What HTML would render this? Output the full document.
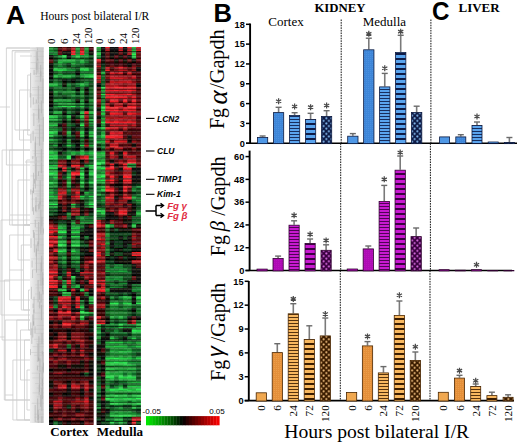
<!DOCTYPE html>
<html><head><meta charset="utf-8"><style>html,body{margin:0;padding:0;background:#fff;width:520px;height:446px;overflow:hidden}svg{display:block}</style></head>
<body><svg width="520" height="446" viewBox="0 0 520 446">
<defs><pattern id="b1" width="2" height="2" patternUnits="userSpaceOnUse"><rect width="2" height="2" fill="#3f86d8"/><rect width="1" height="1" fill="#5aa4ee" opacity="0.35"/></pattern><pattern id="b2" width="4" height="3" patternUnits="userSpaceOnUse"><rect width="4" height="3" fill="#5aa4ee"/><rect y="2" width="4" height="1" fill="#0d1a45" opacity="0.85"/></pattern><pattern id="b3" width="4" height="5" patternUnits="userSpaceOnUse"><rect width="4" height="5" fill="#5aa4ee"/><rect y="3" width="4" height="2" fill="#0d1a45"/></pattern><pattern id="b4" width="5.2" height="5.2" patternUnits="userSpaceOnUse"><rect width="5.2" height="5.2" fill="#0d1a45"/><circle cx="1.3" cy="1.3" r="1.0" fill="#8cc4fa"/><circle cx="3.9" cy="3.9" r="1.0" fill="#8cc4fa"/></pattern><pattern id="p1" width="2" height="2" patternUnits="userSpaceOnUse"><rect width="2" height="2" fill="#ae0cb4"/><rect width="1" height="1" fill="#c81ad0" opacity="0.35"/></pattern><pattern id="p2" width="4" height="3" patternUnits="userSpaceOnUse"><rect width="4" height="3" fill="#c81ad0"/><rect y="2" width="4" height="1" fill="#3a0040" opacity="0.85"/></pattern><pattern id="p3" width="4" height="5" patternUnits="userSpaceOnUse"><rect width="4" height="5" fill="#c81ad0"/><rect y="3" width="4" height="2" fill="#3a0040"/></pattern><pattern id="p4" width="5.2" height="5.2" patternUnits="userSpaceOnUse"><rect width="5.2" height="5.2" fill="#3a0040"/><circle cx="1.3" cy="1.3" r="1.0" fill="#e070e8"/><circle cx="3.9" cy="3.9" r="1.0" fill="#e070e8"/></pattern><pattern id="o1" width="2" height="2" patternUnits="userSpaceOnUse"><rect width="2" height="2" fill="#e48f3a"/><rect width="1" height="1" fill="#f8b860" opacity="0.35"/></pattern><pattern id="o2" width="4" height="3" patternUnits="userSpaceOnUse"><rect width="4" height="3" fill="#f8b860"/><rect y="2" width="4" height="1" fill="#3a1c00" opacity="0.85"/></pattern><pattern id="o3" width="4" height="5" patternUnits="userSpaceOnUse"><rect width="4" height="5" fill="#f8b860"/><rect y="3" width="4" height="2" fill="#3a1c00"/></pattern><pattern id="o4" width="5.2" height="5.2" patternUnits="userSpaceOnUse"><rect width="5.2" height="5.2" fill="#3a1c00"/><circle cx="1.3" cy="1.3" r="1.0" fill="#fcc886"/><circle cx="3.9" cy="3.9" r="1.0" fill="#fcc886"/></pattern><filter id="hb" x="0" y="0" width="1" height="1"><feGaussianBlur stdDeviation="0.55"/></filter></defs>
<rect width="520" height="446" fill="#fff"/>
<g filter="url(#hb)">
<g class="hm" transform="translate(49.0 47.0) scale(4.4200 1.3397)">
<rect x="0" y="0" width="1.1" height="1.15" fill="#146f26"/>
<rect x="0" y="1" width="1.1" height="1.15" fill="#1da137"/>
<rect x="0" y="2" width="1.1" height="1.15" fill="#146f26"/>
<rect x="1" y="0" width="1.1" height="1.15" fill="#093f16"/>
<rect x="1" y="1" width="1.1" height="1.15" fill="#127429"/>
<rect x="1" y="2" width="1.1" height="1.15" fill="#0c511d"/>
<rect x="2" y="0" width="1.1" height="1.15" fill="#300405"/>
<rect x="2" y="1" width="1.1" height="1.15" fill="#57080a"/>
<rect x="2" y="2" width="1.1" height="1.15" fill="#3e0607"/>
<rect x="3" y="0" width="1.1" height="1.15" fill="#650b0f"/>
<rect x="3" y="1" width="1.1" height="1.15" fill="#830f13"/>
<rect x="3" y="2" width="1.1" height="1.15" fill="#720d10"/>
<rect x="4" y="0" width="1.1" height="1.15" fill="#2f0405"/>
<rect x="4" y="1" width="1.1" height="1.15" fill="#4e0709"/>
<rect x="4" y="2" width="1.1" height="1.15" fill="#450608"/>
<rect x="5" y="0" width="1.1" height="1.15" fill="#821115"/>
<rect x="5" y="1" width="1.1" height="1.15" fill="#c71a20"/>
<rect x="5" y="2" width="1.1" height="1.15" fill="#a1151a"/>
<rect x="6" y="0" width="1.1" height="1.15" fill="#115e20"/>
<rect x="6" y="1" width="1.1" height="1.15" fill="#1fa739"/>
<rect x="6" y="2" width="1.1" height="1.15" fill="#18842d"/>
<rect x="7" y="0" width="1.1" height="1.15" fill="#790f13"/>
<rect x="7" y="1" width="1.1" height="1.15" fill="#9f141a"/>
<rect x="7" y="2" width="1.1" height="1.15" fill="#aa161b"/>
<rect x="8" y="0" width="1.1" height="1.15" fill="#136b24"/>
<rect x="8" y="1" width="1.1" height="1.15" fill="#1ea538"/>
<rect x="8" y="2" width="1.1" height="1.15" fill="#1a8f30"/>
<rect x="9" y="0" width="1.1" height="1.15" fill="#380506"/>
<rect x="9" y="1" width="1.1" height="1.15" fill="#55080a"/>
<rect x="9" y="2" width="1.1" height="1.15" fill="#3c0607"/>
<rect x="0" y="3" width="1.1" height="1.15" fill="#179434"/>
<rect x="0" y="4" width="1.1" height="1.15" fill="#0d541e"/>
<rect x="0" y="5" width="1.1" height="1.15" fill="#14832e"/>
<rect x="1" y="3" width="1.1" height="1.15" fill="#13792b"/>
<rect x="1" y="4" width="1.1" height="1.15" fill="#116d26"/>
<rect x="1" y="5" width="1.1" height="1.15" fill="#169033"/>
<rect x="2" y="3" width="1.1" height="1.15" fill="#62090b"/>
<rect x="2" y="4" width="1.1" height="1.15" fill="#400607"/>
<rect x="2" y="5" width="1.1" height="1.15" fill="#690a0c"/>
<rect x="3" y="3" width="1.1" height="1.15" fill="#0c0c09"/>
<rect x="3" y="4" width="1.1" height="1.15" fill="#090906"/>
<rect x="3" y="5" width="1.1" height="1.15" fill="#0f0f0a"/>
<rect x="4" y="3" width="1.1" height="1.15" fill="#0d0d09"/>
<rect x="4" y="4" width="1.1" height="1.15" fill="#0a0a07"/>
<rect x="4" y="5" width="1.1" height="1.15" fill="#0f0f0b"/>
<rect x="5" y="3" width="1.1" height="1.15" fill="#ff222a"/>
<rect x="5" y="4" width="1.1" height="1.15" fill="#b9181e"/>
<rect x="5" y="5" width="1.1" height="1.15" fill="#ff2630"/>
<rect x="6" y="3" width="1.1" height="1.15" fill="#158b31"/>
<rect x="6" y="4" width="1.1" height="1.15" fill="#0d561e"/>
<rect x="6" y="5" width="1.1" height="1.15" fill="#19a33a"/>
<rect x="7" y="3" width="1.1" height="1.15" fill="#ff222b"/>
<rect x="7" y="4" width="1.1" height="1.15" fill="#bb181e"/>
<rect x="7" y="5" width="1.1" height="1.15" fill="#ff222a"/>
<rect x="8" y="3" width="1.1" height="1.15" fill="#168d32"/>
<rect x="8" y="4" width="1.1" height="1.15" fill="#0d571f"/>
<rect x="8" y="5" width="1.1" height="1.15" fill="#19a139"/>
<rect x="9" y="3" width="1.1" height="1.15" fill="#0d0d09"/>
<rect x="9" y="4" width="1.1" height="1.15" fill="#080806"/>
<rect x="9" y="5" width="1.1" height="1.15" fill="#0c0c09"/>
<rect x="0" y="6" width="1.1" height="1.15" fill="#0f0f0a"/>
<rect x="0" y="7" width="1.1" height="1.15" fill="#0e0e0a"/>
<rect x="0" y="8" width="1.1" height="1.15" fill="#050503"/>
<rect x="1" y="6" width="1.1" height="1.15" fill="#0b481a"/>
<rect x="1" y="7" width="1.1" height="1.15" fill="#0e5c21"/>
<rect x="1" y="8" width="1.1" height="1.15" fill="#05240c"/>
<rect x="2" y="6" width="1.1" height="1.15" fill="#12772a"/>
<rect x="2" y="7" width="1.1" height="1.15" fill="#189e38"/>
<rect x="2" y="8" width="1.1" height="1.15" fill="#073211"/>
<rect x="3" y="6" width="1.1" height="1.15" fill="#28d849"/>
<rect x="3" y="7" width="1.1" height="1.15" fill="#27d448"/>
<rect x="3" y="8" width="1.1" height="1.15" fill="#115f20"/>
<rect x="4" y="6" width="1.1" height="1.15" fill="#0f0f0b"/>
<rect x="4" y="7" width="1.1" height="1.15" fill="#0f0f0a"/>
<rect x="4" y="8" width="1.1" height="1.15" fill="#060604"/>
<rect x="5" y="6" width="1.1" height="1.15" fill="#14822e"/>
<rect x="5" y="7" width="1.1" height="1.15" fill="#14852f"/>
<rect x="5" y="8" width="1.1" height="1.15" fill="#093c15"/>
<rect x="6" y="6" width="1.1" height="1.15" fill="#20ae3b"/>
<rect x="6" y="7" width="1.1" height="1.15" fill="#25cb45"/>
<rect x="6" y="8" width="1.1" height="1.15" fill="#0f531c"/>
<rect x="7" y="6" width="1.1" height="1.15" fill="#168f33"/>
<rect x="7" y="7" width="1.1" height="1.15" fill="#158930"/>
<rect x="7" y="8" width="1.1" height="1.15" fill="#073211"/>
<rect x="8" y="6" width="1.1" height="1.15" fill="#189936"/>
<rect x="8" y="7" width="1.1" height="1.15" fill="#169033"/>
<rect x="8" y="8" width="1.1" height="1.15" fill="#0a4217"/>
<rect x="9" y="6" width="1.1" height="1.15" fill="#0d561f"/>
<rect x="9" y="7" width="1.1" height="1.15" fill="#0c521d"/>
<rect x="9" y="8" width="1.1" height="1.15" fill="#04200b"/>
<rect x="0" y="9" width="1.1" height="1.15" fill="#4b0709"/>
<rect x="0" y="10" width="1.1" height="1.15" fill="#56080a"/>
<rect x="0" y="11" width="1.1" height="1.15" fill="#5a090a"/>
<rect x="1" y="9" width="1.1" height="1.15" fill="#083914"/>
<rect x="1" y="10" width="1.1" height="1.15" fill="#093f16"/>
<rect x="1" y="11" width="1.1" height="1.15" fill="#0a4217"/>
<rect x="2" y="9" width="1.1" height="1.15" fill="#198b2f"/>
<rect x="2" y="10" width="1.1" height="1.15" fill="#1da036"/>
<rect x="2" y="11" width="1.1" height="1.15" fill="#22ba3f"/>
<rect x="3" y="9" width="1.1" height="1.15" fill="#1c9834"/>
<rect x="3" y="10" width="1.1" height="1.15" fill="#20ad3b"/>
<rect x="3" y="11" width="1.1" height="1.15" fill="#198b2f"/>
<rect x="4" y="9" width="1.1" height="1.15" fill="#1b9332"/>
<rect x="4" y="10" width="1.1" height="1.15" fill="#20ae3b"/>
<rect x="4" y="11" width="1.1" height="1.15" fill="#198b2f"/>
<rect x="5" y="9" width="1.1" height="1.15" fill="#1d9c35"/>
<rect x="5" y="10" width="1.1" height="1.15" fill="#20b13c"/>
<rect x="5" y="11" width="1.1" height="1.15" fill="#1a8d30"/>
<rect x="6" y="9" width="1.1" height="1.15" fill="#106b26"/>
<rect x="6" y="10" width="1.1" height="1.15" fill="#127329"/>
<rect x="6" y="11" width="1.1" height="1.15" fill="#127529"/>
<rect x="7" y="9" width="1.1" height="1.15" fill="#1a9131"/>
<rect x="7" y="10" width="1.1" height="1.15" fill="#21b53d"/>
<rect x="7" y="11" width="1.1" height="1.15" fill="#20ae3b"/>
<rect x="8" y="9" width="1.1" height="1.15" fill="#0d581f"/>
<rect x="8" y="10" width="1.1" height="1.15" fill="#0f6524"/>
<rect x="8" y="11" width="1.1" height="1.15" fill="#127529"/>
<rect x="9" y="9" width="1.1" height="1.15" fill="#0a4117"/>
<rect x="9" y="10" width="1.1" height="1.15" fill="#093c15"/>
<rect x="9" y="11" width="1.1" height="1.15" fill="#093d16"/>
<rect x="0" y="12" width="1.1" height="1.15" fill="#0a0a07"/>
<rect x="0" y="13" width="1.1" height="1.15" fill="#070705"/>
<rect x="0" y="14" width="1.1" height="1.15" fill="#080806"/>
<rect x="1" y="12" width="1.1" height="1.15" fill="#106825"/>
<rect x="1" y="13" width="1.1" height="1.15" fill="#0c4f1c"/>
<rect x="1" y="14" width="1.1" height="1.15" fill="#0e5e21"/>
<rect x="2" y="12" width="1.1" height="1.15" fill="#198b2f"/>
<rect x="2" y="13" width="1.1" height="1.15" fill="#167b2a"/>
<rect x="2" y="14" width="1.1" height="1.15" fill="#19882e"/>
<rect x="3" y="12" width="1.1" height="1.15" fill="#106825"/>
<rect x="3" y="13" width="1.1" height="1.15" fill="#0b4b1b"/>
<rect x="3" y="14" width="1.1" height="1.15" fill="#0e5f21"/>
<rect x="4" y="12" width="1.1" height="1.15" fill="#083914"/>
<rect x="4" y="13" width="1.1" height="1.15" fill="#06290e"/>
<rect x="4" y="14" width="1.1" height="1.15" fill="#072f11"/>
<rect x="5" y="12" width="1.1" height="1.15" fill="#1fac3a"/>
<rect x="5" y="13" width="1.1" height="1.15" fill="#136a24"/>
<rect x="5" y="14" width="1.1" height="1.15" fill="#167829"/>
<rect x="6" y="12" width="1.1" height="1.15" fill="#106925"/>
<rect x="6" y="13" width="1.1" height="1.15" fill="#0e5a20"/>
<rect x="6" y="14" width="1.1" height="1.15" fill="#0d551e"/>
<rect x="7" y="12" width="1.1" height="1.15" fill="#137b2b"/>
<rect x="7" y="13" width="1.1" height="1.15" fill="#0b4a1a"/>
<rect x="7" y="14" width="1.1" height="1.15" fill="#0d521d"/>
<rect x="8" y="12" width="1.1" height="1.15" fill="#094017"/>
<rect x="8" y="13" width="1.1" height="1.15" fill="#073312"/>
<rect x="8" y="14" width="1.1" height="1.15" fill="#072f11"/>
<rect x="9" y="12" width="1.1" height="1.15" fill="#083814"/>
<rect x="9" y="13" width="1.1" height="1.15" fill="#06280e"/>
<rect x="9" y="14" width="1.1" height="1.15" fill="#073111"/>
<rect x="0" y="15" width="1.1" height="1.15" fill="#060604"/>
<rect x="0" y="16" width="1.1" height="1.15" fill="#0c0c08"/>
<rect x="0" y="17" width="1.1" height="1.15" fill="#0e0e0a"/>
<rect x="1" y="15" width="1.1" height="1.15" fill="#136923"/>
<rect x="1" y="16" width="1.1" height="1.15" fill="#27d548"/>
<rect x="1" y="17" width="1.1" height="1.15" fill="#23bf41"/>
<rect x="2" y="15" width="1.1" height="1.15" fill="#10591e"/>
<rect x="2" y="16" width="1.1" height="1.15" fill="#22b73e"/>
<rect x="2" y="17" width="1.1" height="1.15" fill="#28da4a"/>
<rect x="3" y="15" width="1.1" height="1.15" fill="#115e20"/>
<rect x="3" y="16" width="1.1" height="1.15" fill="#22ba3f"/>
<rect x="3" y="17" width="1.1" height="1.15" fill="#24c342"/>
<rect x="4" y="15" width="1.1" height="1.15" fill="#0a4318"/>
<rect x="4" y="16" width="1.1" height="1.15" fill="#14822e"/>
<rect x="4" y="17" width="1.1" height="1.15" fill="#189a37"/>
<rect x="5" y="15" width="1.1" height="1.15" fill="#093d16"/>
<rect x="5" y="16" width="1.1" height="1.15" fill="#117128"/>
<rect x="5" y="17" width="1.1" height="1.15" fill="#189b37"/>
<rect x="6" y="15" width="1.1" height="1.15" fill="#062a0f"/>
<rect x="6" y="16" width="1.1" height="1.15" fill="#0d551e"/>
<rect x="6" y="17" width="1.1" height="1.15" fill="#0b4a1a"/>
<rect x="7" y="15" width="1.1" height="1.15" fill="#157227"/>
<rect x="7" y="16" width="1.1" height="1.15" fill="#28dc4b"/>
<rect x="7" y="17" width="1.1" height="1.15" fill="#22b73e"/>
<rect x="8" y="15" width="1.1" height="1.15" fill="#146c25"/>
<rect x="8" y="16" width="1.1" height="1.15" fill="#27d749"/>
<rect x="8" y="17" width="1.1" height="1.15" fill="#27d247"/>
<rect x="9" y="15" width="1.1" height="1.15" fill="#0a4518"/>
<rect x="9" y="16" width="1.1" height="1.15" fill="#137d2c"/>
<rect x="9" y="17" width="1.1" height="1.15" fill="#14822e"/>
<rect x="0" y="18" width="1.1" height="1.15" fill="#060604"/>
<rect x="0" y="19" width="1.1" height="1.15" fill="#060604"/>
<rect x="0" y="20" width="1.1" height="1.15" fill="#090906"/>
<rect x="1" y="18" width="1.1" height="1.15" fill="#0c511d"/>
<rect x="1" y="19" width="1.1" height="1.15" fill="#093b15"/>
<rect x="1" y="20" width="1.1" height="1.15" fill="#137c2c"/>
<rect x="2" y="18" width="1.1" height="1.15" fill="#167728"/>
<rect x="2" y="19" width="1.1" height="1.15" fill="#115c1f"/>
<rect x="2" y="20" width="1.1" height="1.15" fill="#1ea638"/>
<rect x="3" y="18" width="1.1" height="1.15" fill="#093e16"/>
<rect x="3" y="19" width="1.1" height="1.15" fill="#093c15"/>
<rect x="3" y="20" width="1.1" height="1.15" fill="#0f6323"/>
<rect x="4" y="18" width="1.1" height="1.15" fill="#0a4418"/>
<rect x="4" y="19" width="1.1" height="1.15" fill="#093a15"/>
<rect x="4" y="20" width="1.1" height="1.15" fill="#116f27"/>
<rect x="5" y="18" width="1.1" height="1.15" fill="#0b4619"/>
<rect x="5" y="19" width="1.1" height="1.15" fill="#093f16"/>
<rect x="5" y="20" width="1.1" height="1.15" fill="#117228"/>
<rect x="6" y="18" width="1.1" height="1.15" fill="#060604"/>
<rect x="6" y="19" width="1.1" height="1.15" fill="#050503"/>
<rect x="6" y="20" width="1.1" height="1.15" fill="#0c0c08"/>
<rect x="7" y="18" width="1.1" height="1.15" fill="#136924"/>
<rect x="7" y="19" width="1.1" height="1.15" fill="#10591e"/>
<rect x="7" y="20" width="1.1" height="1.15" fill="#1c9b34"/>
<rect x="8" y="18" width="1.1" height="1.15" fill="#116121"/>
<rect x="8" y="19" width="1.1" height="1.15" fill="#0f531c"/>
<rect x="8" y="20" width="1.1" height="1.15" fill="#20b13c"/>
<rect x="9" y="18" width="1.1" height="1.15" fill="#116020"/>
<rect x="9" y="19" width="1.1" height="1.15" fill="#10591e"/>
<rect x="9" y="20" width="1.1" height="1.15" fill="#21b63e"/>
<rect x="0" y="21" width="1.1" height="1.15" fill="#0d0d09"/>
<rect x="0" y="22" width="1.1" height="1.15" fill="#0f0f0a"/>
<rect x="0" y="23" width="1.1" height="1.15" fill="#040403"/>
<rect x="1" y="21" width="1.1" height="1.15" fill="#21b63e"/>
<rect x="1" y="22" width="1.1" height="1.15" fill="#22b83f"/>
<rect x="1" y="23" width="1.1" height="1.15" fill="#0d4919"/>
<rect x="2" y="21" width="1.1" height="1.15" fill="#14822e"/>
<rect x="2" y="22" width="1.1" height="1.15" fill="#15862f"/>
<rect x="2" y="23" width="1.1" height="1.15" fill="#083513"/>
<rect x="3" y="21" width="1.1" height="1.15" fill="#1ea638"/>
<rect x="3" y="22" width="1.1" height="1.15" fill="#1fab3a"/>
<rect x="3" y="23" width="1.1" height="1.15" fill="#0c4016"/>
<rect x="4" y="21" width="1.1" height="1.15" fill="#20ad3b"/>
<rect x="4" y="22" width="1.1" height="1.15" fill="#20ac3a"/>
<rect x="4" y="23" width="1.1" height="1.15" fill="#0f531c"/>
<rect x="5" y="21" width="1.1" height="1.15" fill="#179334"/>
<rect x="5" y="22" width="1.1" height="1.15" fill="#12762a"/>
<rect x="5" y="23" width="1.1" height="1.15" fill="#073111"/>
<rect x="6" y="21" width="1.1" height="1.15" fill="#0a4619"/>
<rect x="6" y="22" width="1.1" height="1.15" fill="#0a4719"/>
<rect x="6" y="23" width="1.1" height="1.15" fill="#041a09"/>
<rect x="7" y="21" width="1.1" height="1.15" fill="#158b31"/>
<rect x="7" y="22" width="1.1" height="1.15" fill="#158a31"/>
<rect x="7" y="23" width="1.1" height="1.15" fill="#072f11"/>
<rect x="8" y="21" width="1.1" height="1.15" fill="#20b13c"/>
<rect x="8" y="22" width="1.1" height="1.15" fill="#22bc40"/>
<rect x="8" y="23" width="1.1" height="1.15" fill="#0b4016"/>
<rect x="9" y="21" width="1.1" height="1.15" fill="#24c643"/>
<rect x="9" y="22" width="1.1" height="1.15" fill="#27d348"/>
<rect x="9" y="23" width="1.1" height="1.15" fill="#0d4617"/>
<rect x="0" y="24" width="1.1" height="1.15" fill="#05200b"/>
<rect x="0" y="25" width="1.1" height="1.15" fill="#06280e"/>
<rect x="0" y="26" width="1.1" height="1.15" fill="#072f11"/>
<rect x="1" y="24" width="1.1" height="1.15" fill="#105b1f"/>
<rect x="1" y="25" width="1.1" height="1.15" fill="#136623"/>
<rect x="1" y="26" width="1.1" height="1.15" fill="#177e2b"/>
<rect x="2" y="24" width="1.1" height="1.15" fill="#083713"/>
<rect x="2" y="25" width="1.1" height="1.15" fill="#0a4318"/>
<rect x="2" y="26" width="1.1" height="1.15" fill="#0e5d21"/>
<rect x="3" y="24" width="1.1" height="1.15" fill="#050504"/>
<rect x="3" y="25" width="1.1" height="1.15" fill="#070705"/>
<rect x="3" y="26" width="1.1" height="1.15" fill="#080806"/>
<rect x="4" y="24" width="1.1" height="1.15" fill="#041d0a"/>
<rect x="4" y="25" width="1.1" height="1.15" fill="#05260d"/>
<rect x="4" y="26" width="1.1" height="1.15" fill="#083412"/>
<rect x="5" y="24" width="1.1" height="1.15" fill="#050503"/>
<rect x="5" y="25" width="1.1" height="1.15" fill="#060604"/>
<rect x="5" y="26" width="1.1" height="1.15" fill="#080806"/>
<rect x="6" y="24" width="1.1" height="1.15" fill="#05230c"/>
<rect x="6" y="25" width="1.1" height="1.15" fill="#062a0f"/>
<rect x="6" y="26" width="1.1" height="1.15" fill="#072f10"/>
<rect x="7" y="24" width="1.1" height="1.15" fill="#0a4016"/>
<rect x="7" y="25" width="1.1" height="1.15" fill="#0b491a"/>
<rect x="7" y="26" width="1.1" height="1.15" fill="#0c511d"/>
<rect x="8" y="24" width="1.1" height="1.15" fill="#0f531c"/>
<rect x="8" y="25" width="1.1" height="1.15" fill="#10571e"/>
<rect x="8" y="26" width="1.1" height="1.15" fill="#1a8d30"/>
<rect x="9" y="24" width="1.1" height="1.15" fill="#093c15"/>
<rect x="9" y="25" width="1.1" height="1.15" fill="#0b4b1b"/>
<rect x="9" y="26" width="1.1" height="1.15" fill="#0f5f22"/>
<rect x="0" y="27" width="1.1" height="1.15" fill="#1c9934"/>
<rect x="0" y="28" width="1.1" height="1.15" fill="#23bd40"/>
<rect x="0" y="29" width="1.1" height="1.15" fill="#19862e"/>
<rect x="1" y="27" width="1.1" height="1.15" fill="#1c9b35"/>
<rect x="1" y="28" width="1.1" height="1.15" fill="#25c744"/>
<rect x="1" y="29" width="1.1" height="1.15" fill="#19882e"/>
<rect x="2" y="27" width="1.1" height="1.15" fill="#106825"/>
<rect x="2" y="28" width="1.1" height="1.15" fill="#116e27"/>
<rect x="2" y="29" width="1.1" height="1.15" fill="#12782b"/>
<rect x="3" y="27" width="1.1" height="1.15" fill="#0a0a07"/>
<rect x="3" y="28" width="1.1" height="1.15" fill="#0a0a07"/>
<rect x="3" y="29" width="1.1" height="1.15" fill="#0b0b08"/>
<rect x="4" y="27" width="1.1" height="1.15" fill="#106925"/>
<rect x="4" y="28" width="1.1" height="1.15" fill="#158b31"/>
<rect x="4" y="29" width="1.1" height="1.15" fill="#117128"/>
<rect x="5" y="27" width="1.1" height="1.15" fill="#0b491a"/>
<rect x="5" y="28" width="1.1" height="1.15" fill="#0c4f1c"/>
<rect x="5" y="29" width="1.1" height="1.15" fill="#093d16"/>
<rect x="6" y="27" width="1.1" height="1.15" fill="#14812e"/>
<rect x="6" y="28" width="1.1" height="1.15" fill="#116c26"/>
<rect x="6" y="29" width="1.1" height="1.15" fill="#127429"/>
<rect x="7" y="27" width="1.1" height="1.15" fill="#20ae3b"/>
<rect x="7" y="28" width="1.1" height="1.15" fill="#24c443"/>
<rect x="7" y="29" width="1.1" height="1.15" fill="#198b2f"/>
<rect x="8" y="27" width="1.1" height="1.15" fill="#147f2d"/>
<rect x="8" y="28" width="1.1" height="1.15" fill="#168e32"/>
<rect x="8" y="29" width="1.1" height="1.15" fill="#0e5d21"/>
<rect x="9" y="27" width="1.1" height="1.15" fill="#093e16"/>
<rect x="9" y="28" width="1.1" height="1.15" fill="#0b4719"/>
<rect x="9" y="29" width="1.1" height="1.15" fill="#0a4217"/>
<rect x="0" y="30" width="1.1" height="1.15" fill="#062a0f"/>
<rect x="0" y="31" width="1.1" height="1.15" fill="#06280e"/>
<rect x="0" y="32" width="1.1" height="1.15" fill="#06280e"/>
<rect x="1" y="30" width="1.1" height="1.15" fill="#136823"/>
<rect x="1" y="31" width="1.1" height="1.15" fill="#116020"/>
<rect x="1" y="32" width="1.1" height="1.15" fill="#136923"/>
<rect x="2" y="30" width="1.1" height="1.15" fill="#136a24"/>
<rect x="2" y="31" width="1.1" height="1.15" fill="#10561d"/>
<rect x="2" y="32" width="1.1" height="1.15" fill="#146e25"/>
<rect x="3" y="30" width="1.1" height="1.15" fill="#0d541e"/>
<rect x="3" y="31" width="1.1" height="1.15" fill="#0a4217"/>
<rect x="3" y="32" width="1.1" height="1.15" fill="#0c501c"/>
<rect x="4" y="30" width="1.1" height="1.15" fill="#126121"/>
<rect x="4" y="31" width="1.1" height="1.15" fill="#136923"/>
<rect x="4" y="32" width="1.1" height="1.15" fill="#157628"/>
<rect x="5" y="30" width="1.1" height="1.15" fill="#0c4e1b"/>
<rect x="5" y="31" width="1.1" height="1.15" fill="#0a4418"/>
<rect x="5" y="32" width="1.1" height="1.15" fill="#0b4a1a"/>
<rect x="6" y="30" width="1.1" height="1.15" fill="#070705"/>
<rect x="6" y="31" width="1.1" height="1.15" fill="#070705"/>
<rect x="6" y="32" width="1.1" height="1.15" fill="#060604"/>
<rect x="7" y="30" width="1.1" height="1.15" fill="#115f20"/>
<rect x="7" y="31" width="1.1" height="1.15" fill="#136a24"/>
<rect x="7" y="32" width="1.1" height="1.15" fill="#167b2a"/>
<rect x="8" y="30" width="1.1" height="1.15" fill="#070705"/>
<rect x="8" y="31" width="1.1" height="1.15" fill="#060604"/>
<rect x="8" y="32" width="1.1" height="1.15" fill="#080805"/>
<rect x="9" y="30" width="1.1" height="1.15" fill="#126221"/>
<rect x="9" y="31" width="1.1" height="1.15" fill="#115c1f"/>
<rect x="9" y="32" width="1.1" height="1.15" fill="#126422"/>
<rect x="0" y="33" width="1.1" height="1.15" fill="#0b0b08"/>
<rect x="0" y="34" width="1.1" height="1.15" fill="#090906"/>
<rect x="0" y="35" width="1.1" height="1.15" fill="#060604"/>
<rect x="1" y="33" width="1.1" height="1.15" fill="#1fab3a"/>
<rect x="1" y="34" width="1.1" height="1.15" fill="#157527"/>
<rect x="1" y="35" width="1.1" height="1.15" fill="#167628"/>
<rect x="2" y="33" width="1.1" height="1.15" fill="#117128"/>
<rect x="2" y="34" width="1.1" height="1.15" fill="#0b4c1b"/>
<rect x="2" y="35" width="1.1" height="1.15" fill="#0a4317"/>
<rect x="3" y="33" width="1.1" height="1.15" fill="#198a2f"/>
<rect x="3" y="34" width="1.1" height="1.15" fill="#167728"/>
<rect x="3" y="35" width="1.1" height="1.15" fill="#136723"/>
<rect x="4" y="33" width="1.1" height="1.15" fill="#1b9131"/>
<rect x="4" y="34" width="1.1" height="1.15" fill="#157327"/>
<rect x="4" y="35" width="1.1" height="1.15" fill="#126522"/>
<rect x="5" y="33" width="1.1" height="1.15" fill="#20af3b"/>
<rect x="5" y="34" width="1.1" height="1.15" fill="#136b24"/>
<rect x="5" y="35" width="1.1" height="1.15" fill="#167b2a"/>
<rect x="6" y="33" width="1.1" height="1.15" fill="#093d15"/>
<rect x="6" y="34" width="1.1" height="1.15" fill="#072f10"/>
<rect x="6" y="35" width="1.1" height="1.15" fill="#06280e"/>
<rect x="7" y="33" width="1.1" height="1.15" fill="#21b23c"/>
<rect x="7" y="34" width="1.1" height="1.15" fill="#18832c"/>
<rect x="7" y="35" width="1.1" height="1.15" fill="#146d25"/>
<rect x="8" y="33" width="1.1" height="1.15" fill="#0a0a07"/>
<rect x="8" y="34" width="1.1" height="1.15" fill="#080806"/>
<rect x="8" y="35" width="1.1" height="1.15" fill="#080805"/>
<rect x="9" y="33" width="1.1" height="1.15" fill="#106b26"/>
<rect x="9" y="34" width="1.1" height="1.15" fill="#0d571f"/>
<rect x="9" y="35" width="1.1" height="1.15" fill="#0d531d"/>
<rect x="0" y="36" width="1.1" height="1.15" fill="#0a0a07"/>
<rect x="0" y="37" width="1.1" height="1.15" fill="#070705"/>
<rect x="0" y="38" width="1.1" height="1.15" fill="#080805"/>
<rect x="1" y="36" width="1.1" height="1.15" fill="#116c26"/>
<rect x="1" y="37" width="1.1" height="1.15" fill="#0a4318"/>
<rect x="1" y="38" width="1.1" height="1.15" fill="#0a4217"/>
<rect x="2" y="36" width="1.1" height="1.15" fill="#0e5a20"/>
<rect x="2" y="37" width="1.1" height="1.15" fill="#0a4217"/>
<rect x="2" y="38" width="1.1" height="1.15" fill="#0c4e1b"/>
<rect x="3" y="36" width="1.1" height="1.15" fill="#093c15"/>
<rect x="3" y="37" width="1.1" height="1.15" fill="#072d10"/>
<rect x="3" y="38" width="1.1" height="1.15" fill="#05260d"/>
<rect x="4" y="36" width="1.1" height="1.15" fill="#116c26"/>
<rect x="4" y="37" width="1.1" height="1.15" fill="#0a4518"/>
<rect x="4" y="38" width="1.1" height="1.15" fill="#0b4719"/>
<rect x="5" y="36" width="1.1" height="1.15" fill="#1c9934"/>
<rect x="5" y="37" width="1.1" height="1.15" fill="#115d20"/>
<rect x="5" y="38" width="1.1" height="1.15" fill="#115e20"/>
<rect x="6" y="36" width="1.1" height="1.15" fill="#106b26"/>
<rect x="6" y="37" width="1.1" height="1.15" fill="#0a4418"/>
<rect x="6" y="38" width="1.1" height="1.15" fill="#0b4619"/>
<rect x="7" y="36" width="1.1" height="1.15" fill="#1b9332"/>
<rect x="7" y="37" width="1.1" height="1.15" fill="#147026"/>
<rect x="7" y="38" width="1.1" height="1.15" fill="#115b1f"/>
<rect x="8" y="36" width="1.1" height="1.15" fill="#073312"/>
<rect x="8" y="37" width="1.1" height="1.15" fill="#06270e"/>
<rect x="8" y="38" width="1.1" height="1.15" fill="#06280e"/>
<rect x="9" y="36" width="1.1" height="1.15" fill="#0e591f"/>
<rect x="9" y="37" width="1.1" height="1.15" fill="#0b4a1a"/>
<rect x="9" y="38" width="1.1" height="1.15" fill="#0d531d"/>
<rect x="0" y="39" width="1.1" height="1.15" fill="#080805"/>
<rect x="0" y="40" width="1.1" height="1.15" fill="#0b0b07"/>
<rect x="0" y="41" width="1.1" height="1.15" fill="#050503"/>
<rect x="1" y="39" width="1.1" height="1.15" fill="#1b9332"/>
<rect x="1" y="40" width="1.1" height="1.15" fill="#20ae3b"/>
<rect x="1" y="41" width="1.1" height="1.15" fill="#0e4f1b"/>
<rect x="2" y="39" width="1.1" height="1.15" fill="#1b9532"/>
<rect x="2" y="40" width="1.1" height="1.15" fill="#1b9533"/>
<rect x="2" y="41" width="1.1" height="1.15" fill="#126121"/>
<rect x="3" y="39" width="1.1" height="1.15" fill="#1a8e30"/>
<rect x="3" y="40" width="1.1" height="1.15" fill="#1b9131"/>
<rect x="3" y="41" width="1.1" height="1.15" fill="#115e20"/>
<rect x="4" y="39" width="1.1" height="1.15" fill="#19892f"/>
<rect x="4" y="40" width="1.1" height="1.15" fill="#1fa939"/>
<rect x="4" y="41" width="1.1" height="1.15" fill="#0f531c"/>
<rect x="5" y="39" width="1.1" height="1.15" fill="#0f6022"/>
<rect x="5" y="40" width="1.1" height="1.15" fill="#12782b"/>
<rect x="5" y="41" width="1.1" height="1.15" fill="#0a4017"/>
<rect x="6" y="39" width="1.1" height="1.15" fill="#090906"/>
<rect x="6" y="40" width="1.1" height="1.15" fill="#090906"/>
<rect x="6" y="41" width="1.1" height="1.15" fill="#060604"/>
<rect x="7" y="39" width="1.1" height="1.15" fill="#177e2b"/>
<rect x="7" y="40" width="1.1" height="1.15" fill="#1ea538"/>
<rect x="7" y="41" width="1.1" height="1.15" fill="#115e20"/>
<rect x="8" y="39" width="1.1" height="1.15" fill="#090906"/>
<rect x="8" y="40" width="1.1" height="1.15" fill="#090906"/>
<rect x="8" y="41" width="1.1" height="1.15" fill="#060604"/>
<rect x="9" y="39" width="1.1" height="1.15" fill="#19892e"/>
<rect x="9" y="40" width="1.1" height="1.15" fill="#1a8c2f"/>
<rect x="9" y="41" width="1.1" height="1.15" fill="#126422"/>
<rect x="0" y="42" width="1.1" height="1.15" fill="#0a0a07"/>
<rect x="0" y="43" width="1.1" height="1.15" fill="#050504"/>
<rect x="0" y="44" width="1.1" height="1.15" fill="#0f0f0b"/>
<rect x="1" y="42" width="1.1" height="1.15" fill="#13792b"/>
<rect x="1" y="43" width="1.1" height="1.15" fill="#093e16"/>
<rect x="1" y="44" width="1.1" height="1.15" fill="#189936"/>
<rect x="2" y="42" width="1.1" height="1.15" fill="#1faa3a"/>
<rect x="2" y="43" width="1.1" height="1.15" fill="#0f551d"/>
<rect x="2" y="44" width="1.1" height="1.15" fill="#23c242"/>
<rect x="3" y="42" width="1.1" height="1.15" fill="#1b9633"/>
<rect x="3" y="43" width="1.1" height="1.15" fill="#116020"/>
<rect x="3" y="44" width="1.1" height="1.15" fill="#2ae74f"/>
<rect x="4" y="42" width="1.1" height="1.15" fill="#20ae3b"/>
<rect x="4" y="43" width="1.1" height="1.15" fill="#126121"/>
<rect x="4" y="44" width="1.1" height="1.15" fill="#26cd46"/>
<rect x="5" y="42" width="1.1" height="1.15" fill="#1da036"/>
<rect x="5" y="43" width="1.1" height="1.15" fill="#10571d"/>
<rect x="5" y="44" width="1.1" height="1.15" fill="#2cef51"/>
<rect x="6" y="42" width="1.1" height="1.15" fill="#0f6524"/>
<rect x="6" y="43" width="1.1" height="1.15" fill="#093e16"/>
<rect x="6" y="44" width="1.1" height="1.15" fill="#158730"/>
<rect x="7" y="42" width="1.1" height="1.15" fill="#22ba3f"/>
<rect x="7" y="43" width="1.1" height="1.15" fill="#10561d"/>
<rect x="7" y="44" width="1.1" height="1.15" fill="#25cc45"/>
<rect x="8" y="42" width="1.1" height="1.15" fill="#093f16"/>
<rect x="8" y="43" width="1.1" height="1.15" fill="#05220c"/>
<rect x="8" y="44" width="1.1" height="1.15" fill="#0d581f"/>
<rect x="9" y="42" width="1.1" height="1.15" fill="#117028"/>
<rect x="9" y="43" width="1.1" height="1.15" fill="#0a4418"/>
<rect x="9" y="44" width="1.1" height="1.15" fill="#14812e"/>
<rect x="0" y="45" width="1.1" height="1.15" fill="#072e10"/>
<rect x="0" y="46" width="1.1" height="1.15" fill="#05230c"/>
<rect x="0" y="47" width="1.1" height="1.15" fill="#041e0b"/>
<rect x="1" y="45" width="1.1" height="1.15" fill="#136623"/>
<rect x="1" y="46" width="1.1" height="1.15" fill="#0f541c"/>
<rect x="1" y="47" width="1.1" height="1.15" fill="#115f20"/>
<rect x="2" y="45" width="1.1" height="1.15" fill="#0d541e"/>
<rect x="2" y="46" width="1.1" height="1.15" fill="#0a3f16"/>
<rect x="2" y="47" width="1.1" height="1.15" fill="#093e16"/>
<rect x="3" y="45" width="1.1" height="1.15" fill="#05260d"/>
<rect x="3" y="46" width="1.1" height="1.15" fill="#04200b"/>
<rect x="3" y="47" width="1.1" height="1.15" fill="#041e0b"/>
<rect x="4" y="45" width="1.1" height="1.15" fill="#157227"/>
<rect x="4" y="46" width="1.1" height="1.15" fill="#10581e"/>
<rect x="4" y="47" width="1.1" height="1.15" fill="#0f511b"/>
<rect x="5" y="45" width="1.1" height="1.15" fill="#0b4719"/>
<rect x="5" y="46" width="1.1" height="1.15" fill="#0a4017"/>
<rect x="5" y="47" width="1.1" height="1.15" fill="#083412"/>
<rect x="6" y="45" width="1.1" height="1.15" fill="#072f10"/>
<rect x="6" y="46" width="1.1" height="1.15" fill="#05250d"/>
<rect x="6" y="47" width="1.1" height="1.15" fill="#05260d"/>
<rect x="7" y="45" width="1.1" height="1.15" fill="#146d25"/>
<rect x="7" y="46" width="1.1" height="1.15" fill="#10581e"/>
<rect x="7" y="47" width="1.1" height="1.15" fill="#105b1f"/>
<rect x="8" y="45" width="1.1" height="1.15" fill="#080805"/>
<rect x="8" y="46" width="1.1" height="1.15" fill="#060604"/>
<rect x="8" y="47" width="1.1" height="1.15" fill="#060604"/>
<rect x="9" y="45" width="1.1" height="1.15" fill="#136a24"/>
<rect x="9" y="46" width="1.1" height="1.15" fill="#116020"/>
<rect x="9" y="47" width="1.1" height="1.15" fill="#10581e"/>
<rect x="0" y="48" width="1.1" height="1.15" fill="#0a4318"/>
<rect x="0" y="49" width="1.1" height="1.15" fill="#0b491a"/>
<rect x="0" y="50" width="1.1" height="1.15" fill="#041b09"/>
<rect x="1" y="48" width="1.1" height="1.15" fill="#1ea538"/>
<rect x="1" y="49" width="1.1" height="1.15" fill="#21b53d"/>
<rect x="1" y="50" width="1.1" height="1.15" fill="#0c4116"/>
<rect x="2" y="48" width="1.1" height="1.15" fill="#1ea538"/>
<rect x="2" y="49" width="1.1" height="1.15" fill="#1d9e35"/>
<rect x="2" y="50" width="1.1" height="1.15" fill="#0d4818"/>
<rect x="3" y="48" width="1.1" height="1.15" fill="#0b0b08"/>
<rect x="3" y="49" width="1.1" height="1.15" fill="#0c0c08"/>
<rect x="3" y="50" width="1.1" height="1.15" fill="#050503"/>
<rect x="4" y="48" width="1.1" height="1.15" fill="#147f2d"/>
<rect x="4" y="49" width="1.1" height="1.15" fill="#168c32"/>
<rect x="4" y="50" width="1.1" height="1.15" fill="#062b0f"/>
<rect x="5" y="48" width="1.1" height="1.15" fill="#0a4318"/>
<rect x="5" y="49" width="1.1" height="1.15" fill="#0b4819"/>
<rect x="5" y="50" width="1.1" height="1.15" fill="#031708"/>
<rect x="6" y="48" width="1.1" height="1.15" fill="#0a0a07"/>
<rect x="6" y="49" width="1.1" height="1.15" fill="#0b0b08"/>
<rect x="6" y="50" width="1.1" height="1.15" fill="#040403"/>
<rect x="7" y="48" width="1.1" height="1.15" fill="#1ea638"/>
<rect x="7" y="49" width="1.1" height="1.15" fill="#26cf46"/>
<rect x="7" y="50" width="1.1" height="1.15" fill="#0c4417"/>
<rect x="8" y="48" width="1.1" height="1.15" fill="#da1c23"/>
<rect x="8" y="49" width="1.1" height="1.15" fill="#e81e25"/>
<rect x="8" y="50" width="1.1" height="1.15" fill="#4c0a0c"/>
<rect x="9" y="48" width="1.1" height="1.15" fill="#21b53e"/>
<rect x="9" y="49" width="1.1" height="1.15" fill="#23bd40"/>
<rect x="9" y="50" width="1.1" height="1.15" fill="#0f511b"/>
<rect x="0" y="51" width="1.1" height="1.15" fill="#24c643"/>
<rect x="0" y="52" width="1.1" height="1.15" fill="#26d147"/>
<rect x="0" y="53" width="1.1" height="1.15" fill="#198a2f"/>
<rect x="1" y="51" width="1.1" height="1.15" fill="#21b23c"/>
<rect x="1" y="52" width="1.1" height="1.15" fill="#25c744"/>
<rect x="1" y="53" width="1.1" height="1.15" fill="#167c2a"/>
<rect x="2" y="51" width="1.1" height="1.15" fill="#116d27"/>
<rect x="2" y="52" width="1.1" height="1.15" fill="#116d27"/>
<rect x="2" y="53" width="1.1" height="1.15" fill="#0b4a1a"/>
<rect x="3" y="51" width="1.1" height="1.15" fill="#093e16"/>
<rect x="3" y="52" width="1.1" height="1.15" fill="#093f16"/>
<rect x="3" y="53" width="1.1" height="1.15" fill="#072f11"/>
<rect x="4" y="51" width="1.1" height="1.15" fill="#23c041"/>
<rect x="4" y="52" width="1.1" height="1.15" fill="#22bb40"/>
<rect x="4" y="53" width="1.1" height="1.15" fill="#167929"/>
<rect x="5" y="51" width="1.1" height="1.15" fill="#0c0c09"/>
<rect x="5" y="52" width="1.1" height="1.15" fill="#0b0b08"/>
<rect x="5" y="53" width="1.1" height="1.15" fill="#080806"/>
<rect x="6" y="51" width="1.1" height="1.15" fill="#0b4a1a"/>
<rect x="6" y="52" width="1.1" height="1.15" fill="#0a4418"/>
<rect x="6" y="53" width="1.1" height="1.15" fill="#062a0f"/>
<rect x="7" y="51" width="1.1" height="1.15" fill="#25cb45"/>
<rect x="7" y="52" width="1.1" height="1.15" fill="#24c543"/>
<rect x="7" y="53" width="1.1" height="1.15" fill="#167728"/>
<rect x="8" y="51" width="1.1" height="1.15" fill="#951116"/>
<rect x="8" y="52" width="1.1" height="1.15" fill="#9f1217"/>
<rect x="8" y="53" width="1.1" height="1.15" fill="#6d0c10"/>
<rect x="9" y="51" width="1.1" height="1.15" fill="#117128"/>
<rect x="9" y="52" width="1.1" height="1.15" fill="#106b26"/>
<rect x="9" y="53" width="1.1" height="1.15" fill="#0c4d1b"/>
<rect x="0" y="54" width="1.1" height="1.15" fill="#20ae3b"/>
<rect x="0" y="55" width="1.1" height="1.15" fill="#0f551d"/>
<rect x="0" y="56" width="1.1" height="1.15" fill="#17802b"/>
<rect x="1" y="54" width="1.1" height="1.15" fill="#22ba3f"/>
<rect x="1" y="55" width="1.1" height="1.15" fill="#0f541c"/>
<rect x="1" y="56" width="1.1" height="1.15" fill="#167a29"/>
<rect x="2" y="54" width="1.1" height="1.15" fill="#127329"/>
<rect x="2" y="55" width="1.1" height="1.15" fill="#093914"/>
<rect x="2" y="56" width="1.1" height="1.15" fill="#0f6122"/>
<rect x="3" y="54" width="1.1" height="1.15" fill="#0b0b08"/>
<rect x="3" y="55" width="1.1" height="1.15" fill="#050503"/>
<rect x="3" y="56" width="1.1" height="1.15" fill="#090906"/>
<rect x="4" y="54" width="1.1" height="1.15" fill="#147f2d"/>
<rect x="4" y="55" width="1.1" height="1.15" fill="#0a4318"/>
<rect x="4" y="56" width="1.1" height="1.15" fill="#0d541e"/>
<rect x="5" y="54" width="1.1" height="1.15" fill="#0c0c09"/>
<rect x="5" y="55" width="1.1" height="1.15" fill="#060604"/>
<rect x="5" y="56" width="1.1" height="1.15" fill="#080805"/>
<rect x="6" y="54" width="1.1" height="1.15" fill="#6a0a0c"/>
<rect x="6" y="55" width="1.1" height="1.15" fill="#290405"/>
<rect x="6" y="56" width="1.1" height="1.15" fill="#3d0607"/>
<rect x="7" y="54" width="1.1" height="1.15" fill="#14822e"/>
<rect x="7" y="55" width="1.1" height="1.15" fill="#093914"/>
<rect x="7" y="56" width="1.1" height="1.15" fill="#0f6424"/>
<rect x="8" y="54" width="1.1" height="1.15" fill="#9c1117"/>
<rect x="8" y="55" width="1.1" height="1.15" fill="#47080a"/>
<rect x="8" y="56" width="1.1" height="1.15" fill="#690c0f"/>
<rect x="9" y="54" width="1.1" height="1.15" fill="#26cd46"/>
<rect x="9" y="55" width="1.1" height="1.15" fill="#10571d"/>
<rect x="9" y="56" width="1.1" height="1.15" fill="#1c9a34"/>
<rect x="0" y="57" width="1.1" height="1.15" fill="#18842d"/>
<rect x="0" y="58" width="1.1" height="1.15" fill="#25c844"/>
<rect x="0" y="59" width="1.1" height="1.15" fill="#17812c"/>
<rect x="1" y="57" width="1.1" height="1.15" fill="#1b9432"/>
<rect x="1" y="58" width="1.1" height="1.15" fill="#26cd46"/>
<rect x="1" y="59" width="1.1" height="1.15" fill="#136723"/>
<rect x="2" y="57" width="1.1" height="1.15" fill="#0a0a07"/>
<rect x="2" y="58" width="1.1" height="1.15" fill="#10100b"/>
<rect x="2" y="59" width="1.1" height="1.15" fill="#080805"/>
<rect x="3" y="57" width="1.1" height="1.15" fill="#3b0507"/>
<rect x="3" y="58" width="1.1" height="1.15" fill="#5a090a"/>
<rect x="3" y="59" width="1.1" height="1.15" fill="#320506"/>
<rect x="4" y="57" width="1.1" height="1.15" fill="#0d581f"/>
<rect x="4" y="58" width="1.1" height="1.15" fill="#137e2d"/>
<rect x="4" y="59" width="1.1" height="1.15" fill="#0a4518"/>
<rect x="5" y="57" width="1.1" height="1.15" fill="#083914"/>
<rect x="5" y="58" width="1.1" height="1.15" fill="#0e5b20"/>
<rect x="5" y="59" width="1.1" height="1.15" fill="#06280e"/>
<rect x="6" y="57" width="1.1" height="1.15" fill="#0b0b07"/>
<rect x="6" y="58" width="1.1" height="1.15" fill="#0e0e0a"/>
<rect x="6" y="59" width="1.1" height="1.15" fill="#080806"/>
<rect x="7" y="57" width="1.1" height="1.15" fill="#1da137"/>
<rect x="7" y="58" width="1.1" height="1.15" fill="#2df353"/>
<rect x="7" y="59" width="1.1" height="1.15" fill="#126522"/>
<rect x="8" y="57" width="1.1" height="1.15" fill="#410607"/>
<rect x="8" y="58" width="1.1" height="1.15" fill="#6c0a0d"/>
<rect x="8" y="59" width="1.1" height="1.15" fill="#410607"/>
<rect x="9" y="57" width="1.1" height="1.15" fill="#0d551e"/>
<rect x="9" y="58" width="1.1" height="1.15" fill="#158931"/>
<rect x="9" y="59" width="1.1" height="1.15" fill="#0d591f"/>
<rect x="0" y="60" width="1.1" height="1.15" fill="#115e20"/>
<rect x="0" y="61" width="1.1" height="1.15" fill="#1b9432"/>
<rect x="0" y="62" width="1.1" height="1.15" fill="#146f25"/>
<rect x="1" y="60" width="1.1" height="1.15" fill="#115f20"/>
<rect x="1" y="61" width="1.1" height="1.15" fill="#1a8c30"/>
<rect x="1" y="62" width="1.1" height="1.15" fill="#19872e"/>
<rect x="2" y="60" width="1.1" height="1.15" fill="#093e16"/>
<rect x="2" y="61" width="1.1" height="1.15" fill="#0f6524"/>
<rect x="2" y="62" width="1.1" height="1.15" fill="#0c501c"/>
<rect x="3" y="60" width="1.1" height="1.15" fill="#2a0405"/>
<rect x="3" y="61" width="1.1" height="1.15" fill="#3b0507"/>
<rect x="3" y="62" width="1.1" height="1.15" fill="#410607"/>
<rect x="4" y="60" width="1.1" height="1.15" fill="#093c15"/>
<rect x="4" y="61" width="1.1" height="1.15" fill="#0d531d"/>
<rect x="4" y="62" width="1.1" height="1.15" fill="#0b4b1b"/>
<rect x="5" y="60" width="1.1" height="1.15" fill="#060604"/>
<rect x="5" y="61" width="1.1" height="1.15" fill="#090906"/>
<rect x="5" y="62" width="1.1" height="1.15" fill="#080806"/>
<rect x="6" y="60" width="1.1" height="1.15" fill="#05200b"/>
<rect x="6" y="61" width="1.1" height="1.15" fill="#073111"/>
<rect x="6" y="62" width="1.1" height="1.15" fill="#06290f"/>
<rect x="7" y="60" width="1.1" height="1.15" fill="#115f20"/>
<rect x="7" y="61" width="1.1" height="1.15" fill="#147026"/>
<rect x="7" y="62" width="1.1" height="1.15" fill="#167929"/>
<rect x="8" y="60" width="1.1" height="1.15" fill="#060604"/>
<rect x="8" y="61" width="1.1" height="1.15" fill="#090906"/>
<rect x="8" y="62" width="1.1" height="1.15" fill="#070705"/>
<rect x="9" y="60" width="1.1" height="1.15" fill="#083814"/>
<rect x="9" y="61" width="1.1" height="1.15" fill="#0f6323"/>
<rect x="9" y="62" width="1.1" height="1.15" fill="#0d571f"/>
<rect x="0" y="63" width="1.1" height="1.15" fill="#2ae74f"/>
<rect x="0" y="64" width="1.1" height="1.15" fill="#28dc4b"/>
<rect x="0" y="65" width="1.1" height="1.15" fill="#18852d"/>
<rect x="1" y="63" width="1.1" height="1.15" fill="#24c643"/>
<rect x="1" y="64" width="1.1" height="1.15" fill="#21b33d"/>
<rect x="1" y="65" width="1.1" height="1.15" fill="#19882e"/>
<rect x="2" y="63" width="1.1" height="1.15" fill="#10100b"/>
<rect x="2" y="64" width="1.1" height="1.15" fill="#0c0c08"/>
<rect x="2" y="65" width="1.1" height="1.15" fill="#090907"/>
<rect x="3" y="63" width="1.1" height="1.15" fill="#59080a"/>
<rect x="3" y="64" width="1.1" height="1.15" fill="#57080a"/>
<rect x="3" y="65" width="1.1" height="1.15" fill="#470708"/>
<rect x="4" y="63" width="1.1" height="1.15" fill="#23be41"/>
<rect x="4" y="64" width="1.1" height="1.15" fill="#20b13c"/>
<rect x="4" y="65" width="1.1" height="1.15" fill="#177e2b"/>
<rect x="5" y="63" width="1.1" height="1.15" fill="#0e0e0a"/>
<rect x="5" y="64" width="1.1" height="1.15" fill="#0e0e0a"/>
<rect x="5" y="65" width="1.1" height="1.15" fill="#080805"/>
<rect x="6" y="63" width="1.1" height="1.15" fill="#5c090b"/>
<rect x="6" y="64" width="1.1" height="1.15" fill="#720b0d"/>
<rect x="6" y="65" width="1.1" height="1.15" fill="#3e0607"/>
<rect x="7" y="63" width="1.1" height="1.15" fill="#27d247"/>
<rect x="7" y="64" width="1.1" height="1.15" fill="#25c844"/>
<rect x="7" y="65" width="1.1" height="1.15" fill="#1c9834"/>
<rect x="8" y="63" width="1.1" height="1.15" fill="#0e0e0a"/>
<rect x="8" y="64" width="1.1" height="1.15" fill="#0f0f0a"/>
<rect x="8" y="65" width="1.1" height="1.15" fill="#090906"/>
<rect x="9" y="63" width="1.1" height="1.15" fill="#22bb40"/>
<rect x="9" y="64" width="1.1" height="1.15" fill="#22b93f"/>
<rect x="9" y="65" width="1.1" height="1.15" fill="#167b2a"/>
<rect x="0" y="66" width="1.1" height="1.15" fill="#29e24d"/>
<rect x="0" y="67" width="1.1" height="1.15" fill="#0f511b"/>
<rect x="0" y="68" width="1.1" height="1.15" fill="#0f541c"/>
<rect x="1" y="66" width="1.1" height="1.15" fill="#12762a"/>
<rect x="1" y="67" width="1.1" height="1.15" fill="#093c15"/>
<rect x="1" y="68" width="1.1" height="1.15" fill="#072f10"/>
<rect x="2" y="66" width="1.1" height="1.15" fill="#0c531d"/>
<rect x="2" y="67" width="1.1" height="1.15" fill="#05230c"/>
<rect x="2" y="68" width="1.1" height="1.15" fill="#041d0a"/>
<rect x="3" y="66" width="1.1" height="1.15" fill="#0e0e0a"/>
<rect x="3" y="67" width="1.1" height="1.15" fill="#060604"/>
<rect x="3" y="68" width="1.1" height="1.15" fill="#040403"/>
<rect x="4" y="66" width="1.1" height="1.15" fill="#158b31"/>
<rect x="4" y="67" width="1.1" height="1.15" fill="#093b15"/>
<rect x="4" y="68" width="1.1" height="1.15" fill="#072d10"/>
<rect x="5" y="66" width="1.1" height="1.15" fill="#0c531d"/>
<rect x="5" y="67" width="1.1" height="1.15" fill="#05220c"/>
<rect x="5" y="68" width="1.1" height="1.15" fill="#041f0b"/>
<rect x="6" y="66" width="1.1" height="1.15" fill="#58080a"/>
<rect x="6" y="67" width="1.1" height="1.15" fill="#2b0405"/>
<rect x="6" y="68" width="1.1" height="1.15" fill="#240304"/>
<rect x="7" y="66" width="1.1" height="1.15" fill="#27d448"/>
<rect x="7" y="67" width="1.1" height="1.15" fill="#0e4d1a"/>
<rect x="7" y="68" width="1.1" height="1.15" fill="#0d4718"/>
<rect x="8" y="66" width="1.1" height="1.15" fill="#0d0d09"/>
<rect x="8" y="67" width="1.1" height="1.15" fill="#050503"/>
<rect x="8" y="68" width="1.1" height="1.15" fill="#050503"/>
<rect x="9" y="66" width="1.1" height="1.15" fill="#27d448"/>
<rect x="9" y="67" width="1.1" height="1.15" fill="#10561d"/>
<rect x="9" y="68" width="1.1" height="1.15" fill="#0e4e1a"/>
<rect x="0" y="69" width="1.1" height="1.15" fill="#23bd40"/>
<rect x="0" y="70" width="1.1" height="1.15" fill="#126321"/>
<rect x="0" y="71" width="1.1" height="1.15" fill="#167b2a"/>
<rect x="1" y="69" width="1.1" height="1.15" fill="#1a9031"/>
<rect x="1" y="70" width="1.1" height="1.15" fill="#115f20"/>
<rect x="1" y="71" width="1.1" height="1.15" fill="#147126"/>
<rect x="2" y="69" width="1.1" height="1.15" fill="#0a4619"/>
<rect x="2" y="70" width="1.1" height="1.15" fill="#062a0f"/>
<rect x="2" y="71" width="1.1" height="1.15" fill="#083513"/>
<rect x="3" y="69" width="1.1" height="1.15" fill="#0c0c09"/>
<rect x="3" y="70" width="1.1" height="1.15" fill="#070705"/>
<rect x="3" y="71" width="1.1" height="1.15" fill="#090906"/>
<rect x="4" y="69" width="1.1" height="1.15" fill="#1ea638"/>
<rect x="4" y="70" width="1.1" height="1.15" fill="#126622"/>
<rect x="4" y="71" width="1.1" height="1.15" fill="#1a8e30"/>
<rect x="5" y="69" width="1.1" height="1.15" fill="#0c0c09"/>
<rect x="5" y="70" width="1.1" height="1.15" fill="#080805"/>
<rect x="5" y="71" width="1.1" height="1.15" fill="#080806"/>
<rect x="6" y="69" width="1.1" height="1.15" fill="#0c0c08"/>
<rect x="6" y="70" width="1.1" height="1.15" fill="#060604"/>
<rect x="6" y="71" width="1.1" height="1.15" fill="#090907"/>
<rect x="7" y="69" width="1.1" height="1.15" fill="#137e2d"/>
<rect x="7" y="70" width="1.1" height="1.15" fill="#0a4317"/>
<rect x="7" y="71" width="1.1" height="1.15" fill="#0f6022"/>
<rect x="8" y="69" width="1.1" height="1.15" fill="#480708"/>
<rect x="8" y="70" width="1.1" height="1.15" fill="#2c0405"/>
<rect x="8" y="71" width="1.1" height="1.15" fill="#410607"/>
<rect x="9" y="69" width="1.1" height="1.15" fill="#106925"/>
<rect x="9" y="70" width="1.1" height="1.15" fill="#0b4719"/>
<rect x="9" y="71" width="1.1" height="1.15" fill="#0e591f"/>
<rect x="0" y="72" width="1.1" height="1.15" fill="#083412"/>
<rect x="0" y="73" width="1.1" height="1.15" fill="#13792b"/>
<rect x="0" y="74" width="1.1" height="1.15" fill="#0d531d"/>
<rect x="1" y="72" width="1.1" height="1.15" fill="#0f531c"/>
<rect x="1" y="73" width="1.1" height="1.15" fill="#20ae3b"/>
<rect x="1" y="74" width="1.1" height="1.15" fill="#126422"/>
<rect x="2" y="72" width="1.1" height="1.15" fill="#050503"/>
<rect x="2" y="73" width="1.1" height="1.15" fill="#0c0c08"/>
<rect x="2" y="74" width="1.1" height="1.15" fill="#060604"/>
<rect x="3" y="72" width="1.1" height="1.15" fill="#041a09"/>
<rect x="3" y="73" width="1.1" height="1.15" fill="#0b4c1b"/>
<rect x="3" y="74" width="1.1" height="1.15" fill="#072e10"/>
<rect x="4" y="72" width="1.1" height="1.15" fill="#10591e"/>
<rect x="4" y="73" width="1.1" height="1.15" fill="#27d548"/>
<rect x="4" y="74" width="1.1" height="1.15" fill="#177f2b"/>
<rect x="5" y="72" width="1.1" height="1.15" fill="#083312"/>
<rect x="5" y="73" width="1.1" height="1.15" fill="#117228"/>
<rect x="5" y="74" width="1.1" height="1.15" fill="#0b491a"/>
<rect x="6" y="72" width="1.1" height="1.15" fill="#050503"/>
<rect x="6" y="73" width="1.1" height="1.15" fill="#0c0c09"/>
<rect x="6" y="74" width="1.1" height="1.15" fill="#070705"/>
<rect x="7" y="72" width="1.1" height="1.15" fill="#0d4a19"/>
<rect x="7" y="73" width="1.1" height="1.15" fill="#26ce46"/>
<rect x="7" y="74" width="1.1" height="1.15" fill="#136a24"/>
<rect x="8" y="72" width="1.1" height="1.15" fill="#410709"/>
<rect x="8" y="73" width="1.1" height="1.15" fill="#b1141a"/>
<rect x="8" y="74" width="1.1" height="1.15" fill="#6a0c0f"/>
<rect x="9" y="72" width="1.1" height="1.15" fill="#0d4919"/>
<rect x="9" y="73" width="1.1" height="1.15" fill="#1fab3a"/>
<rect x="9" y="74" width="1.1" height="1.15" fill="#177c2a"/>
<rect x="0" y="75" width="1.1" height="1.15" fill="#0d4a19"/>
<rect x="0" y="76" width="1.1" height="1.15" fill="#0f521c"/>
<rect x="0" y="77" width="1.1" height="1.15" fill="#18842d"/>
<rect x="1" y="75" width="1.1" height="1.15" fill="#072d10"/>
<rect x="1" y="76" width="1.1" height="1.15" fill="#0a4318"/>
<rect x="1" y="77" width="1.1" height="1.15" fill="#106725"/>
<rect x="2" y="75" width="1.1" height="1.15" fill="#041f0b"/>
<rect x="2" y="76" width="1.1" height="1.15" fill="#05250d"/>
<rect x="2" y="77" width="1.1" height="1.15" fill="#0a4217"/>
<rect x="3" y="75" width="1.1" height="1.15" fill="#040403"/>
<rect x="3" y="76" width="1.1" height="1.15" fill="#050504"/>
<rect x="3" y="77" width="1.1" height="1.15" fill="#080806"/>
<rect x="4" y="75" width="1.1" height="1.15" fill="#073111"/>
<rect x="4" y="76" width="1.1" height="1.15" fill="#093b15"/>
<rect x="4" y="77" width="1.1" height="1.15" fill="#0e5a20"/>
<rect x="5" y="75" width="1.1" height="1.15" fill="#041c0a"/>
<rect x="5" y="76" width="1.1" height="1.15" fill="#041e0b"/>
<rect x="5" y="77" width="1.1" height="1.15" fill="#083713"/>
<rect x="6" y="75" width="1.1" height="1.15" fill="#040403"/>
<rect x="6" y="76" width="1.1" height="1.15" fill="#060604"/>
<rect x="6" y="77" width="1.1" height="1.15" fill="#0a0a07"/>
<rect x="7" y="75" width="1.1" height="1.15" fill="#0c4417"/>
<rect x="7" y="76" width="1.1" height="1.15" fill="#0e4f1b"/>
<rect x="7" y="77" width="1.1" height="1.15" fill="#1b9633"/>
<rect x="8" y="75" width="1.1" height="1.15" fill="#050503"/>
<rect x="8" y="76" width="1.1" height="1.15" fill="#060604"/>
<rect x="8" y="77" width="1.1" height="1.15" fill="#0b0b08"/>
<rect x="9" y="75" width="1.1" height="1.15" fill="#083613"/>
<rect x="9" y="76" width="1.1" height="1.15" fill="#093a14"/>
<rect x="9" y="77" width="1.1" height="1.15" fill="#0e5d21"/>
<rect x="0" y="78" width="1.1" height="1.15" fill="#26cf46"/>
<rect x="0" y="79" width="1.1" height="1.15" fill="#24c442"/>
<rect x="0" y="80" width="1.1" height="1.15" fill="#198c2f"/>
<rect x="1" y="78" width="1.1" height="1.15" fill="#1fa939"/>
<rect x="1" y="79" width="1.1" height="1.15" fill="#1ea538"/>
<rect x="1" y="80" width="1.1" height="1.15" fill="#1c9c35"/>
<rect x="2" y="78" width="1.1" height="1.15" fill="#0e0e0a"/>
<rect x="2" y="79" width="1.1" height="1.15" fill="#0e0e0a"/>
<rect x="2" y="80" width="1.1" height="1.15" fill="#0a0a07"/>
<rect x="3" y="78" width="1.1" height="1.15" fill="#0b4b1b"/>
<rect x="3" y="79" width="1.1" height="1.15" fill="#0c521d"/>
<rect x="3" y="80" width="1.1" height="1.15" fill="#093e16"/>
<rect x="4" y="78" width="1.1" height="1.15" fill="#14842f"/>
<rect x="4" y="79" width="1.1" height="1.15" fill="#14802d"/>
<rect x="4" y="80" width="1.1" height="1.15" fill="#106624"/>
<rect x="5" y="78" width="1.1" height="1.15" fill="#1fa939"/>
<rect x="5" y="79" width="1.1" height="1.15" fill="#20ae3b"/>
<rect x="5" y="80" width="1.1" height="1.15" fill="#1d9e36"/>
<rect x="6" y="78" width="1.1" height="1.15" fill="#179334"/>
<rect x="6" y="79" width="1.1" height="1.15" fill="#15852f"/>
<rect x="6" y="80" width="1.1" height="1.15" fill="#0f6323"/>
<rect x="7" y="78" width="1.1" height="1.15" fill="#21b33d"/>
<rect x="7" y="79" width="1.1" height="1.15" fill="#23be41"/>
<rect x="7" y="80" width="1.1" height="1.15" fill="#1ea337"/>
<rect x="8" y="78" width="1.1" height="1.15" fill="#137e2d"/>
<rect x="8" y="79" width="1.1" height="1.15" fill="#179635"/>
<rect x="8" y="80" width="1.1" height="1.15" fill="#0e5b20"/>
<rect x="9" y="78" width="1.1" height="1.15" fill="#20b13c"/>
<rect x="9" y="79" width="1.1" height="1.15" fill="#24c242"/>
<rect x="9" y="80" width="1.1" height="1.15" fill="#1b9231"/>
<rect x="0" y="81" width="1.1" height="1.15" fill="#26d147"/>
<rect x="0" y="82" width="1.1" height="1.15" fill="#1faa3a"/>
<rect x="0" y="83" width="1.1" height="1.15" fill="#28db4b"/>
<rect x="1" y="81" width="1.1" height="1.15" fill="#26cd46"/>
<rect x="1" y="82" width="1.1" height="1.15" fill="#24c643"/>
<rect x="1" y="83" width="1.1" height="1.15" fill="#25c844"/>
<rect x="2" y="81" width="1.1" height="1.15" fill="#0c511d"/>
<rect x="2" y="82" width="1.1" height="1.15" fill="#0d551e"/>
<rect x="2" y="83" width="1.1" height="1.15" fill="#0b4819"/>
<rect x="3" y="81" width="1.1" height="1.15" fill="#0c501d"/>
<rect x="3" y="82" width="1.1" height="1.15" fill="#0b481a"/>
<rect x="3" y="83" width="1.1" height="1.15" fill="#0c521d"/>
<rect x="4" y="81" width="1.1" height="1.15" fill="#2ae24d"/>
<rect x="4" y="82" width="1.1" height="1.15" fill="#29e24d"/>
<rect x="4" y="83" width="1.1" height="1.15" fill="#29e04c"/>
<rect x="5" y="81" width="1.1" height="1.15" fill="#0c0c08"/>
<rect x="5" y="82" width="1.1" height="1.15" fill="#0f0f0a"/>
<rect x="5" y="83" width="1.1" height="1.15" fill="#0d0d09"/>
<rect x="6" y="81" width="1.1" height="1.15" fill="#5f090b"/>
<rect x="6" y="82" width="1.1" height="1.15" fill="#6a0a0c"/>
<rect x="6" y="83" width="1.1" height="1.15" fill="#63090b"/>
<rect x="7" y="81" width="1.1" height="1.15" fill="#a11217"/>
<rect x="7" y="82" width="1.1" height="1.15" fill="#c0161c"/>
<rect x="7" y="83" width="1.1" height="1.15" fill="#cf171e"/>
<rect x="8" y="81" width="1.1" height="1.15" fill="#e41d25"/>
<rect x="8" y="82" width="1.1" height="1.15" fill="#e61e25"/>
<rect x="8" y="83" width="1.1" height="1.15" fill="#f01f27"/>
<rect x="9" y="81" width="1.1" height="1.15" fill="#137b2b"/>
<rect x="9" y="82" width="1.1" height="1.15" fill="#137d2c"/>
<rect x="9" y="83" width="1.1" height="1.15" fill="#1aa73b"/>
<rect x="0" y="84" width="1.1" height="1.15" fill="#0d4919"/>
<rect x="0" y="85" width="1.1" height="1.15" fill="#146b24"/>
<rect x="0" y="86" width="1.1" height="1.15" fill="#146d25"/>
<rect x="1" y="84" width="1.1" height="1.15" fill="#115c1f"/>
<rect x="1" y="85" width="1.1" height="1.15" fill="#146f26"/>
<rect x="1" y="86" width="1.1" height="1.15" fill="#147026"/>
<rect x="2" y="84" width="1.1" height="1.15" fill="#550b0d"/>
<rect x="2" y="85" width="1.1" height="1.15" fill="#770f13"/>
<rect x="2" y="86" width="1.1" height="1.15" fill="#8b1216"/>
<rect x="3" y="84" width="1.1" height="1.15" fill="#570b0e"/>
<rect x="3" y="85" width="1.1" height="1.15" fill="#770f13"/>
<rect x="3" y="86" width="1.1" height="1.15" fill="#790f13"/>
<rect x="4" y="84" width="1.1" height="1.15" fill="#050503"/>
<rect x="4" y="85" width="1.1" height="1.15" fill="#070705"/>
<rect x="4" y="86" width="1.1" height="1.15" fill="#060604"/>
<rect x="5" y="84" width="1.1" height="1.15" fill="#5c0c0f"/>
<rect x="5" y="85" width="1.1" height="1.15" fill="#911317"/>
<rect x="5" y="86" width="1.1" height="1.15" fill="#6d0e11"/>
<rect x="6" y="84" width="1.1" height="1.15" fill="#700e12"/>
<rect x="6" y="85" width="1.1" height="1.15" fill="#730f12"/>
<rect x="6" y="86" width="1.1" height="1.15" fill="#8c1216"/>
<rect x="7" y="84" width="1.1" height="1.15" fill="#060604"/>
<rect x="7" y="85" width="1.1" height="1.15" fill="#070705"/>
<rect x="7" y="86" width="1.1" height="1.15" fill="#060604"/>
<rect x="8" y="84" width="1.1" height="1.15" fill="#560b0e"/>
<rect x="8" y="85" width="1.1" height="1.15" fill="#891216"/>
<rect x="8" y="86" width="1.1" height="1.15" fill="#6e0e12"/>
<rect x="9" y="84" width="1.1" height="1.15" fill="#083312"/>
<rect x="9" y="85" width="1.1" height="1.15" fill="#0c501c"/>
<rect x="9" y="86" width="1.1" height="1.15" fill="#0c4d1b"/>
<rect x="0" y="87" width="1.1" height="1.15" fill="#0e4c1a"/>
<rect x="0" y="88" width="1.1" height="1.15" fill="#23c142"/>
<rect x="0" y="89" width="1.1" height="1.15" fill="#1b9432"/>
<rect x="1" y="87" width="1.1" height="1.15" fill="#105a1f"/>
<rect x="1" y="88" width="1.1" height="1.15" fill="#26cd46"/>
<rect x="1" y="89" width="1.1" height="1.15" fill="#19882e"/>
<rect x="2" y="87" width="1.1" height="1.15" fill="#540b0d"/>
<rect x="2" y="88" width="1.1" height="1.15" fill="#e81e26"/>
<rect x="2" y="89" width="1.1" height="1.15" fill="#af161c"/>
<rect x="3" y="87" width="1.1" height="1.15" fill="#4c080b"/>
<rect x="3" y="88" width="1.1" height="1.15" fill="#a31218"/>
<rect x="3" y="89" width="1.1" height="1.15" fill="#770d11"/>
<rect x="4" y="87" width="1.1" height="1.15" fill="#060604"/>
<rect x="4" y="88" width="1.1" height="1.15" fill="#11110c"/>
<rect x="4" y="89" width="1.1" height="1.15" fill="#0c0c08"/>
<rect x="5" y="87" width="1.1" height="1.15" fill="#570b0e"/>
<rect x="5" y="88" width="1.1" height="1.15" fill="#fa2028"/>
<rect x="5" y="89" width="1.1" height="1.15" fill="#d01b22"/>
<rect x="6" y="87" width="1.1" height="1.15" fill="#5e0c0f"/>
<rect x="6" y="88" width="1.1" height="1.15" fill="#ff242d"/>
<rect x="6" y="89" width="1.1" height="1.15" fill="#ad161c"/>
<rect x="7" y="87" width="1.1" height="1.15" fill="#210303"/>
<rect x="7" y="88" width="1.1" height="1.15" fill="#660a0c"/>
<rect x="7" y="89" width="1.1" height="1.15" fill="#500809"/>
<rect x="8" y="87" width="1.1" height="1.15" fill="#093a14"/>
<rect x="8" y="88" width="1.1" height="1.15" fill="#189836"/>
<rect x="8" y="89" width="1.1" height="1.15" fill="#106825"/>
<rect x="9" y="87" width="1.1" height="1.15" fill="#0e501b"/>
<rect x="9" y="88" width="1.1" height="1.15" fill="#27d749"/>
<rect x="9" y="89" width="1.1" height="1.15" fill="#1c9b35"/>
<rect x="0" y="90" width="1.1" height="1.15" fill="#29e14d"/>
<rect x="0" y="91" width="1.1" height="1.15" fill="#147126"/>
<rect x="0" y="92" width="1.1" height="1.15" fill="#1b9332"/>
<rect x="1" y="90" width="1.1" height="1.15" fill="#2ae34d"/>
<rect x="1" y="91" width="1.1" height="1.15" fill="#147126"/>
<rect x="1" y="92" width="1.1" height="1.15" fill="#1b9232"/>
<rect x="2" y="90" width="1.1" height="1.15" fill="#0c0c09"/>
<rect x="2" y="91" width="1.1" height="1.15" fill="#060604"/>
<rect x="2" y="92" width="1.1" height="1.15" fill="#090906"/>
<rect x="3" y="90" width="1.1" height="1.15" fill="#ff232c"/>
<rect x="3" y="91" width="1.1" height="1.15" fill="#770f13"/>
<rect x="3" y="92" width="1.1" height="1.15" fill="#d81c23"/>
<rect x="4" y="90" width="1.1" height="1.15" fill="#12782b"/>
<rect x="4" y="91" width="1.1" height="1.15" fill="#093b15"/>
<rect x="4" y="92" width="1.1" height="1.15" fill="#137b2c"/>
<rect x="5" y="90" width="1.1" height="1.15" fill="#0e0e0a"/>
<rect x="5" y="91" width="1.1" height="1.15" fill="#080805"/>
<rect x="5" y="92" width="1.1" height="1.15" fill="#0b0b08"/>
<rect x="6" y="90" width="1.1" height="1.15" fill="#ab1319"/>
<rect x="6" y="91" width="1.1" height="1.15" fill="#5e0a0e"/>
<rect x="6" y="92" width="1.1" height="1.15" fill="#7a0d12"/>
<rect x="7" y="90" width="1.1" height="1.15" fill="#25ca45"/>
<rect x="7" y="91" width="1.1" height="1.15" fill="#126422"/>
<rect x="7" y="92" width="1.1" height="1.15" fill="#1b9131"/>
<rect x="8" y="90" width="1.1" height="1.15" fill="#0e0e0a"/>
<rect x="8" y="91" width="1.1" height="1.15" fill="#060604"/>
<rect x="8" y="92" width="1.1" height="1.15" fill="#0b0b07"/>
<rect x="9" y="90" width="1.1" height="1.15" fill="#23c041"/>
<rect x="9" y="91" width="1.1" height="1.15" fill="#116021"/>
<rect x="9" y="92" width="1.1" height="1.15" fill="#1c9c35"/>
<rect x="0" y="93" width="1.1" height="1.15" fill="#21b53e"/>
<rect x="0" y="94" width="1.1" height="1.15" fill="#2df453"/>
<rect x="0" y="95" width="1.1" height="1.15" fill="#25c944"/>
<rect x="1" y="93" width="1.1" height="1.15" fill="#22bb40"/>
<rect x="1" y="94" width="1.1" height="1.15" fill="#26cf46"/>
<rect x="1" y="95" width="1.1" height="1.15" fill="#23bf41"/>
<rect x="2" y="93" width="1.1" height="1.15" fill="#500809"/>
<rect x="2" y="94" width="1.1" height="1.15" fill="#740b0d"/>
<rect x="2" y="95" width="1.1" height="1.15" fill="#640a0c"/>
<rect x="3" y="93" width="1.1" height="1.15" fill="#0b0b08"/>
<rect x="3" y="94" width="1.1" height="1.15" fill="#0e0e0a"/>
<rect x="3" y="95" width="1.1" height="1.15" fill="#10100b"/>
<rect x="4" y="93" width="1.1" height="1.15" fill="#116e27"/>
<rect x="4" y="94" width="1.1" height="1.15" fill="#179635"/>
<rect x="4" y="95" width="1.1" height="1.15" fill="#179435"/>
<rect x="5" y="93" width="1.1" height="1.15" fill="#da1c23"/>
<rect x="5" y="94" width="1.1" height="1.15" fill="#ff2731"/>
<rect x="5" y="95" width="1.1" height="1.15" fill="#ff212a"/>
<rect x="6" y="93" width="1.1" height="1.15" fill="#c0191f"/>
<rect x="6" y="94" width="1.1" height="1.15" fill="#ff232c"/>
<rect x="6" y="95" width="1.1" height="1.15" fill="#e01d24"/>
<rect x="7" y="93" width="1.1" height="1.15" fill="#1da036"/>
<rect x="7" y="94" width="1.1" height="1.15" fill="#2df553"/>
<rect x="7" y="95" width="1.1" height="1.15" fill="#2be94f"/>
<rect x="8" y="93" width="1.1" height="1.15" fill="#090906"/>
<rect x="8" y="94" width="1.1" height="1.15" fill="#10100c"/>
<rect x="8" y="95" width="1.1" height="1.15" fill="#0e0e0a"/>
<rect x="9" y="93" width="1.1" height="1.15" fill="#22bb40"/>
<rect x="9" y="94" width="1.1" height="1.15" fill="#27d548"/>
<rect x="9" y="95" width="1.1" height="1.15" fill="#24c543"/>
<rect x="0" y="96" width="1.1" height="1.15" fill="#12762a"/>
<rect x="0" y="97" width="1.1" height="1.15" fill="#179635"/>
<rect x="0" y="98" width="1.1" height="1.15" fill="#0e5a20"/>
<rect x="1" y="96" width="1.1" height="1.15" fill="#1b9232"/>
<rect x="1" y="97" width="1.1" height="1.15" fill="#26cf47"/>
<rect x="1" y="98" width="1.1" height="1.15" fill="#18852d"/>
<rect x="2" y="96" width="1.1" height="1.15" fill="#490708"/>
<rect x="2" y="97" width="1.1" height="1.15" fill="#690a0c"/>
<rect x="2" y="98" width="1.1" height="1.15" fill="#4a0708"/>
<rect x="3" y="96" width="1.1" height="1.15" fill="#093c15"/>
<rect x="3" y="97" width="1.1" height="1.15" fill="#0a4619"/>
<rect x="3" y="98" width="1.1" height="1.15" fill="#073011"/>
<rect x="4" y="96" width="1.1" height="1.15" fill="#1b9633"/>
<rect x="4" y="97" width="1.1" height="1.15" fill="#27d649"/>
<rect x="4" y="98" width="1.1" height="1.15" fill="#167b2a"/>
<rect x="5" y="96" width="1.1" height="1.15" fill="#740d11"/>
<rect x="5" y="97" width="1.1" height="1.15" fill="#a71318"/>
<rect x="5" y="98" width="1.1" height="1.15" fill="#6e0c10"/>
<rect x="6" y="96" width="1.1" height="1.15" fill="#090906"/>
<rect x="6" y="97" width="1.1" height="1.15" fill="#0e0e0a"/>
<rect x="6" y="98" width="1.1" height="1.15" fill="#0a0a07"/>
<rect x="7" y="96" width="1.1" height="1.15" fill="#1d9d35"/>
<rect x="7" y="97" width="1.1" height="1.15" fill="#29de4b"/>
<rect x="7" y="98" width="1.1" height="1.15" fill="#1c9733"/>
<rect x="8" y="96" width="1.1" height="1.15" fill="#0b0b08"/>
<rect x="8" y="97" width="1.1" height="1.15" fill="#0f0f0b"/>
<rect x="8" y="98" width="1.1" height="1.15" fill="#090906"/>
<rect x="9" y="96" width="1.1" height="1.15" fill="#117028"/>
<rect x="9" y="97" width="1.1" height="1.15" fill="#137d2c"/>
<rect x="9" y="98" width="1.1" height="1.15" fill="#106925"/>
<rect x="0" y="99" width="1.1" height="1.15" fill="#167929"/>
<rect x="0" y="100" width="1.1" height="1.15" fill="#18832c"/>
<rect x="0" y="101" width="1.1" height="1.15" fill="#2ae44e"/>
<rect x="1" y="99" width="1.1" height="1.15" fill="#18852d"/>
<rect x="1" y="100" width="1.1" height="1.15" fill="#177e2b"/>
<rect x="1" y="101" width="1.1" height="1.15" fill="#21b33d"/>
<rect x="2" y="99" width="1.1" height="1.15" fill="#080806"/>
<rect x="2" y="100" width="1.1" height="1.15" fill="#080806"/>
<rect x="2" y="101" width="1.1" height="1.15" fill="#0f0f0b"/>
<rect x="3" y="99" width="1.1" height="1.15" fill="#390506"/>
<rect x="3" y="100" width="1.1" height="1.15" fill="#410607"/>
<rect x="3" y="101" width="1.1" height="1.15" fill="#62090b"/>
<rect x="4" y="99" width="1.1" height="1.15" fill="#18822c"/>
<rect x="4" y="100" width="1.1" height="1.15" fill="#1a8d30"/>
<rect x="4" y="101" width="1.1" height="1.15" fill="#28d849"/>
<rect x="5" y="99" width="1.1" height="1.15" fill="#420607"/>
<rect x="5" y="100" width="1.1" height="1.15" fill="#450608"/>
<rect x="5" y="101" width="1.1" height="1.15" fill="#59080a"/>
<rect x="6" y="99" width="1.1" height="1.15" fill="#0a0a07"/>
<rect x="6" y="100" width="1.1" height="1.15" fill="#0a0a07"/>
<rect x="6" y="101" width="1.1" height="1.15" fill="#0c0c08"/>
<rect x="7" y="99" width="1.1" height="1.15" fill="#177f2b"/>
<rect x="7" y="100" width="1.1" height="1.15" fill="#1c9b35"/>
<rect x="7" y="101" width="1.1" height="1.15" fill="#2cef51"/>
<rect x="8" y="99" width="1.1" height="1.15" fill="#062a0f"/>
<rect x="8" y="100" width="1.1" height="1.15" fill="#072e10"/>
<rect x="8" y="101" width="1.1" height="1.15" fill="#0c4e1c"/>
<rect x="9" y="99" width="1.1" height="1.15" fill="#177e2b"/>
<rect x="9" y="100" width="1.1" height="1.15" fill="#1ea137"/>
<rect x="9" y="101" width="1.1" height="1.15" fill="#2ae54e"/>
<rect x="0" y="102" width="1.1" height="1.15" fill="#19882e"/>
<rect x="0" y="103" width="1.1" height="1.15" fill="#167b2a"/>
<rect x="0" y="104" width="1.1" height="1.15" fill="#1c9c35"/>
<rect x="1" y="102" width="1.1" height="1.15" fill="#136b24"/>
<rect x="1" y="103" width="1.1" height="1.15" fill="#1a8d30"/>
<rect x="1" y="104" width="1.1" height="1.15" fill="#198a2f"/>
<rect x="2" y="102" width="1.1" height="1.15" fill="#090906"/>
<rect x="2" y="103" width="1.1" height="1.15" fill="#090906"/>
<rect x="2" y="104" width="1.1" height="1.15" fill="#0b0b08"/>
<rect x="3" y="102" width="1.1" height="1.15" fill="#340506"/>
<rect x="3" y="103" width="1.1" height="1.15" fill="#3d0607"/>
<rect x="3" y="104" width="1.1" height="1.15" fill="#4d0709"/>
<rect x="4" y="102" width="1.1" height="1.15" fill="#19872e"/>
<rect x="4" y="103" width="1.1" height="1.15" fill="#19892f"/>
<rect x="4" y="104" width="1.1" height="1.15" fill="#1b9633"/>
<rect x="5" y="102" width="1.1" height="1.15" fill="#090906"/>
<rect x="5" y="103" width="1.1" height="1.15" fill="#090906"/>
<rect x="5" y="104" width="1.1" height="1.15" fill="#0b0b07"/>
<rect x="6" y="102" width="1.1" height="1.15" fill="#360506"/>
<rect x="6" y="103" width="1.1" height="1.15" fill="#3e0607"/>
<rect x="6" y="104" width="1.1" height="1.15" fill="#58080a"/>
<rect x="7" y="102" width="1.1" height="1.15" fill="#146d25"/>
<rect x="7" y="103" width="1.1" height="1.15" fill="#19892e"/>
<rect x="7" y="104" width="1.1" height="1.15" fill="#1ea739"/>
<rect x="8" y="102" width="1.1" height="1.15" fill="#080805"/>
<rect x="8" y="103" width="1.1" height="1.15" fill="#0a0a07"/>
<rect x="8" y="104" width="1.1" height="1.15" fill="#0c0c08"/>
<rect x="9" y="102" width="1.1" height="1.15" fill="#0e5c21"/>
<rect x="9" y="103" width="1.1" height="1.15" fill="#0f6323"/>
<rect x="9" y="104" width="1.1" height="1.15" fill="#0f6423"/>
<rect x="0" y="105" width="1.1" height="1.15" fill="#0d4919"/>
<rect x="0" y="106" width="1.1" height="1.15" fill="#1c9934"/>
<rect x="0" y="107" width="1.1" height="1.15" fill="#146d25"/>
<rect x="1" y="105" width="1.1" height="1.15" fill="#093c15"/>
<rect x="1" y="106" width="1.1" height="1.15" fill="#106a26"/>
<rect x="1" y="107" width="1.1" height="1.15" fill="#0b4819"/>
<rect x="2" y="105" width="1.1" height="1.15" fill="#6c0e11"/>
<rect x="2" y="106" width="1.1" height="1.15" fill="#a0141a"/>
<rect x="2" y="107" width="1.1" height="1.15" fill="#821115"/>
<rect x="3" y="105" width="1.1" height="1.15" fill="#570b0e"/>
<rect x="3" y="106" width="1.1" height="1.15" fill="#8e1217"/>
<rect x="3" y="107" width="1.1" height="1.15" fill="#8f1217"/>
<rect x="4" y="105" width="1.1" height="1.15" fill="#083513"/>
<rect x="4" y="106" width="1.1" height="1.15" fill="#106825"/>
<rect x="4" y="107" width="1.1" height="1.15" fill="#0e5920"/>
<rect x="5" y="105" width="1.1" height="1.15" fill="#530a0d"/>
<rect x="5" y="106" width="1.1" height="1.15" fill="#a0141a"/>
<rect x="5" y="107" width="1.1" height="1.15" fill="#8a1216"/>
<rect x="6" y="105" width="1.1" height="1.15" fill="#570b0e"/>
<rect x="6" y="106" width="1.1" height="1.15" fill="#981318"/>
<rect x="6" y="107" width="1.1" height="1.15" fill="#841115"/>
<rect x="7" y="105" width="1.1" height="1.15" fill="#093a14"/>
<rect x="7" y="106" width="1.1" height="1.15" fill="#0e5920"/>
<rect x="7" y="107" width="1.1" height="1.15" fill="#0b4819"/>
<rect x="8" y="105" width="1.1" height="1.15" fill="#050503"/>
<rect x="8" y="106" width="1.1" height="1.15" fill="#090906"/>
<rect x="8" y="107" width="1.1" height="1.15" fill="#080805"/>
<rect x="9" y="105" width="1.1" height="1.15" fill="#083312"/>
<rect x="9" y="106" width="1.1" height="1.15" fill="#0f6423"/>
<rect x="9" y="107" width="1.1" height="1.15" fill="#0b4a1a"/>
<rect x="0" y="108" width="1.1" height="1.15" fill="#22bc40"/>
<rect x="0" y="109" width="1.1" height="1.15" fill="#1da036"/>
<rect x="0" y="110" width="1.1" height="1.15" fill="#126322"/>
<rect x="1" y="108" width="1.1" height="1.15" fill="#137a2b"/>
<rect x="1" y="109" width="1.1" height="1.15" fill="#127529"/>
<rect x="1" y="110" width="1.1" height="1.15" fill="#0a4217"/>
<rect x="2" y="108" width="1.1" height="1.15" fill="#b5171d"/>
<rect x="2" y="109" width="1.1" height="1.15" fill="#d61c23"/>
<rect x="2" y="110" width="1.1" height="1.15" fill="#821115"/>
<rect x="3" y="108" width="1.1" height="1.15" fill="#d01b22"/>
<rect x="3" y="109" width="1.1" height="1.15" fill="#ca1a21"/>
<rect x="3" y="110" width="1.1" height="1.15" fill="#6d0e11"/>
<rect x="4" y="108" width="1.1" height="1.15" fill="#0b4a1a"/>
<rect x="4" y="109" width="1.1" height="1.15" fill="#0a4217"/>
<rect x="4" y="110" width="1.1" height="1.15" fill="#05220c"/>
<rect x="5" y="108" width="1.1" height="1.15" fill="#5d090b"/>
<rect x="5" y="109" width="1.1" height="1.15" fill="#5c090b"/>
<rect x="5" y="110" width="1.1" height="1.15" fill="#2d0405"/>
<rect x="6" y="108" width="1.1" height="1.15" fill="#f01f27"/>
<rect x="6" y="109" width="1.1" height="1.15" fill="#c41920"/>
<rect x="6" y="110" width="1.1" height="1.15" fill="#6a0d11"/>
<rect x="7" y="108" width="1.1" height="1.15" fill="#0c0c09"/>
<rect x="7" y="109" width="1.1" height="1.15" fill="#0a0a07"/>
<rect x="7" y="110" width="1.1" height="1.15" fill="#070705"/>
<rect x="8" y="108" width="1.1" height="1.15" fill="#21b33d"/>
<rect x="8" y="109" width="1.1" height="1.15" fill="#1b9131"/>
<rect x="8" y="110" width="1.1" height="1.15" fill="#126322"/>
<rect x="9" y="108" width="1.1" height="1.15" fill="#14842f"/>
<rect x="9" y="109" width="1.1" height="1.15" fill="#117028"/>
<rect x="9" y="110" width="1.1" height="1.15" fill="#0a4418"/>
<rect x="0" y="111" width="1.1" height="1.15" fill="#26d147"/>
<rect x="0" y="112" width="1.1" height="1.15" fill="#1c9a34"/>
<rect x="0" y="113" width="1.1" height="1.15" fill="#18862d"/>
<rect x="1" y="111" width="1.1" height="1.15" fill="#21b33d"/>
<rect x="1" y="112" width="1.1" height="1.15" fill="#1c9733"/>
<rect x="1" y="113" width="1.1" height="1.15" fill="#1b9533"/>
<rect x="2" y="111" width="1.1" height="1.15" fill="#e51e25"/>
<rect x="2" y="112" width="1.1" height="1.15" fill="#bb181e"/>
<rect x="2" y="113" width="1.1" height="1.15" fill="#c41920"/>
<rect x="3" y="111" width="1.1" height="1.15" fill="#640a0c"/>
<rect x="3" y="112" width="1.1" height="1.15" fill="#4e0709"/>
<rect x="3" y="113" width="1.1" height="1.15" fill="#4f0709"/>
<rect x="4" y="111" width="1.1" height="1.15" fill="#0f0f0a"/>
<rect x="4" y="112" width="1.1" height="1.15" fill="#080806"/>
<rect x="4" y="113" width="1.1" height="1.15" fill="#080806"/>
<rect x="5" y="111" width="1.1" height="1.15" fill="#b7151b"/>
<rect x="5" y="112" width="1.1" height="1.15" fill="#800e13"/>
<rect x="5" y="113" width="1.1" height="1.15" fill="#780d11"/>
<rect x="6" y="111" width="1.1" height="1.15" fill="#f21f27"/>
<rect x="6" y="112" width="1.1" height="1.15" fill="#ab161b"/>
<rect x="6" y="113" width="1.1" height="1.15" fill="#a3151a"/>
<rect x="7" y="111" width="1.1" height="1.15" fill="#28d849"/>
<rect x="7" y="112" width="1.1" height="1.15" fill="#1a8f30"/>
<rect x="7" y="113" width="1.1" height="1.15" fill="#1a8e30"/>
<rect x="8" y="111" width="1.1" height="1.15" fill="#137b2c"/>
<rect x="8" y="112" width="1.1" height="1.15" fill="#0f6122"/>
<rect x="8" y="113" width="1.1" height="1.15" fill="#0e5f22"/>
<rect x="9" y="111" width="1.1" height="1.15" fill="#28da4a"/>
<rect x="9" y="112" width="1.1" height="1.15" fill="#177e2b"/>
<rect x="9" y="113" width="1.1" height="1.15" fill="#1a8e30"/>
<rect x="0" y="114" width="1.1" height="1.15" fill="#10591e"/>
<rect x="0" y="115" width="1.1" height="1.15" fill="#157427"/>
<rect x="0" y="116" width="1.1" height="1.15" fill="#1d9f36"/>
<rect x="1" y="114" width="1.1" height="1.15" fill="#115c1f"/>
<rect x="1" y="115" width="1.1" height="1.15" fill="#18862e"/>
<rect x="1" y="116" width="1.1" height="1.15" fill="#1a9031"/>
<rect x="2" y="114" width="1.1" height="1.15" fill="#2b0405"/>
<rect x="2" y="115" width="1.1" height="1.15" fill="#420607"/>
<rect x="2" y="116" width="1.1" height="1.15" fill="#58080a"/>
<rect x="3" y="114" width="1.1" height="1.15" fill="#600b0e"/>
<rect x="3" y="115" width="1.1" height="1.15" fill="#730d11"/>
<rect x="3" y="116" width="1.1" height="1.15" fill="#840f13"/>
<rect x="4" y="114" width="1.1" height="1.15" fill="#2b0405"/>
<rect x="4" y="115" width="1.1" height="1.15" fill="#3d0607"/>
<rect x="4" y="116" width="1.1" height="1.15" fill="#490708"/>
<rect x="5" y="114" width="1.1" height="1.15" fill="#620b0e"/>
<rect x="5" y="115" width="1.1" height="1.15" fill="#650b0f"/>
<rect x="5" y="116" width="1.1" height="1.15" fill="#9b1117"/>
<rect x="6" y="114" width="1.1" height="1.15" fill="#310405"/>
<rect x="6" y="115" width="1.1" height="1.15" fill="#400607"/>
<rect x="6" y="116" width="1.1" height="1.15" fill="#480708"/>
<rect x="7" y="114" width="1.1" height="1.15" fill="#070705"/>
<rect x="7" y="115" width="1.1" height="1.15" fill="#080805"/>
<rect x="7" y="116" width="1.1" height="1.15" fill="#0b0b07"/>
<rect x="8" y="114" width="1.1" height="1.15" fill="#0a4518"/>
<rect x="8" y="115" width="1.1" height="1.15" fill="#0d531d"/>
<rect x="8" y="116" width="1.1" height="1.15" fill="#0f6423"/>
<rect x="9" y="114" width="1.1" height="1.15" fill="#157427"/>
<rect x="9" y="115" width="1.1" height="1.15" fill="#1b9231"/>
<rect x="9" y="116" width="1.1" height="1.15" fill="#1fab3a"/>
<rect x="0" y="117" width="1.1" height="1.15" fill="#29e24d"/>
<rect x="0" y="118" width="1.1" height="1.15" fill="#0e4f1b"/>
<rect x="0" y="119" width="1.1" height="1.15" fill="#20b13c"/>
<rect x="1" y="117" width="1.1" height="1.15" fill="#2cf052"/>
<rect x="1" y="118" width="1.1" height="1.15" fill="#0f521c"/>
<rect x="1" y="119" width="1.1" height="1.15" fill="#23c242"/>
<rect x="2" y="117" width="1.1" height="1.15" fill="#0c0c09"/>
<rect x="2" y="118" width="1.1" height="1.15" fill="#060604"/>
<rect x="2" y="119" width="1.1" height="1.15" fill="#0b0b08"/>
<rect x="3" y="117" width="1.1" height="1.15" fill="#660a0c"/>
<rect x="3" y="118" width="1.1" height="1.15" fill="#280404"/>
<rect x="3" y="119" width="1.1" height="1.15" fill="#61090b"/>
<rect x="4" y="117" width="1.1" height="1.15" fill="#0f0f0b"/>
<rect x="4" y="118" width="1.1" height="1.15" fill="#050504"/>
<rect x="4" y="119" width="1.1" height="1.15" fill="#0c0c09"/>
<rect x="5" y="117" width="1.1" height="1.15" fill="#26ce46"/>
<rect x="5" y="118" width="1.1" height="1.15" fill="#115e20"/>
<rect x="5" y="119" width="1.1" height="1.15" fill="#1ea638"/>
<rect x="6" y="117" width="1.1" height="1.15" fill="#0c511d"/>
<rect x="6" y="118" width="1.1" height="1.15" fill="#05210c"/>
<rect x="6" y="119" width="1.1" height="1.15" fill="#0a4217"/>
<rect x="7" y="117" width="1.1" height="1.15" fill="#0c0c08"/>
<rect x="7" y="118" width="1.1" height="1.15" fill="#050503"/>
<rect x="7" y="119" width="1.1" height="1.15" fill="#0c0c09"/>
<rect x="8" y="117" width="1.1" height="1.15" fill="#14832e"/>
<rect x="8" y="118" width="1.1" height="1.15" fill="#0a3f16"/>
<rect x="8" y="119" width="1.1" height="1.15" fill="#137b2b"/>
<rect x="9" y="117" width="1.1" height="1.15" fill="#2cef51"/>
<rect x="9" y="118" width="1.1" height="1.15" fill="#115f20"/>
<rect x="9" y="119" width="1.1" height="1.15" fill="#23c041"/>
<rect x="0" y="120" width="1.1" height="1.15" fill="#0e5e21"/>
<rect x="0" y="121" width="1.1" height="1.15" fill="#093c15"/>
<rect x="0" y="122" width="1.1" height="1.15" fill="#0f6122"/>
<rect x="1" y="120" width="1.1" height="1.15" fill="#0c4f1c"/>
<rect x="1" y="121" width="1.1" height="1.15" fill="#093d15"/>
<rect x="1" y="122" width="1.1" height="1.15" fill="#127329"/>
<rect x="2" y="120" width="1.1" height="1.15" fill="#080806"/>
<rect x="2" y="121" width="1.1" height="1.15" fill="#050504"/>
<rect x="2" y="122" width="1.1" height="1.15" fill="#090906"/>
<rect x="3" y="120" width="1.1" height="1.15" fill="#6f0c10"/>
<rect x="3" y="121" width="1.1" height="1.15" fill="#46080a"/>
<rect x="3" y="122" width="1.1" height="1.15" fill="#8a0f14"/>
<rect x="4" y="120" width="1.1" height="1.15" fill="#070705"/>
<rect x="4" y="121" width="1.1" height="1.15" fill="#040403"/>
<rect x="4" y="122" width="1.1" height="1.15" fill="#0b0b07"/>
<rect x="5" y="120" width="1.1" height="1.15" fill="#ab161c"/>
<rect x="5" y="121" width="1.1" height="1.15" fill="#530a0d"/>
<rect x="5" y="122" width="1.1" height="1.15" fill="#a0141a"/>
<rect x="6" y="120" width="1.1" height="1.15" fill="#861116"/>
<rect x="6" y="121" width="1.1" height="1.15" fill="#650d10"/>
<rect x="6" y="122" width="1.1" height="1.15" fill="#b5171d"/>
<rect x="7" y="120" width="1.1" height="1.15" fill="#080806"/>
<rect x="7" y="121" width="1.1" height="1.15" fill="#060604"/>
<rect x="7" y="122" width="1.1" height="1.15" fill="#0b0b07"/>
<rect x="8" y="120" width="1.1" height="1.15" fill="#3a0507"/>
<rect x="8" y="121" width="1.1" height="1.15" fill="#280404"/>
<rect x="8" y="122" width="1.1" height="1.15" fill="#410607"/>
<rect x="9" y="120" width="1.1" height="1.15" fill="#080805"/>
<rect x="9" y="121" width="1.1" height="1.15" fill="#050504"/>
<rect x="9" y="122" width="1.1" height="1.15" fill="#090906"/>
<rect x="0" y="123" width="1.1" height="1.15" fill="#093b15"/>
<rect x="0" y="124" width="1.1" height="1.15" fill="#0e5b20"/>
<rect x="0" y="125" width="1.1" height="1.15" fill="#0e5a20"/>
<rect x="1" y="123" width="1.1" height="1.15" fill="#041c0a"/>
<rect x="1" y="124" width="1.1" height="1.15" fill="#093e16"/>
<rect x="1" y="125" width="1.1" height="1.15" fill="#072d10"/>
<rect x="2" y="123" width="1.1" height="1.15" fill="#050503"/>
<rect x="2" y="124" width="1.1" height="1.15" fill="#090907"/>
<rect x="2" y="125" width="1.1" height="1.15" fill="#070705"/>
<rect x="3" y="123" width="1.1" height="1.15" fill="#050503"/>
<rect x="3" y="124" width="1.1" height="1.15" fill="#0b0b08"/>
<rect x="3" y="125" width="1.1" height="1.15" fill="#070705"/>
<rect x="4" y="123" width="1.1" height="1.15" fill="#0d4618"/>
<rect x="4" y="124" width="1.1" height="1.15" fill="#1b9332"/>
<rect x="4" y="125" width="1.1" height="1.15" fill="#136b24"/>
<rect x="5" y="123" width="1.1" height="1.15" fill="#560b0e"/>
<rect x="5" y="124" width="1.1" height="1.15" fill="#b8181e"/>
<rect x="5" y="125" width="1.1" height="1.15" fill="#931318"/>
<rect x="6" y="123" width="1.1" height="1.15" fill="#5e0c0f"/>
<rect x="6" y="124" width="1.1" height="1.15" fill="#a9161b"/>
<rect x="6" y="125" width="1.1" height="1.15" fill="#7d1014"/>
<rect x="7" y="123" width="1.1" height="1.15" fill="#040403"/>
<rect x="7" y="124" width="1.1" height="1.15" fill="#090907"/>
<rect x="7" y="125" width="1.1" height="1.15" fill="#070705"/>
<rect x="8" y="123" width="1.1" height="1.15" fill="#420709"/>
<rect x="8" y="124" width="1.1" height="1.15" fill="#780d11"/>
<rect x="8" y="125" width="1.1" height="1.15" fill="#700c10"/>
<rect x="9" y="123" width="1.1" height="1.15" fill="#041e0a"/>
<rect x="9" y="124" width="1.1" height="1.15" fill="#093c15"/>
<rect x="9" y="125" width="1.1" height="1.15" fill="#073111"/>
<rect x="0" y="126" width="1.1" height="1.15" fill="#090906"/>
<rect x="0" y="127" width="1.1" height="1.15" fill="#0a0a07"/>
<rect x="0" y="128" width="1.1" height="1.15" fill="#080805"/>
<rect x="1" y="126" width="1.1" height="1.15" fill="#090906"/>
<rect x="1" y="127" width="1.1" height="1.15" fill="#0a0a07"/>
<rect x="1" y="128" width="1.1" height="1.15" fill="#080805"/>
<rect x="2" y="126" width="1.1" height="1.15" fill="#4c0709"/>
<rect x="2" y="127" width="1.1" height="1.15" fill="#410607"/>
<rect x="2" y="128" width="1.1" height="1.15" fill="#330506"/>
<rect x="3" y="126" width="1.1" height="1.15" fill="#951116"/>
<rect x="3" y="127" width="1.1" height="1.15" fill="#690c0f"/>
<rect x="3" y="128" width="1.1" height="1.15" fill="#610b0e"/>
<rect x="4" y="126" width="1.1" height="1.15" fill="#12772a"/>
<rect x="4" y="127" width="1.1" height="1.15" fill="#0d531d"/>
<rect x="4" y="128" width="1.1" height="1.15" fill="#0c511d"/>
<rect x="5" y="126" width="1.1" height="1.15" fill="#0a0a07"/>
<rect x="5" y="127" width="1.1" height="1.15" fill="#080806"/>
<rect x="5" y="128" width="1.1" height="1.15" fill="#090906"/>
<rect x="6" y="126" width="1.1" height="1.15" fill="#0f6524"/>
<rect x="6" y="127" width="1.1" height="1.15" fill="#0c501c"/>
<rect x="6" y="128" width="1.1" height="1.15" fill="#0c501c"/>
<rect x="7" y="126" width="1.1" height="1.15" fill="#17812c"/>
<rect x="7" y="127" width="1.1" height="1.15" fill="#1b9131"/>
<rect x="7" y="128" width="1.1" height="1.15" fill="#18842d"/>
<rect x="8" y="126" width="1.1" height="1.15" fill="#127429"/>
<rect x="8" y="127" width="1.1" height="1.15" fill="#0c511c"/>
<rect x="8" y="128" width="1.1" height="1.15" fill="#0d551e"/>
<rect x="9" y="126" width="1.1" height="1.15" fill="#0f6122"/>
<rect x="9" y="127" width="1.1" height="1.15" fill="#0e5d21"/>
<rect x="9" y="128" width="1.1" height="1.15" fill="#0c4c1b"/>
<rect x="0" y="129" width="1.1" height="1.15" fill="#320506"/>
<rect x="0" y="130" width="1.1" height="1.15" fill="#330506"/>
<rect x="0" y="131" width="1.1" height="1.15" fill="#460708"/>
<rect x="1" y="129" width="1.1" height="1.15" fill="#090906"/>
<rect x="1" y="130" width="1.1" height="1.15" fill="#050504"/>
<rect x="1" y="131" width="1.1" height="1.15" fill="#0a0a07"/>
<rect x="2" y="129" width="1.1" height="1.15" fill="#073011"/>
<rect x="2" y="130" width="1.1" height="1.15" fill="#05230c"/>
<rect x="2" y="131" width="1.1" height="1.15" fill="#0a4518"/>
<rect x="3" y="129" width="1.1" height="1.15" fill="#062d10"/>
<rect x="3" y="130" width="1.1" height="1.15" fill="#05240d"/>
<rect x="3" y="131" width="1.1" height="1.15" fill="#083714"/>
<rect x="4" y="129" width="1.1" height="1.15" fill="#080806"/>
<rect x="4" y="130" width="1.1" height="1.15" fill="#060604"/>
<rect x="4" y="131" width="1.1" height="1.15" fill="#0d0d09"/>
<rect x="5" y="129" width="1.1" height="1.15" fill="#126522"/>
<rect x="5" y="130" width="1.1" height="1.15" fill="#0e501b"/>
<rect x="5" y="131" width="1.1" height="1.15" fill="#20b03c"/>
<rect x="6" y="129" width="1.1" height="1.15" fill="#410607"/>
<rect x="6" y="130" width="1.1" height="1.15" fill="#2b0405"/>
<rect x="6" y="131" width="1.1" height="1.15" fill="#57080a"/>
<rect x="7" y="129" width="1.1" height="1.15" fill="#167829"/>
<rect x="7" y="130" width="1.1" height="1.15" fill="#10591e"/>
<rect x="7" y="131" width="1.1" height="1.15" fill="#1ea638"/>
<rect x="8" y="129" width="1.1" height="1.15" fill="#167a29"/>
<rect x="8" y="130" width="1.1" height="1.15" fill="#0e4f1b"/>
<rect x="8" y="131" width="1.1" height="1.15" fill="#1d9e36"/>
<rect x="9" y="129" width="1.1" height="1.15" fill="#177f2b"/>
<rect x="9" y="130" width="1.1" height="1.15" fill="#0f551d"/>
<rect x="9" y="131" width="1.1" height="1.15" fill="#1ea638"/>
<rect x="0" y="132" width="1.1" height="1.15" fill="#8e1217"/>
<rect x="0" y="133" width="1.1" height="1.15" fill="#ac161c"/>
<rect x="0" y="134" width="1.1" height="1.15" fill="#cb1a21"/>
<rect x="1" y="132" width="1.1" height="1.15" fill="#56090c"/>
<rect x="1" y="133" width="1.1" height="1.15" fill="#660b0f"/>
<rect x="1" y="134" width="1.1" height="1.15" fill="#7f0e12"/>
<rect x="2" y="132" width="1.1" height="1.15" fill="#136623"/>
<rect x="2" y="133" width="1.1" height="1.15" fill="#18812c"/>
<rect x="2" y="134" width="1.1" height="1.15" fill="#20b13c"/>
<rect x="3" y="132" width="1.1" height="1.15" fill="#136623"/>
<rect x="3" y="133" width="1.1" height="1.15" fill="#157227"/>
<rect x="3" y="134" width="1.1" height="1.15" fill="#1c9733"/>
<rect x="4" y="132" width="1.1" height="1.15" fill="#060604"/>
<rect x="4" y="133" width="1.1" height="1.15" fill="#080806"/>
<rect x="4" y="134" width="1.1" height="1.15" fill="#0a0a07"/>
<rect x="5" y="132" width="1.1" height="1.15" fill="#167c2a"/>
<rect x="5" y="133" width="1.1" height="1.15" fill="#17812c"/>
<rect x="5" y="134" width="1.1" height="1.15" fill="#1ea337"/>
<rect x="6" y="132" width="1.1" height="1.15" fill="#146c25"/>
<rect x="6" y="133" width="1.1" height="1.15" fill="#146d25"/>
<rect x="6" y="134" width="1.1" height="1.15" fill="#22b73e"/>
<rect x="7" y="132" width="1.1" height="1.15" fill="#0c511d"/>
<rect x="7" y="133" width="1.1" height="1.15" fill="#0d531d"/>
<rect x="7" y="134" width="1.1" height="1.15" fill="#137d2c"/>
<rect x="8" y="132" width="1.1" height="1.15" fill="#070705"/>
<rect x="8" y="133" width="1.1" height="1.15" fill="#070705"/>
<rect x="8" y="134" width="1.1" height="1.15" fill="#0a0a07"/>
<rect x="9" y="132" width="1.1" height="1.15" fill="#310405"/>
<rect x="9" y="133" width="1.1" height="1.15" fill="#3f0607"/>
<rect x="9" y="134" width="1.1" height="1.15" fill="#57080a"/>
<rect x="0" y="135" width="1.1" height="1.15" fill="#da1c23"/>
<rect x="0" y="136" width="1.1" height="1.15" fill="#640d10"/>
<rect x="0" y="137" width="1.1" height="1.15" fill="#e21d25"/>
<rect x="1" y="135" width="1.1" height="1.15" fill="#d71c23"/>
<rect x="1" y="136" width="1.1" height="1.15" fill="#5f0c0f"/>
<rect x="1" y="137" width="1.1" height="1.15" fill="#db1c23"/>
<rect x="2" y="135" width="1.1" height="1.15" fill="#23bf41"/>
<rect x="2" y="136" width="1.1" height="1.15" fill="#115d1f"/>
<rect x="2" y="137" width="1.1" height="1.15" fill="#27d548"/>
<rect x="3" y="135" width="1.1" height="1.15" fill="#1ea638"/>
<rect x="3" y="136" width="1.1" height="1.15" fill="#126121"/>
<rect x="3" y="137" width="1.1" height="1.15" fill="#26ce46"/>
<rect x="4" y="135" width="1.1" height="1.15" fill="#0d0d09"/>
<rect x="4" y="136" width="1.1" height="1.15" fill="#060604"/>
<rect x="4" y="137" width="1.1" height="1.15" fill="#0b0b08"/>
<rect x="5" y="135" width="1.1" height="1.15" fill="#24c643"/>
<rect x="5" y="136" width="1.1" height="1.15" fill="#126221"/>
<rect x="5" y="137" width="1.1" height="1.15" fill="#1fa839"/>
<rect x="6" y="135" width="1.1" height="1.15" fill="#23bc40"/>
<rect x="6" y="136" width="1.1" height="1.15" fill="#126321"/>
<rect x="6" y="137" width="1.1" height="1.15" fill="#20b13c"/>
<rect x="7" y="135" width="1.1" height="1.15" fill="#0b4d1b"/>
<rect x="7" y="136" width="1.1" height="1.15" fill="#05250d"/>
<rect x="7" y="137" width="1.1" height="1.15" fill="#0a4619"/>
<rect x="8" y="135" width="1.1" height="1.15" fill="#0b0b08"/>
<rect x="8" y="136" width="1.1" height="1.15" fill="#050503"/>
<rect x="8" y="137" width="1.1" height="1.15" fill="#0e0e0a"/>
<rect x="9" y="135" width="1.1" height="1.15" fill="#0c0c08"/>
<rect x="9" y="136" width="1.1" height="1.15" fill="#050504"/>
<rect x="9" y="137" width="1.1" height="1.15" fill="#0c0c09"/>
<rect x="0" y="138" width="1.1" height="1.15" fill="#ff252f"/>
<rect x="0" y="139" width="1.1" height="1.15" fill="#7d1014"/>
<rect x="0" y="140" width="1.1" height="1.15" fill="#560b0e"/>
<rect x="1" y="138" width="1.1" height="1.15" fill="#770b0e"/>
<rect x="1" y="139" width="1.1" height="1.15" fill="#320506"/>
<rect x="1" y="140" width="1.1" height="1.15" fill="#1f0303"/>
<rect x="2" y="138" width="1.1" height="1.15" fill="#2cef51"/>
<rect x="2" y="139" width="1.1" height="1.15" fill="#126622"/>
<rect x="2" y="140" width="1.1" height="1.15" fill="#0c4417"/>
<rect x="3" y="138" width="1.1" height="1.15" fill="#2cf252"/>
<rect x="3" y="139" width="1.1" height="1.15" fill="#126522"/>
<rect x="3" y="140" width="1.1" height="1.15" fill="#0f531c"/>
<rect x="4" y="138" width="1.1" height="1.15" fill="#0d0d09"/>
<rect x="4" y="139" width="1.1" height="1.15" fill="#070705"/>
<rect x="4" y="140" width="1.1" height="1.15" fill="#040403"/>
<rect x="5" y="138" width="1.1" height="1.15" fill="#28d94a"/>
<rect x="5" y="139" width="1.1" height="1.15" fill="#147026"/>
<rect x="5" y="140" width="1.1" height="1.15" fill="#0d4818"/>
<rect x="6" y="138" width="1.1" height="1.15" fill="#27d649"/>
<rect x="6" y="139" width="1.1" height="1.15" fill="#136823"/>
<rect x="6" y="140" width="1.1" height="1.15" fill="#0f521c"/>
<rect x="7" y="138" width="1.1" height="1.15" fill="#10100b"/>
<rect x="7" y="139" width="1.1" height="1.15" fill="#080805"/>
<rect x="7" y="140" width="1.1" height="1.15" fill="#050503"/>
<rect x="8" y="138" width="1.1" height="1.15" fill="#0c0c09"/>
<rect x="8" y="139" width="1.1" height="1.15" fill="#070705"/>
<rect x="8" y="140" width="1.1" height="1.15" fill="#040403"/>
<rect x="9" y="138" width="1.1" height="1.15" fill="#0d0d09"/>
<rect x="9" y="139" width="1.1" height="1.15" fill="#080806"/>
<rect x="9" y="140" width="1.1" height="1.15" fill="#050504"/>
<rect x="0" y="141" width="1.1" height="1.15" fill="#f82028"/>
<rect x="0" y="142" width="1.1" height="1.15" fill="#a3151a"/>
<rect x="0" y="143" width="1.1" height="1.15" fill="#780f13"/>
<rect x="1" y="141" width="1.1" height="1.15" fill="#eb1e26"/>
<rect x="1" y="142" width="1.1" height="1.15" fill="#b0171c"/>
<rect x="1" y="143" width="1.1" height="1.15" fill="#790f13"/>
<rect x="2" y="141" width="1.1" height="1.15" fill="#23c141"/>
<rect x="2" y="142" width="1.1" height="1.15" fill="#20b13c"/>
<rect x="2" y="143" width="1.1" height="1.15" fill="#0f541c"/>
<rect x="3" y="141" width="1.1" height="1.15" fill="#179836"/>
<rect x="3" y="142" width="1.1" height="1.15" fill="#0e5e21"/>
<rect x="3" y="143" width="1.1" height="1.15" fill="#0a4418"/>
<rect x="4" y="141" width="1.1" height="1.15" fill="#0e0e0a"/>
<rect x="4" y="142" width="1.1" height="1.15" fill="#0a0a07"/>
<rect x="4" y="143" width="1.1" height="1.15" fill="#060604"/>
<rect x="5" y="141" width="1.1" height="1.15" fill="#28da4a"/>
<rect x="5" y="142" width="1.1" height="1.15" fill="#1b9131"/>
<rect x="5" y="143" width="1.1" height="1.15" fill="#0e4f1b"/>
<rect x="6" y="141" width="1.1" height="1.15" fill="#28d94a"/>
<rect x="6" y="142" width="1.1" height="1.15" fill="#19872e"/>
<rect x="6" y="143" width="1.1" height="1.15" fill="#126322"/>
<rect x="7" y="141" width="1.1" height="1.15" fill="#0d0d09"/>
<rect x="7" y="142" width="1.1" height="1.15" fill="#090906"/>
<rect x="7" y="143" width="1.1" height="1.15" fill="#050504"/>
<rect x="8" y="141" width="1.1" height="1.15" fill="#14802d"/>
<rect x="8" y="142" width="1.1" height="1.15" fill="#0f6524"/>
<rect x="8" y="143" width="1.1" height="1.15" fill="#093e16"/>
<rect x="9" y="141" width="1.1" height="1.15" fill="#0e0e0a"/>
<rect x="9" y="142" width="1.1" height="1.15" fill="#0a0a07"/>
<rect x="9" y="143" width="1.1" height="1.15" fill="#050504"/>
<rect x="0" y="144" width="1.1" height="1.15" fill="#bd181e"/>
<rect x="0" y="145" width="1.1" height="1.15" fill="#e31d25"/>
<rect x="0" y="146" width="1.1" height="1.15" fill="#931318"/>
<rect x="1" y="144" width="1.1" height="1.15" fill="#9d1419"/>
<rect x="1" y="145" width="1.1" height="1.15" fill="#fc2129"/>
<rect x="1" y="146" width="1.1" height="1.15" fill="#a5151a"/>
<rect x="2" y="144" width="1.1" height="1.15" fill="#1a8d30"/>
<rect x="2" y="145" width="1.1" height="1.15" fill="#23c041"/>
<rect x="2" y="146" width="1.1" height="1.15" fill="#1c9934"/>
<rect x="3" y="144" width="1.1" height="1.15" fill="#1a8d30"/>
<rect x="3" y="145" width="1.1" height="1.15" fill="#22b73e"/>
<rect x="3" y="146" width="1.1" height="1.15" fill="#18852d"/>
<rect x="4" y="144" width="1.1" height="1.15" fill="#3c0607"/>
<rect x="4" y="145" width="1.1" height="1.15" fill="#5e090b"/>
<rect x="4" y="146" width="1.1" height="1.15" fill="#430608"/>
<rect x="5" y="144" width="1.1" height="1.15" fill="#1b9231"/>
<rect x="5" y="145" width="1.1" height="1.15" fill="#22bc40"/>
<rect x="5" y="146" width="1.1" height="1.15" fill="#19892f"/>
<rect x="6" y="144" width="1.1" height="1.15" fill="#1c9c35"/>
<rect x="6" y="145" width="1.1" height="1.15" fill="#20ad3b"/>
<rect x="6" y="146" width="1.1" height="1.15" fill="#1d9f36"/>
<rect x="7" y="144" width="1.1" height="1.15" fill="#073111"/>
<rect x="7" y="145" width="1.1" height="1.15" fill="#0c501d"/>
<rect x="7" y="146" width="1.1" height="1.15" fill="#072f11"/>
<rect x="8" y="144" width="1.1" height="1.15" fill="#0a0a07"/>
<rect x="8" y="145" width="1.1" height="1.15" fill="#0c0c08"/>
<rect x="8" y="146" width="1.1" height="1.15" fill="#080805"/>
<rect x="9" y="144" width="1.1" height="1.15" fill="#480708"/>
<rect x="9" y="145" width="1.1" height="1.15" fill="#660a0c"/>
<rect x="9" y="146" width="1.1" height="1.15" fill="#4a0708"/>
<rect x="0" y="147" width="1.1" height="1.15" fill="#ed1f26"/>
<rect x="0" y="148" width="1.1" height="1.15" fill="#ea1e26"/>
<rect x="0" y="149" width="1.1" height="1.15" fill="#660d10"/>
<rect x="1" y="147" width="1.1" height="1.15" fill="#63090b"/>
<rect x="1" y="148" width="1.1" height="1.15" fill="#740b0d"/>
<rect x="1" y="149" width="1.1" height="1.15" fill="#2a0405"/>
<rect x="2" y="147" width="1.1" height="1.15" fill="#2ced51"/>
<rect x="2" y="148" width="1.1" height="1.15" fill="#2bea4f"/>
<rect x="2" y="149" width="1.1" height="1.15" fill="#10581e"/>
<rect x="3" y="147" width="1.1" height="1.15" fill="#26d147"/>
<rect x="3" y="148" width="1.1" height="1.15" fill="#24c242"/>
<rect x="3" y="149" width="1.1" height="1.15" fill="#10591e"/>
<rect x="4" y="147" width="1.1" height="1.15" fill="#0c0c08"/>
<rect x="4" y="148" width="1.1" height="1.15" fill="#0d0d09"/>
<rect x="4" y="149" width="1.1" height="1.15" fill="#050504"/>
<rect x="5" y="147" width="1.1" height="1.15" fill="#23c041"/>
<rect x="5" y="148" width="1.1" height="1.15" fill="#2be94f"/>
<rect x="5" y="149" width="1.1" height="1.15" fill="#0c4417"/>
<rect x="6" y="147" width="1.1" height="1.15" fill="#22bc40"/>
<rect x="6" y="148" width="1.1" height="1.15" fill="#2bec50"/>
<rect x="6" y="149" width="1.1" height="1.15" fill="#0c4417"/>
<rect x="7" y="147" width="1.1" height="1.15" fill="#0c4e1c"/>
<rect x="7" y="148" width="1.1" height="1.15" fill="#0e5f22"/>
<rect x="7" y="149" width="1.1" height="1.15" fill="#041b09"/>
<rect x="8" y="147" width="1.1" height="1.15" fill="#0c531d"/>
<rect x="8" y="148" width="1.1" height="1.15" fill="#0d5a20"/>
<rect x="8" y="149" width="1.1" height="1.15" fill="#041f0b"/>
<rect x="9" y="147" width="1.1" height="1.15" fill="#6c0a0d"/>
<rect x="9" y="148" width="1.1" height="1.15" fill="#720b0d"/>
<rect x="9" y="149" width="1.1" height="1.15" fill="#210303"/>
<rect x="0" y="150" width="1.1" height="1.15" fill="#2d0405"/>
<rect x="0" y="151" width="1.1" height="1.15" fill="#4d0709"/>
<rect x="0" y="152" width="1.1" height="1.15" fill="#5f090b"/>
<rect x="1" y="150" width="1.1" height="1.15" fill="#851115"/>
<rect x="1" y="151" width="1.1" height="1.15" fill="#b5171d"/>
<rect x="1" y="152" width="1.1" height="1.15" fill="#ff222b"/>
<rect x="2" y="150" width="1.1" height="1.15" fill="#136a24"/>
<rect x="2" y="151" width="1.1" height="1.15" fill="#19892e"/>
<rect x="2" y="152" width="1.1" height="1.15" fill="#2bec50"/>
<rect x="3" y="150" width="1.1" height="1.15" fill="#146e25"/>
<rect x="3" y="151" width="1.1" height="1.15" fill="#1faa3a"/>
<rect x="3" y="152" width="1.1" height="1.15" fill="#26ce46"/>
<rect x="4" y="150" width="1.1" height="1.15" fill="#060604"/>
<rect x="4" y="151" width="1.1" height="1.15" fill="#090906"/>
<rect x="4" y="152" width="1.1" height="1.15" fill="#10100c"/>
<rect x="5" y="150" width="1.1" height="1.15" fill="#126321"/>
<rect x="5" y="151" width="1.1" height="1.15" fill="#1b9532"/>
<rect x="5" y="152" width="1.1" height="1.15" fill="#29de4b"/>
<rect x="6" y="150" width="1.1" height="1.15" fill="#0b491a"/>
<rect x="6" y="151" width="1.1" height="1.15" fill="#0f6323"/>
<rect x="6" y="152" width="1.1" height="1.15" fill="#168f33"/>
<rect x="7" y="150" width="1.1" height="1.15" fill="#070705"/>
<rect x="7" y="151" width="1.1" height="1.15" fill="#0b0b08"/>
<rect x="7" y="152" width="1.1" height="1.15" fill="#0e0e0a"/>
<rect x="8" y="150" width="1.1" height="1.15" fill="#060604"/>
<rect x="8" y="151" width="1.1" height="1.15" fill="#0b0b08"/>
<rect x="8" y="152" width="1.1" height="1.15" fill="#10100b"/>
<rect x="9" y="150" width="1.1" height="1.15" fill="#320506"/>
<rect x="9" y="151" width="1.1" height="1.15" fill="#490708"/>
<rect x="9" y="152" width="1.1" height="1.15" fill="#7a0c0e"/>
<rect x="0" y="153" width="1.1" height="1.15" fill="#9d1419"/>
<rect x="0" y="154" width="1.1" height="1.15" fill="#811015"/>
<rect x="0" y="155" width="1.1" height="1.15" fill="#630d10"/>
<rect x="1" y="153" width="1.1" height="1.15" fill="#4c0709"/>
<rect x="1" y="154" width="1.1" height="1.15" fill="#350506"/>
<rect x="1" y="155" width="1.1" height="1.15" fill="#290405"/>
<rect x="2" y="153" width="1.1" height="1.15" fill="#1a9031"/>
<rect x="2" y="154" width="1.1" height="1.15" fill="#146c24"/>
<rect x="2" y="155" width="1.1" height="1.15" fill="#105a1e"/>
<rect x="3" y="153" width="1.1" height="1.15" fill="#19892f"/>
<rect x="3" y="154" width="1.1" height="1.15" fill="#136924"/>
<rect x="3" y="155" width="1.1" height="1.15" fill="#10561d"/>
<rect x="4" y="153" width="1.1" height="1.15" fill="#490708"/>
<rect x="4" y="154" width="1.1" height="1.15" fill="#2e0405"/>
<rect x="4" y="155" width="1.1" height="1.15" fill="#2e0405"/>
<rect x="5" y="153" width="1.1" height="1.15" fill="#18812c"/>
<rect x="5" y="154" width="1.1" height="1.15" fill="#157427"/>
<rect x="5" y="155" width="1.1" height="1.15" fill="#0e4c19"/>
<rect x="6" y="153" width="1.1" height="1.15" fill="#19892e"/>
<rect x="6" y="154" width="1.1" height="1.15" fill="#136723"/>
<rect x="6" y="155" width="1.1" height="1.15" fill="#115c1f"/>
<rect x="7" y="153" width="1.1" height="1.15" fill="#072f11"/>
<rect x="7" y="154" width="1.1" height="1.15" fill="#05250d"/>
<rect x="7" y="155" width="1.1" height="1.15" fill="#041d0a"/>
<rect x="8" y="153" width="1.1" height="1.15" fill="#090906"/>
<rect x="8" y="154" width="1.1" height="1.15" fill="#070705"/>
<rect x="8" y="155" width="1.1" height="1.15" fill="#050503"/>
<rect x="9" y="153" width="1.1" height="1.15" fill="#080806"/>
<rect x="9" y="154" width="1.1" height="1.15" fill="#060604"/>
<rect x="9" y="155" width="1.1" height="1.15" fill="#060604"/>
<rect x="0" y="156" width="1.1" height="1.15" fill="#b1171c"/>
<rect x="0" y="157" width="1.1" height="1.15" fill="#cf1b21"/>
<rect x="0" y="158" width="1.1" height="1.15" fill="#921317"/>
<rect x="1" y="156" width="1.1" height="1.15" fill="#901217"/>
<rect x="1" y="157" width="1.1" height="1.15" fill="#ba181e"/>
<rect x="1" y="158" width="1.1" height="1.15" fill="#8a1216"/>
<rect x="2" y="156" width="1.1" height="1.15" fill="#0d531d"/>
<rect x="2" y="157" width="1.1" height="1.15" fill="#12752a"/>
<rect x="2" y="158" width="1.1" height="1.15" fill="#0b4b1a"/>
<rect x="3" y="156" width="1.1" height="1.15" fill="#18842d"/>
<rect x="3" y="157" width="1.1" height="1.15" fill="#1ea438"/>
<rect x="3" y="158" width="1.1" height="1.15" fill="#167728"/>
<rect x="4" y="156" width="1.1" height="1.15" fill="#090906"/>
<rect x="4" y="157" width="1.1" height="1.15" fill="#0c0c08"/>
<rect x="4" y="158" width="1.1" height="1.15" fill="#070705"/>
<rect x="5" y="156" width="1.1" height="1.15" fill="#19872e"/>
<rect x="5" y="157" width="1.1" height="1.15" fill="#19892f"/>
<rect x="5" y="158" width="1.1" height="1.15" fill="#157628"/>
<rect x="6" y="156" width="1.1" height="1.15" fill="#19872e"/>
<rect x="6" y="157" width="1.1" height="1.15" fill="#1da036"/>
<rect x="6" y="158" width="1.1" height="1.15" fill="#146e25"/>
<rect x="7" y="156" width="1.1" height="1.15" fill="#080805"/>
<rect x="7" y="157" width="1.1" height="1.15" fill="#090906"/>
<rect x="7" y="158" width="1.1" height="1.15" fill="#070705"/>
<rect x="8" y="156" width="1.1" height="1.15" fill="#3c0607"/>
<rect x="8" y="157" width="1.1" height="1.15" fill="#55080a"/>
<rect x="8" y="158" width="1.1" height="1.15" fill="#3a0506"/>
<rect x="9" y="156" width="1.1" height="1.15" fill="#3f0607"/>
<rect x="9" y="157" width="1.1" height="1.15" fill="#520809"/>
<rect x="9" y="158" width="1.1" height="1.15" fill="#3b0507"/>
<rect x="0" y="159" width="1.1" height="1.15" fill="#6f0e12"/>
<rect x="0" y="160" width="1.1" height="1.15" fill="#c71a20"/>
<rect x="0" y="161" width="1.1" height="1.15" fill="#770f13"/>
<rect x="1" y="159" width="1.1" height="1.15" fill="#240304"/>
<rect x="1" y="160" width="1.1" height="1.15" fill="#650a0c"/>
<rect x="1" y="161" width="1.1" height="1.15" fill="#390506"/>
<rect x="2" y="159" width="1.1" height="1.15" fill="#083814"/>
<rect x="2" y="160" width="1.1" height="1.15" fill="#117228"/>
<rect x="2" y="161" width="1.1" height="1.15" fill="#0b4719"/>
<rect x="3" y="159" width="1.1" height="1.15" fill="#0f561d"/>
<rect x="3" y="160" width="1.1" height="1.15" fill="#1ea237"/>
<rect x="3" y="161" width="1.1" height="1.15" fill="#167829"/>
<rect x="4" y="159" width="1.1" height="1.15" fill="#060604"/>
<rect x="4" y="160" width="1.1" height="1.15" fill="#0e0e0a"/>
<rect x="4" y="161" width="1.1" height="1.15" fill="#070705"/>
<rect x="5" y="159" width="1.1" height="1.15" fill="#093914"/>
<rect x="5" y="160" width="1.1" height="1.15" fill="#169234"/>
<rect x="5" y="161" width="1.1" height="1.15" fill="#0a4318"/>
<rect x="6" y="159" width="1.1" height="1.15" fill="#0e4c1a"/>
<rect x="6" y="160" width="1.1" height="1.15" fill="#1ea638"/>
<rect x="6" y="161" width="1.1" height="1.15" fill="#116021"/>
<rect x="7" y="159" width="1.1" height="1.15" fill="#060604"/>
<rect x="7" y="160" width="1.1" height="1.15" fill="#0b0b08"/>
<rect x="7" y="161" width="1.1" height="1.15" fill="#070705"/>
<rect x="8" y="159" width="1.1" height="1.15" fill="#430709"/>
<rect x="8" y="160" width="1.1" height="1.15" fill="#b1141a"/>
<rect x="8" y="161" width="1.1" height="1.15" fill="#620b0e"/>
<rect x="9" y="159" width="1.1" height="1.15" fill="#660d10"/>
<rect x="9" y="160" width="1.1" height="1.15" fill="#f62028"/>
<rect x="9" y="161" width="1.1" height="1.15" fill="#6e0e12"/>
<rect x="0" y="162" width="1.1" height="1.15" fill="#640b0f"/>
<rect x="0" y="163" width="1.1" height="1.15" fill="#7a0d12"/>
<rect x="0" y="164" width="1.1" height="1.15" fill="#7e0e12"/>
<rect x="1" y="162" width="1.1" height="1.15" fill="#971318"/>
<rect x="1" y="163" width="1.1" height="1.15" fill="#a2151a"/>
<rect x="1" y="164" width="1.1" height="1.15" fill="#9d1419"/>
<rect x="2" y="162" width="1.1" height="1.15" fill="#062a0f"/>
<rect x="2" y="163" width="1.1" height="1.15" fill="#083412"/>
<rect x="2" y="164" width="1.1" height="1.15" fill="#083914"/>
<rect x="3" y="162" width="1.1" height="1.15" fill="#0b491a"/>
<rect x="3" y="163" width="1.1" height="1.15" fill="#0d531d"/>
<rect x="3" y="164" width="1.1" height="1.15" fill="#0f6122"/>
<rect x="4" y="162" width="1.1" height="1.15" fill="#070705"/>
<rect x="4" y="163" width="1.1" height="1.15" fill="#090906"/>
<rect x="4" y="164" width="1.1" height="1.15" fill="#070705"/>
<rect x="5" y="162" width="1.1" height="1.15" fill="#0c501c"/>
<rect x="5" y="163" width="1.1" height="1.15" fill="#0d571f"/>
<rect x="5" y="164" width="1.1" height="1.15" fill="#0d551e"/>
<rect x="6" y="162" width="1.1" height="1.15" fill="#0c4e1c"/>
<rect x="6" y="163" width="1.1" height="1.15" fill="#0d571f"/>
<rect x="6" y="164" width="1.1" height="1.15" fill="#106b26"/>
<rect x="7" y="162" width="1.1" height="1.15" fill="#3d0607"/>
<rect x="7" y="163" width="1.1" height="1.15" fill="#400607"/>
<rect x="7" y="164" width="1.1" height="1.15" fill="#4a0708"/>
<rect x="8" y="162" width="1.1" height="1.15" fill="#961318"/>
<rect x="8" y="163" width="1.1" height="1.15" fill="#8a1216"/>
<rect x="8" y="164" width="1.1" height="1.15" fill="#b4171d"/>
<rect x="9" y="162" width="1.1" height="1.15" fill="#3c0607"/>
<rect x="9" y="163" width="1.1" height="1.15" fill="#470708"/>
<rect x="9" y="164" width="1.1" height="1.15" fill="#480708"/>
<rect x="0" y="165" width="1.1" height="1.15" fill="#901217"/>
<rect x="0" y="166" width="1.1" height="1.15" fill="#851115"/>
<rect x="0" y="167" width="1.1" height="1.15" fill="#d21b22"/>
<rect x="1" y="165" width="1.1" height="1.15" fill="#ad161c"/>
<rect x="1" y="166" width="1.1" height="1.15" fill="#760f13"/>
<rect x="1" y="167" width="1.1" height="1.15" fill="#c1191f"/>
<rect x="2" y="165" width="1.1" height="1.15" fill="#0a0a07"/>
<rect x="2" y="166" width="1.1" height="1.15" fill="#070705"/>
<rect x="2" y="167" width="1.1" height="1.15" fill="#0b0b08"/>
<rect x="3" y="165" width="1.1" height="1.15" fill="#073312"/>
<rect x="3" y="166" width="1.1" height="1.15" fill="#05260d"/>
<rect x="3" y="167" width="1.1" height="1.15" fill="#0a4418"/>
<rect x="4" y="165" width="1.1" height="1.15" fill="#400607"/>
<rect x="4" y="166" width="1.1" height="1.15" fill="#2f0405"/>
<rect x="4" y="167" width="1.1" height="1.15" fill="#60090b"/>
<rect x="5" y="165" width="1.1" height="1.15" fill="#0a0a07"/>
<rect x="5" y="166" width="1.1" height="1.15" fill="#070705"/>
<rect x="5" y="167" width="1.1" height="1.15" fill="#0a0a07"/>
<rect x="6" y="165" width="1.1" height="1.15" fill="#0c511d"/>
<rect x="6" y="166" width="1.1" height="1.15" fill="#0b4b1a"/>
<rect x="6" y="167" width="1.1" height="1.15" fill="#14802e"/>
<rect x="7" y="165" width="1.1" height="1.15" fill="#090906"/>
<rect x="7" y="166" width="1.1" height="1.15" fill="#060604"/>
<rect x="7" y="167" width="1.1" height="1.15" fill="#0c0c08"/>
<rect x="8" y="165" width="1.1" height="1.15" fill="#710c10"/>
<rect x="8" y="166" width="1.1" height="1.15" fill="#54090c"/>
<rect x="8" y="167" width="1.1" height="1.15" fill="#961116"/>
<rect x="9" y="165" width="1.1" height="1.15" fill="#3f0607"/>
<rect x="9" y="166" width="1.1" height="1.15" fill="#340506"/>
<rect x="9" y="167" width="1.1" height="1.15" fill="#5a090a"/>
<rect x="0" y="168" width="1.1" height="1.15" fill="#ff2731"/>
<rect x="0" y="169" width="1.1" height="1.15" fill="#6f0e12"/>
<rect x="0" y="170" width="1.1" height="1.15" fill="#c3191f"/>
<rect x="1" y="168" width="1.1" height="1.15" fill="#ff2630"/>
<rect x="1" y="169" width="1.1" height="1.15" fill="#5b0b0e"/>
<rect x="1" y="170" width="1.1" height="1.15" fill="#cf1b21"/>
<rect x="2" y="168" width="1.1" height="1.15" fill="#0f0f0b"/>
<rect x="2" y="169" width="1.1" height="1.15" fill="#060604"/>
<rect x="2" y="170" width="1.1" height="1.15" fill="#0a0a07"/>
<rect x="3" y="168" width="1.1" height="1.15" fill="#0d571f"/>
<rect x="3" y="169" width="1.1" height="1.15" fill="#041e0a"/>
<rect x="3" y="170" width="1.1" height="1.15" fill="#093d15"/>
<rect x="4" y="168" width="1.1" height="1.15" fill="#f62028"/>
<rect x="4" y="169" width="1.1" height="1.15" fill="#770f13"/>
<rect x="4" y="170" width="1.1" height="1.15" fill="#d01b21"/>
<rect x="5" y="168" width="1.1" height="1.15" fill="#0f0f0a"/>
<rect x="5" y="169" width="1.1" height="1.15" fill="#060604"/>
<rect x="5" y="170" width="1.1" height="1.15" fill="#0a0a07"/>
<rect x="6" y="168" width="1.1" height="1.15" fill="#0f0f0a"/>
<rect x="6" y="169" width="1.1" height="1.15" fill="#050503"/>
<rect x="6" y="170" width="1.1" height="1.15" fill="#0c0c08"/>
<rect x="7" y="168" width="1.1" height="1.15" fill="#cd171e"/>
<rect x="7" y="169" width="1.1" height="1.15" fill="#51090c"/>
<rect x="7" y="170" width="1.1" height="1.15" fill="#770d11"/>
<rect x="8" y="168" width="1.1" height="1.15" fill="#d0171e"/>
<rect x="8" y="169" width="1.1" height="1.15" fill="#400709"/>
<rect x="8" y="170" width="1.1" height="1.15" fill="#8a0f14"/>
<rect x="9" y="168" width="1.1" height="1.15" fill="#bd151c"/>
<rect x="9" y="169" width="1.1" height="1.15" fill="#410709"/>
<rect x="9" y="170" width="1.1" height="1.15" fill="#850f13"/>
<rect x="0" y="171" width="1.1" height="1.15" fill="#ff232c"/>
<rect x="0" y="172" width="1.1" height="1.15" fill="#bf191f"/>
<rect x="0" y="173" width="1.1" height="1.15" fill="#a0141a"/>
<rect x="1" y="171" width="1.1" height="1.15" fill="#62090b"/>
<rect x="1" y="172" width="1.1" height="1.15" fill="#470708"/>
<rect x="1" y="173" width="1.1" height="1.15" fill="#420608"/>
<rect x="2" y="171" width="1.1" height="1.15" fill="#137b2c"/>
<rect x="2" y="172" width="1.1" height="1.15" fill="#106a25"/>
<rect x="2" y="173" width="1.1" height="1.15" fill="#0d581f"/>
<rect x="3" y="171" width="1.1" height="1.15" fill="#0c0c08"/>
<rect x="3" y="172" width="1.1" height="1.15" fill="#0b0b08"/>
<rect x="3" y="173" width="1.1" height="1.15" fill="#090906"/>
<rect x="4" y="171" width="1.1" height="1.15" fill="#680a0c"/>
<rect x="4" y="172" width="1.1" height="1.15" fill="#4e0709"/>
<rect x="4" y="173" width="1.1" height="1.15" fill="#3f0607"/>
<rect x="5" y="171" width="1.1" height="1.15" fill="#2ae44e"/>
<rect x="5" y="172" width="1.1" height="1.15" fill="#1fab3a"/>
<rect x="5" y="173" width="1.1" height="1.15" fill="#177c2a"/>
<rect x="6" y="171" width="1.1" height="1.15" fill="#0d0d09"/>
<rect x="6" y="172" width="1.1" height="1.15" fill="#0b0b07"/>
<rect x="6" y="173" width="1.1" height="1.15" fill="#090906"/>
<rect x="7" y="171" width="1.1" height="1.15" fill="#10100b"/>
<rect x="7" y="172" width="1.1" height="1.15" fill="#090906"/>
<rect x="7" y="173" width="1.1" height="1.15" fill="#070705"/>
<rect x="8" y="171" width="1.1" height="1.15" fill="#a31218"/>
<rect x="8" y="172" width="1.1" height="1.15" fill="#9b1117"/>
<rect x="8" y="173" width="1.1" height="1.15" fill="#5d0a0d"/>
<rect x="9" y="171" width="1.1" height="1.15" fill="#5b090a"/>
<rect x="9" y="172" width="1.1" height="1.15" fill="#58080a"/>
<rect x="9" y="173" width="1.1" height="1.15" fill="#340506"/>
<rect x="0" y="174" width="1.1" height="1.15" fill="#ff252f"/>
<rect x="0" y="175" width="1.1" height="1.15" fill="#9a1419"/>
<rect x="0" y="176" width="1.1" height="1.15" fill="#ff232c"/>
<rect x="1" y="174" width="1.1" height="1.15" fill="#ff212a"/>
<rect x="1" y="175" width="1.1" height="1.15" fill="#9b1419"/>
<rect x="1" y="176" width="1.1" height="1.15" fill="#d81c23"/>
<rect x="2" y="174" width="1.1" height="1.15" fill="#720b0d"/>
<rect x="2" y="175" width="1.1" height="1.15" fill="#460708"/>
<rect x="2" y="176" width="1.1" height="1.15" fill="#60090b"/>
<rect x="3" y="174" width="1.1" height="1.15" fill="#1aa63b"/>
<rect x="3" y="175" width="1.1" height="1.15" fill="#0d581f"/>
<rect x="3" y="176" width="1.1" height="1.15" fill="#168c32"/>
<rect x="4" y="174" width="1.1" height="1.15" fill="#e81e25"/>
<rect x="4" y="175" width="1.1" height="1.15" fill="#a1151a"/>
<rect x="4" y="176" width="1.1" height="1.15" fill="#ff242d"/>
<rect x="5" y="174" width="1.1" height="1.15" fill="#179736"/>
<rect x="5" y="175" width="1.1" height="1.15" fill="#0d561e"/>
<rect x="5" y="176" width="1.1" height="1.15" fill="#14842f"/>
<rect x="6" y="174" width="1.1" height="1.15" fill="#0f0f0b"/>
<rect x="6" y="175" width="1.1" height="1.15" fill="#090906"/>
<rect x="6" y="176" width="1.1" height="1.15" fill="#10100b"/>
<rect x="7" y="174" width="1.1" height="1.15" fill="#5e090b"/>
<rect x="7" y="175" width="1.1" height="1.15" fill="#4c0709"/>
<rect x="7" y="176" width="1.1" height="1.15" fill="#6a0a0c"/>
<rect x="8" y="174" width="1.1" height="1.15" fill="#10100b"/>
<rect x="8" y="175" width="1.1" height="1.15" fill="#090906"/>
<rect x="8" y="176" width="1.1" height="1.15" fill="#0c0c08"/>
<rect x="9" y="174" width="1.1" height="1.15" fill="#ef1f27"/>
<rect x="9" y="175" width="1.1" height="1.15" fill="#af161c"/>
<rect x="9" y="176" width="1.1" height="1.15" fill="#d71c23"/>
<rect x="0" y="177" width="1.1" height="1.15" fill="#750f13"/>
<rect x="0" y="178" width="1.1" height="1.15" fill="#fc2129"/>
<rect x="0" y="179" width="1.1" height="1.15" fill="#fb2029"/>
<rect x="1" y="177" width="1.1" height="1.15" fill="#750f13"/>
<rect x="1" y="178" width="1.1" height="1.15" fill="#f31f27"/>
<rect x="1" y="179" width="1.1" height="1.15" fill="#fb2029"/>
<rect x="2" y="177" width="1.1" height="1.15" fill="#050504"/>
<rect x="2" y="178" width="1.1" height="1.15" fill="#0b0b08"/>
<rect x="2" y="179" width="1.1" height="1.15" fill="#0c0c08"/>
<rect x="3" y="177" width="1.1" height="1.15" fill="#0f521c"/>
<rect x="3" y="178" width="1.1" height="1.15" fill="#23bd40"/>
<rect x="3" y="179" width="1.1" height="1.15" fill="#21b73e"/>
<rect x="4" y="177" width="1.1" height="1.15" fill="#310405"/>
<rect x="4" y="178" width="1.1" height="1.15" fill="#5f090b"/>
<rect x="4" y="179" width="1.1" height="1.15" fill="#6c0a0c"/>
<rect x="5" y="177" width="1.1" height="1.15" fill="#0a4318"/>
<rect x="5" y="178" width="1.1" height="1.15" fill="#12782a"/>
<rect x="5" y="179" width="1.1" height="1.15" fill="#189d38"/>
<rect x="6" y="177" width="1.1" height="1.15" fill="#126422"/>
<rect x="6" y="178" width="1.1" height="1.15" fill="#21b23c"/>
<rect x="6" y="179" width="1.1" height="1.15" fill="#22b73e"/>
<rect x="7" y="177" width="1.1" height="1.15" fill="#060604"/>
<rect x="7" y="178" width="1.1" height="1.15" fill="#0e0e0a"/>
<rect x="7" y="179" width="1.1" height="1.15" fill="#0f0f0a"/>
<rect x="8" y="177" width="1.1" height="1.15" fill="#2a0405"/>
<rect x="8" y="178" width="1.1" height="1.15" fill="#60090b"/>
<rect x="8" y="179" width="1.1" height="1.15" fill="#59080a"/>
<rect x="9" y="177" width="1.1" height="1.15" fill="#270304"/>
<rect x="9" y="178" width="1.1" height="1.15" fill="#5b090a"/>
<rect x="9" y="179" width="1.1" height="1.15" fill="#6c0a0c"/>
<rect x="0" y="180" width="1.1" height="1.15" fill="#2f0405"/>
<rect x="0" y="181" width="1.1" height="1.15" fill="#60090b"/>
<rect x="0" y="182" width="1.1" height="1.15" fill="#280404"/>
<rect x="1" y="180" width="1.1" height="1.15" fill="#2d0405"/>
<rect x="1" y="181" width="1.1" height="1.15" fill="#760b0e"/>
<rect x="1" y="182" width="1.1" height="1.15" fill="#240304"/>
<rect x="2" y="180" width="1.1" height="1.15" fill="#105a1e"/>
<rect x="2" y="181" width="1.1" height="1.15" fill="#25c944"/>
<rect x="2" y="182" width="1.1" height="1.15" fill="#0f531c"/>
<rect x="3" y="180" width="1.1" height="1.15" fill="#0d4b19"/>
<rect x="3" y="181" width="1.1" height="1.15" fill="#2cef51"/>
<rect x="3" y="182" width="1.1" height="1.15" fill="#0e4e1a"/>
<rect x="4" y="180" width="1.1" height="1.15" fill="#050503"/>
<rect x="4" y="181" width="1.1" height="1.15" fill="#10100b"/>
<rect x="4" y="182" width="1.1" height="1.15" fill="#040403"/>
<rect x="5" y="180" width="1.1" height="1.15" fill="#580b0e"/>
<rect x="5" y="181" width="1.1" height="1.15" fill="#ed1f26"/>
<rect x="5" y="182" width="1.1" height="1.15" fill="#4e0a0c"/>
<rect x="6" y="180" width="1.1" height="1.15" fill="#050503"/>
<rect x="6" y="181" width="1.1" height="1.15" fill="#0f0f0b"/>
<rect x="6" y="182" width="1.1" height="1.15" fill="#050504"/>
<rect x="7" y="180" width="1.1" height="1.15" fill="#10581e"/>
<rect x="7" y="181" width="1.1" height="1.15" fill="#2bed51"/>
<rect x="7" y="182" width="1.1" height="1.15" fill="#0f531c"/>
<rect x="8" y="180" width="1.1" height="1.15" fill="#4d080b"/>
<rect x="8" y="181" width="1.1" height="1.15" fill="#b0141a"/>
<rect x="8" y="182" width="1.1" height="1.15" fill="#3c0608"/>
<rect x="9" y="180" width="1.1" height="1.15" fill="#050503"/>
<rect x="9" y="181" width="1.1" height="1.15" fill="#0e0e0a"/>
<rect x="9" y="182" width="1.1" height="1.15" fill="#040403"/>
<rect x="0" y="183" width="1.1" height="1.15" fill="#5b090b"/>
<rect x="0" y="184" width="1.1" height="1.15" fill="#3d0607"/>
<rect x="0" y="185" width="1.1" height="1.15" fill="#460708"/>
<rect x="1" y="183" width="1.1" height="1.15" fill="#53080a"/>
<rect x="1" y="184" width="1.1" height="1.15" fill="#3e0607"/>
<rect x="1" y="185" width="1.1" height="1.15" fill="#470708"/>
<rect x="2" y="183" width="1.1" height="1.15" fill="#0d0d09"/>
<rect x="2" y="184" width="1.1" height="1.15" fill="#090906"/>
<rect x="2" y="185" width="1.1" height="1.15" fill="#0a0a07"/>
<rect x="3" y="183" width="1.1" height="1.15" fill="#27d348"/>
<rect x="3" y="184" width="1.1" height="1.15" fill="#177d2a"/>
<rect x="3" y="185" width="1.1" height="1.15" fill="#21b63e"/>
<rect x="4" y="183" width="1.1" height="1.15" fill="#22ba3f"/>
<rect x="4" y="184" width="1.1" height="1.15" fill="#18822c"/>
<rect x="4" y="185" width="1.1" height="1.15" fill="#1fa939"/>
<rect x="5" y="183" width="1.1" height="1.15" fill="#520809"/>
<rect x="5" y="184" width="1.1" height="1.15" fill="#3b0507"/>
<rect x="5" y="185" width="1.1" height="1.15" fill="#500809"/>
<rect x="6" y="183" width="1.1" height="1.15" fill="#0c0c08"/>
<rect x="6" y="184" width="1.1" height="1.15" fill="#080806"/>
<rect x="6" y="185" width="1.1" height="1.15" fill="#0c0c08"/>
<rect x="7" y="183" width="1.1" height="1.15" fill="#62090b"/>
<rect x="7" y="184" width="1.1" height="1.15" fill="#400607"/>
<rect x="7" y="185" width="1.1" height="1.15" fill="#460708"/>
<rect x="8" y="183" width="1.1" height="1.15" fill="#158630"/>
<rect x="8" y="184" width="1.1" height="1.15" fill="#0d551e"/>
<rect x="8" y="185" width="1.1" height="1.15" fill="#137c2c"/>
<rect x="9" y="183" width="1.1" height="1.15" fill="#0a0a07"/>
<rect x="9" y="184" width="1.1" height="1.15" fill="#070705"/>
<rect x="9" y="185" width="1.1" height="1.15" fill="#0c0c08"/>
<rect x="0" y="186" width="1.1" height="1.15" fill="#080806"/>
<rect x="0" y="187" width="1.1" height="1.15" fill="#0c0c08"/>
<rect x="0" y="188" width="1.1" height="1.15" fill="#0b0b08"/>
<rect x="1" y="186" width="1.1" height="1.15" fill="#083814"/>
<rect x="1" y="187" width="1.1" height="1.15" fill="#0a4518"/>
<rect x="1" y="188" width="1.1" height="1.15" fill="#0a4318"/>
<rect x="2" y="186" width="1.1" height="1.15" fill="#911217"/>
<rect x="2" y="187" width="1.1" height="1.15" fill="#e51d25"/>
<rect x="2" y="188" width="1.1" height="1.15" fill="#c81a20"/>
<rect x="3" y="186" width="1.1" height="1.15" fill="#a5151b"/>
<rect x="3" y="187" width="1.1" height="1.15" fill="#ef1f27"/>
<rect x="3" y="188" width="1.1" height="1.15" fill="#a9161b"/>
<rect x="4" y="186" width="1.1" height="1.15" fill="#af161c"/>
<rect x="4" y="187" width="1.1" height="1.15" fill="#de1d24"/>
<rect x="4" y="188" width="1.1" height="1.15" fill="#b4171d"/>
<rect x="5" y="186" width="1.1" height="1.15" fill="#080806"/>
<rect x="5" y="187" width="1.1" height="1.15" fill="#0a0a07"/>
<rect x="5" y="188" width="1.1" height="1.15" fill="#0a0a07"/>
<rect x="6" y="186" width="1.1" height="1.15" fill="#a9161b"/>
<rect x="6" y="187" width="1.1" height="1.15" fill="#e51d25"/>
<rect x="6" y="188" width="1.1" height="1.15" fill="#d71c23"/>
<rect x="7" y="186" width="1.1" height="1.15" fill="#070705"/>
<rect x="7" y="187" width="1.1" height="1.15" fill="#0a0a07"/>
<rect x="7" y="188" width="1.1" height="1.15" fill="#0a0a07"/>
<rect x="8" y="186" width="1.1" height="1.15" fill="#080806"/>
<rect x="8" y="187" width="1.1" height="1.15" fill="#0d0d09"/>
<rect x="8" y="188" width="1.1" height="1.15" fill="#0a0a07"/>
<rect x="9" y="186" width="1.1" height="1.15" fill="#198a2f"/>
<rect x="9" y="187" width="1.1" height="1.15" fill="#22b83f"/>
<rect x="9" y="188" width="1.1" height="1.15" fill="#1c9834"/>
<rect x="0" y="189" width="1.1" height="1.15" fill="#55080a"/>
<rect x="0" y="190" width="1.1" height="1.15" fill="#220304"/>
<rect x="0" y="191" width="1.1" height="1.15" fill="#4e0709"/>
<rect x="1" y="189" width="1.1" height="1.15" fill="#0b491a"/>
<rect x="1" y="190" width="1.1" height="1.15" fill="#05200b"/>
<rect x="1" y="191" width="1.1" height="1.15" fill="#093b15"/>
<rect x="2" y="189" width="1.1" height="1.15" fill="#ff212a"/>
<rect x="2" y="190" width="1.1" height="1.15" fill="#6b0e11"/>
<rect x="2" y="191" width="1.1" height="1.15" fill="#ae161c"/>
<rect x="3" y="189" width="1.1" height="1.15" fill="#c41920"/>
<rect x="3" y="190" width="1.1" height="1.15" fill="#710e12"/>
<rect x="3" y="191" width="1.1" height="1.15" fill="#bd181e"/>
<rect x="4" y="189" width="1.1" height="1.15" fill="#cb1a21"/>
<rect x="4" y="190" width="1.1" height="1.15" fill="#590b0e"/>
<rect x="4" y="191" width="1.1" height="1.15" fill="#ce1a21"/>
<rect x="5" y="189" width="1.1" height="1.15" fill="#54080a"/>
<rect x="5" y="190" width="1.1" height="1.15" fill="#260304"/>
<rect x="5" y="191" width="1.1" height="1.15" fill="#53080a"/>
<rect x="6" y="189" width="1.1" height="1.15" fill="#dc1c23"/>
<rect x="6" y="190" width="1.1" height="1.15" fill="#670d10"/>
<rect x="6" y="191" width="1.1" height="1.15" fill="#dc1c24"/>
<rect x="7" y="189" width="1.1" height="1.15" fill="#168f33"/>
<rect x="7" y="190" width="1.1" height="1.15" fill="#093a15"/>
<rect x="7" y="191" width="1.1" height="1.15" fill="#127329"/>
<rect x="8" y="189" width="1.1" height="1.15" fill="#0c0c08"/>
<rect x="8" y="190" width="1.1" height="1.15" fill="#050504"/>
<rect x="8" y="191" width="1.1" height="1.15" fill="#0b0b08"/>
<rect x="9" y="189" width="1.1" height="1.15" fill="#24c543"/>
<rect x="9" y="190" width="1.1" height="1.15" fill="#0f521c"/>
<rect x="9" y="191" width="1.1" height="1.15" fill="#20af3b"/>
<rect x="0" y="192" width="1.1" height="1.15" fill="#4b080b"/>
<rect x="0" y="193" width="1.1" height="1.15" fill="#8f1015"/>
<rect x="0" y="194" width="1.1" height="1.15" fill="#d91820"/>
<rect x="1" y="192" width="1.1" height="1.15" fill="#093d16"/>
<rect x="1" y="193" width="1.1" height="1.15" fill="#158730"/>
<rect x="1" y="194" width="1.1" height="1.15" fill="#189b37"/>
<rect x="2" y="192" width="1.1" height="1.15" fill="#2b0405"/>
<rect x="2" y="193" width="1.1" height="1.15" fill="#5b090b"/>
<rect x="2" y="194" width="1.1" height="1.15" fill="#5c090b"/>
<rect x="3" y="192" width="1.1" height="1.15" fill="#881116"/>
<rect x="3" y="193" width="1.1" height="1.15" fill="#cb1a21"/>
<rect x="3" y="194" width="1.1" height="1.15" fill="#ff2730"/>
<rect x="4" y="192" width="1.1" height="1.15" fill="#620b0e"/>
<rect x="4" y="193" width="1.1" height="1.15" fill="#8a0f14"/>
<rect x="4" y="194" width="1.1" height="1.15" fill="#b8151b"/>
<rect x="5" y="192" width="1.1" height="1.15" fill="#060604"/>
<rect x="5" y="193" width="1.1" height="1.15" fill="#0d0d09"/>
<rect x="5" y="194" width="1.1" height="1.15" fill="#0d0d09"/>
<rect x="6" y="192" width="1.1" height="1.15" fill="#6b0e11"/>
<rect x="6" y="193" width="1.1" height="1.15" fill="#bf191f"/>
<rect x="6" y="194" width="1.1" height="1.15" fill="#ff2630"/>
<rect x="7" y="192" width="1.1" height="1.15" fill="#115f20"/>
<rect x="7" y="193" width="1.1" height="1.15" fill="#1fab3a"/>
<rect x="7" y="194" width="1.1" height="1.15" fill="#28da4a"/>
<rect x="8" y="192" width="1.1" height="1.15" fill="#070705"/>
<rect x="8" y="193" width="1.1" height="1.15" fill="#0c0c08"/>
<rect x="8" y="194" width="1.1" height="1.15" fill="#11110c"/>
<rect x="9" y="192" width="1.1" height="1.15" fill="#2f0405"/>
<rect x="9" y="193" width="1.1" height="1.15" fill="#57080a"/>
<rect x="9" y="194" width="1.1" height="1.15" fill="#780c0e"/>
<rect x="0" y="195" width="1.1" height="1.15" fill="#320506"/>
<rect x="0" y="196" width="1.1" height="1.15" fill="#350506"/>
<rect x="0" y="197" width="1.1" height="1.15" fill="#6b0a0c"/>
<rect x="1" y="195" width="1.1" height="1.15" fill="#070705"/>
<rect x="1" y="196" width="1.1" height="1.15" fill="#060604"/>
<rect x="1" y="197" width="1.1" height="1.15" fill="#0c0c08"/>
<rect x="2" y="195" width="1.1" height="1.15" fill="#911217"/>
<rect x="2" y="196" width="1.1" height="1.15" fill="#730f12"/>
<rect x="2" y="197" width="1.1" height="1.15" fill="#e41d25"/>
<rect x="3" y="195" width="1.1" height="1.15" fill="#300405"/>
<rect x="3" y="196" width="1.1" height="1.15" fill="#2c0405"/>
<rect x="3" y="197" width="1.1" height="1.15" fill="#6c0a0d"/>
<rect x="4" y="195" width="1.1" height="1.15" fill="#740f12"/>
<rect x="4" y="196" width="1.1" height="1.15" fill="#770f13"/>
<rect x="4" y="197" width="1.1" height="1.15" fill="#f82028"/>
<rect x="5" y="195" width="1.1" height="1.15" fill="#070705"/>
<rect x="5" y="196" width="1.1" height="1.15" fill="#060604"/>
<rect x="5" y="197" width="1.1" height="1.15" fill="#0d0d09"/>
<rect x="6" y="195" width="1.1" height="1.15" fill="#060604"/>
<rect x="6" y="196" width="1.1" height="1.15" fill="#070705"/>
<rect x="6" y="197" width="1.1" height="1.15" fill="#0f0f0a"/>
<rect x="7" y="195" width="1.1" height="1.15" fill="#146f26"/>
<rect x="7" y="196" width="1.1" height="1.15" fill="#105b1f"/>
<rect x="7" y="197" width="1.1" height="1.15" fill="#29e14c"/>
<rect x="8" y="195" width="1.1" height="1.15" fill="#05250d"/>
<rect x="8" y="196" width="1.1" height="1.15" fill="#05210c"/>
<rect x="8" y="197" width="1.1" height="1.15" fill="#0c4f1c"/>
<rect x="9" y="195" width="1.1" height="1.15" fill="#3a0507"/>
<rect x="9" y="196" width="1.1" height="1.15" fill="#310405"/>
<rect x="9" y="197" width="1.1" height="1.15" fill="#56080a"/>
<rect x="0" y="198" width="1.1" height="1.15" fill="#7c0c0e"/>
<rect x="0" y="199" width="1.1" height="1.15" fill="#320506"/>
<rect x="0" y="200" width="1.1" height="1.15" fill="#410607"/>
<rect x="1" y="198" width="1.1" height="1.15" fill="#5e090b"/>
<rect x="1" y="199" width="1.1" height="1.15" fill="#330506"/>
<rect x="1" y="200" width="1.1" height="1.15" fill="#3a0507"/>
<rect x="2" y="198" width="1.1" height="1.15" fill="#e21d25"/>
<rect x="2" y="199" width="1.1" height="1.15" fill="#7c1014"/>
<rect x="2" y="200" width="1.1" height="1.15" fill="#a8151b"/>
<rect x="3" y="198" width="1.1" height="1.15" fill="#e51d25"/>
<rect x="3" y="199" width="1.1" height="1.15" fill="#700e12"/>
<rect x="3" y="200" width="1.1" height="1.15" fill="#a6151b"/>
<rect x="4" y="198" width="1.1" height="1.15" fill="#fc2029"/>
<rect x="4" y="199" width="1.1" height="1.15" fill="#6b0e11"/>
<rect x="4" y="200" width="1.1" height="1.15" fill="#a1151a"/>
<rect x="5" y="198" width="1.1" height="1.15" fill="#6a0a0c"/>
<rect x="5" y="199" width="1.1" height="1.15" fill="#350506"/>
<rect x="5" y="200" width="1.1" height="1.15" fill="#430608"/>
<rect x="6" y="198" width="1.1" height="1.15" fill="#d2181f"/>
<rect x="6" y="199" width="1.1" height="1.15" fill="#56090c"/>
<rect x="6" y="200" width="1.1" height="1.15" fill="#600b0e"/>
<rect x="7" y="198" width="1.1" height="1.15" fill="#2bea50"/>
<rect x="7" y="199" width="1.1" height="1.15" fill="#126221"/>
<rect x="7" y="200" width="1.1" height="1.15" fill="#167b2a"/>
<rect x="8" y="198" width="1.1" height="1.15" fill="#2ae24d"/>
<rect x="8" y="199" width="1.1" height="1.15" fill="#105a1e"/>
<rect x="8" y="200" width="1.1" height="1.15" fill="#157126"/>
<rect x="9" y="198" width="1.1" height="1.15" fill="#1aaa3c"/>
<rect x="9" y="199" width="1.1" height="1.15" fill="#093e16"/>
<rect x="9" y="200" width="1.1" height="1.15" fill="#0b4b1a"/>
<rect x="0" y="201" width="1.1" height="1.15" fill="#b4141a"/>
<rect x="0" y="202" width="1.1" height="1.15" fill="#720d11"/>
<rect x="0" y="203" width="1.1" height="1.15" fill="#8e1015"/>
<rect x="1" y="201" width="1.1" height="1.15" fill="#770b0e"/>
<rect x="1" y="202" width="1.1" height="1.15" fill="#440608"/>
<rect x="1" y="203" width="1.1" height="1.15" fill="#60090b"/>
<rect x="2" y="201" width="1.1" height="1.15" fill="#b2141a"/>
<rect x="2" y="202" width="1.1" height="1.15" fill="#8f1015"/>
<rect x="2" y="203" width="1.1" height="1.15" fill="#870f14"/>
<rect x="3" y="201" width="1.1" height="1.15" fill="#6a0a0c"/>
<rect x="3" y="202" width="1.1" height="1.15" fill="#410607"/>
<rect x="3" y="203" width="1.1" height="1.15" fill="#4c0709"/>
<rect x="4" y="201" width="1.1" height="1.15" fill="#6c0a0d"/>
<rect x="4" y="202" width="1.1" height="1.15" fill="#460708"/>
<rect x="4" y="203" width="1.1" height="1.15" fill="#56080a"/>
<rect x="5" y="201" width="1.1" height="1.15" fill="#f21f27"/>
<rect x="5" y="202" width="1.1" height="1.15" fill="#a9161b"/>
<rect x="5" y="203" width="1.1" height="1.15" fill="#c61920"/>
<rect x="6" y="201" width="1.1" height="1.15" fill="#790c0e"/>
<rect x="6" y="202" width="1.1" height="1.15" fill="#400607"/>
<rect x="6" y="203" width="1.1" height="1.15" fill="#53080a"/>
<rect x="7" y="201" width="1.1" height="1.15" fill="#2df553"/>
<rect x="7" y="202" width="1.1" height="1.15" fill="#1c9934"/>
<rect x="7" y="203" width="1.1" height="1.15" fill="#1ea237"/>
<rect x="8" y="201" width="1.1" height="1.15" fill="#11110c"/>
<rect x="8" y="202" width="1.1" height="1.15" fill="#090906"/>
<rect x="8" y="203" width="1.1" height="1.15" fill="#0a0a07"/>
<rect x="9" y="201" width="1.1" height="1.15" fill="#5c090b"/>
<rect x="9" y="202" width="1.1" height="1.15" fill="#470708"/>
<rect x="9" y="203" width="1.1" height="1.15" fill="#5e090b"/>
<rect x="0" y="204" width="1.1" height="1.15" fill="#060604"/>
<rect x="0" y="205" width="1.1" height="1.15" fill="#060604"/>
<rect x="0" y="206" width="1.1" height="1.15" fill="#0d0d09"/>
<rect x="1" y="204" width="1.1" height="1.15" fill="#310405"/>
<rect x="1" y="205" width="1.1" height="1.15" fill="#380506"/>
<rect x="1" y="206" width="1.1" height="1.15" fill="#54080a"/>
<rect x="2" y="204" width="1.1" height="1.15" fill="#080805"/>
<rect x="2" y="205" width="1.1" height="1.15" fill="#080806"/>
<rect x="2" y="206" width="1.1" height="1.15" fill="#0d0d09"/>
<rect x="3" y="204" width="1.1" height="1.15" fill="#801014"/>
<rect x="3" y="205" width="1.1" height="1.15" fill="#8f1217"/>
<rect x="3" y="206" width="1.1" height="1.15" fill="#f62028"/>
<rect x="4" y="204" width="1.1" height="1.15" fill="#770f13"/>
<rect x="4" y="205" width="1.1" height="1.15" fill="#7f1014"/>
<rect x="4" y="206" width="1.1" height="1.15" fill="#df1d24"/>
<rect x="5" y="204" width="1.1" height="1.15" fill="#620b0e"/>
<rect x="5" y="205" width="1.1" height="1.15" fill="#5c0a0d"/>
<rect x="5" y="206" width="1.1" height="1.15" fill="#ad1319"/>
<rect x="6" y="204" width="1.1" height="1.15" fill="#340506"/>
<rect x="6" y="205" width="1.1" height="1.15" fill="#3f0607"/>
<rect x="6" y="206" width="1.1" height="1.15" fill="#5a090a"/>
<rect x="7" y="204" width="1.1" height="1.15" fill="#7e1014"/>
<rect x="7" y="205" width="1.1" height="1.15" fill="#780f13"/>
<rect x="7" y="206" width="1.1" height="1.15" fill="#ce1a21"/>
<rect x="8" y="204" width="1.1" height="1.15" fill="#590a0d"/>
<rect x="8" y="205" width="1.1" height="1.15" fill="#6e0c10"/>
<rect x="8" y="206" width="1.1" height="1.15" fill="#a11218"/>
<rect x="9" y="204" width="1.1" height="1.15" fill="#070705"/>
<rect x="9" y="205" width="1.1" height="1.15" fill="#080806"/>
<rect x="9" y="206" width="1.1" height="1.15" fill="#0f0f0a"/>
<rect x="0" y="207" width="1.1" height="1.15" fill="#5c090b"/>
<rect x="0" y="208" width="1.1" height="1.15" fill="#310405"/>
<rect x="0" y="209" width="1.1" height="1.15" fill="#380506"/>
<rect x="1" y="207" width="1.1" height="1.15" fill="#931015"/>
<rect x="1" y="208" width="1.1" height="1.15" fill="#55090c"/>
<rect x="1" y="209" width="1.1" height="1.15" fill="#700c10"/>
<rect x="2" y="207" width="1.1" height="1.15" fill="#5f090b"/>
<rect x="2" y="208" width="1.1" height="1.15" fill="#340506"/>
<rect x="2" y="209" width="1.1" height="1.15" fill="#3b0507"/>
<rect x="3" y="207" width="1.1" height="1.15" fill="#ea1e26"/>
<rect x="3" y="208" width="1.1" height="1.15" fill="#891116"/>
<rect x="3" y="209" width="1.1" height="1.15" fill="#7d1014"/>
<rect x="4" y="207" width="1.1" height="1.15" fill="#f92028"/>
<rect x="4" y="208" width="1.1" height="1.15" fill="#801014"/>
<rect x="4" y="209" width="1.1" height="1.15" fill="#8a1216"/>
<rect x="5" y="207" width="1.1" height="1.15" fill="#690a0c"/>
<rect x="5" y="208" width="1.1" height="1.15" fill="#390506"/>
<rect x="5" y="209" width="1.1" height="1.15" fill="#380506"/>
<rect x="6" y="207" width="1.1" height="1.15" fill="#8a0f14"/>
<rect x="6" y="208" width="1.1" height="1.15" fill="#5b0a0d"/>
<rect x="6" y="209" width="1.1" height="1.15" fill="#660b0f"/>
<rect x="7" y="207" width="1.1" height="1.15" fill="#9b1117"/>
<rect x="7" y="208" width="1.1" height="1.15" fill="#51090c"/>
<rect x="7" y="209" width="1.1" height="1.15" fill="#6a0c0f"/>
<rect x="8" y="207" width="1.1" height="1.15" fill="#55080a"/>
<rect x="8" y="208" width="1.1" height="1.15" fill="#390506"/>
<rect x="8" y="209" width="1.1" height="1.15" fill="#3c0607"/>
<rect x="9" y="207" width="1.1" height="1.15" fill="#0c0c08"/>
<rect x="9" y="208" width="1.1" height="1.15" fill="#080805"/>
<rect x="9" y="209" width="1.1" height="1.15" fill="#080805"/>
<rect x="0" y="210" width="1.1" height="1.15" fill="#040403"/>
<rect x="0" y="211" width="1.1" height="1.15" fill="#060604"/>
<rect x="0" y="212" width="1.1" height="1.15" fill="#040403"/>
<rect x="1" y="210" width="1.1" height="1.15" fill="#210304"/>
<rect x="1" y="211" width="1.1" height="1.15" fill="#270304"/>
<rect x="1" y="212" width="1.1" height="1.15" fill="#1c0203"/>
<rect x="2" y="210" width="1.1" height="1.15" fill="#1d0203"/>
<rect x="2" y="211" width="1.1" height="1.15" fill="#2a0405"/>
<rect x="2" y="212" width="1.1" height="1.15" fill="#1f0303"/>
<rect x="3" y="210" width="1.1" height="1.15" fill="#1b0203"/>
<rect x="3" y="211" width="1.1" height="1.15" fill="#2b0405"/>
<rect x="3" y="212" width="1.1" height="1.15" fill="#1d0203"/>
<rect x="4" y="210" width="1.1" height="1.15" fill="#040403"/>
<rect x="4" y="211" width="1.1" height="1.15" fill="#060604"/>
<rect x="4" y="212" width="1.1" height="1.15" fill="#040402"/>
<rect x="5" y="210" width="1.1" height="1.15" fill="#210303"/>
<rect x="5" y="211" width="1.1" height="1.15" fill="#280404"/>
<rect x="5" y="212" width="1.1" height="1.15" fill="#1d0203"/>
<rect x="6" y="210" width="1.1" height="1.15" fill="#3a0608"/>
<rect x="6" y="211" width="1.1" height="1.15" fill="#420709"/>
<rect x="6" y="212" width="1.1" height="1.15" fill="#350607"/>
<rect x="7" y="210" width="1.1" height="1.15" fill="#200303"/>
<rect x="7" y="211" width="1.1" height="1.15" fill="#270304"/>
<rect x="7" y="212" width="1.1" height="1.15" fill="#1c0203"/>
<rect x="8" y="210" width="1.1" height="1.15" fill="#230304"/>
<rect x="8" y="211" width="1.1" height="1.15" fill="#290405"/>
<rect x="8" y="212" width="1.1" height="1.15" fill="#1b0203"/>
<rect x="9" y="210" width="1.1" height="1.15" fill="#031708"/>
<rect x="9" y="211" width="1.1" height="1.15" fill="#05220c"/>
<rect x="9" y="212" width="1.1" height="1.15" fill="#031608"/>
<rect x="0" y="213" width="1.1" height="1.15" fill="#2f0405"/>
<rect x="0" y="214" width="1.1" height="1.15" fill="#2f0405"/>
<rect x="0" y="215" width="1.1" height="1.15" fill="#230304"/>
<rect x="1" y="213" width="1.1" height="1.15" fill="#060604"/>
<rect x="1" y="214" width="1.1" height="1.15" fill="#060604"/>
<rect x="1" y="215" width="1.1" height="1.15" fill="#060604"/>
<rect x="2" y="213" width="1.1" height="1.15" fill="#841115"/>
<rect x="2" y="214" width="1.1" height="1.15" fill="#640d10"/>
<rect x="2" y="215" width="1.1" height="1.15" fill="#670d10"/>
<rect x="3" y="213" width="1.1" height="1.15" fill="#6f0e12"/>
<rect x="3" y="214" width="1.1" height="1.15" fill="#630d10"/>
<rect x="3" y="215" width="1.1" height="1.15" fill="#6c0e11"/>
<rect x="4" y="213" width="1.1" height="1.15" fill="#070705"/>
<rect x="4" y="214" width="1.1" height="1.15" fill="#070705"/>
<rect x="4" y="215" width="1.1" height="1.15" fill="#050504"/>
<rect x="5" y="213" width="1.1" height="1.15" fill="#861115"/>
<rect x="5" y="214" width="1.1" height="1.15" fill="#730f12"/>
<rect x="5" y="215" width="1.1" height="1.15" fill="#670d10"/>
<rect x="6" y="213" width="1.1" height="1.15" fill="#7a1014"/>
<rect x="6" y="214" width="1.1" height="1.15" fill="#7d1014"/>
<rect x="6" y="215" width="1.1" height="1.15" fill="#6c0e11"/>
<rect x="7" y="213" width="1.1" height="1.15" fill="#6e0e12"/>
<rect x="7" y="214" width="1.1" height="1.15" fill="#670d10"/>
<rect x="7" y="215" width="1.1" height="1.15" fill="#630c10"/>
<rect x="8" y="213" width="1.1" height="1.15" fill="#310405"/>
<rect x="8" y="214" width="1.1" height="1.15" fill="#2c0405"/>
<rect x="8" y="215" width="1.1" height="1.15" fill="#2c0405"/>
<rect x="9" y="213" width="1.1" height="1.15" fill="#340506"/>
<rect x="9" y="214" width="1.1" height="1.15" fill="#300405"/>
<rect x="9" y="215" width="1.1" height="1.15" fill="#280404"/>
<rect x="0" y="216" width="1.1" height="1.15" fill="#080806"/>
<rect x="0" y="217" width="1.1" height="1.15" fill="#060604"/>
<rect x="0" y="218" width="1.1" height="1.15" fill="#0a0a07"/>
<rect x="1" y="216" width="1.1" height="1.15" fill="#3f0607"/>
<rect x="1" y="217" width="1.1" height="1.15" fill="#230304"/>
<rect x="1" y="218" width="1.1" height="1.15" fill="#4c0709"/>
<rect x="2" y="216" width="1.1" height="1.15" fill="#a4151a"/>
<rect x="2" y="217" width="1.1" height="1.15" fill="#640d10"/>
<rect x="2" y="218" width="1.1" height="1.15" fill="#a0141a"/>
<rect x="3" y="216" width="1.1" height="1.15" fill="#b9181e"/>
<rect x="3" y="217" width="1.1" height="1.15" fill="#5c0c0f"/>
<rect x="3" y="218" width="1.1" height="1.15" fill="#b3171d"/>
<rect x="4" y="216" width="1.1" height="1.15" fill="#0a0a07"/>
<rect x="4" y="217" width="1.1" height="1.15" fill="#050503"/>
<rect x="4" y="218" width="1.1" height="1.15" fill="#0a0a07"/>
<rect x="5" y="216" width="1.1" height="1.15" fill="#9c1419"/>
<rect x="5" y="217" width="1.1" height="1.15" fill="#5d0c0f"/>
<rect x="5" y="218" width="1.1" height="1.15" fill="#9c1419"/>
<rect x="6" y="216" width="1.1" height="1.15" fill="#9a1419"/>
<rect x="6" y="217" width="1.1" height="1.15" fill="#680d11"/>
<rect x="6" y="218" width="1.1" height="1.15" fill="#a1151a"/>
<rect x="7" y="216" width="1.1" height="1.15" fill="#680b0f"/>
<rect x="7" y="217" width="1.1" height="1.15" fill="#4a080b"/>
<rect x="7" y="218" width="1.1" height="1.15" fill="#7d0e12"/>
<rect x="8" y="216" width="1.1" height="1.15" fill="#440608"/>
<rect x="8" y="217" width="1.1" height="1.15" fill="#270304"/>
<rect x="8" y="218" width="1.1" height="1.15" fill="#4f0709"/>
<rect x="9" y="216" width="1.1" height="1.15" fill="#080806"/>
<rect x="9" y="217" width="1.1" height="1.15" fill="#050504"/>
<rect x="9" y="218" width="1.1" height="1.15" fill="#080806"/>
<rect x="0" y="219" width="1.1" height="1.15" fill="#480708"/>
<rect x="0" y="220" width="1.1" height="1.15" fill="#300405"/>
<rect x="0" y="221" width="1.1" height="1.15" fill="#3d0607"/>
<rect x="1" y="219" width="1.1" height="1.15" fill="#8a0f14"/>
<rect x="1" y="220" width="1.1" height="1.15" fill="#4b080b"/>
<rect x="1" y="221" width="1.1" height="1.15" fill="#7a0e12"/>
<rect x="2" y="219" width="1.1" height="1.15" fill="#911015"/>
<rect x="2" y="220" width="1.1" height="1.15" fill="#48080a"/>
<rect x="2" y="221" width="1.1" height="1.15" fill="#780d11"/>
<rect x="3" y="219" width="1.1" height="1.15" fill="#57080a"/>
<rect x="3" y="220" width="1.1" height="1.15" fill="#290405"/>
<rect x="3" y="221" width="1.1" height="1.15" fill="#390506"/>
<rect x="4" y="219" width="1.1" height="1.15" fill="#971116"/>
<rect x="4" y="220" width="1.1" height="1.15" fill="#5a0a0d"/>
<rect x="4" y="221" width="1.1" height="1.15" fill="#630b0e"/>
<rect x="5" y="219" width="1.1" height="1.15" fill="#530809"/>
<rect x="5" y="220" width="1.1" height="1.15" fill="#330506"/>
<rect x="5" y="221" width="1.1" height="1.15" fill="#3b0507"/>
<rect x="6" y="219" width="1.1" height="1.15" fill="#911015"/>
<rect x="6" y="220" width="1.1" height="1.15" fill="#4a080b"/>
<rect x="6" y="221" width="1.1" height="1.15" fill="#790d12"/>
<rect x="7" y="219" width="1.1" height="1.15" fill="#bc181e"/>
<rect x="7" y="220" width="1.1" height="1.15" fill="#6e0e12"/>
<rect x="7" y="221" width="1.1" height="1.15" fill="#8a1216"/>
<rect x="8" y="219" width="1.1" height="1.15" fill="#500809"/>
<rect x="8" y="220" width="1.1" height="1.15" fill="#300405"/>
<rect x="8" y="221" width="1.1" height="1.15" fill="#3b0507"/>
<rect x="9" y="219" width="1.1" height="1.15" fill="#420607"/>
<rect x="9" y="220" width="1.1" height="1.15" fill="#270304"/>
<rect x="9" y="221" width="1.1" height="1.15" fill="#3b0507"/>
<rect x="0" y="222" width="1.1" height="1.15" fill="#a11217"/>
<rect x="0" y="223" width="1.1" height="1.15" fill="#6e0c10"/>
<rect x="0" y="224" width="1.1" height="1.15" fill="#860f14"/>
<rect x="1" y="222" width="1.1" height="1.15" fill="#ee1f26"/>
<rect x="1" y="223" width="1.1" height="1.15" fill="#bf191f"/>
<rect x="1" y="224" width="1.1" height="1.15" fill="#e01d24"/>
<rect x="2" y="222" width="1.1" height="1.15" fill="#5d090b"/>
<rect x="2" y="223" width="1.1" height="1.15" fill="#4b0709"/>
<rect x="2" y="224" width="1.1" height="1.15" fill="#56080a"/>
<rect x="3" y="222" width="1.1" height="1.15" fill="#60090b"/>
<rect x="3" y="223" width="1.1" height="1.15" fill="#450608"/>
<rect x="3" y="224" width="1.1" height="1.15" fill="#440608"/>
<rect x="4" y="222" width="1.1" height="1.15" fill="#117128"/>
<rect x="4" y="223" width="1.1" height="1.15" fill="#0d541e"/>
<rect x="4" y="224" width="1.1" height="1.15" fill="#106725"/>
<rect x="5" y="222" width="1.1" height="1.15" fill="#57080a"/>
<rect x="5" y="223" width="1.1" height="1.15" fill="#420607"/>
<rect x="5" y="224" width="1.1" height="1.15" fill="#490708"/>
<rect x="6" y="222" width="1.1" height="1.15" fill="#0a0a07"/>
<rect x="6" y="223" width="1.1" height="1.15" fill="#090906"/>
<rect x="6" y="224" width="1.1" height="1.15" fill="#0b0b08"/>
<rect x="7" y="222" width="1.1" height="1.15" fill="#991116"/>
<rect x="7" y="223" width="1.1" height="1.15" fill="#8c1014"/>
<rect x="7" y="224" width="1.1" height="1.15" fill="#790d12"/>
<rect x="8" y="222" width="1.1" height="1.15" fill="#4f0709"/>
<rect x="8" y="223" width="1.1" height="1.15" fill="#3d0607"/>
<rect x="8" y="224" width="1.1" height="1.15" fill="#5a090a"/>
<rect x="9" y="222" width="1.1" height="1.15" fill="#0c0c08"/>
<rect x="9" y="223" width="1.1" height="1.15" fill="#0a0a07"/>
<rect x="9" y="224" width="1.1" height="1.15" fill="#0c0c08"/>
<rect x="0" y="225" width="1.1" height="1.15" fill="#031607"/>
<rect x="0" y="226" width="1.1" height="1.15" fill="#093c15"/>
<rect x="0" y="227" width="1.1" height="1.15" fill="#06270e"/>
<rect x="1" y="225" width="1.1" height="1.15" fill="#190203"/>
<rect x="1" y="226" width="1.1" height="1.15" fill="#4a0708"/>
<rect x="1" y="227" width="1.1" height="1.15" fill="#2b0405"/>
<rect x="2" y="225" width="1.1" height="1.15" fill="#47090b"/>
<rect x="2" y="226" width="1.1" height="1.15" fill="#c1191f"/>
<rect x="2" y="227" width="1.1" height="1.15" fill="#660d10"/>
<rect x="3" y="225" width="1.1" height="1.15" fill="#40080a"/>
<rect x="3" y="226" width="1.1" height="1.15" fill="#c81a20"/>
<rect x="3" y="227" width="1.1" height="1.15" fill="#6e0e11"/>
<rect x="4" y="225" width="1.1" height="1.15" fill="#030302"/>
<rect x="4" y="226" width="1.1" height="1.15" fill="#0c0c08"/>
<rect x="4" y="227" width="1.1" height="1.15" fill="#060604"/>
<rect x="5" y="225" width="1.1" height="1.15" fill="#49090b"/>
<rect x="5" y="226" width="1.1" height="1.15" fill="#b8181e"/>
<rect x="5" y="227" width="1.1" height="1.15" fill="#7f1014"/>
<rect x="6" y="225" width="1.1" height="1.15" fill="#1f0303"/>
<rect x="6" y="226" width="1.1" height="1.15" fill="#500809"/>
<rect x="6" y="227" width="1.1" height="1.15" fill="#280404"/>
<rect x="7" y="225" width="1.1" height="1.15" fill="#3a0709"/>
<rect x="7" y="226" width="1.1" height="1.15" fill="#d31b22"/>
<rect x="7" y="227" width="1.1" height="1.15" fill="#7f1014"/>
<rect x="8" y="225" width="1.1" height="1.15" fill="#1d0203"/>
<rect x="8" y="226" width="1.1" height="1.15" fill="#500809"/>
<rect x="8" y="227" width="1.1" height="1.15" fill="#2f0405"/>
<rect x="9" y="225" width="1.1" height="1.15" fill="#180202"/>
<rect x="9" y="226" width="1.1" height="1.15" fill="#520809"/>
<rect x="9" y="227" width="1.1" height="1.15" fill="#350506"/>
<rect x="0" y="228" width="1.1" height="1.15" fill="#290404"/>
<rect x="0" y="229" width="1.1" height="1.15" fill="#3c0607"/>
<rect x="0" y="230" width="1.1" height="1.15" fill="#460708"/>
<rect x="1" y="228" width="1.1" height="1.15" fill="#49080a"/>
<rect x="1" y="229" width="1.1" height="1.15" fill="#7c0e12"/>
<rect x="1" y="230" width="1.1" height="1.15" fill="#961116"/>
<rect x="2" y="228" width="1.1" height="1.15" fill="#260304"/>
<rect x="2" y="229" width="1.1" height="1.15" fill="#430608"/>
<rect x="2" y="230" width="1.1" height="1.15" fill="#54080a"/>
<rect x="3" y="228" width="1.1" height="1.15" fill="#420709"/>
<rect x="3" y="229" width="1.1" height="1.15" fill="#760d11"/>
<rect x="3" y="230" width="1.1" height="1.15" fill="#820e13"/>
<rect x="4" y="228" width="1.1" height="1.15" fill="#230304"/>
<rect x="4" y="229" width="1.1" height="1.15" fill="#350506"/>
<rect x="4" y="230" width="1.1" height="1.15" fill="#520809"/>
<rect x="5" y="228" width="1.1" height="1.15" fill="#4a080a"/>
<rect x="5" y="229" width="1.1" height="1.15" fill="#5f0a0e"/>
<rect x="5" y="230" width="1.1" height="1.15" fill="#750d11"/>
<rect x="6" y="228" width="1.1" height="1.15" fill="#250304"/>
<rect x="6" y="229" width="1.1" height="1.15" fill="#390506"/>
<rect x="6" y="230" width="1.1" height="1.15" fill="#520809"/>
<rect x="7" y="228" width="1.1" height="1.15" fill="#570b0e"/>
<rect x="7" y="229" width="1.1" height="1.15" fill="#9e1419"/>
<rect x="7" y="230" width="1.1" height="1.15" fill="#bf191f"/>
<rect x="8" y="228" width="1.1" height="1.15" fill="#250304"/>
<rect x="8" y="229" width="1.1" height="1.15" fill="#450608"/>
<rect x="8" y="230" width="1.1" height="1.15" fill="#4b0709"/>
<rect x="9" y="228" width="1.1" height="1.15" fill="#050503"/>
<rect x="9" y="229" width="1.1" height="1.15" fill="#090906"/>
<rect x="9" y="230" width="1.1" height="1.15" fill="#0a0a07"/>
<rect x="0" y="231" width="1.1" height="1.15" fill="#43070a"/>
<rect x="0" y="232" width="1.1" height="1.15" fill="#911015"/>
<rect x="0" y="233" width="1.1" height="1.15" fill="#810e13"/>
<rect x="1" y="231" width="1.1" height="1.15" fill="#230304"/>
<rect x="1" y="232" width="1.1" height="1.15" fill="#480708"/>
<rect x="1" y="233" width="1.1" height="1.15" fill="#480708"/>
<rect x="2" y="231" width="1.1" height="1.15" fill="#4a080b"/>
<rect x="2" y="232" width="1.1" height="1.15" fill="#7f0e12"/>
<rect x="2" y="233" width="1.1" height="1.15" fill="#8e1015"/>
<rect x="3" y="231" width="1.1" height="1.15" fill="#400709"/>
<rect x="3" y="232" width="1.1" height="1.15" fill="#a71318"/>
<rect x="3" y="233" width="1.1" height="1.15" fill="#860f14"/>
<rect x="4" y="231" width="1.1" height="1.15" fill="#230304"/>
<rect x="4" y="232" width="1.1" height="1.15" fill="#4b0709"/>
<rect x="4" y="233" width="1.1" height="1.15" fill="#4f0709"/>
<rect x="5" y="231" width="1.1" height="1.15" fill="#2b0405"/>
<rect x="5" y="232" width="1.1" height="1.15" fill="#5a090a"/>
<rect x="5" y="233" width="1.1" height="1.15" fill="#490708"/>
<rect x="6" y="231" width="1.1" height="1.15" fill="#260304"/>
<rect x="6" y="232" width="1.1" height="1.15" fill="#5a090a"/>
<rect x="6" y="233" width="1.1" height="1.15" fill="#4e0709"/>
<rect x="7" y="231" width="1.1" height="1.15" fill="#2a0405"/>
<rect x="7" y="232" width="1.1" height="1.15" fill="#4d0709"/>
<rect x="7" y="233" width="1.1" height="1.15" fill="#4e0709"/>
<rect x="8" y="231" width="1.1" height="1.15" fill="#4b080b"/>
<rect x="8" y="232" width="1.1" height="1.15" fill="#941016"/>
<rect x="8" y="233" width="1.1" height="1.15" fill="#6a0c0f"/>
<rect x="9" y="231" width="1.1" height="1.15" fill="#220304"/>
<rect x="9" y="232" width="1.1" height="1.15" fill="#56080a"/>
<rect x="9" y="233" width="1.1" height="1.15" fill="#450608"/>
<rect x="0" y="234" width="1.1" height="1.15" fill="#480708"/>
<rect x="0" y="235" width="1.1" height="1.15" fill="#410607"/>
<rect x="0" y="236" width="1.1" height="1.15" fill="#480708"/>
<rect x="1" y="234" width="1.1" height="1.15" fill="#9f1217"/>
<rect x="1" y="235" width="1.1" height="1.15" fill="#7f0e12"/>
<rect x="1" y="236" width="1.1" height="1.15" fill="#6e0c10"/>
<rect x="2" y="234" width="1.1" height="1.15" fill="#510809"/>
<rect x="2" y="235" width="1.1" height="1.15" fill="#4a0708"/>
<rect x="2" y="236" width="1.1" height="1.15" fill="#3b0507"/>
<rect x="3" y="234" width="1.1" height="1.15" fill="#460708"/>
<rect x="3" y="235" width="1.1" height="1.15" fill="#3a0507"/>
<rect x="3" y="236" width="1.1" height="1.15" fill="#480708"/>
<rect x="4" y="234" width="1.1" height="1.15" fill="#860f13"/>
<rect x="4" y="235" width="1.1" height="1.15" fill="#780d11"/>
<rect x="4" y="236" width="1.1" height="1.15" fill="#830e13"/>
<rect x="5" y="234" width="1.1" height="1.15" fill="#58080a"/>
<rect x="5" y="235" width="1.1" height="1.15" fill="#370506"/>
<rect x="5" y="236" width="1.1" height="1.15" fill="#480708"/>
<rect x="6" y="234" width="1.1" height="1.15" fill="#58080a"/>
<rect x="6" y="235" width="1.1" height="1.15" fill="#440608"/>
<rect x="6" y="236" width="1.1" height="1.15" fill="#4b0709"/>
<rect x="7" y="234" width="1.1" height="1.15" fill="#0c0c08"/>
<rect x="7" y="235" width="1.1" height="1.15" fill="#090906"/>
<rect x="7" y="236" width="1.1" height="1.15" fill="#0a0a07"/>
<rect x="8" y="234" width="1.1" height="1.15" fill="#520809"/>
<rect x="8" y="235" width="1.1" height="1.15" fill="#390506"/>
<rect x="8" y="236" width="1.1" height="1.15" fill="#3f0607"/>
<rect x="9" y="234" width="1.1" height="1.15" fill="#0c0c09"/>
<rect x="9" y="235" width="1.1" height="1.15" fill="#080806"/>
<rect x="9" y="236" width="1.1" height="1.15" fill="#090906"/>
<rect x="0" y="237" width="1.1" height="1.15" fill="#4d0709"/>
<rect x="0" y="238" width="1.1" height="1.15" fill="#430608"/>
<rect x="0" y="239" width="1.1" height="1.15" fill="#400607"/>
<rect x="1" y="237" width="1.1" height="1.15" fill="#470708"/>
<rect x="1" y="238" width="1.1" height="1.15" fill="#3c0607"/>
<rect x="1" y="239" width="1.1" height="1.15" fill="#4a0708"/>
<rect x="2" y="237" width="1.1" height="1.15" fill="#0b0b07"/>
<rect x="2" y="238" width="1.1" height="1.15" fill="#080805"/>
<rect x="2" y="239" width="1.1" height="1.15" fill="#0a0a07"/>
<rect x="3" y="237" width="1.1" height="1.15" fill="#090906"/>
<rect x="3" y="238" width="1.1" height="1.15" fill="#090906"/>
<rect x="3" y="239" width="1.1" height="1.15" fill="#080806"/>
<rect x="4" y="237" width="1.1" height="1.15" fill="#4d0709"/>
<rect x="4" y="238" width="1.1" height="1.15" fill="#3c0607"/>
<rect x="4" y="239" width="1.1" height="1.15" fill="#530809"/>
<rect x="5" y="237" width="1.1" height="1.15" fill="#0a0a07"/>
<rect x="5" y="238" width="1.1" height="1.15" fill="#0a0a07"/>
<rect x="5" y="239" width="1.1" height="1.15" fill="#0a0a07"/>
<rect x="6" y="237" width="1.1" height="1.15" fill="#0a0a07"/>
<rect x="6" y="238" width="1.1" height="1.15" fill="#0a0a07"/>
<rect x="6" y="239" width="1.1" height="1.15" fill="#090906"/>
<rect x="7" y="237" width="1.1" height="1.15" fill="#0b0b07"/>
<rect x="7" y="238" width="1.1" height="1.15" fill="#090907"/>
<rect x="7" y="239" width="1.1" height="1.15" fill="#0b0b08"/>
<rect x="8" y="237" width="1.1" height="1.15" fill="#530809"/>
<rect x="8" y="238" width="1.1" height="1.15" fill="#3a0506"/>
<rect x="8" y="239" width="1.1" height="1.15" fill="#480708"/>
<rect x="9" y="237" width="1.1" height="1.15" fill="#0c0c08"/>
<rect x="9" y="238" width="1.1" height="1.15" fill="#0a0a07"/>
<rect x="9" y="239" width="1.1" height="1.15" fill="#090907"/>
<rect x="0" y="240" width="1.1" height="1.15" fill="#040403"/>
<rect x="0" y="241" width="1.1" height="1.15" fill="#060604"/>
<rect x="0" y="242" width="1.1" height="1.15" fill="#090906"/>
<rect x="1" y="240" width="1.1" height="1.15" fill="#240304"/>
<rect x="1" y="241" width="1.1" height="1.15" fill="#2d0405"/>
<rect x="1" y="242" width="1.1" height="1.15" fill="#420607"/>
<rect x="2" y="240" width="1.1" height="1.15" fill="#230304"/>
<rect x="2" y="241" width="1.1" height="1.15" fill="#2c0405"/>
<rect x="2" y="242" width="1.1" height="1.15" fill="#420607"/>
<rect x="3" y="240" width="1.1" height="1.15" fill="#230304"/>
<rect x="3" y="241" width="1.1" height="1.15" fill="#2c0405"/>
<rect x="3" y="242" width="1.1" height="1.15" fill="#510809"/>
<rect x="4" y="240" width="1.1" height="1.15" fill="#040403"/>
<rect x="4" y="241" width="1.1" height="1.15" fill="#050503"/>
<rect x="4" y="242" width="1.1" height="1.15" fill="#0a0a07"/>
<rect x="5" y="240" width="1.1" height="1.15" fill="#230304"/>
<rect x="5" y="241" width="1.1" height="1.15" fill="#2a0405"/>
<rect x="5" y="242" width="1.1" height="1.15" fill="#500809"/>
<rect x="6" y="240" width="1.1" height="1.15" fill="#1f0303"/>
<rect x="6" y="241" width="1.1" height="1.15" fill="#2b0405"/>
<rect x="6" y="242" width="1.1" height="1.15" fill="#460708"/>
<rect x="7" y="240" width="1.1" height="1.15" fill="#1f0303"/>
<rect x="7" y="241" width="1.1" height="1.15" fill="#2a0405"/>
<rect x="7" y="242" width="1.1" height="1.15" fill="#460708"/>
<rect x="8" y="240" width="1.1" height="1.15" fill="#3a0608"/>
<rect x="8" y="241" width="1.1" height="1.15" fill="#51090c"/>
<rect x="8" y="242" width="1.1" height="1.15" fill="#8f1015"/>
<rect x="9" y="240" width="1.1" height="1.15" fill="#050503"/>
<rect x="9" y="241" width="1.1" height="1.15" fill="#050503"/>
<rect x="9" y="242" width="1.1" height="1.15" fill="#090906"/>
<rect x="0" y="243" width="1.1" height="1.15" fill="#480708"/>
<rect x="0" y="244" width="1.1" height="1.15" fill="#240304"/>
<rect x="0" y="245" width="1.1" height="1.15" fill="#200303"/>
<rect x="1" y="243" width="1.1" height="1.15" fill="#8e1015"/>
<rect x="1" y="244" width="1.1" height="1.15" fill="#310507"/>
<rect x="1" y="245" width="1.1" height="1.15" fill="#3f0709"/>
<rect x="2" y="243" width="1.1" height="1.15" fill="#a61318"/>
<rect x="2" y="244" width="1.1" height="1.15" fill="#3b0608"/>
<rect x="2" y="245" width="1.1" height="1.15" fill="#3f0709"/>
<rect x="3" y="243" width="1.1" height="1.15" fill="#54080a"/>
<rect x="3" y="244" width="1.1" height="1.15" fill="#1e0303"/>
<rect x="3" y="245" width="1.1" height="1.15" fill="#1d0203"/>
<rect x="4" y="243" width="1.1" height="1.15" fill="#4d0709"/>
<rect x="4" y="244" width="1.1" height="1.15" fill="#1c0203"/>
<rect x="4" y="245" width="1.1" height="1.15" fill="#1f0303"/>
<rect x="5" y="243" width="1.1" height="1.15" fill="#470708"/>
<rect x="5" y="244" width="1.1" height="1.15" fill="#1b0203"/>
<rect x="5" y="245" width="1.1" height="1.15" fill="#240304"/>
<rect x="6" y="243" width="1.1" height="1.15" fill="#5b090a"/>
<rect x="6" y="244" width="1.1" height="1.15" fill="#230304"/>
<rect x="6" y="245" width="1.1" height="1.15" fill="#1f0303"/>
<rect x="7" y="243" width="1.1" height="1.15" fill="#0b0b08"/>
<rect x="7" y="244" width="1.1" height="1.15" fill="#040403"/>
<rect x="7" y="245" width="1.1" height="1.15" fill="#040403"/>
<rect x="8" y="243" width="1.1" height="1.15" fill="#116d26"/>
<rect x="8" y="244" width="1.1" height="1.15" fill="#072d10"/>
<rect x="8" y="245" width="1.1" height="1.15" fill="#072e10"/>
<rect x="9" y="243" width="1.1" height="1.15" fill="#0c0c09"/>
<rect x="9" y="244" width="1.1" height="1.15" fill="#040403"/>
<rect x="9" y="245" width="1.1" height="1.15" fill="#030302"/>
<rect x="0" y="246" width="1.1" height="1.15" fill="#340506"/>
<rect x="0" y="247" width="1.1" height="1.15" fill="#460708"/>
<rect x="0" y="248" width="1.1" height="1.15" fill="#220304"/>
<rect x="1" y="246" width="1.1" height="1.15" fill="#340506"/>
<rect x="1" y="247" width="1.1" height="1.15" fill="#450608"/>
<rect x="1" y="248" width="1.1" height="1.15" fill="#250304"/>
<rect x="2" y="246" width="1.1" height="1.15" fill="#340506"/>
<rect x="2" y="247" width="1.1" height="1.15" fill="#4c0709"/>
<rect x="2" y="248" width="1.1" height="1.15" fill="#280404"/>
<rect x="3" y="246" width="1.1" height="1.15" fill="#380506"/>
<rect x="3" y="247" width="1.1" height="1.15" fill="#490708"/>
<rect x="3" y="248" width="1.1" height="1.15" fill="#280404"/>
<rect x="4" y="246" width="1.1" height="1.15" fill="#360506"/>
<rect x="4" y="247" width="1.1" height="1.15" fill="#510809"/>
<rect x="4" y="248" width="1.1" height="1.15" fill="#260304"/>
<rect x="5" y="246" width="1.1" height="1.15" fill="#330506"/>
<rect x="5" y="247" width="1.1" height="1.15" fill="#54080a"/>
<rect x="5" y="248" width="1.1" height="1.15" fill="#270304"/>
<rect x="6" y="246" width="1.1" height="1.15" fill="#2f0405"/>
<rect x="6" y="247" width="1.1" height="1.15" fill="#520809"/>
<rect x="6" y="248" width="1.1" height="1.15" fill="#270304"/>
<rect x="7" y="246" width="1.1" height="1.15" fill="#320506"/>
<rect x="7" y="247" width="1.1" height="1.15" fill="#58080a"/>
<rect x="7" y="248" width="1.1" height="1.15" fill="#230304"/>
<rect x="8" y="246" width="1.1" height="1.15" fill="#330506"/>
<rect x="8" y="247" width="1.1" height="1.15" fill="#500809"/>
<rect x="8" y="248" width="1.1" height="1.15" fill="#260304"/>
<rect x="9" y="246" width="1.1" height="1.15" fill="#2e0405"/>
<rect x="9" y="247" width="1.1" height="1.15" fill="#520809"/>
<rect x="9" y="248" width="1.1" height="1.15" fill="#210303"/>
<rect x="0" y="249" width="1.1" height="1.15" fill="#090906"/>
<rect x="0" y="250" width="1.1" height="1.15" fill="#080806"/>
<rect x="0" y="251" width="1.1" height="1.15" fill="#080806"/>
<rect x="1" y="249" width="1.1" height="1.15" fill="#720d11"/>
<rect x="1" y="250" width="1.1" height="1.15" fill="#5d0a0d"/>
<rect x="1" y="251" width="1.1" height="1.15" fill="#770d11"/>
<rect x="2" y="249" width="1.1" height="1.15" fill="#580a0d"/>
<rect x="2" y="250" width="1.1" height="1.15" fill="#680b0f"/>
<rect x="2" y="251" width="1.1" height="1.15" fill="#6d0c10"/>
<rect x="3" y="249" width="1.1" height="1.15" fill="#360506"/>
<rect x="3" y="250" width="1.1" height="1.15" fill="#320506"/>
<rect x="3" y="251" width="1.1" height="1.15" fill="#3e0607"/>
<rect x="4" y="249" width="1.1" height="1.15" fill="#070705"/>
<rect x="4" y="250" width="1.1" height="1.15" fill="#070705"/>
<rect x="4" y="251" width="1.1" height="1.15" fill="#090906"/>
<rect x="5" y="249" width="1.1" height="1.15" fill="#620b0e"/>
<rect x="5" y="250" width="1.1" height="1.15" fill="#650b0f"/>
<rect x="5" y="251" width="1.1" height="1.15" fill="#860f13"/>
<rect x="6" y="249" width="1.1" height="1.15" fill="#420607"/>
<rect x="6" y="250" width="1.1" height="1.15" fill="#330506"/>
<rect x="6" y="251" width="1.1" height="1.15" fill="#470708"/>
<rect x="7" y="249" width="1.1" height="1.15" fill="#6d0c10"/>
<rect x="7" y="250" width="1.1" height="1.15" fill="#640b0e"/>
<rect x="7" y="251" width="1.1" height="1.15" fill="#730d11"/>
<rect x="8" y="249" width="1.1" height="1.15" fill="#821015"/>
<rect x="8" y="250" width="1.1" height="1.15" fill="#8d1217"/>
<rect x="8" y="251" width="1.1" height="1.15" fill="#ae161c"/>
<rect x="9" y="249" width="1.1" height="1.15" fill="#070705"/>
<rect x="9" y="250" width="1.1" height="1.15" fill="#070705"/>
<rect x="9" y="251" width="1.1" height="1.15" fill="#080805"/>
<rect x="0" y="252" width="1.1" height="1.15" fill="#090906"/>
<rect x="0" y="253" width="1.1" height="1.15" fill="#0b0b08"/>
<rect x="0" y="254" width="1.1" height="1.15" fill="#0c0c09"/>
<rect x="1" y="252" width="1.1" height="1.15" fill="#410607"/>
<rect x="1" y="253" width="1.1" height="1.15" fill="#520809"/>
<rect x="1" y="254" width="1.1" height="1.15" fill="#4c0709"/>
<rect x="2" y="252" width="1.1" height="1.15" fill="#a4151a"/>
<rect x="2" y="253" width="1.1" height="1.15" fill="#a7151b"/>
<rect x="2" y="254" width="1.1" height="1.15" fill="#c0191f"/>
<rect x="3" y="252" width="1.1" height="1.15" fill="#c51920"/>
<rect x="3" y="253" width="1.1" height="1.15" fill="#c81a20"/>
<rect x="3" y="254" width="1.1" height="1.15" fill="#e01d24"/>
<rect x="4" y="252" width="1.1" height="1.15" fill="#0b0b08"/>
<rect x="4" y="253" width="1.1" height="1.15" fill="#0a0a07"/>
<rect x="4" y="254" width="1.1" height="1.15" fill="#0c0c09"/>
<rect x="5" y="252" width="1.1" height="1.15" fill="#c81a20"/>
<rect x="5" y="253" width="1.1" height="1.15" fill="#cc1a21"/>
<rect x="5" y="254" width="1.1" height="1.15" fill="#c3191f"/>
<rect x="6" y="252" width="1.1" height="1.15" fill="#a1151a"/>
<rect x="6" y="253" width="1.1" height="1.15" fill="#c0191f"/>
<rect x="6" y="254" width="1.1" height="1.15" fill="#c61920"/>
<rect x="7" y="252" width="1.1" height="1.15" fill="#430608"/>
<rect x="7" y="253" width="1.1" height="1.15" fill="#54080a"/>
<rect x="7" y="254" width="1.1" height="1.15" fill="#57080a"/>
<rect x="8" y="252" width="1.1" height="1.15" fill="#a6151b"/>
<rect x="8" y="253" width="1.1" height="1.15" fill="#b0171c"/>
<rect x="8" y="254" width="1.1" height="1.15" fill="#cd1a21"/>
<rect x="9" y="252" width="1.1" height="1.15" fill="#4d0709"/>
<rect x="9" y="253" width="1.1" height="1.15" fill="#53080a"/>
<rect x="9" y="254" width="1.1" height="1.15" fill="#57080a"/>
<rect x="0" y="255" width="1.1" height="1.15" fill="#55080a"/>
<rect x="0" y="256" width="1.1" height="1.15" fill="#4b0709"/>
<rect x="0" y="257" width="1.1" height="1.15" fill="#320506"/>
<rect x="1" y="255" width="1.1" height="1.15" fill="#470708"/>
<rect x="1" y="256" width="1.1" height="1.15" fill="#440608"/>
<rect x="1" y="257" width="1.1" height="1.15" fill="#380506"/>
<rect x="2" y="255" width="1.1" height="1.15" fill="#55080a"/>
<rect x="2" y="256" width="1.1" height="1.15" fill="#430608"/>
<rect x="2" y="257" width="1.1" height="1.15" fill="#350506"/>
<rect x="3" y="255" width="1.1" height="1.15" fill="#450608"/>
<rect x="3" y="256" width="1.1" height="1.15" fill="#490708"/>
<rect x="3" y="257" width="1.1" height="1.15" fill="#340506"/>
<rect x="4" y="255" width="1.1" height="1.15" fill="#0c0c08"/>
<rect x="4" y="256" width="1.1" height="1.15" fill="#0b0b07"/>
<rect x="4" y="257" width="1.1" height="1.15" fill="#060604"/>
<rect x="5" y="255" width="1.1" height="1.15" fill="#5a090a"/>
<rect x="5" y="256" width="1.1" height="1.15" fill="#400607"/>
<rect x="5" y="257" width="1.1" height="1.15" fill="#3c0607"/>
<rect x="6" y="255" width="1.1" height="1.15" fill="#5b090a"/>
<rect x="6" y="256" width="1.1" height="1.15" fill="#410607"/>
<rect x="6" y="257" width="1.1" height="1.15" fill="#310405"/>
<rect x="7" y="255" width="1.1" height="1.15" fill="#090907"/>
<rect x="7" y="256" width="1.1" height="1.15" fill="#0b0b08"/>
<rect x="7" y="257" width="1.1" height="1.15" fill="#080805"/>
<rect x="8" y="255" width="1.1" height="1.15" fill="#9f1217"/>
<rect x="8" y="256" width="1.1" height="1.15" fill="#880f14"/>
<rect x="8" y="257" width="1.1" height="1.15" fill="#590a0d"/>
<rect x="9" y="255" width="1.1" height="1.15" fill="#0c0c08"/>
<rect x="9" y="256" width="1.1" height="1.15" fill="#090906"/>
<rect x="9" y="257" width="1.1" height="1.15" fill="#070705"/>
<rect x="0" y="258" width="1.1" height="1.15" fill="#070705"/>
<rect x="0" y="259" width="1.1" height="1.15" fill="#090906"/>
<rect x="0" y="260" width="1.1" height="1.15" fill="#060604"/>
<rect x="1" y="258" width="1.1" height="1.15" fill="#330506"/>
<rect x="1" y="259" width="1.1" height="1.15" fill="#420607"/>
<rect x="1" y="260" width="1.1" height="1.15" fill="#2e0405"/>
<rect x="2" y="258" width="1.1" height="1.15" fill="#330506"/>
<rect x="2" y="259" width="1.1" height="1.15" fill="#490708"/>
<rect x="2" y="260" width="1.1" height="1.15" fill="#280404"/>
<rect x="3" y="258" width="1.1" height="1.15" fill="#060604"/>
<rect x="3" y="259" width="1.1" height="1.15" fill="#080805"/>
<rect x="3" y="260" width="1.1" height="1.15" fill="#060604"/>
<rect x="4" y="258" width="1.1" height="1.15" fill="#080805"/>
<rect x="4" y="259" width="1.1" height="1.15" fill="#090907"/>
<rect x="4" y="260" width="1.1" height="1.15" fill="#060604"/>
<rect x="5" y="258" width="1.1" height="1.15" fill="#3b0507"/>
<rect x="5" y="259" width="1.1" height="1.15" fill="#4a0708"/>
<rect x="5" y="260" width="1.1" height="1.15" fill="#2a0405"/>
<rect x="6" y="258" width="1.1" height="1.15" fill="#2f0405"/>
<rect x="6" y="259" width="1.1" height="1.15" fill="#450608"/>
<rect x="6" y="260" width="1.1" height="1.15" fill="#2a0405"/>
<rect x="7" y="258" width="1.1" height="1.15" fill="#070705"/>
<rect x="7" y="259" width="1.1" height="1.15" fill="#080805"/>
<rect x="7" y="260" width="1.1" height="1.15" fill="#060604"/>
<rect x="8" y="258" width="1.1" height="1.15" fill="#610b0e"/>
<rect x="8" y="259" width="1.1" height="1.15" fill="#6e0c10"/>
<rect x="8" y="260" width="1.1" height="1.15" fill="#47080a"/>
<rect x="9" y="258" width="1.1" height="1.15" fill="#380506"/>
<rect x="9" y="259" width="1.1" height="1.15" fill="#3d0607"/>
<rect x="9" y="260" width="1.1" height="1.15" fill="#330506"/>
<rect x="0" y="261" width="1.1" height="1.15" fill="#3e0607"/>
<rect x="0" y="262" width="1.1" height="1.15" fill="#490708"/>
<rect x="0" y="263" width="1.1" height="1.15" fill="#320506"/>
<rect x="1" y="261" width="1.1" height="1.15" fill="#470708"/>
<rect x="1" y="262" width="1.1" height="1.15" fill="#480708"/>
<rect x="1" y="263" width="1.1" height="1.15" fill="#330506"/>
<rect x="2" y="261" width="1.1" height="1.15" fill="#7c0e12"/>
<rect x="2" y="262" width="1.1" height="1.15" fill="#8c1014"/>
<rect x="2" y="263" width="1.1" height="1.15" fill="#680b0f"/>
<rect x="3" y="261" width="1.1" height="1.15" fill="#470708"/>
<rect x="3" y="262" width="1.1" height="1.15" fill="#54080a"/>
<rect x="3" y="263" width="1.1" height="1.15" fill="#360506"/>
<rect x="4" y="261" width="1.1" height="1.15" fill="#3b0507"/>
<rect x="4" y="262" width="1.1" height="1.15" fill="#530809"/>
<rect x="4" y="263" width="1.1" height="1.15" fill="#3d0607"/>
<rect x="5" y="261" width="1.1" height="1.15" fill="#390506"/>
<rect x="5" y="262" width="1.1" height="1.15" fill="#490708"/>
<rect x="5" y="263" width="1.1" height="1.15" fill="#3a0507"/>
<rect x="6" y="261" width="1.1" height="1.15" fill="#5f0a0e"/>
<rect x="6" y="262" width="1.1" height="1.15" fill="#971116"/>
<rect x="6" y="263" width="1.1" height="1.15" fill="#6b0c0f"/>
<rect x="7" y="261" width="1.1" height="1.15" fill="#380506"/>
<rect x="7" y="262" width="1.1" height="1.15" fill="#510809"/>
<rect x="7" y="263" width="1.1" height="1.15" fill="#3c0607"/>
<rect x="8" y="261" width="1.1" height="1.15" fill="#871116"/>
<rect x="8" y="262" width="1.1" height="1.15" fill="#be181f"/>
<rect x="8" y="263" width="1.1" height="1.15" fill="#9b1419"/>
<rect x="9" y="261" width="1.1" height="1.15" fill="#080806"/>
<rect x="9" y="262" width="1.1" height="1.15" fill="#0b0b08"/>
<rect x="9" y="263" width="1.1" height="1.15" fill="#070705"/>
<rect x="0" y="264" width="1.1" height="1.15" fill="#490708"/>
<rect x="0" y="265" width="1.1" height="1.15" fill="#3f0607"/>
<rect x="0" y="266" width="1.1" height="1.15" fill="#330506"/>
<rect x="1" y="264" width="1.1" height="1.15" fill="#ce1a21"/>
<rect x="1" y="265" width="1.1" height="1.15" fill="#921317"/>
<rect x="1" y="266" width="1.1" height="1.15" fill="#871116"/>
<rect x="2" y="264" width="1.1" height="1.15" fill="#c51920"/>
<rect x="2" y="265" width="1.1" height="1.15" fill="#911217"/>
<rect x="2" y="266" width="1.1" height="1.15" fill="#891116"/>
<rect x="3" y="264" width="1.1" height="1.15" fill="#55080a"/>
<rect x="3" y="265" width="1.1" height="1.15" fill="#3b0507"/>
<rect x="3" y="266" width="1.1" height="1.15" fill="#3d0607"/>
<rect x="4" y="264" width="1.1" height="1.15" fill="#61090b"/>
<rect x="4" y="265" width="1.1" height="1.15" fill="#460708"/>
<rect x="4" y="266" width="1.1" height="1.15" fill="#440608"/>
<rect x="5" y="264" width="1.1" height="1.15" fill="#840f13"/>
<rect x="5" y="265" width="1.1" height="1.15" fill="#790d12"/>
<rect x="5" y="266" width="1.1" height="1.15" fill="#600b0e"/>
<rect x="6" y="264" width="1.1" height="1.15" fill="#a91319"/>
<rect x="6" y="265" width="1.1" height="1.15" fill="#740d11"/>
<rect x="6" y="266" width="1.1" height="1.15" fill="#6f0c10"/>
<rect x="7" y="264" width="1.1" height="1.15" fill="#a21218"/>
<rect x="7" y="265" width="1.1" height="1.15" fill="#670b0f"/>
<rect x="7" y="266" width="1.1" height="1.15" fill="#5c0a0d"/>
<rect x="8" y="264" width="1.1" height="1.15" fill="#e51d25"/>
<rect x="8" y="265" width="1.1" height="1.15" fill="#b2171d"/>
<rect x="8" y="266" width="1.1" height="1.15" fill="#901217"/>
<rect x="9" y="264" width="1.1" height="1.15" fill="#490708"/>
<rect x="9" y="265" width="1.1" height="1.15" fill="#380506"/>
<rect x="9" y="266" width="1.1" height="1.15" fill="#410607"/>
<rect x="0" y="267" width="1.1" height="1.15" fill="#0a0a07"/>
<rect x="0" y="268" width="1.1" height="1.15" fill="#050504"/>
<rect x="0" y="269" width="1.1" height="1.15" fill="#0a0a07"/>
<rect x="1" y="267" width="1.1" height="1.15" fill="#be181f"/>
<rect x="1" y="268" width="1.1" height="1.15" fill="#851115"/>
<rect x="1" y="269" width="1.1" height="1.15" fill="#b6171d"/>
<rect x="2" y="267" width="1.1" height="1.15" fill="#a3151a"/>
<rect x="2" y="268" width="1.1" height="1.15" fill="#7c1014"/>
<rect x="2" y="269" width="1.1" height="1.15" fill="#911217"/>
<rect x="3" y="267" width="1.1" height="1.15" fill="#490708"/>
<rect x="3" y="268" width="1.1" height="1.15" fill="#330506"/>
<rect x="3" y="269" width="1.1" height="1.15" fill="#410607"/>
<rect x="4" y="267" width="1.1" height="1.15" fill="#072d10"/>
<rect x="4" y="268" width="1.1" height="1.15" fill="#05220c"/>
<rect x="4" y="269" width="1.1" height="1.15" fill="#073212"/>
<rect x="5" y="267" width="1.1" height="1.15" fill="#850f13"/>
<rect x="5" y="268" width="1.1" height="1.15" fill="#55090c"/>
<rect x="5" y="269" width="1.1" height="1.15" fill="#820e13"/>
<rect x="6" y="267" width="1.1" height="1.15" fill="#3d0607"/>
<rect x="6" y="268" width="1.1" height="1.15" fill="#2d0405"/>
<rect x="6" y="269" width="1.1" height="1.15" fill="#3d0607"/>
<rect x="7" y="267" width="1.1" height="1.15" fill="#6f0c10"/>
<rect x="7" y="268" width="1.1" height="1.15" fill="#5d0a0d"/>
<rect x="7" y="269" width="1.1" height="1.15" fill="#700c10"/>
<rect x="8" y="267" width="1.1" height="1.15" fill="#9d1419"/>
<rect x="8" y="268" width="1.1" height="1.15" fill="#7e1014"/>
<rect x="8" y="269" width="1.1" height="1.15" fill="#a1151a"/>
<rect x="9" y="267" width="1.1" height="1.15" fill="#4b0709"/>
<rect x="9" y="268" width="1.1" height="1.15" fill="#340506"/>
<rect x="9" y="269" width="1.1" height="1.15" fill="#490708"/>
<rect x="0" y="270" width="1.1" height="1.15" fill="#080805"/>
<rect x="0" y="271" width="1.1" height="1.15" fill="#070705"/>
<rect x="0" y="272" width="1.1" height="1.15" fill="#070705"/>
<rect x="1" y="270" width="1.1" height="1.15" fill="#5b0a0d"/>
<rect x="1" y="271" width="1.1" height="1.15" fill="#4c080b"/>
<rect x="1" y="272" width="1.1" height="1.15" fill="#680b0f"/>
<rect x="2" y="270" width="1.1" height="1.15" fill="#360506"/>
<rect x="2" y="271" width="1.1" height="1.15" fill="#310405"/>
<rect x="2" y="272" width="1.1" height="1.15" fill="#300405"/>
<rect x="3" y="270" width="1.1" height="1.15" fill="#5a0a0d"/>
<rect x="3" y="271" width="1.1" height="1.15" fill="#5d0a0d"/>
<rect x="3" y="272" width="1.1" height="1.15" fill="#570a0d"/>
<rect x="4" y="270" width="1.1" height="1.15" fill="#300405"/>
<rect x="4" y="271" width="1.1" height="1.15" fill="#320506"/>
<rect x="4" y="272" width="1.1" height="1.15" fill="#350506"/>
<rect x="5" y="270" width="1.1" height="1.15" fill="#4d080b"/>
<rect x="5" y="271" width="1.1" height="1.15" fill="#4c080b"/>
<rect x="5" y="272" width="1.1" height="1.15" fill="#5a0a0d"/>
<rect x="6" y="270" width="1.1" height="1.15" fill="#070705"/>
<rect x="6" y="271" width="1.1" height="1.15" fill="#060604"/>
<rect x="6" y="272" width="1.1" height="1.15" fill="#060604"/>
<rect x="7" y="270" width="1.1" height="1.15" fill="#300405"/>
<rect x="7" y="271" width="1.1" height="1.15" fill="#2d0405"/>
<rect x="7" y="272" width="1.1" height="1.15" fill="#3a0506"/>
<rect x="8" y="270" width="1.1" height="1.15" fill="#54090c"/>
<rect x="8" y="271" width="1.1" height="1.15" fill="#640b0e"/>
<rect x="8" y="272" width="1.1" height="1.15" fill="#580a0d"/>
<rect x="9" y="270" width="1.1" height="1.15" fill="#2f0405"/>
<rect x="9" y="271" width="1.1" height="1.15" fill="#2b0405"/>
<rect x="9" y="272" width="1.1" height="1.15" fill="#350506"/>
<rect x="0" y="273" width="1.1" height="1.15" fill="#3a0506"/>
<rect x="0" y="274" width="1.1" height="1.15" fill="#3f0607"/>
<rect x="0" y="275" width="1.1" height="1.15" fill="#4a0708"/>
<rect x="1" y="273" width="1.1" height="1.15" fill="#350506"/>
<rect x="1" y="274" width="1.1" height="1.15" fill="#430608"/>
<rect x="1" y="275" width="1.1" height="1.15" fill="#3b0507"/>
<rect x="2" y="273" width="1.1" height="1.15" fill="#3a0507"/>
<rect x="2" y="274" width="1.1" height="1.15" fill="#4c0709"/>
<rect x="2" y="275" width="1.1" height="1.15" fill="#3e0607"/>
<rect x="3" y="273" width="1.1" height="1.15" fill="#5d0a0d"/>
<rect x="3" y="274" width="1.1" height="1.15" fill="#6c0c10"/>
<rect x="3" y="275" width="1.1" height="1.15" fill="#770d11"/>
<rect x="4" y="273" width="1.1" height="1.15" fill="#3d0607"/>
<rect x="4" y="274" width="1.1" height="1.15" fill="#400607"/>
<rect x="4" y="275" width="1.1" height="1.15" fill="#3d0607"/>
<rect x="5" y="273" width="1.1" height="1.15" fill="#3d0607"/>
<rect x="5" y="274" width="1.1" height="1.15" fill="#4d0709"/>
<rect x="5" y="275" width="1.1" height="1.15" fill="#3b0507"/>
<rect x="6" y="273" width="1.1" height="1.15" fill="#730d11"/>
<rect x="6" y="274" width="1.1" height="1.15" fill="#880f14"/>
<rect x="6" y="275" width="1.1" height="1.15" fill="#7b0e12"/>
<rect x="7" y="273" width="1.1" height="1.15" fill="#5f0a0e"/>
<rect x="7" y="274" width="1.1" height="1.15" fill="#911015"/>
<rect x="7" y="275" width="1.1" height="1.15" fill="#720d10"/>
<rect x="8" y="273" width="1.1" height="1.15" fill="#3b0507"/>
<rect x="8" y="274" width="1.1" height="1.15" fill="#53080a"/>
<rect x="8" y="275" width="1.1" height="1.15" fill="#490708"/>
<rect x="9" y="273" width="1.1" height="1.15" fill="#330506"/>
<rect x="9" y="274" width="1.1" height="1.15" fill="#400607"/>
<rect x="9" y="275" width="1.1" height="1.15" fill="#3c0607"/>
<rect x="0" y="276" width="1.1" height="1.15" fill="#040403"/>
<rect x="0" y="277" width="1.1" height="1.15" fill="#0a0a07"/>
<rect x="0" y="278" width="1.1" height="1.15" fill="#080805"/>
<rect x="1" y="276" width="1.1" height="1.15" fill="#210304"/>
<rect x="1" y="277" width="1.1" height="1.15" fill="#54080a"/>
<rect x="1" y="278" width="1.1" height="1.15" fill="#390506"/>
<rect x="2" y="276" width="1.1" height="1.15" fill="#420709"/>
<rect x="2" y="277" width="1.1" height="1.15" fill="#981116"/>
<rect x="2" y="278" width="1.1" height="1.15" fill="#720d11"/>
<rect x="3" y="276" width="1.1" height="1.15" fill="#240304"/>
<rect x="3" y="277" width="1.1" height="1.15" fill="#470708"/>
<rect x="3" y="278" width="1.1" height="1.15" fill="#390506"/>
<rect x="4" y="276" width="1.1" height="1.15" fill="#250304"/>
<rect x="4" y="277" width="1.1" height="1.15" fill="#4b0709"/>
<rect x="4" y="278" width="1.1" height="1.15" fill="#3c0607"/>
<rect x="5" y="276" width="1.1" height="1.15" fill="#360608"/>
<rect x="5" y="277" width="1.1" height="1.15" fill="#971116"/>
<rect x="5" y="278" width="1.1" height="1.15" fill="#620b0e"/>
<rect x="6" y="276" width="1.1" height="1.15" fill="#200303"/>
<rect x="6" y="277" width="1.1" height="1.15" fill="#56080a"/>
<rect x="6" y="278" width="1.1" height="1.15" fill="#330506"/>
<rect x="7" y="276" width="1.1" height="1.15" fill="#330507"/>
<rect x="7" y="277" width="1.1" height="1.15" fill="#870f14"/>
<rect x="7" y="278" width="1.1" height="1.15" fill="#650b0f"/>
<rect x="8" y="276" width="1.1" height="1.15" fill="#1e0303"/>
<rect x="8" y="277" width="1.1" height="1.15" fill="#4c0709"/>
<rect x="8" y="278" width="1.1" height="1.15" fill="#3f0607"/>
<rect x="9" y="276" width="1.1" height="1.15" fill="#260304"/>
<rect x="9" y="277" width="1.1" height="1.15" fill="#59080a"/>
<rect x="9" y="278" width="1.1" height="1.15" fill="#400607"/>
<rect x="0" y="279" width="1.1" height="1.15" fill="#030302"/>
<rect x="0" y="280" width="1.1" height="1.15" fill="#070705"/>
<rect x="0" y="281" width="1.1" height="1.15" fill="#060604"/>
<rect x="1" y="279" width="1.1" height="1.15" fill="#0d4618"/>
<rect x="1" y="280" width="1.1" height="1.15" fill="#136923"/>
<rect x="1" y="281" width="1.1" height="1.15" fill="#126622"/>
<rect x="2" y="279" width="1.1" height="1.15" fill="#031708"/>
<rect x="2" y="280" width="1.1" height="1.15" fill="#05250d"/>
<rect x="2" y="281" width="1.1" height="1.15" fill="#05250d"/>
<rect x="3" y="279" width="1.1" height="1.15" fill="#1a0203"/>
<rect x="3" y="280" width="1.1" height="1.15" fill="#2f0405"/>
<rect x="3" y="281" width="1.1" height="1.15" fill="#310405"/>
<rect x="4" y="279" width="1.1" height="1.15" fill="#040402"/>
<rect x="4" y="280" width="1.1" height="1.15" fill="#070705"/>
<rect x="4" y="281" width="1.1" height="1.15" fill="#080805"/>
<rect x="5" y="279" width="1.1" height="1.15" fill="#1e0303"/>
<rect x="5" y="280" width="1.1" height="1.15" fill="#290405"/>
<rect x="5" y="281" width="1.1" height="1.15" fill="#390506"/>
<rect x="6" y="279" width="1.1" height="1.15" fill="#1d0203"/>
<rect x="6" y="280" width="1.1" height="1.15" fill="#2a0405"/>
<rect x="6" y="281" width="1.1" height="1.15" fill="#390506"/>
<rect x="7" y="279" width="1.1" height="1.15" fill="#040403"/>
<rect x="7" y="280" width="1.1" height="1.15" fill="#060604"/>
<rect x="7" y="281" width="1.1" height="1.15" fill="#070705"/>
<rect x="8" y="279" width="1.1" height="1.15" fill="#560b0e"/>
<rect x="8" y="280" width="1.1" height="1.15" fill="#770f13"/>
<rect x="8" y="281" width="1.1" height="1.15" fill="#7d1014"/>
<rect x="9" y="279" width="1.1" height="1.15" fill="#310507"/>
<rect x="9" y="280" width="1.1" height="1.15" fill="#49080a"/>
<rect x="9" y="281" width="1.1" height="1.15" fill="#680b0f"/>
</g>
<g class="hm" transform="translate(96.6 47.0) scale(4.3900 1.3397)">
<rect x="0" y="0" width="1.1" height="1.15" fill="#21b23c"/>
<rect x="0" y="1" width="1.1" height="1.15" fill="#136b24"/>
<rect x="0" y="2" width="1.1" height="1.15" fill="#1ea438"/>
<rect x="1" y="0" width="1.1" height="1.15" fill="#0e0e0a"/>
<rect x="1" y="1" width="1.1" height="1.15" fill="#060604"/>
<rect x="1" y="2" width="1.1" height="1.15" fill="#0a0a07"/>
<rect x="2" y="0" width="1.1" height="1.15" fill="#ef1f27"/>
<rect x="2" y="1" width="1.1" height="1.15" fill="#7c1014"/>
<rect x="2" y="2" width="1.1" height="1.15" fill="#b0171c"/>
<rect x="3" y="0" width="1.1" height="1.15" fill="#0b0b08"/>
<rect x="3" y="1" width="1.1" height="1.15" fill="#060604"/>
<rect x="3" y="2" width="1.1" height="1.15" fill="#0c0c08"/>
<rect x="4" y="0" width="1.1" height="1.15" fill="#0f0f0a"/>
<rect x="4" y="1" width="1.1" height="1.15" fill="#060604"/>
<rect x="4" y="2" width="1.1" height="1.15" fill="#0c0c09"/>
<rect x="5" y="0" width="1.1" height="1.15" fill="#f92028"/>
<rect x="5" y="1" width="1.1" height="1.15" fill="#6f0e12"/>
<rect x="5" y="2" width="1.1" height="1.15" fill="#c91a20"/>
<rect x="6" y="0" width="1.1" height="1.15" fill="#0e0e0a"/>
<rect x="6" y="1" width="1.1" height="1.15" fill="#060604"/>
<rect x="6" y="2" width="1.1" height="1.15" fill="#0b0b08"/>
<rect x="7" y="0" width="1.1" height="1.15" fill="#fa2028"/>
<rect x="7" y="1" width="1.1" height="1.15" fill="#6a0d11"/>
<rect x="7" y="2" width="1.1" height="1.15" fill="#c91a20"/>
<rect x="8" y="0" width="1.1" height="1.15" fill="#24c543"/>
<rect x="8" y="1" width="1.1" height="1.15" fill="#126522"/>
<rect x="8" y="2" width="1.1" height="1.15" fill="#21b43d"/>
<rect x="9" y="0" width="1.1" height="1.15" fill="#da1c23"/>
<rect x="9" y="1" width="1.1" height="1.15" fill="#760f13"/>
<rect x="9" y="2" width="1.1" height="1.15" fill="#c91a20"/>
<rect x="0" y="3" width="1.1" height="1.15" fill="#10591e"/>
<rect x="0" y="4" width="1.1" height="1.15" fill="#22bb40"/>
<rect x="0" y="5" width="1.1" height="1.15" fill="#27d247"/>
<rect x="1" y="3" width="1.1" height="1.15" fill="#050504"/>
<rect x="1" y="4" width="1.1" height="1.15" fill="#0c0c09"/>
<rect x="1" y="5" width="1.1" height="1.15" fill="#0d0d09"/>
<rect x="2" y="3" width="1.1" height="1.15" fill="#300405"/>
<rect x="2" y="4" width="1.1" height="1.15" fill="#5a090a"/>
<rect x="2" y="5" width="1.1" height="1.15" fill="#61090b"/>
<rect x="3" y="3" width="1.1" height="1.15" fill="#060604"/>
<rect x="3" y="4" width="1.1" height="1.15" fill="#0b0b08"/>
<rect x="3" y="5" width="1.1" height="1.15" fill="#0e0e0a"/>
<rect x="4" y="3" width="1.1" height="1.15" fill="#060604"/>
<rect x="4" y="4" width="1.1" height="1.15" fill="#0e0e0a"/>
<rect x="4" y="5" width="1.1" height="1.15" fill="#0e0e0a"/>
<rect x="5" y="3" width="1.1" height="1.15" fill="#250304"/>
<rect x="5" y="4" width="1.1" height="1.15" fill="#6b0a0c"/>
<rect x="5" y="5" width="1.1" height="1.15" fill="#5b090a"/>
<rect x="6" y="3" width="1.1" height="1.15" fill="#050504"/>
<rect x="6" y="4" width="1.1" height="1.15" fill="#0d0d09"/>
<rect x="6" y="5" width="1.1" height="1.15" fill="#11110c"/>
<rect x="7" y="3" width="1.1" height="1.15" fill="#47080a"/>
<rect x="7" y="4" width="1.1" height="1.15" fill="#971116"/>
<rect x="7" y="5" width="1.1" height="1.15" fill="#af141a"/>
<rect x="8" y="3" width="1.1" height="1.15" fill="#0f541c"/>
<rect x="8" y="4" width="1.1" height="1.15" fill="#1fac3a"/>
<rect x="8" y="5" width="1.1" height="1.15" fill="#2df553"/>
<rect x="9" y="3" width="1.1" height="1.15" fill="#2a0405"/>
<rect x="9" y="4" width="1.1" height="1.15" fill="#640a0c"/>
<rect x="9" y="5" width="1.1" height="1.15" fill="#63090b"/>
<rect x="0" y="6" width="1.1" height="1.15" fill="#158730"/>
<rect x="0" y="7" width="1.1" height="1.15" fill="#158730"/>
<rect x="0" y="8" width="1.1" height="1.15" fill="#0c4d1b"/>
<rect x="1" y="6" width="1.1" height="1.15" fill="#0d0d09"/>
<rect x="1" y="7" width="1.1" height="1.15" fill="#0e0e0a"/>
<rect x="1" y="8" width="1.1" height="1.15" fill="#080805"/>
<rect x="2" y="6" width="1.1" height="1.15" fill="#520809"/>
<rect x="2" y="7" width="1.1" height="1.15" fill="#650a0c"/>
<rect x="2" y="8" width="1.1" height="1.15" fill="#3a0507"/>
<rect x="3" y="6" width="1.1" height="1.15" fill="#0c0c08"/>
<rect x="3" y="7" width="1.1" height="1.15" fill="#0c0c08"/>
<rect x="3" y="8" width="1.1" height="1.15" fill="#060604"/>
<rect x="4" y="6" width="1.1" height="1.15" fill="#55080a"/>
<rect x="4" y="7" width="1.1" height="1.15" fill="#62090b"/>
<rect x="4" y="8" width="1.1" height="1.15" fill="#2d0405"/>
<rect x="5" y="6" width="1.1" height="1.15" fill="#0d0d09"/>
<rect x="5" y="7" width="1.1" height="1.15" fill="#0d0d09"/>
<rect x="5" y="8" width="1.1" height="1.15" fill="#080805"/>
<rect x="6" y="6" width="1.1" height="1.15" fill="#510809"/>
<rect x="6" y="7" width="1.1" height="1.15" fill="#5d090b"/>
<rect x="6" y="8" width="1.1" height="1.15" fill="#330506"/>
<rect x="7" y="6" width="1.1" height="1.15" fill="#0d0d09"/>
<rect x="7" y="7" width="1.1" height="1.15" fill="#10100b"/>
<rect x="7" y="8" width="1.1" height="1.15" fill="#070705"/>
<rect x="8" y="6" width="1.1" height="1.15" fill="#1da137"/>
<rect x="8" y="7" width="1.1" height="1.15" fill="#27d549"/>
<rect x="8" y="8" width="1.1" height="1.15" fill="#126321"/>
<rect x="9" y="6" width="1.1" height="1.15" fill="#510809"/>
<rect x="9" y="7" width="1.1" height="1.15" fill="#58080a"/>
<rect x="9" y="8" width="1.1" height="1.15" fill="#2c0405"/>
<rect x="0" y="9" width="1.1" height="1.15" fill="#ff222b"/>
<rect x="0" y="10" width="1.1" height="1.15" fill="#c3191f"/>
<rect x="0" y="11" width="1.1" height="1.15" fill="#8f1217"/>
<rect x="1" y="9" width="1.1" height="1.15" fill="#0f0f0a"/>
<rect x="1" y="10" width="1.1" height="1.15" fill="#0d0d09"/>
<rect x="1" y="11" width="1.1" height="1.15" fill="#070705"/>
<rect x="2" y="9" width="1.1" height="1.15" fill="#660a0c"/>
<rect x="2" y="10" width="1.1" height="1.15" fill="#650a0c"/>
<rect x="2" y="11" width="1.1" height="1.15" fill="#320506"/>
<rect x="3" y="9" width="1.1" height="1.15" fill="#5b090a"/>
<rect x="3" y="10" width="1.1" height="1.15" fill="#510809"/>
<rect x="3" y="11" width="1.1" height="1.15" fill="#3b0507"/>
<rect x="4" y="9" width="1.1" height="1.15" fill="#0d0d09"/>
<rect x="4" y="10" width="1.1" height="1.15" fill="#0b0b08"/>
<rect x="4" y="11" width="1.1" height="1.15" fill="#070705"/>
<rect x="5" y="9" width="1.1" height="1.15" fill="#5d090b"/>
<rect x="5" y="10" width="1.1" height="1.15" fill="#5a090a"/>
<rect x="5" y="11" width="1.1" height="1.15" fill="#390506"/>
<rect x="6" y="9" width="1.1" height="1.15" fill="#0d0d09"/>
<rect x="6" y="10" width="1.1" height="1.15" fill="#0c0c09"/>
<rect x="6" y="11" width="1.1" height="1.15" fill="#080806"/>
<rect x="7" y="9" width="1.1" height="1.15" fill="#740b0d"/>
<rect x="7" y="10" width="1.1" height="1.15" fill="#660a0c"/>
<rect x="7" y="11" width="1.1" height="1.15" fill="#2d0405"/>
<rect x="8" y="9" width="1.1" height="1.15" fill="#10100b"/>
<rect x="8" y="10" width="1.1" height="1.15" fill="#0d0d09"/>
<rect x="8" y="11" width="1.1" height="1.15" fill="#060604"/>
<rect x="9" y="9" width="1.1" height="1.15" fill="#780c0e"/>
<rect x="9" y="10" width="1.1" height="1.15" fill="#520809"/>
<rect x="9" y="11" width="1.1" height="1.15" fill="#3d0607"/>
<rect x="0" y="12" width="1.1" height="1.15" fill="#5e0c0f"/>
<rect x="0" y="13" width="1.1" height="1.15" fill="#660d10"/>
<rect x="0" y="14" width="1.1" height="1.15" fill="#bd181e"/>
<rect x="1" y="12" width="1.1" height="1.15" fill="#031909"/>
<rect x="1" y="13" width="1.1" height="1.15" fill="#05220c"/>
<rect x="1" y="14" width="1.1" height="1.15" fill="#083412"/>
<rect x="2" y="12" width="1.1" height="1.15" fill="#2a0405"/>
<rect x="2" y="13" width="1.1" height="1.15" fill="#2a0405"/>
<rect x="2" y="14" width="1.1" height="1.15" fill="#4a0708"/>
<rect x="3" y="12" width="1.1" height="1.15" fill="#3a0608"/>
<rect x="3" y="13" width="1.1" height="1.15" fill="#50090b"/>
<rect x="3" y="14" width="1.1" height="1.15" fill="#730d11"/>
<rect x="4" y="12" width="1.1" height="1.15" fill="#220304"/>
<rect x="4" y="13" width="1.1" height="1.15" fill="#270304"/>
<rect x="4" y="14" width="1.1" height="1.15" fill="#4c0709"/>
<rect x="5" y="12" width="1.1" height="1.15" fill="#3d0709"/>
<rect x="5" y="13" width="1.1" height="1.15" fill="#46080a"/>
<rect x="5" y="14" width="1.1" height="1.15" fill="#7f0e12"/>
<rect x="6" y="12" width="1.1" height="1.15" fill="#220304"/>
<rect x="6" y="13" width="1.1" height="1.15" fill="#240304"/>
<rect x="6" y="14" width="1.1" height="1.15" fill="#440608"/>
<rect x="7" y="12" width="1.1" height="1.15" fill="#050503"/>
<rect x="7" y="13" width="1.1" height="1.15" fill="#060604"/>
<rect x="7" y="14" width="1.1" height="1.15" fill="#090906"/>
<rect x="8" y="12" width="1.1" height="1.15" fill="#44070a"/>
<rect x="8" y="13" width="1.1" height="1.15" fill="#4e080b"/>
<rect x="8" y="14" width="1.1" height="1.15" fill="#820e13"/>
<rect x="9" y="12" width="1.1" height="1.15" fill="#210304"/>
<rect x="9" y="13" width="1.1" height="1.15" fill="#230304"/>
<rect x="9" y="14" width="1.1" height="1.15" fill="#500809"/>
<rect x="0" y="15" width="1.1" height="1.15" fill="#5a090a"/>
<rect x="0" y="16" width="1.1" height="1.15" fill="#390506"/>
<rect x="0" y="17" width="1.1" height="1.15" fill="#56080a"/>
<rect x="1" y="15" width="1.1" height="1.15" fill="#0b4819"/>
<rect x="1" y="16" width="1.1" height="1.15" fill="#06290e"/>
<rect x="1" y="17" width="1.1" height="1.15" fill="#0a4418"/>
<rect x="2" y="15" width="1.1" height="1.15" fill="#cc1a21"/>
<rect x="2" y="16" width="1.1" height="1.15" fill="#911317"/>
<rect x="2" y="17" width="1.1" height="1.15" fill="#f52028"/>
<rect x="3" y="15" width="1.1" height="1.15" fill="#520809"/>
<rect x="3" y="16" width="1.1" height="1.15" fill="#300405"/>
<rect x="3" y="17" width="1.1" height="1.15" fill="#53080a"/>
<rect x="4" y="15" width="1.1" height="1.15" fill="#a61218"/>
<rect x="4" y="16" width="1.1" height="1.15" fill="#5c0a0d"/>
<rect x="4" y="17" width="1.1" height="1.15" fill="#870f14"/>
<rect x="5" y="15" width="1.1" height="1.15" fill="#ee1f26"/>
<rect x="5" y="16" width="1.1" height="1.15" fill="#851115"/>
<rect x="5" y="17" width="1.1" height="1.15" fill="#c1191f"/>
<rect x="6" y="15" width="1.1" height="1.15" fill="#a51218"/>
<rect x="6" y="16" width="1.1" height="1.15" fill="#610b0e"/>
<rect x="6" y="17" width="1.1" height="1.15" fill="#af141a"/>
<rect x="7" y="15" width="1.1" height="1.15" fill="#61090b"/>
<rect x="7" y="16" width="1.1" height="1.15" fill="#3c0607"/>
<rect x="7" y="17" width="1.1" height="1.15" fill="#640a0c"/>
<rect x="8" y="15" width="1.1" height="1.15" fill="#951116"/>
<rect x="8" y="16" width="1.1" height="1.15" fill="#6a0c0f"/>
<rect x="8" y="17" width="1.1" height="1.15" fill="#9e1217"/>
<rect x="9" y="15" width="1.1" height="1.15" fill="#0c0c09"/>
<rect x="9" y="16" width="1.1" height="1.15" fill="#070705"/>
<rect x="9" y="17" width="1.1" height="1.15" fill="#0d0d09"/>
<rect x="0" y="18" width="1.1" height="1.15" fill="#290404"/>
<rect x="0" y="19" width="1.1" height="1.15" fill="#6d0a0d"/>
<rect x="0" y="20" width="1.1" height="1.15" fill="#350506"/>
<rect x="1" y="18" width="1.1" height="1.15" fill="#115b1f"/>
<rect x="1" y="19" width="1.1" height="1.15" fill="#24c744"/>
<rect x="1" y="20" width="1.1" height="1.15" fill="#10561d"/>
<rect x="2" y="18" width="1.1" height="1.15" fill="#2e0405"/>
<rect x="2" y="19" width="1.1" height="1.15" fill="#5d090b"/>
<rect x="2" y="20" width="1.1" height="1.15" fill="#350506"/>
<rect x="3" y="18" width="1.1" height="1.15" fill="#600c0f"/>
<rect x="3" y="19" width="1.1" height="1.15" fill="#ef1f27"/>
<rect x="3" y="20" width="1.1" height="1.15" fill="#780f13"/>
<rect x="4" y="18" width="1.1" height="1.15" fill="#47080a"/>
<rect x="4" y="19" width="1.1" height="1.15" fill="#bc151c"/>
<rect x="4" y="20" width="1.1" height="1.15" fill="#56090c"/>
<rect x="5" y="18" width="1.1" height="1.15" fill="#590b0e"/>
<rect x="5" y="19" width="1.1" height="1.15" fill="#f62028"/>
<rect x="5" y="20" width="1.1" height="1.15" fill="#680d10"/>
<rect x="6" y="18" width="1.1" height="1.15" fill="#2c0405"/>
<rect x="6" y="19" width="1.1" height="1.15" fill="#59080a"/>
<rect x="6" y="20" width="1.1" height="1.15" fill="#2e0405"/>
<rect x="7" y="18" width="1.1" height="1.15" fill="#650d10"/>
<rect x="7" y="19" width="1.1" height="1.15" fill="#e81e25"/>
<rect x="7" y="20" width="1.1" height="1.15" fill="#841115"/>
<rect x="8" y="18" width="1.1" height="1.15" fill="#2c0405"/>
<rect x="8" y="19" width="1.1" height="1.15" fill="#5e090b"/>
<rect x="8" y="20" width="1.1" height="1.15" fill="#2f0405"/>
<rect x="9" y="18" width="1.1" height="1.15" fill="#2b0405"/>
<rect x="9" y="19" width="1.1" height="1.15" fill="#63090b"/>
<rect x="9" y="20" width="1.1" height="1.15" fill="#320506"/>
<rect x="0" y="21" width="1.1" height="1.15" fill="#a5151a"/>
<rect x="0" y="22" width="1.1" height="1.15" fill="#b5171d"/>
<rect x="0" y="23" width="1.1" height="1.15" fill="#d41b22"/>
<rect x="1" y="21" width="1.1" height="1.15" fill="#0c4d1b"/>
<rect x="1" y="22" width="1.1" height="1.15" fill="#106524"/>
<rect x="1" y="23" width="1.1" height="1.15" fill="#106624"/>
<rect x="2" y="21" width="1.1" height="1.15" fill="#760d11"/>
<rect x="2" y="22" width="1.1" height="1.15" fill="#770d11"/>
<rect x="2" y="23" width="1.1" height="1.15" fill="#820e13"/>
<rect x="3" y="21" width="1.1" height="1.15" fill="#921317"/>
<rect x="3" y="22" width="1.1" height="1.15" fill="#ca1a21"/>
<rect x="3" y="23" width="1.1" height="1.15" fill="#cb1a21"/>
<rect x="4" y="21" width="1.1" height="1.15" fill="#821115"/>
<rect x="4" y="22" width="1.1" height="1.15" fill="#b8181e"/>
<rect x="4" y="23" width="1.1" height="1.15" fill="#cf1b21"/>
<rect x="5" y="21" width="1.1" height="1.15" fill="#831115"/>
<rect x="5" y="22" width="1.1" height="1.15" fill="#a8161b"/>
<rect x="5" y="23" width="1.1" height="1.15" fill="#d51b22"/>
<rect x="6" y="21" width="1.1" height="1.15" fill="#7d1014"/>
<rect x="6" y="22" width="1.1" height="1.15" fill="#a6151b"/>
<rect x="6" y="23" width="1.1" height="1.15" fill="#b0171c"/>
<rect x="7" y="21" width="1.1" height="1.15" fill="#740d11"/>
<rect x="7" y="22" width="1.1" height="1.15" fill="#810e13"/>
<rect x="7" y="23" width="1.1" height="1.15" fill="#880f14"/>
<rect x="8" y="21" width="1.1" height="1.15" fill="#951318"/>
<rect x="8" y="22" width="1.1" height="1.15" fill="#d41b22"/>
<rect x="8" y="23" width="1.1" height="1.15" fill="#a7151b"/>
<rect x="9" y="21" width="1.1" height="1.15" fill="#360506"/>
<rect x="9" y="22" width="1.1" height="1.15" fill="#4b0709"/>
<rect x="9" y="23" width="1.1" height="1.15" fill="#520809"/>
<rect x="0" y="24" width="1.1" height="1.15" fill="#5f0c0f"/>
<rect x="0" y="25" width="1.1" height="1.15" fill="#9d1419"/>
<rect x="0" y="26" width="1.1" height="1.15" fill="#a5151a"/>
<rect x="1" y="24" width="1.1" height="1.15" fill="#0b4619"/>
<rect x="1" y="25" width="1.1" height="1.15" fill="#0c501c"/>
<rect x="1" y="26" width="1.1" height="1.15" fill="#0f6122"/>
<rect x="2" y="24" width="1.1" height="1.15" fill="#2e0405"/>
<rect x="2" y="25" width="1.1" height="1.15" fill="#3e0607"/>
<rect x="2" y="26" width="1.1" height="1.15" fill="#4f0709"/>
<rect x="3" y="24" width="1.1" height="1.15" fill="#680d11"/>
<rect x="3" y="25" width="1.1" height="1.15" fill="#be181f"/>
<rect x="3" y="26" width="1.1" height="1.15" fill="#c2191f"/>
<rect x="4" y="24" width="1.1" height="1.15" fill="#690d11"/>
<rect x="4" y="25" width="1.1" height="1.15" fill="#951318"/>
<rect x="4" y="26" width="1.1" height="1.15" fill="#bd181e"/>
<rect x="5" y="24" width="1.1" height="1.15" fill="#770f13"/>
<rect x="5" y="25" width="1.1" height="1.15" fill="#b0171c"/>
<rect x="5" y="26" width="1.1" height="1.15" fill="#c91a20"/>
<rect x="6" y="24" width="1.1" height="1.15" fill="#6e0e12"/>
<rect x="6" y="25" width="1.1" height="1.15" fill="#bb181e"/>
<rect x="6" y="26" width="1.1" height="1.15" fill="#b8181e"/>
<rect x="7" y="24" width="1.1" height="1.15" fill="#6f0e12"/>
<rect x="7" y="25" width="1.1" height="1.15" fill="#bc181e"/>
<rect x="7" y="26" width="1.1" height="1.15" fill="#ce1b21"/>
<rect x="8" y="24" width="1.1" height="1.15" fill="#4e080b"/>
<rect x="8" y="25" width="1.1" height="1.15" fill="#800e13"/>
<rect x="8" y="26" width="1.1" height="1.15" fill="#921015"/>
<rect x="9" y="24" width="1.1" height="1.15" fill="#2a0405"/>
<rect x="9" y="25" width="1.1" height="1.15" fill="#410607"/>
<rect x="9" y="26" width="1.1" height="1.15" fill="#53080a"/>
<rect x="0" y="27" width="1.1" height="1.15" fill="#070705"/>
<rect x="0" y="28" width="1.1" height="1.15" fill="#070705"/>
<rect x="0" y="29" width="1.1" height="1.15" fill="#0c0c08"/>
<rect x="1" y="27" width="1.1" height="1.15" fill="#0c511d"/>
<rect x="1" y="28" width="1.1" height="1.15" fill="#0e5d21"/>
<rect x="1" y="29" width="1.1" height="1.15" fill="#0e5920"/>
<rect x="2" y="27" width="1.1" height="1.15" fill="#911317"/>
<rect x="2" y="28" width="1.1" height="1.15" fill="#961318"/>
<rect x="2" y="29" width="1.1" height="1.15" fill="#ae161c"/>
<rect x="3" y="27" width="1.1" height="1.15" fill="#af161c"/>
<rect x="3" y="28" width="1.1" height="1.15" fill="#aa161b"/>
<rect x="3" y="29" width="1.1" height="1.15" fill="#ad161c"/>
<rect x="4" y="27" width="1.1" height="1.15" fill="#891116"/>
<rect x="4" y="28" width="1.1" height="1.15" fill="#a9161b"/>
<rect x="4" y="29" width="1.1" height="1.15" fill="#c81a20"/>
<rect x="5" y="27" width="1.1" height="1.15" fill="#9b1419"/>
<rect x="5" y="28" width="1.1" height="1.15" fill="#821115"/>
<rect x="5" y="29" width="1.1" height="1.15" fill="#9d1419"/>
<rect x="6" y="27" width="1.1" height="1.15" fill="#740d11"/>
<rect x="6" y="28" width="1.1" height="1.15" fill="#710c10"/>
<rect x="6" y="29" width="1.1" height="1.15" fill="#820e13"/>
<rect x="7" y="27" width="1.1" height="1.15" fill="#921317"/>
<rect x="7" y="28" width="1.1" height="1.15" fill="#8c1216"/>
<rect x="7" y="29" width="1.1" height="1.15" fill="#b1171c"/>
<rect x="8" y="27" width="1.1" height="1.15" fill="#961318"/>
<rect x="8" y="28" width="1.1" height="1.15" fill="#9b1419"/>
<rect x="8" y="29" width="1.1" height="1.15" fill="#b3171d"/>
<rect x="9" y="27" width="1.1" height="1.15" fill="#080805"/>
<rect x="9" y="28" width="1.1" height="1.15" fill="#070705"/>
<rect x="9" y="29" width="1.1" height="1.15" fill="#0b0b07"/>
<rect x="0" y="30" width="1.1" height="1.15" fill="#6d0a0d"/>
<rect x="0" y="31" width="1.1" height="1.15" fill="#2c0405"/>
<rect x="0" y="32" width="1.1" height="1.15" fill="#520809"/>
<rect x="1" y="30" width="1.1" height="1.15" fill="#2ced51"/>
<rect x="1" y="31" width="1.1" height="1.15" fill="#10591e"/>
<rect x="1" y="32" width="1.1" height="1.15" fill="#1fa839"/>
<rect x="2" y="30" width="1.1" height="1.15" fill="#e21d24"/>
<rect x="2" y="31" width="1.1" height="1.15" fill="#821115"/>
<rect x="2" y="32" width="1.1" height="1.15" fill="#db1c23"/>
<rect x="3" y="30" width="1.1" height="1.15" fill="#db1c23"/>
<rect x="3" y="31" width="1.1" height="1.15" fill="#6f0e12"/>
<rect x="3" y="32" width="1.1" height="1.15" fill="#e41d25"/>
<rect x="4" y="30" width="1.1" height="1.15" fill="#ff2129"/>
<rect x="4" y="31" width="1.1" height="1.15" fill="#6a0d11"/>
<rect x="4" y="32" width="1.1" height="1.15" fill="#fb2029"/>
<rect x="5" y="30" width="1.1" height="1.15" fill="#ff232c"/>
<rect x="5" y="31" width="1.1" height="1.15" fill="#6f0e12"/>
<rect x="5" y="32" width="1.1" height="1.15" fill="#d71c23"/>
<rect x="6" y="30" width="1.1" height="1.15" fill="#ee1f27"/>
<rect x="6" y="31" width="1.1" height="1.15" fill="#660d10"/>
<rect x="6" y="32" width="1.1" height="1.15" fill="#eb1e26"/>
<rect x="7" y="30" width="1.1" height="1.15" fill="#f01f27"/>
<rect x="7" y="31" width="1.1" height="1.15" fill="#7d1014"/>
<rect x="7" y="32" width="1.1" height="1.15" fill="#fa2028"/>
<rect x="8" y="30" width="1.1" height="1.15" fill="#f31f27"/>
<rect x="8" y="31" width="1.1" height="1.15" fill="#6f0e12"/>
<rect x="8" y="32" width="1.1" height="1.15" fill="#da1c23"/>
<rect x="9" y="30" width="1.1" height="1.15" fill="#680a0c"/>
<rect x="9" y="31" width="1.1" height="1.15" fill="#2a0405"/>
<rect x="9" y="32" width="1.1" height="1.15" fill="#59080a"/>
<rect x="0" y="33" width="1.1" height="1.15" fill="#6c0c10"/>
<rect x="0" y="34" width="1.1" height="1.15" fill="#4b080b"/>
<rect x="0" y="35" width="1.1" height="1.15" fill="#941116"/>
<rect x="1" y="33" width="1.1" height="1.15" fill="#17802b"/>
<rect x="1" y="34" width="1.1" height="1.15" fill="#0f551d"/>
<rect x="1" y="35" width="1.1" height="1.15" fill="#29de4c"/>
<rect x="2" y="33" width="1.1" height="1.15" fill="#951318"/>
<rect x="2" y="34" width="1.1" height="1.15" fill="#610c0f"/>
<rect x="2" y="35" width="1.1" height="1.15" fill="#ff2129"/>
<rect x="3" y="33" width="1.1" height="1.15" fill="#931318"/>
<rect x="3" y="34" width="1.1" height="1.15" fill="#650d10"/>
<rect x="3" y="35" width="1.1" height="1.15" fill="#ff212a"/>
<rect x="4" y="33" width="1.1" height="1.15" fill="#871116"/>
<rect x="4" y="34" width="1.1" height="1.15" fill="#5e0c0f"/>
<rect x="4" y="35" width="1.1" height="1.15" fill="#ce1a21"/>
<rect x="5" y="33" width="1.1" height="1.15" fill="#941318"/>
<rect x="5" y="34" width="1.1" height="1.15" fill="#620c10"/>
<rect x="5" y="35" width="1.1" height="1.15" fill="#d61c23"/>
<rect x="6" y="33" width="1.1" height="1.15" fill="#7b1014"/>
<rect x="6" y="34" width="1.1" height="1.15" fill="#720f12"/>
<rect x="6" y="35" width="1.1" height="1.15" fill="#df1d24"/>
<rect x="7" y="33" width="1.1" height="1.15" fill="#9e1419"/>
<rect x="7" y="34" width="1.1" height="1.15" fill="#760f13"/>
<rect x="7" y="35" width="1.1" height="1.15" fill="#ff222a"/>
<rect x="8" y="33" width="1.1" height="1.15" fill="#5d0a0d"/>
<rect x="8" y="34" width="1.1" height="1.15" fill="#55090c"/>
<rect x="8" y="35" width="1.1" height="1.15" fill="#b0141a"/>
<rect x="9" y="33" width="1.1" height="1.15" fill="#400607"/>
<rect x="9" y="34" width="1.1" height="1.15" fill="#300405"/>
<rect x="9" y="35" width="1.1" height="1.15" fill="#5c090b"/>
<rect x="0" y="36" width="1.1" height="1.15" fill="#370506"/>
<rect x="0" y="37" width="1.1" height="1.15" fill="#58080a"/>
<rect x="0" y="38" width="1.1" height="1.15" fill="#390506"/>
<rect x="1" y="36" width="1.1" height="1.15" fill="#0d531d"/>
<rect x="1" y="37" width="1.1" height="1.15" fill="#19a239"/>
<rect x="1" y="38" width="1.1" height="1.15" fill="#0a4318"/>
<rect x="2" y="36" width="1.1" height="1.15" fill="#951318"/>
<rect x="2" y="37" width="1.1" height="1.15" fill="#ff222b"/>
<rect x="2" y="38" width="1.1" height="1.15" fill="#8f1217"/>
<rect x="3" y="36" width="1.1" height="1.15" fill="#aa161b"/>
<rect x="3" y="37" width="1.1" height="1.15" fill="#ff222a"/>
<rect x="3" y="38" width="1.1" height="1.15" fill="#9a1419"/>
<rect x="4" y="36" width="1.1" height="1.15" fill="#b0171c"/>
<rect x="4" y="37" width="1.1" height="1.15" fill="#ff242d"/>
<rect x="4" y="38" width="1.1" height="1.15" fill="#8f1217"/>
<rect x="5" y="36" width="1.1" height="1.15" fill="#951318"/>
<rect x="5" y="37" width="1.1" height="1.15" fill="#fc2129"/>
<rect x="5" y="38" width="1.1" height="1.15" fill="#7f1014"/>
<rect x="6" y="36" width="1.1" height="1.15" fill="#8f1217"/>
<rect x="6" y="37" width="1.1" height="1.15" fill="#fc2029"/>
<rect x="6" y="38" width="1.1" height="1.15" fill="#881116"/>
<rect x="7" y="36" width="1.1" height="1.15" fill="#6a0c0f"/>
<rect x="7" y="37" width="1.1" height="1.15" fill="#9c1117"/>
<rect x="7" y="38" width="1.1" height="1.15" fill="#710c10"/>
<rect x="8" y="36" width="1.1" height="1.15" fill="#921317"/>
<rect x="8" y="37" width="1.1" height="1.15" fill="#f92028"/>
<rect x="8" y="38" width="1.1" height="1.15" fill="#841115"/>
<rect x="9" y="36" width="1.1" height="1.15" fill="#400607"/>
<rect x="9" y="37" width="1.1" height="1.15" fill="#6e0b0d"/>
<rect x="9" y="38" width="1.1" height="1.15" fill="#400607"/>
<rect x="0" y="39" width="1.1" height="1.15" fill="#8b0f14"/>
<rect x="0" y="40" width="1.1" height="1.15" fill="#af141a"/>
<rect x="0" y="41" width="1.1" height="1.15" fill="#7c0e12"/>
<rect x="1" y="39" width="1.1" height="1.15" fill="#0f6323"/>
<rect x="1" y="40" width="1.1" height="1.15" fill="#158730"/>
<rect x="1" y="41" width="1.1" height="1.15" fill="#0e5e21"/>
<rect x="2" y="39" width="1.1" height="1.15" fill="#490708"/>
<rect x="2" y="40" width="1.1" height="1.15" fill="#5b090a"/>
<rect x="2" y="41" width="1.1" height="1.15" fill="#3c0607"/>
<rect x="3" y="39" width="1.1" height="1.15" fill="#c2191f"/>
<rect x="3" y="40" width="1.1" height="1.15" fill="#fe2129"/>
<rect x="3" y="41" width="1.1" height="1.15" fill="#8c1216"/>
<rect x="4" y="39" width="1.1" height="1.15" fill="#bb181e"/>
<rect x="4" y="40" width="1.1" height="1.15" fill="#f11f27"/>
<rect x="4" y="41" width="1.1" height="1.15" fill="#8a1216"/>
<rect x="5" y="39" width="1.1" height="1.15" fill="#500809"/>
<rect x="5" y="40" width="1.1" height="1.15" fill="#60090b"/>
<rect x="5" y="41" width="1.1" height="1.15" fill="#380506"/>
<rect x="6" y="39" width="1.1" height="1.15" fill="#dd1c24"/>
<rect x="6" y="40" width="1.1" height="1.15" fill="#ff252f"/>
<rect x="6" y="41" width="1.1" height="1.15" fill="#931318"/>
<rect x="7" y="39" width="1.1" height="1.15" fill="#500809"/>
<rect x="7" y="40" width="1.1" height="1.15" fill="#5c090b"/>
<rect x="7" y="41" width="1.1" height="1.15" fill="#350506"/>
<rect x="8" y="39" width="1.1" height="1.15" fill="#c51920"/>
<rect x="8" y="40" width="1.1" height="1.15" fill="#ff262f"/>
<rect x="8" y="41" width="1.1" height="1.15" fill="#851115"/>
<rect x="9" y="39" width="1.1" height="1.15" fill="#4f0709"/>
<rect x="9" y="40" width="1.1" height="1.15" fill="#720b0d"/>
<rect x="9" y="41" width="1.1" height="1.15" fill="#350506"/>
<rect x="0" y="42" width="1.1" height="1.15" fill="#56080a"/>
<rect x="0" y="43" width="1.1" height="1.15" fill="#3c0607"/>
<rect x="0" y="44" width="1.1" height="1.15" fill="#63090b"/>
<rect x="1" y="42" width="1.1" height="1.15" fill="#1a8d30"/>
<rect x="1" y="43" width="1.1" height="1.15" fill="#157528"/>
<rect x="1" y="44" width="1.1" height="1.15" fill="#23bf41"/>
<rect x="2" y="42" width="1.1" height="1.15" fill="#b5171d"/>
<rect x="2" y="43" width="1.1" height="1.15" fill="#790f13"/>
<rect x="2" y="44" width="1.1" height="1.15" fill="#de1d24"/>
<rect x="3" y="42" width="1.1" height="1.15" fill="#4d0709"/>
<rect x="3" y="43" width="1.1" height="1.15" fill="#350506"/>
<rect x="3" y="44" width="1.1" height="1.15" fill="#680a0c"/>
<rect x="4" y="42" width="1.1" height="1.15" fill="#b1171d"/>
<rect x="4" y="43" width="1.1" height="1.15" fill="#941318"/>
<rect x="4" y="44" width="1.1" height="1.15" fill="#c81a20"/>
<rect x="5" y="42" width="1.1" height="1.15" fill="#cc1a21"/>
<rect x="5" y="43" width="1.1" height="1.15" fill="#831115"/>
<rect x="5" y="44" width="1.1" height="1.15" fill="#d91c23"/>
<rect x="6" y="42" width="1.1" height="1.15" fill="#4e0709"/>
<rect x="6" y="43" width="1.1" height="1.15" fill="#300405"/>
<rect x="6" y="44" width="1.1" height="1.15" fill="#53080a"/>
<rect x="7" y="42" width="1.1" height="1.15" fill="#bc181e"/>
<rect x="7" y="43" width="1.1" height="1.15" fill="#790f13"/>
<rect x="7" y="44" width="1.1" height="1.15" fill="#f72028"/>
<rect x="8" y="42" width="1.1" height="1.15" fill="#cc1a21"/>
<rect x="8" y="43" width="1.1" height="1.15" fill="#8b1216"/>
<rect x="8" y="44" width="1.1" height="1.15" fill="#ed1f26"/>
<rect x="9" y="42" width="1.1" height="1.15" fill="#7c0e12"/>
<rect x="9" y="43" width="1.1" height="1.15" fill="#51090c"/>
<rect x="9" y="44" width="1.1" height="1.15" fill="#8c1014"/>
<rect x="0" y="45" width="1.1" height="1.15" fill="#0d0d09"/>
<rect x="0" y="46" width="1.1" height="1.15" fill="#090906"/>
<rect x="0" y="47" width="1.1" height="1.15" fill="#0f0f0b"/>
<rect x="1" y="45" width="1.1" height="1.15" fill="#2ae54e"/>
<rect x="1" y="46" width="1.1" height="1.15" fill="#1a8f31"/>
<rect x="1" y="47" width="1.1" height="1.15" fill="#28dc4b"/>
<rect x="2" y="45" width="1.1" height="1.15" fill="#ed1f26"/>
<rect x="2" y="46" width="1.1" height="1.15" fill="#a1151a"/>
<rect x="2" y="47" width="1.1" height="1.15" fill="#ff2630"/>
<rect x="3" y="45" width="1.1" height="1.15" fill="#ff242d"/>
<rect x="3" y="46" width="1.1" height="1.15" fill="#ab161c"/>
<rect x="3" y="47" width="1.1" height="1.15" fill="#eb1e26"/>
<rect x="4" y="45" width="1.1" height="1.15" fill="#ff242d"/>
<rect x="4" y="46" width="1.1" height="1.15" fill="#ad161c"/>
<rect x="4" y="47" width="1.1" height="1.15" fill="#ff252e"/>
<rect x="5" y="45" width="1.1" height="1.15" fill="#ac1319"/>
<rect x="5" y="46" width="1.1" height="1.15" fill="#6d0c10"/>
<rect x="5" y="47" width="1.1" height="1.15" fill="#ca171e"/>
<rect x="6" y="45" width="1.1" height="1.15" fill="#da1c23"/>
<rect x="6" y="46" width="1.1" height="1.15" fill="#c61920"/>
<rect x="6" y="47" width="1.1" height="1.15" fill="#ee1f26"/>
<rect x="7" y="45" width="1.1" height="1.15" fill="#ec1e26"/>
<rect x="7" y="46" width="1.1" height="1.15" fill="#951318"/>
<rect x="7" y="47" width="1.1" height="1.15" fill="#f21f27"/>
<rect x="8" y="45" width="1.1" height="1.15" fill="#ff212a"/>
<rect x="8" y="46" width="1.1" height="1.15" fill="#991419"/>
<rect x="8" y="47" width="1.1" height="1.15" fill="#e91e26"/>
<rect x="9" y="45" width="1.1" height="1.15" fill="#57080a"/>
<rect x="9" y="46" width="1.1" height="1.15" fill="#3d0607"/>
<rect x="9" y="47" width="1.1" height="1.15" fill="#6c0a0d"/>
<rect x="0" y="48" width="1.1" height="1.15" fill="#330506"/>
<rect x="0" y="49" width="1.1" height="1.15" fill="#670a0c"/>
<rect x="0" y="50" width="1.1" height="1.15" fill="#62090b"/>
<rect x="1" y="48" width="1.1" height="1.15" fill="#126422"/>
<rect x="1" y="49" width="1.1" height="1.15" fill="#25ca45"/>
<rect x="1" y="50" width="1.1" height="1.15" fill="#22ba3f"/>
<rect x="2" y="48" width="1.1" height="1.15" fill="#2f0405"/>
<rect x="2" y="49" width="1.1" height="1.15" fill="#63090b"/>
<rect x="2" y="50" width="1.1" height="1.15" fill="#490708"/>
<rect x="3" y="48" width="1.1" height="1.15" fill="#851115"/>
<rect x="3" y="49" width="1.1" height="1.15" fill="#fb2029"/>
<rect x="3" y="50" width="1.1" height="1.15" fill="#db1c23"/>
<rect x="4" y="48" width="1.1" height="1.15" fill="#861115"/>
<rect x="4" y="49" width="1.1" height="1.15" fill="#ea1e26"/>
<rect x="4" y="50" width="1.1" height="1.15" fill="#cc1a21"/>
<rect x="5" y="48" width="1.1" height="1.15" fill="#700e12"/>
<rect x="5" y="49" width="1.1" height="1.15" fill="#d71c23"/>
<rect x="5" y="50" width="1.1" height="1.15" fill="#c61920"/>
<rect x="6" y="48" width="1.1" height="1.15" fill="#380506"/>
<rect x="6" y="49" width="1.1" height="1.15" fill="#650a0c"/>
<rect x="6" y="50" width="1.1" height="1.15" fill="#61090b"/>
<rect x="7" y="48" width="1.1" height="1.15" fill="#780f13"/>
<rect x="7" y="49" width="1.1" height="1.15" fill="#fa2028"/>
<rect x="7" y="50" width="1.1" height="1.15" fill="#eb1e26"/>
<rect x="8" y="48" width="1.1" height="1.15" fill="#6c0e11"/>
<rect x="8" y="49" width="1.1" height="1.15" fill="#e31d25"/>
<rect x="8" y="50" width="1.1" height="1.15" fill="#b8181e"/>
<rect x="9" y="48" width="1.1" height="1.15" fill="#4f090b"/>
<rect x="9" y="49" width="1.1" height="1.15" fill="#9d1117"/>
<rect x="9" y="50" width="1.1" height="1.15" fill="#9f1217"/>
<rect x="0" y="51" width="1.1" height="1.15" fill="#060604"/>
<rect x="0" y="52" width="1.1" height="1.15" fill="#070705"/>
<rect x="0" y="53" width="1.1" height="1.15" fill="#090906"/>
<rect x="1" y="51" width="1.1" height="1.15" fill="#0f541c"/>
<rect x="1" y="52" width="1.1" height="1.15" fill="#157227"/>
<rect x="1" y="53" width="1.1" height="1.15" fill="#1fa739"/>
<rect x="2" y="51" width="1.1" height="1.15" fill="#6b0e11"/>
<rect x="2" y="52" width="1.1" height="1.15" fill="#9b1419"/>
<rect x="2" y="53" width="1.1" height="1.15" fill="#b6171d"/>
<rect x="3" y="51" width="1.1" height="1.15" fill="#831115"/>
<rect x="3" y="52" width="1.1" height="1.15" fill="#9e1419"/>
<rect x="3" y="53" width="1.1" height="1.15" fill="#971318"/>
<rect x="4" y="51" width="1.1" height="1.15" fill="#700e12"/>
<rect x="4" y="52" width="1.1" height="1.15" fill="#9f141a"/>
<rect x="4" y="53" width="1.1" height="1.15" fill="#b6171d"/>
<rect x="5" y="51" width="1.1" height="1.15" fill="#831115"/>
<rect x="5" y="52" width="1.1" height="1.15" fill="#7c1014"/>
<rect x="5" y="53" width="1.1" height="1.15" fill="#c0191f"/>
<rect x="6" y="51" width="1.1" height="1.15" fill="#720f12"/>
<rect x="6" y="52" width="1.1" height="1.15" fill="#9d1419"/>
<rect x="6" y="53" width="1.1" height="1.15" fill="#b2171d"/>
<rect x="7" y="51" width="1.1" height="1.15" fill="#710e12"/>
<rect x="7" y="52" width="1.1" height="1.15" fill="#911317"/>
<rect x="7" y="53" width="1.1" height="1.15" fill="#951318"/>
<rect x="8" y="51" width="1.1" height="1.15" fill="#861115"/>
<rect x="8" y="52" width="1.1" height="1.15" fill="#a1151a"/>
<rect x="8" y="53" width="1.1" height="1.15" fill="#b6171d"/>
<rect x="9" y="51" width="1.1" height="1.15" fill="#320506"/>
<rect x="9" y="52" width="1.1" height="1.15" fill="#3f0607"/>
<rect x="9" y="53" width="1.1" height="1.15" fill="#450608"/>
<rect x="0" y="54" width="1.1" height="1.15" fill="#3b0507"/>
<rect x="0" y="55" width="1.1" height="1.15" fill="#5b090a"/>
<rect x="0" y="56" width="1.1" height="1.15" fill="#61090b"/>
<rect x="1" y="54" width="1.1" height="1.15" fill="#136623"/>
<rect x="1" y="55" width="1.1" height="1.15" fill="#1da036"/>
<rect x="1" y="56" width="1.1" height="1.15" fill="#2ae34d"/>
<rect x="2" y="54" width="1.1" height="1.15" fill="#921317"/>
<rect x="2" y="55" width="1.1" height="1.15" fill="#d41b22"/>
<rect x="2" y="56" width="1.1" height="1.15" fill="#ff232c"/>
<rect x="3" y="54" width="1.1" height="1.15" fill="#7f1014"/>
<rect x="3" y="55" width="1.1" height="1.15" fill="#b9181e"/>
<rect x="3" y="56" width="1.1" height="1.15" fill="#f72028"/>
<rect x="4" y="54" width="1.1" height="1.15" fill="#951318"/>
<rect x="4" y="55" width="1.1" height="1.15" fill="#e61e25"/>
<rect x="4" y="56" width="1.1" height="1.15" fill="#ff242d"/>
<rect x="5" y="54" width="1.1" height="1.15" fill="#891116"/>
<rect x="5" y="55" width="1.1" height="1.15" fill="#bc181e"/>
<rect x="5" y="56" width="1.1" height="1.15" fill="#e41d25"/>
<rect x="6" y="54" width="1.1" height="1.15" fill="#6f0e12"/>
<rect x="6" y="55" width="1.1" height="1.15" fill="#af161c"/>
<rect x="6" y="56" width="1.1" height="1.15" fill="#f21f27"/>
<rect x="7" y="54" width="1.1" height="1.15" fill="#951318"/>
<rect x="7" y="55" width="1.1" height="1.15" fill="#d11b22"/>
<rect x="7" y="56" width="1.1" height="1.15" fill="#f41f27"/>
<rect x="8" y="54" width="1.1" height="1.15" fill="#720e12"/>
<rect x="8" y="55" width="1.1" height="1.15" fill="#af161c"/>
<rect x="8" y="56" width="1.1" height="1.15" fill="#e31d25"/>
<rect x="9" y="54" width="1.1" height="1.15" fill="#2f0405"/>
<rect x="9" y="55" width="1.1" height="1.15" fill="#4f0709"/>
<rect x="9" y="56" width="1.1" height="1.15" fill="#61090b"/>
<rect x="0" y="57" width="1.1" height="1.15" fill="#060604"/>
<rect x="0" y="58" width="1.1" height="1.15" fill="#0c0c08"/>
<rect x="0" y="59" width="1.1" height="1.15" fill="#050504"/>
<rect x="1" y="57" width="1.1" height="1.15" fill="#146f25"/>
<rect x="1" y="58" width="1.1" height="1.15" fill="#1d9d35"/>
<rect x="1" y="59" width="1.1" height="1.15" fill="#116021"/>
<rect x="2" y="57" width="1.1" height="1.15" fill="#2c0405"/>
<rect x="2" y="58" width="1.1" height="1.15" fill="#4c0709"/>
<rect x="2" y="59" width="1.1" height="1.15" fill="#310405"/>
<rect x="3" y="57" width="1.1" height="1.15" fill="#770f13"/>
<rect x="3" y="58" width="1.1" height="1.15" fill="#d01b22"/>
<rect x="3" y="59" width="1.1" height="1.15" fill="#630d10"/>
<rect x="4" y="57" width="1.1" height="1.15" fill="#700e12"/>
<rect x="4" y="58" width="1.1" height="1.15" fill="#c41920"/>
<rect x="4" y="59" width="1.1" height="1.15" fill="#6b0e11"/>
<rect x="5" y="57" width="1.1" height="1.15" fill="#6d0e11"/>
<rect x="5" y="58" width="1.1" height="1.15" fill="#ca1a21"/>
<rect x="5" y="59" width="1.1" height="1.15" fill="#6a0d11"/>
<rect x="6" y="57" width="1.1" height="1.15" fill="#7a0f13"/>
<rect x="6" y="58" width="1.1" height="1.15" fill="#d81c23"/>
<rect x="6" y="59" width="1.1" height="1.15" fill="#7a0f13"/>
<rect x="7" y="57" width="1.1" height="1.15" fill="#580a0d"/>
<rect x="7" y="58" width="1.1" height="1.15" fill="#860f14"/>
<rect x="7" y="59" width="1.1" height="1.15" fill="#54090c"/>
<rect x="8" y="57" width="1.1" height="1.15" fill="#891116"/>
<rect x="8" y="58" width="1.1" height="1.15" fill="#c91a20"/>
<rect x="8" y="59" width="1.1" height="1.15" fill="#710e12"/>
<rect x="9" y="57" width="1.1" height="1.15" fill="#310405"/>
<rect x="9" y="58" width="1.1" height="1.15" fill="#57080a"/>
<rect x="9" y="59" width="1.1" height="1.15" fill="#2d0405"/>
<rect x="0" y="60" width="1.1" height="1.15" fill="#189a37"/>
<rect x="0" y="61" width="1.1" height="1.15" fill="#0c521d"/>
<rect x="0" y="62" width="1.1" height="1.15" fill="#093d15"/>
<rect x="1" y="60" width="1.1" height="1.15" fill="#28da4a"/>
<rect x="1" y="61" width="1.1" height="1.15" fill="#177f2b"/>
<rect x="1" y="62" width="1.1" height="1.15" fill="#0e4e1a"/>
<rect x="2" y="60" width="1.1" height="1.15" fill="#ff232c"/>
<rect x="2" y="61" width="1.1" height="1.15" fill="#911317"/>
<rect x="2" y="62" width="1.1" height="1.15" fill="#5f0c0f"/>
<rect x="3" y="60" width="1.1" height="1.15" fill="#db1c23"/>
<rect x="3" y="61" width="1.1" height="1.15" fill="#7b1014"/>
<rect x="3" y="62" width="1.1" height="1.15" fill="#5a0b0e"/>
<rect x="4" y="60" width="1.1" height="1.15" fill="#e61e25"/>
<rect x="4" y="61" width="1.1" height="1.15" fill="#851115"/>
<rect x="4" y="62" width="1.1" height="1.15" fill="#650d10"/>
<rect x="5" y="60" width="1.1" height="1.15" fill="#710b0d"/>
<rect x="5" y="61" width="1.1" height="1.15" fill="#3a0507"/>
<rect x="5" y="62" width="1.1" height="1.15" fill="#290405"/>
<rect x="6" y="60" width="1.1" height="1.15" fill="#cf1b21"/>
<rect x="6" y="61" width="1.1" height="1.15" fill="#951318"/>
<rect x="6" y="62" width="1.1" height="1.15" fill="#630c10"/>
<rect x="7" y="60" width="1.1" height="1.15" fill="#6b0a0c"/>
<rect x="7" y="61" width="1.1" height="1.15" fill="#360506"/>
<rect x="7" y="62" width="1.1" height="1.15" fill="#290405"/>
<rect x="8" y="60" width="1.1" height="1.15" fill="#63090b"/>
<rect x="8" y="61" width="1.1" height="1.15" fill="#3e0607"/>
<rect x="8" y="62" width="1.1" height="1.15" fill="#270304"/>
<rect x="9" y="60" width="1.1" height="1.15" fill="#6d0a0d"/>
<rect x="9" y="61" width="1.1" height="1.15" fill="#3f0607"/>
<rect x="9" y="62" width="1.1" height="1.15" fill="#280404"/>
<rect x="0" y="63" width="1.1" height="1.15" fill="#094017"/>
<rect x="0" y="64" width="1.1" height="1.15" fill="#0b4d1b"/>
<rect x="0" y="65" width="1.1" height="1.15" fill="#083914"/>
<rect x="1" y="63" width="1.1" height="1.15" fill="#1d9d35"/>
<rect x="1" y="64" width="1.1" height="1.15" fill="#1d9e36"/>
<rect x="1" y="65" width="1.1" height="1.15" fill="#1fa93a"/>
<rect x="2" y="63" width="1.1" height="1.15" fill="#4b0709"/>
<rect x="2" y="64" width="1.1" height="1.15" fill="#4b0709"/>
<rect x="2" y="65" width="1.1" height="1.15" fill="#3f0607"/>
<rect x="3" y="63" width="1.1" height="1.15" fill="#c41920"/>
<rect x="3" y="64" width="1.1" height="1.15" fill="#e91e26"/>
<rect x="3" y="65" width="1.1" height="1.15" fill="#bb181e"/>
<rect x="4" y="63" width="1.1" height="1.15" fill="#ac161c"/>
<rect x="4" y="64" width="1.1" height="1.15" fill="#c61920"/>
<rect x="4" y="65" width="1.1" height="1.15" fill="#b4171d"/>
<rect x="5" y="63" width="1.1" height="1.15" fill="#c71a20"/>
<rect x="5" y="64" width="1.1" height="1.15" fill="#df1d24"/>
<rect x="5" y="65" width="1.1" height="1.15" fill="#9c1419"/>
<rect x="6" y="63" width="1.1" height="1.15" fill="#420607"/>
<rect x="6" y="64" width="1.1" height="1.15" fill="#4c0709"/>
<rect x="6" y="65" width="1.1" height="1.15" fill="#520809"/>
<rect x="7" y="63" width="1.1" height="1.15" fill="#500809"/>
<rect x="7" y="64" width="1.1" height="1.15" fill="#63090b"/>
<rect x="7" y="65" width="1.1" height="1.15" fill="#480708"/>
<rect x="8" y="63" width="1.1" height="1.15" fill="#440608"/>
<rect x="8" y="64" width="1.1" height="1.15" fill="#4c0709"/>
<rect x="8" y="65" width="1.1" height="1.15" fill="#440608"/>
<rect x="9" y="63" width="1.1" height="1.15" fill="#450608"/>
<rect x="9" y="64" width="1.1" height="1.15" fill="#55080a"/>
<rect x="9" y="65" width="1.1" height="1.15" fill="#460708"/>
<rect x="0" y="66" width="1.1" height="1.15" fill="#158931"/>
<rect x="0" y="67" width="1.1" height="1.15" fill="#14822e"/>
<rect x="0" y="68" width="1.1" height="1.15" fill="#0c521d"/>
<rect x="1" y="66" width="1.1" height="1.15" fill="#25c844"/>
<rect x="1" y="67" width="1.1" height="1.15" fill="#21b23c"/>
<rect x="1" y="68" width="1.1" height="1.15" fill="#157126"/>
<rect x="2" y="66" width="1.1" height="1.15" fill="#fb2029"/>
<rect x="2" y="67" width="1.1" height="1.15" fill="#f11f27"/>
<rect x="2" y="68" width="1.1" height="1.15" fill="#971318"/>
<rect x="3" y="66" width="1.1" height="1.15" fill="#ed1f26"/>
<rect x="3" y="67" width="1.1" height="1.15" fill="#ff232c"/>
<rect x="3" y="68" width="1.1" height="1.15" fill="#951318"/>
<rect x="4" y="66" width="1.1" height="1.15" fill="#ef1f27"/>
<rect x="4" y="67" width="1.1" height="1.15" fill="#d81c23"/>
<rect x="4" y="68" width="1.1" height="1.15" fill="#ad161c"/>
<rect x="5" y="66" width="1.1" height="1.15" fill="#d51b22"/>
<rect x="5" y="67" width="1.1" height="1.15" fill="#eb1e26"/>
<rect x="5" y="68" width="1.1" height="1.15" fill="#841115"/>
<rect x="6" y="66" width="1.1" height="1.15" fill="#4e0709"/>
<rect x="6" y="67" width="1.1" height="1.15" fill="#60090b"/>
<rect x="6" y="68" width="1.1" height="1.15" fill="#380506"/>
<rect x="7" y="66" width="1.1" height="1.15" fill="#0d0d09"/>
<rect x="7" y="67" width="1.1" height="1.15" fill="#0f0f0b"/>
<rect x="7" y="68" width="1.1" height="1.15" fill="#080805"/>
<rect x="8" y="66" width="1.1" height="1.15" fill="#60090b"/>
<rect x="8" y="67" width="1.1" height="1.15" fill="#650a0c"/>
<rect x="8" y="68" width="1.1" height="1.15" fill="#410607"/>
<rect x="9" y="66" width="1.1" height="1.15" fill="#61090b"/>
<rect x="9" y="67" width="1.1" height="1.15" fill="#62090b"/>
<rect x="9" y="68" width="1.1" height="1.15" fill="#450608"/>
<rect x="0" y="69" width="1.1" height="1.15" fill="#10571d"/>
<rect x="0" y="70" width="1.1" height="1.15" fill="#1ea237"/>
<rect x="0" y="71" width="1.1" height="1.15" fill="#20ad3b"/>
<rect x="1" y="69" width="1.1" height="1.15" fill="#126422"/>
<rect x="1" y="70" width="1.1" height="1.15" fill="#20b03c"/>
<rect x="1" y="71" width="1.1" height="1.15" fill="#1c9934"/>
<rect x="2" y="69" width="1.1" height="1.15" fill="#7f1014"/>
<rect x="2" y="70" width="1.1" height="1.15" fill="#db1c23"/>
<rect x="2" y="71" width="1.1" height="1.15" fill="#a7151b"/>
<rect x="3" y="69" width="1.1" height="1.15" fill="#350506"/>
<rect x="3" y="70" width="1.1" height="1.15" fill="#5f090b"/>
<rect x="3" y="71" width="1.1" height="1.15" fill="#500809"/>
<rect x="4" y="69" width="1.1" height="1.15" fill="#7a0f13"/>
<rect x="4" y="70" width="1.1" height="1.15" fill="#de1c24"/>
<rect x="4" y="71" width="1.1" height="1.15" fill="#ad161c"/>
<rect x="5" y="69" width="1.1" height="1.15" fill="#831115"/>
<rect x="5" y="70" width="1.1" height="1.15" fill="#e01d24"/>
<rect x="5" y="71" width="1.1" height="1.15" fill="#a4151a"/>
<rect x="6" y="69" width="1.1" height="1.15" fill="#7d1014"/>
<rect x="6" y="70" width="1.1" height="1.15" fill="#ce1a21"/>
<rect x="6" y="71" width="1.1" height="1.15" fill="#9e1419"/>
<rect x="7" y="69" width="1.1" height="1.15" fill="#070705"/>
<rect x="7" y="70" width="1.1" height="1.15" fill="#0b0b07"/>
<rect x="7" y="71" width="1.1" height="1.15" fill="#0a0a07"/>
<rect x="8" y="69" width="1.1" height="1.15" fill="#48080a"/>
<rect x="8" y="70" width="1.1" height="1.15" fill="#971116"/>
<rect x="8" y="71" width="1.1" height="1.15" fill="#840f13"/>
<rect x="9" y="69" width="1.1" height="1.15" fill="#330506"/>
<rect x="9" y="70" width="1.1" height="1.15" fill="#61090b"/>
<rect x="9" y="71" width="1.1" height="1.15" fill="#530809"/>
<rect x="0" y="72" width="1.1" height="1.15" fill="#093d15"/>
<rect x="0" y="73" width="1.1" height="1.15" fill="#072f11"/>
<rect x="0" y="74" width="1.1" height="1.15" fill="#0c531e"/>
<rect x="1" y="72" width="1.1" height="1.15" fill="#117228"/>
<rect x="1" y="73" width="1.1" height="1.15" fill="#0e5c21"/>
<rect x="1" y="74" width="1.1" height="1.15" fill="#14822e"/>
<rect x="2" y="72" width="1.1" height="1.15" fill="#4e0709"/>
<rect x="2" y="73" width="1.1" height="1.15" fill="#370506"/>
<rect x="2" y="74" width="1.1" height="1.15" fill="#670a0c"/>
<rect x="3" y="72" width="1.1" height="1.15" fill="#c0191f"/>
<rect x="3" y="73" width="1.1" height="1.15" fill="#ae161c"/>
<rect x="3" y="74" width="1.1" height="1.15" fill="#ef1f27"/>
<rect x="4" y="72" width="1.1" height="1.15" fill="#bd181e"/>
<rect x="4" y="73" width="1.1" height="1.15" fill="#a9161b"/>
<rect x="4" y="74" width="1.1" height="1.15" fill="#ea1e26"/>
<rect x="5" y="72" width="1.1" height="1.15" fill="#5d090b"/>
<rect x="5" y="73" width="1.1" height="1.15" fill="#410607"/>
<rect x="5" y="74" width="1.1" height="1.15" fill="#5e090b"/>
<rect x="6" y="72" width="1.1" height="1.15" fill="#5a090a"/>
<rect x="6" y="73" width="1.1" height="1.15" fill="#4a0708"/>
<rect x="6" y="74" width="1.1" height="1.15" fill="#63090b"/>
<rect x="7" y="72" width="1.1" height="1.15" fill="#56080a"/>
<rect x="7" y="73" width="1.1" height="1.15" fill="#410607"/>
<rect x="7" y="74" width="1.1" height="1.15" fill="#770b0e"/>
<rect x="8" y="72" width="1.1" height="1.15" fill="#0d0d09"/>
<rect x="8" y="73" width="1.1" height="1.15" fill="#070705"/>
<rect x="8" y="74" width="1.1" height="1.15" fill="#0e0e0a"/>
<rect x="9" y="72" width="1.1" height="1.15" fill="#5d090b"/>
<rect x="9" y="73" width="1.1" height="1.15" fill="#3f0607"/>
<rect x="9" y="74" width="1.1" height="1.15" fill="#690a0c"/>
<rect x="0" y="75" width="1.1" height="1.15" fill="#0c0c08"/>
<rect x="0" y="76" width="1.1" height="1.15" fill="#040403"/>
<rect x="0" y="77" width="1.1" height="1.15" fill="#050503"/>
<rect x="1" y="75" width="1.1" height="1.15" fill="#116e27"/>
<rect x="1" y="76" width="1.1" height="1.15" fill="#083613"/>
<rect x="1" y="77" width="1.1" height="1.15" fill="#093b15"/>
<rect x="2" y="75" width="1.1" height="1.15" fill="#a6151b"/>
<rect x="2" y="76" width="1.1" height="1.15" fill="#5b0b0e"/>
<rect x="2" y="77" width="1.1" height="1.15" fill="#4e0a0c"/>
<rect x="3" y="75" width="1.1" height="1.15" fill="#4e0709"/>
<rect x="3" y="76" width="1.1" height="1.15" fill="#270304"/>
<rect x="3" y="77" width="1.1" height="1.15" fill="#250304"/>
<rect x="4" y="75" width="1.1" height="1.15" fill="#b6171d"/>
<rect x="4" y="76" width="1.1" height="1.15" fill="#610c0f"/>
<rect x="4" y="77" width="1.1" height="1.15" fill="#620c10"/>
<rect x="5" y="75" width="1.1" height="1.15" fill="#d51b22"/>
<rect x="5" y="76" width="1.1" height="1.15" fill="#590b0e"/>
<rect x="5" y="77" width="1.1" height="1.15" fill="#570b0e"/>
<rect x="6" y="75" width="1.1" height="1.15" fill="#510809"/>
<rect x="6" y="76" width="1.1" height="1.15" fill="#230304"/>
<rect x="6" y="77" width="1.1" height="1.15" fill="#200303"/>
<rect x="7" y="75" width="1.1" height="1.15" fill="#440608"/>
<rect x="7" y="76" width="1.1" height="1.15" fill="#280404"/>
<rect x="7" y="77" width="1.1" height="1.15" fill="#270304"/>
<rect x="8" y="75" width="1.1" height="1.15" fill="#a3151a"/>
<rect x="8" y="76" width="1.1" height="1.15" fill="#5e0c0f"/>
<rect x="8" y="77" width="1.1" height="1.15" fill="#630d10"/>
<rect x="9" y="75" width="1.1" height="1.15" fill="#420608"/>
<rect x="9" y="76" width="1.1" height="1.15" fill="#290404"/>
<rect x="9" y="77" width="1.1" height="1.15" fill="#220304"/>
<rect x="0" y="78" width="1.1" height="1.15" fill="#1a8e30"/>
<rect x="0" y="79" width="1.1" height="1.15" fill="#21b33d"/>
<rect x="0" y="80" width="1.1" height="1.15" fill="#1c9834"/>
<rect x="1" y="78" width="1.1" height="1.15" fill="#1faa3a"/>
<rect x="1" y="79" width="1.1" height="1.15" fill="#25c944"/>
<rect x="1" y="80" width="1.1" height="1.15" fill="#1fa839"/>
<rect x="2" y="78" width="1.1" height="1.15" fill="#4f0709"/>
<rect x="2" y="79" width="1.1" height="1.15" fill="#57080a"/>
<rect x="2" y="80" width="1.1" height="1.15" fill="#440608"/>
<rect x="3" y="78" width="1.1" height="1.15" fill="#c81a20"/>
<rect x="3" y="79" width="1.1" height="1.15" fill="#f31f27"/>
<rect x="3" y="80" width="1.1" height="1.15" fill="#a5151a"/>
<rect x="4" y="78" width="1.1" height="1.15" fill="#4f0709"/>
<rect x="4" y="79" width="1.1" height="1.15" fill="#54080a"/>
<rect x="4" y="80" width="1.1" height="1.15" fill="#3e0607"/>
<rect x="5" y="78" width="1.1" height="1.15" fill="#0a0a07"/>
<rect x="5" y="79" width="1.1" height="1.15" fill="#0d0d09"/>
<rect x="5" y="80" width="1.1" height="1.15" fill="#0a0a07"/>
<rect x="6" y="78" width="1.1" height="1.15" fill="#c3191f"/>
<rect x="6" y="79" width="1.1" height="1.15" fill="#ee1f26"/>
<rect x="6" y="80" width="1.1" height="1.15" fill="#bf181f"/>
<rect x="7" y="78" width="1.1" height="1.15" fill="#440608"/>
<rect x="7" y="79" width="1.1" height="1.15" fill="#63090b"/>
<rect x="7" y="80" width="1.1" height="1.15" fill="#3e0607"/>
<rect x="8" y="78" width="1.1" height="1.15" fill="#490708"/>
<rect x="8" y="79" width="1.1" height="1.15" fill="#4d0709"/>
<rect x="8" y="80" width="1.1" height="1.15" fill="#450608"/>
<rect x="9" y="78" width="1.1" height="1.15" fill="#510809"/>
<rect x="9" y="79" width="1.1" height="1.15" fill="#60090b"/>
<rect x="9" y="80" width="1.1" height="1.15" fill="#520809"/>
<rect x="0" y="81" width="1.1" height="1.15" fill="#1d9d35"/>
<rect x="0" y="82" width="1.1" height="1.15" fill="#1faa3a"/>
<rect x="0" y="83" width="1.1" height="1.15" fill="#115c1f"/>
<rect x="1" y="81" width="1.1" height="1.15" fill="#20ae3b"/>
<rect x="1" y="82" width="1.1" height="1.15" fill="#1a8e30"/>
<rect x="1" y="83" width="1.1" height="1.15" fill="#136924"/>
<rect x="2" y="81" width="1.1" height="1.15" fill="#450608"/>
<rect x="2" y="82" width="1.1" height="1.15" fill="#54080a"/>
<rect x="2" y="83" width="1.1" height="1.15" fill="#290405"/>
<rect x="3" y="81" width="1.1" height="1.15" fill="#a5151a"/>
<rect x="3" y="82" width="1.1" height="1.15" fill="#b9181e"/>
<rect x="3" y="83" width="1.1" height="1.15" fill="#7d1014"/>
<rect x="4" y="81" width="1.1" height="1.15" fill="#8f1015"/>
<rect x="4" y="82" width="1.1" height="1.15" fill="#7d0e12"/>
<rect x="4" y="83" width="1.1" height="1.15" fill="#580a0d"/>
<rect x="5" y="81" width="1.1" height="1.15" fill="#090907"/>
<rect x="5" y="82" width="1.1" height="1.15" fill="#090907"/>
<rect x="5" y="83" width="1.1" height="1.15" fill="#060604"/>
<rect x="6" y="81" width="1.1" height="1.15" fill="#ad161c"/>
<rect x="6" y="82" width="1.1" height="1.15" fill="#9c1419"/>
<rect x="6" y="83" width="1.1" height="1.15" fill="#6a0d11"/>
<rect x="7" y="81" width="1.1" height="1.15" fill="#bf181f"/>
<rect x="7" y="82" width="1.1" height="1.15" fill="#bb181e"/>
<rect x="7" y="83" width="1.1" height="1.15" fill="#6e0e12"/>
<rect x="8" y="81" width="1.1" height="1.15" fill="#c3191f"/>
<rect x="8" y="82" width="1.1" height="1.15" fill="#ac161c"/>
<rect x="8" y="83" width="1.1" height="1.15" fill="#7e1014"/>
<rect x="9" y="81" width="1.1" height="1.15" fill="#410607"/>
<rect x="9" y="82" width="1.1" height="1.15" fill="#500809"/>
<rect x="9" y="83" width="1.1" height="1.15" fill="#350506"/>
<rect x="0" y="84" width="1.1" height="1.15" fill="#1a8f31"/>
<rect x="0" y="85" width="1.1" height="1.15" fill="#1b9532"/>
<rect x="0" y="86" width="1.1" height="1.15" fill="#29df4c"/>
<rect x="1" y="84" width="1.1" height="1.15" fill="#1fab3a"/>
<rect x="1" y="85" width="1.1" height="1.15" fill="#1fab3a"/>
<rect x="1" y="86" width="1.1" height="1.15" fill="#29dd4b"/>
<rect x="2" y="84" width="1.1" height="1.15" fill="#4c0709"/>
<rect x="2" y="85" width="1.1" height="1.15" fill="#510809"/>
<rect x="2" y="86" width="1.1" height="1.15" fill="#780c0e"/>
<rect x="3" y="84" width="1.1" height="1.15" fill="#090906"/>
<rect x="3" y="85" width="1.1" height="1.15" fill="#0c0c08"/>
<rect x="3" y="86" width="1.1" height="1.15" fill="#0d0d09"/>
<rect x="4" y="84" width="1.1" height="1.15" fill="#56080a"/>
<rect x="4" y="85" width="1.1" height="1.15" fill="#4c0709"/>
<rect x="4" y="86" width="1.1" height="1.15" fill="#760b0e"/>
<rect x="5" y="84" width="1.1" height="1.15" fill="#810e13"/>
<rect x="5" y="85" width="1.1" height="1.15" fill="#961116"/>
<rect x="5" y="86" width="1.1" height="1.15" fill="#be151c"/>
<rect x="6" y="84" width="1.1" height="1.15" fill="#59080a"/>
<rect x="6" y="85" width="1.1" height="1.15" fill="#520809"/>
<rect x="6" y="86" width="1.1" height="1.15" fill="#6d0a0d"/>
<rect x="7" y="84" width="1.1" height="1.15" fill="#c0191f"/>
<rect x="7" y="85" width="1.1" height="1.15" fill="#bb181e"/>
<rect x="7" y="86" width="1.1" height="1.15" fill="#ff2731"/>
<rect x="8" y="84" width="1.1" height="1.15" fill="#b7171d"/>
<rect x="8" y="85" width="1.1" height="1.15" fill="#b5171d"/>
<rect x="8" y="86" width="1.1" height="1.15" fill="#f21f27"/>
<rect x="9" y="84" width="1.1" height="1.15" fill="#53080a"/>
<rect x="9" y="85" width="1.1" height="1.15" fill="#5c090b"/>
<rect x="9" y="86" width="1.1" height="1.15" fill="#6f0b0d"/>
<rect x="0" y="87" width="1.1" height="1.15" fill="#2bec50"/>
<rect x="0" y="88" width="1.1" height="1.15" fill="#116121"/>
<rect x="0" y="89" width="1.1" height="1.15" fill="#21b63e"/>
<rect x="1" y="87" width="1.1" height="1.15" fill="#169134"/>
<rect x="1" y="88" width="1.1" height="1.15" fill="#0b4619"/>
<rect x="1" y="89" width="1.1" height="1.15" fill="#168d32"/>
<rect x="2" y="87" width="1.1" height="1.15" fill="#710b0d"/>
<rect x="2" y="88" width="1.1" height="1.15" fill="#2f0405"/>
<rect x="2" y="89" width="1.1" height="1.15" fill="#5d090b"/>
<rect x="3" y="87" width="1.1" height="1.15" fill="#f82028"/>
<rect x="3" y="88" width="1.1" height="1.15" fill="#720e12"/>
<rect x="3" y="89" width="1.1" height="1.15" fill="#f41f27"/>
<rect x="4" y="87" width="1.1" height="1.15" fill="#0f0f0a"/>
<rect x="4" y="88" width="1.1" height="1.15" fill="#060604"/>
<rect x="4" y="89" width="1.1" height="1.15" fill="#0c0c09"/>
<rect x="5" y="87" width="1.1" height="1.15" fill="#720b0d"/>
<rect x="5" y="88" width="1.1" height="1.15" fill="#2d0405"/>
<rect x="5" y="89" width="1.1" height="1.15" fill="#700b0d"/>
<rect x="6" y="87" width="1.1" height="1.15" fill="#ff232c"/>
<rect x="6" y="88" width="1.1" height="1.15" fill="#740f13"/>
<rect x="6" y="89" width="1.1" height="1.15" fill="#d31b22"/>
<rect x="7" y="87" width="1.1" height="1.15" fill="#19a43a"/>
<rect x="7" y="88" width="1.1" height="1.15" fill="#093e16"/>
<rect x="7" y="89" width="1.1" height="1.15" fill="#189836"/>
<rect x="8" y="87" width="1.1" height="1.15" fill="#179635"/>
<rect x="8" y="88" width="1.1" height="1.15" fill="#0c4c1b"/>
<rect x="8" y="89" width="1.1" height="1.15" fill="#14812e"/>
<rect x="9" y="87" width="1.1" height="1.15" fill="#720b0d"/>
<rect x="9" y="88" width="1.1" height="1.15" fill="#300405"/>
<rect x="9" y="89" width="1.1" height="1.15" fill="#680a0c"/>
<rect x="0" y="90" width="1.1" height="1.15" fill="#25cb45"/>
<rect x="0" y="91" width="1.1" height="1.15" fill="#1d9e36"/>
<rect x="0" y="92" width="1.1" height="1.15" fill="#136924"/>
<rect x="1" y="90" width="1.1" height="1.15" fill="#2cef51"/>
<rect x="1" y="91" width="1.1" height="1.15" fill="#1d9e35"/>
<rect x="1" y="92" width="1.1" height="1.15" fill="#126221"/>
<rect x="2" y="90" width="1.1" height="1.15" fill="#fb2029"/>
<rect x="2" y="91" width="1.1" height="1.15" fill="#c2191f"/>
<rect x="2" y="92" width="1.1" height="1.15" fill="#6c0e11"/>
<rect x="3" y="90" width="1.1" height="1.15" fill="#ff2630"/>
<rect x="3" y="91" width="1.1" height="1.15" fill="#bb181e"/>
<rect x="3" y="92" width="1.1" height="1.15" fill="#6c0e11"/>
<rect x="4" y="90" width="1.1" height="1.15" fill="#6f0b0d"/>
<rect x="4" y="91" width="1.1" height="1.15" fill="#490708"/>
<rect x="4" y="92" width="1.1" height="1.15" fill="#290404"/>
<rect x="5" y="90" width="1.1" height="1.15" fill="#0e0e0a"/>
<rect x="5" y="91" width="1.1" height="1.15" fill="#0c0c08"/>
<rect x="5" y="92" width="1.1" height="1.15" fill="#060604"/>
<rect x="6" y="90" width="1.1" height="1.15" fill="#f52028"/>
<rect x="6" y="91" width="1.1" height="1.15" fill="#b7171d"/>
<rect x="6" y="92" width="1.1" height="1.15" fill="#760f13"/>
<rect x="7" y="90" width="1.1" height="1.15" fill="#f41f27"/>
<rect x="7" y="91" width="1.1" height="1.15" fill="#c51920"/>
<rect x="7" y="92" width="1.1" height="1.15" fill="#730f12"/>
<rect x="8" y="90" width="1.1" height="1.15" fill="#0c0c09"/>
<rect x="8" y="91" width="1.1" height="1.15" fill="#0a0a07"/>
<rect x="8" y="92" width="1.1" height="1.15" fill="#070705"/>
<rect x="9" y="90" width="1.1" height="1.15" fill="#0d0d09"/>
<rect x="9" y="91" width="1.1" height="1.15" fill="#0b0b08"/>
<rect x="9" y="92" width="1.1" height="1.15" fill="#050504"/>
<rect x="0" y="93" width="1.1" height="1.15" fill="#177d2a"/>
<rect x="0" y="94" width="1.1" height="1.15" fill="#167929"/>
<rect x="0" y="95" width="1.1" height="1.15" fill="#1ea638"/>
<rect x="1" y="93" width="1.1" height="1.15" fill="#1ea538"/>
<rect x="1" y="94" width="1.1" height="1.15" fill="#19882e"/>
<rect x="1" y="95" width="1.1" height="1.15" fill="#23be40"/>
<rect x="2" y="93" width="1.1" height="1.15" fill="#b1171c"/>
<rect x="2" y="94" width="1.1" height="1.15" fill="#bb181e"/>
<rect x="2" y="95" width="1.1" height="1.15" fill="#b3171d"/>
<rect x="3" y="93" width="1.1" height="1.15" fill="#8b0f14"/>
<rect x="3" y="94" width="1.1" height="1.15" fill="#6c0c10"/>
<rect x="3" y="95" width="1.1" height="1.15" fill="#860f13"/>
<rect x="4" y="93" width="1.1" height="1.15" fill="#480708"/>
<rect x="4" y="94" width="1.1" height="1.15" fill="#410607"/>
<rect x="4" y="95" width="1.1" height="1.15" fill="#60090b"/>
<rect x="5" y="93" width="1.1" height="1.15" fill="#510809"/>
<rect x="5" y="94" width="1.1" height="1.15" fill="#470708"/>
<rect x="5" y="95" width="1.1" height="1.15" fill="#4d0709"/>
<rect x="6" y="93" width="1.1" height="1.15" fill="#a1151a"/>
<rect x="6" y="94" width="1.1" height="1.15" fill="#a0141a"/>
<rect x="6" y="95" width="1.1" height="1.15" fill="#c2191f"/>
<rect x="7" y="93" width="1.1" height="1.15" fill="#a0141a"/>
<rect x="7" y="94" width="1.1" height="1.15" fill="#941318"/>
<rect x="7" y="95" width="1.1" height="1.15" fill="#be181f"/>
<rect x="8" y="93" width="1.1" height="1.15" fill="#083412"/>
<rect x="8" y="94" width="1.1" height="1.15" fill="#072d10"/>
<rect x="8" y="95" width="1.1" height="1.15" fill="#093d16"/>
<rect x="9" y="93" width="1.1" height="1.15" fill="#0b0b08"/>
<rect x="9" y="94" width="1.1" height="1.15" fill="#0a0a07"/>
<rect x="9" y="95" width="1.1" height="1.15" fill="#0c0c08"/>
<rect x="0" y="96" width="1.1" height="1.15" fill="#23bd40"/>
<rect x="0" y="97" width="1.1" height="1.15" fill="#26cd46"/>
<rect x="0" y="98" width="1.1" height="1.15" fill="#10561d"/>
<rect x="1" y="96" width="1.1" height="1.15" fill="#2efb55"/>
<rect x="1" y="97" width="1.1" height="1.15" fill="#22b93f"/>
<rect x="1" y="98" width="1.1" height="1.15" fill="#105b1f"/>
<rect x="2" y="96" width="1.1" height="1.15" fill="#740b0d"/>
<rect x="2" y="97" width="1.1" height="1.15" fill="#61090b"/>
<rect x="2" y="98" width="1.1" height="1.15" fill="#2d0405"/>
<rect x="3" y="96" width="1.1" height="1.15" fill="#ff252f"/>
<rect x="3" y="97" width="1.1" height="1.15" fill="#e21d25"/>
<rect x="3" y="98" width="1.1" height="1.15" fill="#6b0e11"/>
<rect x="4" y="96" width="1.1" height="1.15" fill="#690a0c"/>
<rect x="4" y="97" width="1.1" height="1.15" fill="#710b0d"/>
<rect x="4" y="98" width="1.1" height="1.15" fill="#250304"/>
<rect x="5" y="96" width="1.1" height="1.15" fill="#0f0f0b"/>
<rect x="5" y="97" width="1.1" height="1.15" fill="#0c0c08"/>
<rect x="5" y="98" width="1.1" height="1.15" fill="#050503"/>
<rect x="6" y="96" width="1.1" height="1.15" fill="#ff2129"/>
<rect x="6" y="97" width="1.1" height="1.15" fill="#f62028"/>
<rect x="6" y="98" width="1.1" height="1.15" fill="#640d10"/>
<rect x="7" y="96" width="1.1" height="1.15" fill="#ee1f26"/>
<rect x="7" y="97" width="1.1" height="1.15" fill="#ff2630"/>
<rect x="7" y="98" width="1.1" height="1.15" fill="#640d10"/>
<rect x="8" y="96" width="1.1" height="1.15" fill="#0e0e0a"/>
<rect x="8" y="97" width="1.1" height="1.15" fill="#0e0e0a"/>
<rect x="8" y="98" width="1.1" height="1.15" fill="#060604"/>
<rect x="9" y="96" width="1.1" height="1.15" fill="#0d0d09"/>
<rect x="9" y="97" width="1.1" height="1.15" fill="#10100b"/>
<rect x="9" y="98" width="1.1" height="1.15" fill="#050503"/>
<rect x="0" y="99" width="1.1" height="1.15" fill="#23be40"/>
<rect x="0" y="100" width="1.1" height="1.15" fill="#1b9633"/>
<rect x="0" y="101" width="1.1" height="1.15" fill="#1b9633"/>
<rect x="1" y="99" width="1.1" height="1.15" fill="#29e04c"/>
<rect x="1" y="100" width="1.1" height="1.15" fill="#1a8f31"/>
<rect x="1" y="101" width="1.1" height="1.15" fill="#22b73e"/>
<rect x="2" y="99" width="1.1" height="1.15" fill="#ca171e"/>
<rect x="2" y="100" width="1.1" height="1.15" fill="#7f0e13"/>
<rect x="2" y="101" width="1.1" height="1.15" fill="#7e0e12"/>
<rect x="3" y="99" width="1.1" height="1.15" fill="#ff232c"/>
<rect x="3" y="100" width="1.1" height="1.15" fill="#901217"/>
<rect x="3" y="101" width="1.1" height="1.15" fill="#d61b22"/>
<rect x="4" y="99" width="1.1" height="1.15" fill="#710b0d"/>
<rect x="4" y="100" width="1.1" height="1.15" fill="#3b0507"/>
<rect x="4" y="101" width="1.1" height="1.15" fill="#440608"/>
<rect x="5" y="99" width="1.1" height="1.15" fill="#0f0f0b"/>
<rect x="5" y="100" width="1.1" height="1.15" fill="#080806"/>
<rect x="5" y="101" width="1.1" height="1.15" fill="#0b0b08"/>
<rect x="6" y="99" width="1.1" height="1.15" fill="#ff232c"/>
<rect x="6" y="100" width="1.1" height="1.15" fill="#ba181e"/>
<rect x="6" y="101" width="1.1" height="1.15" fill="#c41920"/>
<rect x="7" y="99" width="1.1" height="1.15" fill="#ff232c"/>
<rect x="7" y="100" width="1.1" height="1.15" fill="#b8181e"/>
<rect x="7" y="101" width="1.1" height="1.15" fill="#d31b22"/>
<rect x="8" y="99" width="1.1" height="1.15" fill="#0d0d09"/>
<rect x="8" y="100" width="1.1" height="1.15" fill="#0a0a07"/>
<rect x="8" y="101" width="1.1" height="1.15" fill="#0a0a07"/>
<rect x="9" y="99" width="1.1" height="1.15" fill="#0f0f0b"/>
<rect x="9" y="100" width="1.1" height="1.15" fill="#090906"/>
<rect x="9" y="101" width="1.1" height="1.15" fill="#0b0b07"/>
<rect x="0" y="102" width="1.1" height="1.15" fill="#083412"/>
<rect x="0" y="103" width="1.1" height="1.15" fill="#0a4016"/>
<rect x="0" y="104" width="1.1" height="1.15" fill="#169133"/>
<rect x="1" y="102" width="1.1" height="1.15" fill="#0f521c"/>
<rect x="1" y="103" width="1.1" height="1.15" fill="#10581e"/>
<rect x="1" y="104" width="1.1" height="1.15" fill="#23bf41"/>
<rect x="2" y="102" width="1.1" height="1.15" fill="#570b0e"/>
<rect x="2" y="103" width="1.1" height="1.15" fill="#6d0e11"/>
<rect x="2" y="104" width="1.1" height="1.15" fill="#e51e25"/>
<rect x="3" y="102" width="1.1" height="1.15" fill="#2a0405"/>
<rect x="3" y="103" width="1.1" height="1.15" fill="#250304"/>
<rect x="3" y="104" width="1.1" height="1.15" fill="#6a0a0c"/>
<rect x="4" y="102" width="1.1" height="1.15" fill="#050504"/>
<rect x="4" y="103" width="1.1" height="1.15" fill="#060604"/>
<rect x="4" y="104" width="1.1" height="1.15" fill="#0d0d09"/>
<rect x="5" y="102" width="1.1" height="1.15" fill="#040403"/>
<rect x="5" y="103" width="1.1" height="1.15" fill="#060604"/>
<rect x="5" y="104" width="1.1" height="1.15" fill="#0e0e0a"/>
<rect x="6" y="102" width="1.1" height="1.15" fill="#510a0d"/>
<rect x="6" y="103" width="1.1" height="1.15" fill="#5d0c0f"/>
<rect x="6" y="104" width="1.1" height="1.15" fill="#ff232b"/>
<rect x="7" y="102" width="1.1" height="1.15" fill="#380608"/>
<rect x="7" y="103" width="1.1" height="1.15" fill="#46080a"/>
<rect x="7" y="104" width="1.1" height="1.15" fill="#cf171e"/>
<rect x="8" y="102" width="1.1" height="1.15" fill="#041b09"/>
<rect x="8" y="103" width="1.1" height="1.15" fill="#05250d"/>
<rect x="8" y="104" width="1.1" height="1.15" fill="#0a4619"/>
<rect x="9" y="102" width="1.1" height="1.15" fill="#072f11"/>
<rect x="9" y="103" width="1.1" height="1.15" fill="#083312"/>
<rect x="9" y="104" width="1.1" height="1.15" fill="#189c37"/>
<rect x="0" y="105" width="1.1" height="1.15" fill="#127329"/>
<rect x="0" y="106" width="1.1" height="1.15" fill="#117228"/>
<rect x="0" y="107" width="1.1" height="1.15" fill="#14842f"/>
<rect x="1" y="105" width="1.1" height="1.15" fill="#19882e"/>
<rect x="1" y="106" width="1.1" height="1.15" fill="#26ce46"/>
<rect x="1" y="107" width="1.1" height="1.15" fill="#23bd40"/>
<rect x="2" y="105" width="1.1" height="1.15" fill="#bb181e"/>
<rect x="2" y="106" width="1.1" height="1.15" fill="#fd2129"/>
<rect x="2" y="107" width="1.1" height="1.15" fill="#ff232c"/>
<rect x="3" y="105" width="1.1" height="1.15" fill="#c3191f"/>
<rect x="3" y="106" width="1.1" height="1.15" fill="#db1c23"/>
<rect x="3" y="107" width="1.1" height="1.15" fill="#ff222a"/>
<rect x="4" y="105" width="1.1" height="1.15" fill="#55080a"/>
<rect x="4" y="106" width="1.1" height="1.15" fill="#54080a"/>
<rect x="4" y="107" width="1.1" height="1.15" fill="#5e090b"/>
<rect x="5" y="105" width="1.1" height="1.15" fill="#0c0c08"/>
<rect x="5" y="106" width="1.1" height="1.15" fill="#0e0e0a"/>
<rect x="5" y="107" width="1.1" height="1.15" fill="#0f0f0a"/>
<rect x="6" y="105" width="1.1" height="1.15" fill="#bd181e"/>
<rect x="6" y="106" width="1.1" height="1.15" fill="#cb1a21"/>
<rect x="6" y="107" width="1.1" height="1.15" fill="#ff222a"/>
<rect x="7" y="105" width="1.1" height="1.15" fill="#460708"/>
<rect x="7" y="106" width="1.1" height="1.15" fill="#5f090b"/>
<rect x="7" y="107" width="1.1" height="1.15" fill="#5c090b"/>
<rect x="8" y="105" width="1.1" height="1.15" fill="#12772a"/>
<rect x="8" y="106" width="1.1" height="1.15" fill="#137c2c"/>
<rect x="8" y="107" width="1.1" height="1.15" fill="#14812e"/>
<rect x="9" y="105" width="1.1" height="1.15" fill="#0a4217"/>
<rect x="9" y="106" width="1.1" height="1.15" fill="#0b4d1b"/>
<rect x="9" y="107" width="1.1" height="1.15" fill="#0d561e"/>
<rect x="0" y="108" width="1.1" height="1.15" fill="#105a1e"/>
<rect x="0" y="109" width="1.1" height="1.15" fill="#136623"/>
<rect x="0" y="110" width="1.1" height="1.15" fill="#20ad3b"/>
<rect x="1" y="108" width="1.1" height="1.15" fill="#083512"/>
<rect x="1" y="109" width="1.1" height="1.15" fill="#093e16"/>
<rect x="1" y="110" width="1.1" height="1.15" fill="#116e27"/>
<rect x="2" y="108" width="1.1" height="1.15" fill="#2f0405"/>
<rect x="2" y="109" width="1.1" height="1.15" fill="#310405"/>
<rect x="2" y="110" width="1.1" height="1.15" fill="#5f090b"/>
<rect x="3" y="108" width="1.1" height="1.15" fill="#5f0c0f"/>
<rect x="3" y="109" width="1.1" height="1.15" fill="#6f0e12"/>
<rect x="3" y="110" width="1.1" height="1.15" fill="#bf181f"/>
<rect x="4" y="108" width="1.1" height="1.15" fill="#320506"/>
<rect x="4" y="109" width="1.1" height="1.15" fill="#280404"/>
<rect x="4" y="110" width="1.1" height="1.15" fill="#59080a"/>
<rect x="5" y="108" width="1.1" height="1.15" fill="#060604"/>
<rect x="5" y="109" width="1.1" height="1.15" fill="#050504"/>
<rect x="5" y="110" width="1.1" height="1.15" fill="#0c0c08"/>
<rect x="6" y="108" width="1.1" height="1.15" fill="#5f0c0f"/>
<rect x="6" y="109" width="1.1" height="1.15" fill="#5f0c0f"/>
<rect x="6" y="110" width="1.1" height="1.15" fill="#c41920"/>
<rect x="7" y="108" width="1.1" height="1.15" fill="#260304"/>
<rect x="7" y="109" width="1.1" height="1.15" fill="#2c0405"/>
<rect x="7" y="110" width="1.1" height="1.15" fill="#5a090a"/>
<rect x="8" y="108" width="1.1" height="1.15" fill="#05260d"/>
<rect x="8" y="109" width="1.1" height="1.15" fill="#04200b"/>
<rect x="8" y="110" width="1.1" height="1.15" fill="#0a4217"/>
<rect x="9" y="108" width="1.1" height="1.15" fill="#0a4117"/>
<rect x="9" y="109" width="1.1" height="1.15" fill="#093b15"/>
<rect x="9" y="110" width="1.1" height="1.15" fill="#117128"/>
<rect x="0" y="111" width="1.1" height="1.15" fill="#083412"/>
<rect x="0" y="112" width="1.1" height="1.15" fill="#0a4418"/>
<rect x="0" y="113" width="1.1" height="1.15" fill="#072d10"/>
<rect x="1" y="111" width="1.1" height="1.15" fill="#0c521d"/>
<rect x="1" y="112" width="1.1" height="1.15" fill="#137d2c"/>
<rect x="1" y="113" width="1.1" height="1.15" fill="#0c4e1b"/>
<rect x="2" y="111" width="1.1" height="1.15" fill="#941318"/>
<rect x="2" y="112" width="1.1" height="1.15" fill="#ff222a"/>
<rect x="2" y="113" width="1.1" height="1.15" fill="#9f141a"/>
<rect x="3" y="111" width="1.1" height="1.15" fill="#b0171c"/>
<rect x="3" y="112" width="1.1" height="1.15" fill="#e11d24"/>
<rect x="3" y="113" width="1.1" height="1.15" fill="#8f1217"/>
<rect x="4" y="111" width="1.1" height="1.15" fill="#080805"/>
<rect x="4" y="112" width="1.1" height="1.15" fill="#0d0d09"/>
<rect x="4" y="113" width="1.1" height="1.15" fill="#070705"/>
<rect x="5" y="111" width="1.1" height="1.15" fill="#440608"/>
<rect x="5" y="112" width="1.1" height="1.15" fill="#5f090b"/>
<rect x="5" y="113" width="1.1" height="1.15" fill="#350506"/>
<rect x="6" y="111" width="1.1" height="1.15" fill="#9a1419"/>
<rect x="6" y="112" width="1.1" height="1.15" fill="#e91e26"/>
<rect x="6" y="113" width="1.1" height="1.15" fill="#8a1216"/>
<rect x="7" y="111" width="1.1" height="1.15" fill="#901217"/>
<rect x="7" y="112" width="1.1" height="1.15" fill="#fb2029"/>
<rect x="7" y="113" width="1.1" height="1.15" fill="#ae161c"/>
<rect x="8" y="111" width="1.1" height="1.15" fill="#18842d"/>
<rect x="8" y="112" width="1.1" height="1.15" fill="#22b93f"/>
<rect x="8" y="113" width="1.1" height="1.15" fill="#146d25"/>
<rect x="9" y="111" width="1.1" height="1.15" fill="#0d531d"/>
<rect x="9" y="112" width="1.1" height="1.15" fill="#137d2c"/>
<rect x="9" y="113" width="1.1" height="1.15" fill="#0d541e"/>
<rect x="0" y="114" width="1.1" height="1.15" fill="#116c26"/>
<rect x="0" y="115" width="1.1" height="1.15" fill="#0d581f"/>
<rect x="0" y="116" width="1.1" height="1.15" fill="#0b4619"/>
<rect x="1" y="114" width="1.1" height="1.15" fill="#1d9e36"/>
<rect x="1" y="115" width="1.1" height="1.15" fill="#157528"/>
<rect x="1" y="116" width="1.1" height="1.15" fill="#136723"/>
<rect x="2" y="114" width="1.1" height="1.15" fill="#a5151b"/>
<rect x="2" y="115" width="1.1" height="1.15" fill="#8f1217"/>
<rect x="2" y="116" width="1.1" height="1.15" fill="#7f1014"/>
<rect x="3" y="114" width="1.1" height="1.15" fill="#b2171d"/>
<rect x="3" y="115" width="1.1" height="1.15" fill="#951318"/>
<rect x="3" y="116" width="1.1" height="1.15" fill="#770f13"/>
<rect x="4" y="114" width="1.1" height="1.15" fill="#410607"/>
<rect x="4" y="115" width="1.1" height="1.15" fill="#3d0607"/>
<rect x="4" y="116" width="1.1" height="1.15" fill="#340506"/>
<rect x="5" y="114" width="1.1" height="1.15" fill="#9a1419"/>
<rect x="5" y="115" width="1.1" height="1.15" fill="#7b1014"/>
<rect x="5" y="116" width="1.1" height="1.15" fill="#620c10"/>
<rect x="6" y="114" width="1.1" height="1.15" fill="#9b1419"/>
<rect x="6" y="115" width="1.1" height="1.15" fill="#7c1014"/>
<rect x="6" y="116" width="1.1" height="1.15" fill="#690d11"/>
<rect x="7" y="114" width="1.1" height="1.15" fill="#080806"/>
<rect x="7" y="115" width="1.1" height="1.15" fill="#070705"/>
<rect x="7" y="116" width="1.1" height="1.15" fill="#050504"/>
<rect x="8" y="114" width="1.1" height="1.15" fill="#116d27"/>
<rect x="8" y="115" width="1.1" height="1.15" fill="#0a4418"/>
<rect x="8" y="116" width="1.1" height="1.15" fill="#083814"/>
<rect x="9" y="114" width="1.1" height="1.15" fill="#1d9e36"/>
<rect x="9" y="115" width="1.1" height="1.15" fill="#146e25"/>
<rect x="9" y="116" width="1.1" height="1.15" fill="#136823"/>
<rect x="0" y="117" width="1.1" height="1.15" fill="#073312"/>
<rect x="0" y="118" width="1.1" height="1.15" fill="#031808"/>
<rect x="0" y="119" width="1.1" height="1.15" fill="#041d0a"/>
<rect x="1" y="117" width="1.1" height="1.15" fill="#0c4c1b"/>
<rect x="1" y="118" width="1.1" height="1.15" fill="#083412"/>
<rect x="1" y="119" width="1.1" height="1.15" fill="#083312"/>
<rect x="2" y="117" width="1.1" height="1.15" fill="#9d1419"/>
<rect x="2" y="118" width="1.1" height="1.15" fill="#500a0d"/>
<rect x="2" y="119" width="1.1" height="1.15" fill="#5d0c0f"/>
<rect x="3" y="117" width="1.1" height="1.15" fill="#750d11"/>
<rect x="3" y="118" width="1.1" height="1.15" fill="#3f0709"/>
<rect x="3" y="119" width="1.1" height="1.15" fill="#4b080b"/>
<rect x="4" y="117" width="1.1" height="1.15" fill="#7c1014"/>
<rect x="4" y="118" width="1.1" height="1.15" fill="#620c10"/>
<rect x="4" y="119" width="1.1" height="1.15" fill="#590b0e"/>
<rect x="5" y="117" width="1.1" height="1.15" fill="#a5151b"/>
<rect x="5" y="118" width="1.1" height="1.15" fill="#5d0c0f"/>
<rect x="5" y="119" width="1.1" height="1.15" fill="#550b0e"/>
<rect x="6" y="117" width="1.1" height="1.15" fill="#3f0607"/>
<rect x="6" y="118" width="1.1" height="1.15" fill="#200303"/>
<rect x="6" y="119" width="1.1" height="1.15" fill="#260304"/>
<rect x="7" y="117" width="1.1" height="1.15" fill="#9a1419"/>
<rect x="7" y="118" width="1.1" height="1.15" fill="#4f0a0c"/>
<rect x="7" y="119" width="1.1" height="1.15" fill="#500a0d"/>
<rect x="8" y="117" width="1.1" height="1.15" fill="#090906"/>
<rect x="8" y="118" width="1.1" height="1.15" fill="#040403"/>
<rect x="8" y="119" width="1.1" height="1.15" fill="#050504"/>
<rect x="9" y="117" width="1.1" height="1.15" fill="#0c511d"/>
<rect x="9" y="118" width="1.1" height="1.15" fill="#072d10"/>
<rect x="9" y="119" width="1.1" height="1.15" fill="#093a14"/>
<rect x="0" y="120" width="1.1" height="1.15" fill="#1b9332"/>
<rect x="0" y="121" width="1.1" height="1.15" fill="#136a24"/>
<rect x="0" y="122" width="1.1" height="1.15" fill="#2cef51"/>
<rect x="1" y="120" width="1.1" height="1.15" fill="#157126"/>
<rect x="1" y="121" width="1.1" height="1.15" fill="#167929"/>
<rect x="1" y="122" width="1.1" height="1.15" fill="#27d749"/>
<rect x="2" y="120" width="1.1" height="1.15" fill="#3a0506"/>
<rect x="2" y="121" width="1.1" height="1.15" fill="#350506"/>
<rect x="2" y="122" width="1.1" height="1.15" fill="#60090b"/>
<rect x="3" y="120" width="1.1" height="1.15" fill="#730d11"/>
<rect x="3" y="121" width="1.1" height="1.15" fill="#5d0a0d"/>
<rect x="3" y="122" width="1.1" height="1.15" fill="#af141a"/>
<rect x="4" y="120" width="1.1" height="1.15" fill="#420607"/>
<rect x="4" y="121" width="1.1" height="1.15" fill="#340506"/>
<rect x="4" y="122" width="1.1" height="1.15" fill="#59080a"/>
<rect x="5" y="120" width="1.1" height="1.15" fill="#991419"/>
<rect x="5" y="121" width="1.1" height="1.15" fill="#941318"/>
<rect x="5" y="122" width="1.1" height="1.15" fill="#e71e25"/>
<rect x="6" y="120" width="1.1" height="1.15" fill="#8f1217"/>
<rect x="6" y="121" width="1.1" height="1.15" fill="#961318"/>
<rect x="6" y="122" width="1.1" height="1.15" fill="#e11d24"/>
<rect x="7" y="120" width="1.1" height="1.15" fill="#470708"/>
<rect x="7" y="121" width="1.1" height="1.15" fill="#330506"/>
<rect x="7" y="122" width="1.1" height="1.15" fill="#5d090b"/>
<rect x="8" y="120" width="1.1" height="1.15" fill="#090906"/>
<rect x="8" y="121" width="1.1" height="1.15" fill="#080806"/>
<rect x="8" y="122" width="1.1" height="1.15" fill="#0e0e0a"/>
<rect x="9" y="120" width="1.1" height="1.15" fill="#0c521d"/>
<rect x="9" y="121" width="1.1" height="1.15" fill="#0a4418"/>
<rect x="9" y="122" width="1.1" height="1.15" fill="#137a2b"/>
<rect x="0" y="123" width="1.1" height="1.15" fill="#13792b"/>
<rect x="0" y="124" width="1.1" height="1.15" fill="#158830"/>
<rect x="0" y="125" width="1.1" height="1.15" fill="#0d561f"/>
<rect x="1" y="123" width="1.1" height="1.15" fill="#23bd40"/>
<rect x="1" y="124" width="1.1" height="1.15" fill="#26d047"/>
<rect x="1" y="125" width="1.1" height="1.15" fill="#146e25"/>
<rect x="2" y="123" width="1.1" height="1.15" fill="#0e0e0a"/>
<rect x="2" y="124" width="1.1" height="1.15" fill="#0d0d09"/>
<rect x="2" y="125" width="1.1" height="1.15" fill="#070705"/>
<rect x="3" y="123" width="1.1" height="1.15" fill="#0c0c09"/>
<rect x="3" y="124" width="1.1" height="1.15" fill="#0b0b08"/>
<rect x="3" y="125" width="1.1" height="1.15" fill="#070705"/>
<rect x="4" y="123" width="1.1" height="1.15" fill="#60090b"/>
<rect x="4" y="124" width="1.1" height="1.15" fill="#62090b"/>
<rect x="4" y="125" width="1.1" height="1.15" fill="#3c0607"/>
<rect x="5" y="123" width="1.1" height="1.15" fill="#ea1e26"/>
<rect x="5" y="124" width="1.1" height="1.15" fill="#f62028"/>
<rect x="5" y="125" width="1.1" height="1.15" fill="#8a1216"/>
<rect x="6" y="123" width="1.1" height="1.15" fill="#bb181e"/>
<rect x="6" y="124" width="1.1" height="1.15" fill="#fb2029"/>
<rect x="6" y="125" width="1.1" height="1.15" fill="#7c1014"/>
<rect x="7" y="123" width="1.1" height="1.15" fill="#0c0c08"/>
<rect x="7" y="124" width="1.1" height="1.15" fill="#0b0b07"/>
<rect x="7" y="125" width="1.1" height="1.15" fill="#080805"/>
<rect x="8" y="123" width="1.1" height="1.15" fill="#0d0d09"/>
<rect x="8" y="124" width="1.1" height="1.15" fill="#0a0a07"/>
<rect x="8" y="125" width="1.1" height="1.15" fill="#080805"/>
<rect x="9" y="123" width="1.1" height="1.15" fill="#20ae3b"/>
<rect x="9" y="124" width="1.1" height="1.15" fill="#24c342"/>
<rect x="9" y="125" width="1.1" height="1.15" fill="#18862d"/>
<rect x="0" y="126" width="1.1" height="1.15" fill="#12762a"/>
<rect x="0" y="127" width="1.1" height="1.15" fill="#073111"/>
<rect x="0" y="128" width="1.1" height="1.15" fill="#0e5f22"/>
<rect x="1" y="126" width="1.1" height="1.15" fill="#127228"/>
<rect x="1" y="127" width="1.1" height="1.15" fill="#083412"/>
<rect x="1" y="128" width="1.1" height="1.15" fill="#0c4e1c"/>
<rect x="2" y="126" width="1.1" height="1.15" fill="#0c0c08"/>
<rect x="2" y="127" width="1.1" height="1.15" fill="#060604"/>
<rect x="2" y="128" width="1.1" height="1.15" fill="#070705"/>
<rect x="3" y="126" width="1.1" height="1.15" fill="#0b0b08"/>
<rect x="3" y="127" width="1.1" height="1.15" fill="#050503"/>
<rect x="3" y="128" width="1.1" height="1.15" fill="#070705"/>
<rect x="4" y="126" width="1.1" height="1.15" fill="#0b0b08"/>
<rect x="4" y="127" width="1.1" height="1.15" fill="#050504"/>
<rect x="4" y="128" width="1.1" height="1.15" fill="#080806"/>
<rect x="5" y="126" width="1.1" height="1.15" fill="#62090b"/>
<rect x="5" y="127" width="1.1" height="1.15" fill="#290405"/>
<rect x="5" y="128" width="1.1" height="1.15" fill="#450608"/>
<rect x="6" y="126" width="1.1" height="1.15" fill="#0c0c09"/>
<rect x="6" y="127" width="1.1" height="1.15" fill="#050504"/>
<rect x="6" y="128" width="1.1" height="1.15" fill="#090906"/>
<rect x="7" y="126" width="1.1" height="1.15" fill="#5e090b"/>
<rect x="7" y="127" width="1.1" height="1.15" fill="#2a0405"/>
<rect x="7" y="128" width="1.1" height="1.15" fill="#3a0506"/>
<rect x="8" y="126" width="1.1" height="1.15" fill="#116f27"/>
<rect x="8" y="127" width="1.1" height="1.15" fill="#093d15"/>
<rect x="8" y="128" width="1.1" height="1.15" fill="#0b491a"/>
<rect x="9" y="126" width="1.1" height="1.15" fill="#127329"/>
<rect x="9" y="127" width="1.1" height="1.15" fill="#093c15"/>
<rect x="9" y="128" width="1.1" height="1.15" fill="#0c501c"/>
<rect x="0" y="129" width="1.1" height="1.15" fill="#c2191f"/>
<rect x="0" y="130" width="1.1" height="1.15" fill="#811015"/>
<rect x="0" y="131" width="1.1" height="1.15" fill="#c51920"/>
<rect x="1" y="129" width="1.1" height="1.15" fill="#500809"/>
<rect x="1" y="130" width="1.1" height="1.15" fill="#3b0507"/>
<rect x="1" y="131" width="1.1" height="1.15" fill="#5e090b"/>
<rect x="2" y="129" width="1.1" height="1.15" fill="#090906"/>
<rect x="2" y="130" width="1.1" height="1.15" fill="#080806"/>
<rect x="2" y="131" width="1.1" height="1.15" fill="#0a0a07"/>
<rect x="3" y="129" width="1.1" height="1.15" fill="#8c1014"/>
<rect x="3" y="130" width="1.1" height="1.15" fill="#6a0c0f"/>
<rect x="3" y="131" width="1.1" height="1.15" fill="#9f1217"/>
<rect x="4" y="129" width="1.1" height="1.15" fill="#4c0709"/>
<rect x="4" y="130" width="1.1" height="1.15" fill="#380506"/>
<rect x="4" y="131" width="1.1" height="1.15" fill="#5b090b"/>
<rect x="5" y="129" width="1.1" height="1.15" fill="#3e0607"/>
<rect x="5" y="130" width="1.1" height="1.15" fill="#440608"/>
<rect x="5" y="131" width="1.1" height="1.15" fill="#5a090a"/>
<rect x="6" y="129" width="1.1" height="1.15" fill="#090906"/>
<rect x="6" y="130" width="1.1" height="1.15" fill="#080806"/>
<rect x="6" y="131" width="1.1" height="1.15" fill="#0b0b07"/>
<rect x="7" y="129" width="1.1" height="1.15" fill="#0a0a07"/>
<rect x="7" y="130" width="1.1" height="1.15" fill="#090906"/>
<rect x="7" y="131" width="1.1" height="1.15" fill="#0b0b08"/>
<rect x="8" y="129" width="1.1" height="1.15" fill="#106725"/>
<rect x="8" y="130" width="1.1" height="1.15" fill="#0b491a"/>
<rect x="8" y="131" width="1.1" height="1.15" fill="#0f6423"/>
<rect x="9" y="129" width="1.1" height="1.15" fill="#0f6423"/>
<rect x="9" y="130" width="1.1" height="1.15" fill="#0d531d"/>
<rect x="9" y="131" width="1.1" height="1.15" fill="#14832e"/>
<rect x="0" y="132" width="1.1" height="1.15" fill="#d71c23"/>
<rect x="0" y="133" width="1.1" height="1.15" fill="#eb1e26"/>
<rect x="0" y="134" width="1.1" height="1.15" fill="#a4151a"/>
<rect x="1" y="132" width="1.1" height="1.15" fill="#921015"/>
<rect x="1" y="133" width="1.1" height="1.15" fill="#ba151b"/>
<rect x="1" y="134" width="1.1" height="1.15" fill="#7c0e12"/>
<rect x="2" y="132" width="1.1" height="1.15" fill="#1b9131"/>
<rect x="2" y="133" width="1.1" height="1.15" fill="#26ce46"/>
<rect x="2" y="134" width="1.1" height="1.15" fill="#21b33d"/>
<rect x="3" y="132" width="1.1" height="1.15" fill="#117228"/>
<rect x="3" y="133" width="1.1" height="1.15" fill="#158b31"/>
<rect x="3" y="134" width="1.1" height="1.15" fill="#116f27"/>
<rect x="4" y="132" width="1.1" height="1.15" fill="#4a0708"/>
<rect x="4" y="133" width="1.1" height="1.15" fill="#62090b"/>
<rect x="4" y="134" width="1.1" height="1.15" fill="#460708"/>
<rect x="5" y="132" width="1.1" height="1.15" fill="#520809"/>
<rect x="5" y="133" width="1.1" height="1.15" fill="#57080a"/>
<rect x="5" y="134" width="1.1" height="1.15" fill="#4e0709"/>
<rect x="6" y="132" width="1.1" height="1.15" fill="#770d11"/>
<rect x="6" y="133" width="1.1" height="1.15" fill="#9e1217"/>
<rect x="6" y="134" width="1.1" height="1.15" fill="#931015"/>
<rect x="7" y="132" width="1.1" height="1.15" fill="#0c0c08"/>
<rect x="7" y="133" width="1.1" height="1.15" fill="#0e0e0a"/>
<rect x="7" y="134" width="1.1" height="1.15" fill="#0c0c08"/>
<rect x="8" y="132" width="1.1" height="1.15" fill="#1fa939"/>
<rect x="8" y="133" width="1.1" height="1.15" fill="#27d247"/>
<rect x="8" y="134" width="1.1" height="1.15" fill="#1ea538"/>
<rect x="9" y="132" width="1.1" height="1.15" fill="#090906"/>
<rect x="9" y="133" width="1.1" height="1.15" fill="#0c0c08"/>
<rect x="9" y="134" width="1.1" height="1.15" fill="#0b0b08"/>
<rect x="0" y="135" width="1.1" height="1.15" fill="#3a0507"/>
<rect x="0" y="136" width="1.1" height="1.15" fill="#62090b"/>
<rect x="0" y="137" width="1.1" height="1.15" fill="#3d0607"/>
<rect x="1" y="135" width="1.1" height="1.15" fill="#3f0607"/>
<rect x="1" y="136" width="1.1" height="1.15" fill="#63090b"/>
<rect x="1" y="137" width="1.1" height="1.15" fill="#2f0405"/>
<rect x="2" y="135" width="1.1" height="1.15" fill="#0e5a20"/>
<rect x="2" y="136" width="1.1" height="1.15" fill="#14802d"/>
<rect x="2" y="137" width="1.1" height="1.15" fill="#0d541e"/>
<rect x="3" y="135" width="1.1" height="1.15" fill="#070705"/>
<rect x="3" y="136" width="1.1" height="1.15" fill="#10100b"/>
<rect x="3" y="137" width="1.1" height="1.15" fill="#080806"/>
<rect x="4" y="135" width="1.1" height="1.15" fill="#072e10"/>
<rect x="4" y="136" width="1.1" height="1.15" fill="#0d551e"/>
<rect x="4" y="137" width="1.1" height="1.15" fill="#062c10"/>
<rect x="5" y="135" width="1.1" height="1.15" fill="#080806"/>
<rect x="5" y="136" width="1.1" height="1.15" fill="#0e0e0a"/>
<rect x="5" y="137" width="1.1" height="1.15" fill="#080806"/>
<rect x="6" y="135" width="1.1" height="1.15" fill="#080805"/>
<rect x="6" y="136" width="1.1" height="1.15" fill="#0f0f0a"/>
<rect x="6" y="137" width="1.1" height="1.15" fill="#060604"/>
<rect x="7" y="135" width="1.1" height="1.15" fill="#090906"/>
<rect x="7" y="136" width="1.1" height="1.15" fill="#11110c"/>
<rect x="7" y="137" width="1.1" height="1.15" fill="#070705"/>
<rect x="8" y="135" width="1.1" height="1.15" fill="#430608"/>
<rect x="8" y="136" width="1.1" height="1.15" fill="#650a0c"/>
<rect x="8" y="137" width="1.1" height="1.15" fill="#340506"/>
<rect x="9" y="135" width="1.1" height="1.15" fill="#3d0607"/>
<rect x="9" y="136" width="1.1" height="1.15" fill="#770b0e"/>
<rect x="9" y="137" width="1.1" height="1.15" fill="#330506"/>
<rect x="0" y="138" width="1.1" height="1.15" fill="#610c0f"/>
<rect x="0" y="139" width="1.1" height="1.15" fill="#b8181e"/>
<rect x="0" y="140" width="1.1" height="1.15" fill="#b5171d"/>
<rect x="1" y="138" width="1.1" height="1.15" fill="#640d10"/>
<rect x="1" y="139" width="1.1" height="1.15" fill="#ac161c"/>
<rect x="1" y="140" width="1.1" height="1.15" fill="#b3171d"/>
<rect x="2" y="138" width="1.1" height="1.15" fill="#0d4718"/>
<rect x="2" y="139" width="1.1" height="1.15" fill="#19872e"/>
<rect x="2" y="140" width="1.1" height="1.15" fill="#1b9332"/>
<rect x="3" y="138" width="1.1" height="1.15" fill="#041f0b"/>
<rect x="3" y="139" width="1.1" height="1.15" fill="#083914"/>
<rect x="3" y="140" width="1.1" height="1.15" fill="#093c15"/>
<rect x="4" y="138" width="1.1" height="1.15" fill="#041b09"/>
<rect x="4" y="139" width="1.1" height="1.15" fill="#083613"/>
<rect x="4" y="140" width="1.1" height="1.15" fill="#094017"/>
<rect x="5" y="138" width="1.1" height="1.15" fill="#05210c"/>
<rect x="5" y="139" width="1.1" height="1.15" fill="#083412"/>
<rect x="5" y="140" width="1.1" height="1.15" fill="#094017"/>
<rect x="6" y="138" width="1.1" height="1.15" fill="#05220c"/>
<rect x="6" y="139" width="1.1" height="1.15" fill="#093c15"/>
<rect x="6" y="140" width="1.1" height="1.15" fill="#0a4418"/>
<rect x="7" y="138" width="1.1" height="1.15" fill="#041b09"/>
<rect x="7" y="139" width="1.1" height="1.15" fill="#094017"/>
<rect x="7" y="140" width="1.1" height="1.15" fill="#083613"/>
<rect x="8" y="138" width="1.1" height="1.15" fill="#3d0709"/>
<rect x="8" y="139" width="1.1" height="1.15" fill="#740d11"/>
<rect x="8" y="140" width="1.1" height="1.15" fill="#750d11"/>
<rect x="9" y="138" width="1.1" height="1.15" fill="#290404"/>
<rect x="9" y="139" width="1.1" height="1.15" fill="#480708"/>
<rect x="9" y="140" width="1.1" height="1.15" fill="#4b0709"/>
<rect x="0" y="141" width="1.1" height="1.15" fill="#c71a20"/>
<rect x="0" y="142" width="1.1" height="1.15" fill="#961318"/>
<rect x="0" y="143" width="1.1" height="1.15" fill="#ff232c"/>
<rect x="1" y="141" width="1.1" height="1.15" fill="#9d1117"/>
<rect x="1" y="142" width="1.1" height="1.15" fill="#6a0c0f"/>
<rect x="1" y="143" width="1.1" height="1.15" fill="#bf151c"/>
<rect x="2" y="141" width="1.1" height="1.15" fill="#168f33"/>
<rect x="2" y="142" width="1.1" height="1.15" fill="#0b4619"/>
<rect x="2" y="143" width="1.1" height="1.15" fill="#158730"/>
<rect x="3" y="141" width="1.1" height="1.15" fill="#0a4217"/>
<rect x="3" y="142" width="1.1" height="1.15" fill="#06290e"/>
<rect x="3" y="143" width="1.1" height="1.15" fill="#0c4e1c"/>
<rect x="4" y="141" width="1.1" height="1.15" fill="#0b4d1b"/>
<rect x="4" y="142" width="1.1" height="1.15" fill="#06270e"/>
<rect x="4" y="143" width="1.1" height="1.15" fill="#0c4e1c"/>
<rect x="5" y="141" width="1.1" height="1.15" fill="#0b0b08"/>
<rect x="5" y="142" width="1.1" height="1.15" fill="#070705"/>
<rect x="5" y="143" width="1.1" height="1.15" fill="#0c0c08"/>
<rect x="6" y="141" width="1.1" height="1.15" fill="#0a4719"/>
<rect x="6" y="142" width="1.1" height="1.15" fill="#062b0f"/>
<rect x="6" y="143" width="1.1" height="1.15" fill="#0c4f1c"/>
<rect x="7" y="141" width="1.1" height="1.15" fill="#0d0d09"/>
<rect x="7" y="142" width="1.1" height="1.15" fill="#070705"/>
<rect x="7" y="143" width="1.1" height="1.15" fill="#0c0c09"/>
<rect x="8" y="141" width="1.1" height="1.15" fill="#b2141a"/>
<rect x="8" y="142" width="1.1" height="1.15" fill="#5b0a0d"/>
<rect x="8" y="143" width="1.1" height="1.15" fill="#9d1217"/>
<rect x="9" y="141" width="1.1" height="1.15" fill="#5a090a"/>
<rect x="9" y="142" width="1.1" height="1.15" fill="#390506"/>
<rect x="9" y="143" width="1.1" height="1.15" fill="#5c090b"/>
<rect x="0" y="144" width="1.1" height="1.15" fill="#7b1014"/>
<rect x="0" y="145" width="1.1" height="1.15" fill="#6e0e11"/>
<rect x="0" y="146" width="1.1" height="1.15" fill="#a8161b"/>
<rect x="1" y="144" width="1.1" height="1.15" fill="#841115"/>
<rect x="1" y="145" width="1.1" height="1.15" fill="#5a0b0e"/>
<rect x="1" y="146" width="1.1" height="1.15" fill="#aa161b"/>
<rect x="2" y="144" width="1.1" height="1.15" fill="#115f20"/>
<rect x="2" y="145" width="1.1" height="1.15" fill="#10581e"/>
<rect x="2" y="146" width="1.1" height="1.15" fill="#1fa839"/>
<rect x="3" y="144" width="1.1" height="1.15" fill="#070705"/>
<rect x="3" y="145" width="1.1" height="1.15" fill="#060604"/>
<rect x="3" y="146" width="1.1" height="1.15" fill="#0b0b08"/>
<rect x="4" y="144" width="1.1" height="1.15" fill="#062d10"/>
<rect x="4" y="145" width="1.1" height="1.15" fill="#05210c"/>
<rect x="4" y="146" width="1.1" height="1.15" fill="#093a15"/>
<rect x="5" y="144" width="1.1" height="1.15" fill="#06270e"/>
<rect x="5" y="145" width="1.1" height="1.15" fill="#05230c"/>
<rect x="5" y="146" width="1.1" height="1.15" fill="#083814"/>
<rect x="6" y="144" width="1.1" height="1.15" fill="#060604"/>
<rect x="6" y="145" width="1.1" height="1.15" fill="#060604"/>
<rect x="6" y="146" width="1.1" height="1.15" fill="#0c0c08"/>
<rect x="7" y="144" width="1.1" height="1.15" fill="#070705"/>
<rect x="7" y="145" width="1.1" height="1.15" fill="#060604"/>
<rect x="7" y="146" width="1.1" height="1.15" fill="#090906"/>
<rect x="8" y="144" width="1.1" height="1.15" fill="#630b0e"/>
<rect x="8" y="145" width="1.1" height="1.15" fill="#4a080b"/>
<rect x="8" y="146" width="1.1" height="1.15" fill="#7e0e12"/>
<rect x="9" y="144" width="1.1" height="1.15" fill="#55090c"/>
<rect x="9" y="145" width="1.1" height="1.15" fill="#4c080b"/>
<rect x="9" y="146" width="1.1" height="1.15" fill="#961116"/>
<rect x="0" y="147" width="1.1" height="1.15" fill="#971116"/>
<rect x="0" y="148" width="1.1" height="1.15" fill="#3d0709"/>
<rect x="0" y="149" width="1.1" height="1.15" fill="#770d11"/>
<rect x="1" y="147" width="1.1" height="1.15" fill="#e41d25"/>
<rect x="1" y="148" width="1.1" height="1.15" fill="#570b0e"/>
<rect x="1" y="149" width="1.1" height="1.15" fill="#b7171d"/>
<rect x="2" y="147" width="1.1" height="1.15" fill="#147f2d"/>
<rect x="2" y="148" width="1.1" height="1.15" fill="#093b15"/>
<rect x="2" y="149" width="1.1" height="1.15" fill="#106624"/>
<rect x="3" y="147" width="1.1" height="1.15" fill="#0d0d09"/>
<rect x="3" y="148" width="1.1" height="1.15" fill="#050503"/>
<rect x="3" y="149" width="1.1" height="1.15" fill="#0b0b08"/>
<rect x="4" y="147" width="1.1" height="1.15" fill="#0c4e1c"/>
<rect x="4" y="148" width="1.1" height="1.15" fill="#041b09"/>
<rect x="4" y="149" width="1.1" height="1.15" fill="#0a4418"/>
<rect x="5" y="147" width="1.1" height="1.15" fill="#093d16"/>
<rect x="5" y="148" width="1.1" height="1.15" fill="#041d0a"/>
<rect x="5" y="149" width="1.1" height="1.15" fill="#0a4117"/>
<rect x="6" y="147" width="1.1" height="1.15" fill="#0e0e0a"/>
<rect x="6" y="148" width="1.1" height="1.15" fill="#050503"/>
<rect x="6" y="149" width="1.1" height="1.15" fill="#0b0b08"/>
<rect x="7" y="147" width="1.1" height="1.15" fill="#0b4b1a"/>
<rect x="7" y="148" width="1.1" height="1.15" fill="#031909"/>
<rect x="7" y="149" width="1.1" height="1.15" fill="#0a4217"/>
<rect x="8" y="147" width="1.1" height="1.15" fill="#af141a"/>
<rect x="8" y="148" width="1.1" height="1.15" fill="#3b0608"/>
<rect x="8" y="149" width="1.1" height="1.15" fill="#820e13"/>
<rect x="9" y="147" width="1.1" height="1.15" fill="#59080a"/>
<rect x="9" y="148" width="1.1" height="1.15" fill="#2b0405"/>
<rect x="9" y="149" width="1.1" height="1.15" fill="#59080a"/>
<rect x="0" y="150" width="1.1" height="1.15" fill="#670d10"/>
<rect x="0" y="151" width="1.1" height="1.15" fill="#901217"/>
<rect x="0" y="152" width="1.1" height="1.15" fill="#7a0f13"/>
<rect x="1" y="150" width="1.1" height="1.15" fill="#851115"/>
<rect x="1" y="151" width="1.1" height="1.15" fill="#901217"/>
<rect x="1" y="152" width="1.1" height="1.15" fill="#700e12"/>
<rect x="2" y="150" width="1.1" height="1.15" fill="#136823"/>
<rect x="2" y="151" width="1.1" height="1.15" fill="#18822c"/>
<rect x="2" y="152" width="1.1" height="1.15" fill="#126422"/>
<rect x="3" y="150" width="1.1" height="1.15" fill="#05210b"/>
<rect x="3" y="151" width="1.1" height="1.15" fill="#072e10"/>
<rect x="3" y="152" width="1.1" height="1.15" fill="#041e0a"/>
<rect x="4" y="150" width="1.1" height="1.15" fill="#070705"/>
<rect x="4" y="151" width="1.1" height="1.15" fill="#090907"/>
<rect x="4" y="152" width="1.1" height="1.15" fill="#060604"/>
<rect x="5" y="150" width="1.1" height="1.15" fill="#050504"/>
<rect x="5" y="151" width="1.1" height="1.15" fill="#0a0a07"/>
<rect x="5" y="152" width="1.1" height="1.15" fill="#060604"/>
<rect x="6" y="150" width="1.1" height="1.15" fill="#062a0f"/>
<rect x="6" y="151" width="1.1" height="1.15" fill="#083914"/>
<rect x="6" y="152" width="1.1" height="1.15" fill="#05240c"/>
<rect x="7" y="150" width="1.1" height="1.15" fill="#05250d"/>
<rect x="7" y="151" width="1.1" height="1.15" fill="#083613"/>
<rect x="7" y="152" width="1.1" height="1.15" fill="#041e0b"/>
<rect x="8" y="150" width="1.1" height="1.15" fill="#070705"/>
<rect x="8" y="151" width="1.1" height="1.15" fill="#080806"/>
<rect x="8" y="152" width="1.1" height="1.15" fill="#060604"/>
<rect x="9" y="150" width="1.1" height="1.15" fill="#070705"/>
<rect x="9" y="151" width="1.1" height="1.15" fill="#070705"/>
<rect x="9" y="152" width="1.1" height="1.15" fill="#050504"/>
<rect x="0" y="153" width="1.1" height="1.15" fill="#fa2028"/>
<rect x="0" y="154" width="1.1" height="1.15" fill="#921317"/>
<rect x="0" y="155" width="1.1" height="1.15" fill="#fb2029"/>
<rect x="1" y="153" width="1.1" height="1.15" fill="#5b090b"/>
<rect x="1" y="154" width="1.1" height="1.15" fill="#440608"/>
<rect x="1" y="155" width="1.1" height="1.15" fill="#6d0a0d"/>
<rect x="2" y="153" width="1.1" height="1.15" fill="#158630"/>
<rect x="2" y="154" width="1.1" height="1.15" fill="#0c4f1c"/>
<rect x="2" y="155" width="1.1" height="1.15" fill="#199f38"/>
<rect x="3" y="153" width="1.1" height="1.15" fill="#0c0c08"/>
<rect x="3" y="154" width="1.1" height="1.15" fill="#090906"/>
<rect x="3" y="155" width="1.1" height="1.15" fill="#0f0f0b"/>
<rect x="4" y="153" width="1.1" height="1.15" fill="#0b491a"/>
<rect x="4" y="154" width="1.1" height="1.15" fill="#062b0f"/>
<rect x="4" y="155" width="1.1" height="1.15" fill="#0c511d"/>
<rect x="5" y="153" width="1.1" height="1.15" fill="#0a4117"/>
<rect x="5" y="154" width="1.1" height="1.15" fill="#072d10"/>
<rect x="5" y="155" width="1.1" height="1.15" fill="#0b491a"/>
<rect x="6" y="153" width="1.1" height="1.15" fill="#0c0c08"/>
<rect x="6" y="154" width="1.1" height="1.15" fill="#090906"/>
<rect x="6" y="155" width="1.1" height="1.15" fill="#0f0f0b"/>
<rect x="7" y="153" width="1.1" height="1.15" fill="#0d0d09"/>
<rect x="7" y="154" width="1.1" height="1.15" fill="#0a0a07"/>
<rect x="7" y="155" width="1.1" height="1.15" fill="#0c0c08"/>
<rect x="8" y="153" width="1.1" height="1.15" fill="#df1d24"/>
<rect x="8" y="154" width="1.1" height="1.15" fill="#971318"/>
<rect x="8" y="155" width="1.1" height="1.15" fill="#fe2129"/>
<rect x="9" y="153" width="1.1" height="1.15" fill="#f72028"/>
<rect x="9" y="154" width="1.1" height="1.15" fill="#941318"/>
<rect x="9" y="155" width="1.1" height="1.15" fill="#f62028"/>
<rect x="0" y="156" width="1.1" height="1.15" fill="#a7151b"/>
<rect x="0" y="157" width="1.1" height="1.15" fill="#7f1014"/>
<rect x="0" y="158" width="1.1" height="1.15" fill="#5d0c0f"/>
<rect x="1" y="156" width="1.1" height="1.15" fill="#8f1217"/>
<rect x="1" y="157" width="1.1" height="1.15" fill="#901217"/>
<rect x="1" y="158" width="1.1" height="1.15" fill="#660d10"/>
<rect x="2" y="156" width="1.1" height="1.15" fill="#090906"/>
<rect x="2" y="157" width="1.1" height="1.15" fill="#090906"/>
<rect x="2" y="158" width="1.1" height="1.15" fill="#050504"/>
<rect x="3" y="156" width="1.1" height="1.15" fill="#072e10"/>
<rect x="3" y="157" width="1.1" height="1.15" fill="#06280e"/>
<rect x="3" y="158" width="1.1" height="1.15" fill="#041b09"/>
<rect x="4" y="156" width="1.1" height="1.15" fill="#090907"/>
<rect x="4" y="157" width="1.1" height="1.15" fill="#080805"/>
<rect x="4" y="158" width="1.1" height="1.15" fill="#050503"/>
<rect x="5" y="156" width="1.1" height="1.15" fill="#3c0607"/>
<rect x="5" y="157" width="1.1" height="1.15" fill="#390506"/>
<rect x="5" y="158" width="1.1" height="1.15" fill="#230304"/>
<rect x="6" y="156" width="1.1" height="1.15" fill="#072e10"/>
<rect x="6" y="157" width="1.1" height="1.15" fill="#072e10"/>
<rect x="6" y="158" width="1.1" height="1.15" fill="#041e0a"/>
<rect x="7" y="156" width="1.1" height="1.15" fill="#070705"/>
<rect x="7" y="157" width="1.1" height="1.15" fill="#070705"/>
<rect x="7" y="158" width="1.1" height="1.15" fill="#040403"/>
<rect x="8" y="156" width="1.1" height="1.15" fill="#080806"/>
<rect x="8" y="157" width="1.1" height="1.15" fill="#080806"/>
<rect x="8" y="158" width="1.1" height="1.15" fill="#060604"/>
<rect x="9" y="156" width="1.1" height="1.15" fill="#3d0607"/>
<rect x="9" y="157" width="1.1" height="1.15" fill="#3e0607"/>
<rect x="9" y="158" width="1.1" height="1.15" fill="#2a0405"/>
<rect x="0" y="159" width="1.1" height="1.15" fill="#c2191f"/>
<rect x="0" y="160" width="1.1" height="1.15" fill="#c51920"/>
<rect x="0" y="161" width="1.1" height="1.15" fill="#6a0d11"/>
<rect x="1" y="159" width="1.1" height="1.15" fill="#c1191f"/>
<rect x="1" y="160" width="1.1" height="1.15" fill="#a8161b"/>
<rect x="1" y="161" width="1.1" height="1.15" fill="#630d10"/>
<rect x="2" y="159" width="1.1" height="1.15" fill="#083713"/>
<rect x="2" y="160" width="1.1" height="1.15" fill="#093b15"/>
<rect x="2" y="161" width="1.1" height="1.15" fill="#05220c"/>
<rect x="3" y="159" width="1.1" height="1.15" fill="#083613"/>
<rect x="3" y="160" width="1.1" height="1.15" fill="#0a4318"/>
<rect x="3" y="161" width="1.1" height="1.15" fill="#05260d"/>
<rect x="4" y="159" width="1.1" height="1.15" fill="#090907"/>
<rect x="4" y="160" width="1.1" height="1.15" fill="#090906"/>
<rect x="4" y="161" width="1.1" height="1.15" fill="#060604"/>
<rect x="5" y="159" width="1.1" height="1.15" fill="#0b0b08"/>
<rect x="5" y="160" width="1.1" height="1.15" fill="#0b0b08"/>
<rect x="5" y="161" width="1.1" height="1.15" fill="#060604"/>
<rect x="6" y="159" width="1.1" height="1.15" fill="#0b0b08"/>
<rect x="6" y="160" width="1.1" height="1.15" fill="#0b0b07"/>
<rect x="6" y="161" width="1.1" height="1.15" fill="#050504"/>
<rect x="7" y="159" width="1.1" height="1.15" fill="#0a0a07"/>
<rect x="7" y="160" width="1.1" height="1.15" fill="#0a0a07"/>
<rect x="7" y="161" width="1.1" height="1.15" fill="#060604"/>
<rect x="8" y="159" width="1.1" height="1.15" fill="#a5151a"/>
<rect x="8" y="160" width="1.1" height="1.15" fill="#bf191f"/>
<rect x="8" y="161" width="1.1" height="1.15" fill="#780f13"/>
<rect x="9" y="159" width="1.1" height="1.15" fill="#ab161c"/>
<rect x="9" y="160" width="1.1" height="1.15" fill="#bf191f"/>
<rect x="9" y="161" width="1.1" height="1.15" fill="#6b0e11"/>
<rect x="0" y="162" width="1.1" height="1.15" fill="#54080a"/>
<rect x="0" y="163" width="1.1" height="1.15" fill="#3c0607"/>
<rect x="0" y="164" width="1.1" height="1.15" fill="#5d090b"/>
<rect x="1" y="162" width="1.1" height="1.15" fill="#5a090a"/>
<rect x="1" y="163" width="1.1" height="1.15" fill="#3d0607"/>
<rect x="1" y="164" width="1.1" height="1.15" fill="#730b0d"/>
<rect x="2" y="162" width="1.1" height="1.15" fill="#12772a"/>
<rect x="2" y="163" width="1.1" height="1.15" fill="#0e5d21"/>
<rect x="2" y="164" width="1.1" height="1.15" fill="#169134"/>
<rect x="3" y="162" width="1.1" height="1.15" fill="#0b491a"/>
<rect x="3" y="163" width="1.1" height="1.15" fill="#083713"/>
<rect x="3" y="164" width="1.1" height="1.15" fill="#0c511d"/>
<rect x="4" y="162" width="1.1" height="1.15" fill="#12762a"/>
<rect x="4" y="163" width="1.1" height="1.15" fill="#0f6423"/>
<rect x="4" y="164" width="1.1" height="1.15" fill="#179334"/>
<rect x="5" y="162" width="1.1" height="1.15" fill="#137f2d"/>
<rect x="5" y="163" width="1.1" height="1.15" fill="#0e5f22"/>
<rect x="5" y="164" width="1.1" height="1.15" fill="#168c32"/>
<rect x="6" y="162" width="1.1" height="1.15" fill="#093b15"/>
<rect x="6" y="163" width="1.1" height="1.15" fill="#083513"/>
<rect x="6" y="164" width="1.1" height="1.15" fill="#0b4b1b"/>
<rect x="7" y="162" width="1.1" height="1.15" fill="#093c15"/>
<rect x="7" y="163" width="1.1" height="1.15" fill="#073111"/>
<rect x="7" y="164" width="1.1" height="1.15" fill="#0c4f1c"/>
<rect x="8" y="162" width="1.1" height="1.15" fill="#0d0d09"/>
<rect x="8" y="163" width="1.1" height="1.15" fill="#090907"/>
<rect x="8" y="164" width="1.1" height="1.15" fill="#0d0d09"/>
<rect x="9" y="162" width="1.1" height="1.15" fill="#54080a"/>
<rect x="9" y="163" width="1.1" height="1.15" fill="#450608"/>
<rect x="9" y="164" width="1.1" height="1.15" fill="#5c090b"/>
<rect x="0" y="165" width="1.1" height="1.15" fill="#63090b"/>
<rect x="0" y="166" width="1.1" height="1.15" fill="#430608"/>
<rect x="0" y="167" width="1.1" height="1.15" fill="#7d0c0f"/>
<rect x="1" y="165" width="1.1" height="1.15" fill="#54080a"/>
<rect x="1" y="166" width="1.1" height="1.15" fill="#410607"/>
<rect x="1" y="167" width="1.1" height="1.15" fill="#61090b"/>
<rect x="2" y="165" width="1.1" height="1.15" fill="#12782a"/>
<rect x="2" y="166" width="1.1" height="1.15" fill="#0e5b20"/>
<rect x="2" y="167" width="1.1" height="1.15" fill="#1aab3d"/>
<rect x="3" y="165" width="1.1" height="1.15" fill="#12772a"/>
<rect x="3" y="166" width="1.1" height="1.15" fill="#106524"/>
<rect x="3" y="167" width="1.1" height="1.15" fill="#158830"/>
<rect x="4" y="165" width="1.1" height="1.15" fill="#137e2d"/>
<rect x="4" y="166" width="1.1" height="1.15" fill="#0e5920"/>
<rect x="4" y="167" width="1.1" height="1.15" fill="#179334"/>
<rect x="5" y="165" width="1.1" height="1.15" fill="#137d2c"/>
<rect x="5" y="166" width="1.1" height="1.15" fill="#116d27"/>
<rect x="5" y="167" width="1.1" height="1.15" fill="#1baf3e"/>
<rect x="6" y="165" width="1.1" height="1.15" fill="#13792b"/>
<rect x="6" y="166" width="1.1" height="1.15" fill="#0f6524"/>
<rect x="6" y="167" width="1.1" height="1.15" fill="#189e38"/>
<rect x="7" y="165" width="1.1" height="1.15" fill="#0d551e"/>
<rect x="7" y="166" width="1.1" height="1.15" fill="#073111"/>
<rect x="7" y="167" width="1.1" height="1.15" fill="#0d5920"/>
<rect x="8" y="165" width="1.1" height="1.15" fill="#0d0d09"/>
<rect x="8" y="166" width="1.1" height="1.15" fill="#0a0a07"/>
<rect x="8" y="167" width="1.1" height="1.15" fill="#10100b"/>
<rect x="9" y="165" width="1.1" height="1.15" fill="#0e0e0a"/>
<rect x="9" y="166" width="1.1" height="1.15" fill="#090907"/>
<rect x="9" y="167" width="1.1" height="1.15" fill="#10100b"/>
<rect x="0" y="168" width="1.1" height="1.15" fill="#7d0e12"/>
<rect x="0" y="169" width="1.1" height="1.15" fill="#640b0e"/>
<rect x="0" y="170" width="1.1" height="1.15" fill="#600a0e"/>
<rect x="1" y="168" width="1.1" height="1.15" fill="#ac161c"/>
<rect x="1" y="169" width="1.1" height="1.15" fill="#831115"/>
<rect x="1" y="170" width="1.1" height="1.15" fill="#690d11"/>
<rect x="2" y="168" width="1.1" height="1.15" fill="#083513"/>
<rect x="2" y="169" width="1.1" height="1.15" fill="#062b0f"/>
<rect x="2" y="170" width="1.1" height="1.15" fill="#06270e"/>
<rect x="3" y="168" width="1.1" height="1.15" fill="#106b26"/>
<rect x="3" y="169" width="1.1" height="1.15" fill="#0b4719"/>
<rect x="3" y="170" width="1.1" height="1.15" fill="#0a4418"/>
<rect x="4" y="168" width="1.1" height="1.15" fill="#106925"/>
<rect x="4" y="169" width="1.1" height="1.15" fill="#0a4418"/>
<rect x="4" y="170" width="1.1" height="1.15" fill="#0c4e1c"/>
<rect x="5" y="168" width="1.1" height="1.15" fill="#0f5f22"/>
<rect x="5" y="169" width="1.1" height="1.15" fill="#0b4b1a"/>
<rect x="5" y="170" width="1.1" height="1.15" fill="#093e16"/>
<rect x="6" y="168" width="1.1" height="1.15" fill="#106925"/>
<rect x="6" y="169" width="1.1" height="1.15" fill="#093f16"/>
<rect x="6" y="170" width="1.1" height="1.15" fill="#093d16"/>
<rect x="7" y="168" width="1.1" height="1.15" fill="#117128"/>
<rect x="7" y="169" width="1.1" height="1.15" fill="#093e16"/>
<rect x="7" y="170" width="1.1" height="1.15" fill="#0a4318"/>
<rect x="8" y="168" width="1.1" height="1.15" fill="#0b0b08"/>
<rect x="8" y="169" width="1.1" height="1.15" fill="#070705"/>
<rect x="8" y="170" width="1.1" height="1.15" fill="#060604"/>
<rect x="9" y="168" width="1.1" height="1.15" fill="#0a0a07"/>
<rect x="9" y="169" width="1.1" height="1.15" fill="#060604"/>
<rect x="9" y="170" width="1.1" height="1.15" fill="#070705"/>
<rect x="0" y="171" width="1.1" height="1.15" fill="#61090b"/>
<rect x="0" y="172" width="1.1" height="1.15" fill="#5a090a"/>
<rect x="0" y="173" width="1.1" height="1.15" fill="#63090b"/>
<rect x="1" y="171" width="1.1" height="1.15" fill="#6f0b0d"/>
<rect x="1" y="172" width="1.1" height="1.15" fill="#470708"/>
<rect x="1" y="173" width="1.1" height="1.15" fill="#63090b"/>
<rect x="2" y="171" width="1.1" height="1.15" fill="#179234"/>
<rect x="2" y="172" width="1.1" height="1.15" fill="#12752a"/>
<rect x="2" y="173" width="1.1" height="1.15" fill="#179234"/>
<rect x="3" y="171" width="1.1" height="1.15" fill="#14802d"/>
<rect x="3" y="172" width="1.1" height="1.15" fill="#0f6223"/>
<rect x="3" y="173" width="1.1" height="1.15" fill="#15852f"/>
<rect x="4" y="171" width="1.1" height="1.15" fill="#14802d"/>
<rect x="4" y="172" width="1.1" height="1.15" fill="#137e2d"/>
<rect x="4" y="173" width="1.1" height="1.15" fill="#179334"/>
<rect x="5" y="171" width="1.1" height="1.15" fill="#158b31"/>
<rect x="5" y="172" width="1.1" height="1.15" fill="#13792b"/>
<rect x="5" y="173" width="1.1" height="1.15" fill="#158730"/>
<rect x="6" y="171" width="1.1" height="1.15" fill="#0d571f"/>
<rect x="6" y="172" width="1.1" height="1.15" fill="#093e16"/>
<rect x="6" y="173" width="1.1" height="1.15" fill="#0a4217"/>
<rect x="7" y="171" width="1.1" height="1.15" fill="#0d5920"/>
<rect x="7" y="172" width="1.1" height="1.15" fill="#083914"/>
<rect x="7" y="173" width="1.1" height="1.15" fill="#094017"/>
<rect x="8" y="171" width="1.1" height="1.15" fill="#6c0a0c"/>
<rect x="8" y="172" width="1.1" height="1.15" fill="#530809"/>
<rect x="8" y="173" width="1.1" height="1.15" fill="#680a0c"/>
<rect x="9" y="171" width="1.1" height="1.15" fill="#0c0c09"/>
<rect x="9" y="172" width="1.1" height="1.15" fill="#0c0c08"/>
<rect x="9" y="173" width="1.1" height="1.15" fill="#0e0e0a"/>
<rect x="0" y="174" width="1.1" height="1.15" fill="#c41920"/>
<rect x="0" y="175" width="1.1" height="1.15" fill="#4e0a0c"/>
<rect x="0" y="176" width="1.1" height="1.15" fill="#d61c23"/>
<rect x="1" y="174" width="1.1" height="1.15" fill="#e71e25"/>
<rect x="1" y="175" width="1.1" height="1.15" fill="#530a0d"/>
<rect x="1" y="176" width="1.1" height="1.15" fill="#df1d24"/>
<rect x="2" y="174" width="1.1" height="1.15" fill="#14822e"/>
<rect x="2" y="175" width="1.1" height="1.15" fill="#083513"/>
<rect x="2" y="176" width="1.1" height="1.15" fill="#137c2c"/>
<rect x="3" y="174" width="1.1" height="1.15" fill="#116e27"/>
<rect x="3" y="175" width="1.1" height="1.15" fill="#083312"/>
<rect x="3" y="176" width="1.1" height="1.15" fill="#14822e"/>
<rect x="4" y="174" width="1.1" height="1.15" fill="#0a4518"/>
<rect x="4" y="175" width="1.1" height="1.15" fill="#041d0a"/>
<rect x="4" y="176" width="1.1" height="1.15" fill="#0a4117"/>
<rect x="5" y="174" width="1.1" height="1.15" fill="#14812e"/>
<rect x="5" y="175" width="1.1" height="1.15" fill="#083713"/>
<rect x="5" y="176" width="1.1" height="1.15" fill="#14812e"/>
<rect x="6" y="174" width="1.1" height="1.15" fill="#106825"/>
<rect x="6" y="175" width="1.1" height="1.15" fill="#073111"/>
<rect x="6" y="176" width="1.1" height="1.15" fill="#168f33"/>
<rect x="7" y="174" width="1.1" height="1.15" fill="#0a0a07"/>
<rect x="7" y="175" width="1.1" height="1.15" fill="#040403"/>
<rect x="7" y="176" width="1.1" height="1.15" fill="#0d0d09"/>
<rect x="8" y="174" width="1.1" height="1.15" fill="#0c0c08"/>
<rect x="8" y="175" width="1.1" height="1.15" fill="#050503"/>
<rect x="8" y="176" width="1.1" height="1.15" fill="#0c0c08"/>
<rect x="9" y="174" width="1.1" height="1.15" fill="#0c0c08"/>
<rect x="9" y="175" width="1.1" height="1.15" fill="#040403"/>
<rect x="9" y="176" width="1.1" height="1.15" fill="#0b0b07"/>
<rect x="0" y="177" width="1.1" height="1.15" fill="#520809"/>
<rect x="0" y="178" width="1.1" height="1.15" fill="#320506"/>
<rect x="0" y="179" width="1.1" height="1.15" fill="#6f0b0d"/>
<rect x="1" y="177" width="1.1" height="1.15" fill="#b6171d"/>
<rect x="1" y="178" width="1.1" height="1.15" fill="#931318"/>
<rect x="1" y="179" width="1.1" height="1.15" fill="#ea1e26"/>
<rect x="2" y="177" width="1.1" height="1.15" fill="#083a14"/>
<rect x="2" y="178" width="1.1" height="1.15" fill="#06270e"/>
<rect x="2" y="179" width="1.1" height="1.15" fill="#0a4519"/>
<rect x="3" y="177" width="1.1" height="1.15" fill="#117028"/>
<rect x="3" y="178" width="1.1" height="1.15" fill="#0b491a"/>
<rect x="3" y="179" width="1.1" height="1.15" fill="#168f33"/>
<rect x="4" y="177" width="1.1" height="1.15" fill="#116e27"/>
<rect x="4" y="178" width="1.1" height="1.15" fill="#0d541e"/>
<rect x="4" y="179" width="1.1" height="1.15" fill="#137e2d"/>
<rect x="5" y="177" width="1.1" height="1.15" fill="#106b26"/>
<rect x="5" y="178" width="1.1" height="1.15" fill="#0a4418"/>
<rect x="5" y="179" width="1.1" height="1.15" fill="#12772a"/>
<rect x="6" y="177" width="1.1" height="1.15" fill="#0b4b1b"/>
<rect x="6" y="178" width="1.1" height="1.15" fill="#05240d"/>
<rect x="6" y="179" width="1.1" height="1.15" fill="#0a4318"/>
<rect x="7" y="177" width="1.1" height="1.15" fill="#0c0c08"/>
<rect x="7" y="178" width="1.1" height="1.15" fill="#070705"/>
<rect x="7" y="179" width="1.1" height="1.15" fill="#0c0c08"/>
<rect x="8" y="177" width="1.1" height="1.15" fill="#12782a"/>
<rect x="8" y="178" width="1.1" height="1.15" fill="#0a4217"/>
<rect x="8" y="179" width="1.1" height="1.15" fill="#137b2c"/>
<rect x="9" y="177" width="1.1" height="1.15" fill="#13792b"/>
<rect x="9" y="178" width="1.1" height="1.15" fill="#0a4418"/>
<rect x="9" y="179" width="1.1" height="1.15" fill="#158630"/>
<rect x="0" y="180" width="1.1" height="1.15" fill="#b4171d"/>
<rect x="0" y="181" width="1.1" height="1.15" fill="#fc2029"/>
<rect x="0" y="182" width="1.1" height="1.15" fill="#c3191f"/>
<rect x="1" y="180" width="1.1" height="1.15" fill="#a4151a"/>
<rect x="1" y="181" width="1.1" height="1.15" fill="#ff2630"/>
<rect x="1" y="182" width="1.1" height="1.15" fill="#de1d24"/>
<rect x="2" y="180" width="1.1" height="1.15" fill="#116f27"/>
<rect x="2" y="181" width="1.1" height="1.15" fill="#179535"/>
<rect x="2" y="182" width="1.1" height="1.15" fill="#12782a"/>
<rect x="3" y="180" width="1.1" height="1.15" fill="#090906"/>
<rect x="3" y="181" width="1.1" height="1.15" fill="#10100b"/>
<rect x="3" y="182" width="1.1" height="1.15" fill="#0c0c09"/>
<rect x="4" y="180" width="1.1" height="1.15" fill="#090906"/>
<rect x="4" y="181" width="1.1" height="1.15" fill="#0d0d09"/>
<rect x="4" y="182" width="1.1" height="1.15" fill="#0c0c09"/>
<rect x="5" y="180" width="1.1" height="1.15" fill="#0a0a07"/>
<rect x="5" y="181" width="1.1" height="1.15" fill="#10100b"/>
<rect x="5" y="182" width="1.1" height="1.15" fill="#0c0c08"/>
<rect x="6" y="180" width="1.1" height="1.15" fill="#0b0b07"/>
<rect x="6" y="181" width="1.1" height="1.15" fill="#0d0d09"/>
<rect x="6" y="182" width="1.1" height="1.15" fill="#0a0a07"/>
<rect x="7" y="180" width="1.1" height="1.15" fill="#090906"/>
<rect x="7" y="181" width="1.1" height="1.15" fill="#11110c"/>
<rect x="7" y="182" width="1.1" height="1.15" fill="#0c0c08"/>
<rect x="8" y="180" width="1.1" height="1.15" fill="#0e5c20"/>
<rect x="8" y="181" width="1.1" height="1.15" fill="#158830"/>
<rect x="8" y="182" width="1.1" height="1.15" fill="#137a2b"/>
<rect x="9" y="180" width="1.1" height="1.15" fill="#117028"/>
<rect x="9" y="181" width="1.1" height="1.15" fill="#14832e"/>
<rect x="9" y="182" width="1.1" height="1.15" fill="#106b26"/>
<rect x="0" y="183" width="1.1" height="1.15" fill="#49080a"/>
<rect x="0" y="184" width="1.1" height="1.15" fill="#6a0c0f"/>
<rect x="0" y="185" width="1.1" height="1.15" fill="#370608"/>
<rect x="1" y="183" width="1.1" height="1.15" fill="#310405"/>
<rect x="1" y="184" width="1.1" height="1.15" fill="#3c0607"/>
<rect x="1" y="185" width="1.1" height="1.15" fill="#280404"/>
<rect x="2" y="183" width="1.1" height="1.15" fill="#0a4017"/>
<rect x="2" y="184" width="1.1" height="1.15" fill="#0e5920"/>
<rect x="2" y="185" width="1.1" height="1.15" fill="#073011"/>
<rect x="3" y="183" width="1.1" height="1.15" fill="#093a14"/>
<rect x="3" y="184" width="1.1" height="1.15" fill="#0d571f"/>
<rect x="3" y="185" width="1.1" height="1.15" fill="#083312"/>
<rect x="4" y="183" width="1.1" height="1.15" fill="#083613"/>
<rect x="4" y="184" width="1.1" height="1.15" fill="#0f6022"/>
<rect x="4" y="185" width="1.1" height="1.15" fill="#073212"/>
<rect x="5" y="183" width="1.1" height="1.15" fill="#041e0b"/>
<rect x="5" y="184" width="1.1" height="1.15" fill="#093b15"/>
<rect x="5" y="185" width="1.1" height="1.15" fill="#041a09"/>
<rect x="6" y="183" width="1.1" height="1.15" fill="#093f16"/>
<rect x="6" y="184" width="1.1" height="1.15" fill="#0f6423"/>
<rect x="6" y="185" width="1.1" height="1.15" fill="#083613"/>
<rect x="7" y="183" width="1.1" height="1.15" fill="#05220c"/>
<rect x="7" y="184" width="1.1" height="1.15" fill="#073312"/>
<rect x="7" y="185" width="1.1" height="1.15" fill="#041b09"/>
<rect x="8" y="183" width="1.1" height="1.15" fill="#060604"/>
<rect x="8" y="184" width="1.1" height="1.15" fill="#080805"/>
<rect x="8" y="185" width="1.1" height="1.15" fill="#050503"/>
<rect x="9" y="183" width="1.1" height="1.15" fill="#0a4217"/>
<rect x="9" y="184" width="1.1" height="1.15" fill="#0e5c21"/>
<rect x="9" y="185" width="1.1" height="1.15" fill="#073212"/>
<rect x="0" y="186" width="1.1" height="1.15" fill="#59080a"/>
<rect x="0" y="187" width="1.1" height="1.15" fill="#660a0c"/>
<rect x="0" y="188" width="1.1" height="1.15" fill="#3d0607"/>
<rect x="1" y="186" width="1.1" height="1.15" fill="#8a0f14"/>
<rect x="1" y="187" width="1.1" height="1.15" fill="#bc151c"/>
<rect x="1" y="188" width="1.1" height="1.15" fill="#630b0e"/>
<rect x="2" y="186" width="1.1" height="1.15" fill="#0c0c09"/>
<rect x="2" y="187" width="1.1" height="1.15" fill="#0b0b08"/>
<rect x="2" y="188" width="1.1" height="1.15" fill="#080806"/>
<rect x="3" y="186" width="1.1" height="1.15" fill="#137b2c"/>
<rect x="3" y="187" width="1.1" height="1.15" fill="#179334"/>
<rect x="3" y="188" width="1.1" height="1.15" fill="#0c4c1b"/>
<rect x="4" y="186" width="1.1" height="1.15" fill="#083914"/>
<rect x="4" y="187" width="1.1" height="1.15" fill="#0a4518"/>
<rect x="4" y="188" width="1.1" height="1.15" fill="#062d10"/>
<rect x="5" y="186" width="1.1" height="1.15" fill="#14802d"/>
<rect x="5" y="187" width="1.1" height="1.15" fill="#137b2c"/>
<rect x="5" y="188" width="1.1" height="1.15" fill="#0e5920"/>
<rect x="6" y="186" width="1.1" height="1.15" fill="#24c443"/>
<rect x="6" y="187" width="1.1" height="1.15" fill="#1ea538"/>
<rect x="6" y="188" width="1.1" height="1.15" fill="#198b2f"/>
<rect x="7" y="186" width="1.1" height="1.15" fill="#1c9a34"/>
<rect x="7" y="187" width="1.1" height="1.15" fill="#21b23c"/>
<rect x="7" y="188" width="1.1" height="1.15" fill="#136a24"/>
<rect x="8" y="186" width="1.1" height="1.15" fill="#0d0d09"/>
<rect x="8" y="187" width="1.1" height="1.15" fill="#0e0e0a"/>
<rect x="8" y="188" width="1.1" height="1.15" fill="#070705"/>
<rect x="9" y="186" width="1.1" height="1.15" fill="#21b53e"/>
<rect x="9" y="187" width="1.1" height="1.15" fill="#28db4a"/>
<rect x="9" y="188" width="1.1" height="1.15" fill="#18832c"/>
<rect x="0" y="189" width="1.1" height="1.15" fill="#3c0607"/>
<rect x="0" y="190" width="1.1" height="1.15" fill="#450608"/>
<rect x="0" y="191" width="1.1" height="1.15" fill="#6a0a0c"/>
<rect x="1" y="189" width="1.1" height="1.15" fill="#2f0405"/>
<rect x="1" y="190" width="1.1" height="1.15" fill="#430608"/>
<rect x="1" y="191" width="1.1" height="1.15" fill="#710b0d"/>
<rect x="2" y="189" width="1.1" height="1.15" fill="#060604"/>
<rect x="2" y="190" width="1.1" height="1.15" fill="#080806"/>
<rect x="2" y="191" width="1.1" height="1.15" fill="#0e0e0a"/>
<rect x="3" y="189" width="1.1" height="1.15" fill="#115f20"/>
<rect x="3" y="190" width="1.1" height="1.15" fill="#17802c"/>
<rect x="3" y="191" width="1.1" height="1.15" fill="#2ae44e"/>
<rect x="4" y="189" width="1.1" height="1.15" fill="#126522"/>
<rect x="4" y="190" width="1.1" height="1.15" fill="#1a8e30"/>
<rect x="4" y="191" width="1.1" height="1.15" fill="#2cf052"/>
<rect x="5" y="189" width="1.1" height="1.15" fill="#0c4c1b"/>
<rect x="5" y="190" width="1.1" height="1.15" fill="#106624"/>
<rect x="5" y="191" width="1.1" height="1.15" fill="#137e2d"/>
<rect x="6" y="189" width="1.1" height="1.15" fill="#147026"/>
<rect x="6" y="190" width="1.1" height="1.15" fill="#1a9031"/>
<rect x="6" y="191" width="1.1" height="1.15" fill="#27d348"/>
<rect x="7" y="189" width="1.1" height="1.15" fill="#146e25"/>
<rect x="7" y="190" width="1.1" height="1.15" fill="#177c2a"/>
<rect x="7" y="191" width="1.1" height="1.15" fill="#28dc4b"/>
<rect x="8" y="189" width="1.1" height="1.15" fill="#070705"/>
<rect x="8" y="190" width="1.1" height="1.15" fill="#0a0a07"/>
<rect x="8" y="191" width="1.1" height="1.15" fill="#0d0d09"/>
<rect x="9" y="189" width="1.1" height="1.15" fill="#177d2a"/>
<rect x="9" y="190" width="1.1" height="1.15" fill="#1a8d30"/>
<rect x="9" y="191" width="1.1" height="1.15" fill="#2be94f"/>
<rect x="0" y="192" width="1.1" height="1.15" fill="#a9161b"/>
<rect x="0" y="193" width="1.1" height="1.15" fill="#8a1216"/>
<rect x="0" y="194" width="1.1" height="1.15" fill="#9e1419"/>
<rect x="1" y="192" width="1.1" height="1.15" fill="#a8161b"/>
<rect x="1" y="193" width="1.1" height="1.15" fill="#9e1419"/>
<rect x="1" y="194" width="1.1" height="1.15" fill="#bd181e"/>
<rect x="2" y="192" width="1.1" height="1.15" fill="#083a14"/>
<rect x="2" y="193" width="1.1" height="1.15" fill="#062c10"/>
<rect x="2" y="194" width="1.1" height="1.15" fill="#083914"/>
<rect x="3" y="192" width="1.1" height="1.15" fill="#1d9e35"/>
<rect x="3" y="193" width="1.1" height="1.15" fill="#147026"/>
<rect x="3" y="194" width="1.1" height="1.15" fill="#198a2f"/>
<rect x="4" y="192" width="1.1" height="1.15" fill="#1ea538"/>
<rect x="4" y="193" width="1.1" height="1.15" fill="#126422"/>
<rect x="4" y="194" width="1.1" height="1.15" fill="#19872e"/>
<rect x="5" y="192" width="1.1" height="1.15" fill="#0e5a20"/>
<rect x="5" y="193" width="1.1" height="1.15" fill="#0c501c"/>
<rect x="5" y="194" width="1.1" height="1.15" fill="#0c511d"/>
<rect x="6" y="192" width="1.1" height="1.15" fill="#1b9532"/>
<rect x="6" y="193" width="1.1" height="1.15" fill="#126622"/>
<rect x="6" y="194" width="1.1" height="1.15" fill="#18842d"/>
<rect x="7" y="192" width="1.1" height="1.15" fill="#20ad3b"/>
<rect x="7" y="193" width="1.1" height="1.15" fill="#136924"/>
<rect x="7" y="194" width="1.1" height="1.15" fill="#18852d"/>
<rect x="8" y="192" width="1.1" height="1.15" fill="#117128"/>
<rect x="8" y="193" width="1.1" height="1.15" fill="#0b4719"/>
<rect x="8" y="194" width="1.1" height="1.15" fill="#0d561f"/>
<rect x="9" y="192" width="1.1" height="1.15" fill="#0f6524"/>
<rect x="9" y="193" width="1.1" height="1.15" fill="#0c511d"/>
<rect x="9" y="194" width="1.1" height="1.15" fill="#0d561e"/>
<rect x="0" y="195" width="1.1" height="1.15" fill="#340506"/>
<rect x="0" y="196" width="1.1" height="1.15" fill="#280404"/>
<rect x="0" y="197" width="1.1" height="1.15" fill="#330506"/>
<rect x="1" y="195" width="1.1" height="1.15" fill="#360506"/>
<rect x="1" y="196" width="1.1" height="1.15" fill="#2b0405"/>
<rect x="1" y="197" width="1.1" height="1.15" fill="#330506"/>
<rect x="2" y="195" width="1.1" height="1.15" fill="#0c501c"/>
<rect x="2" y="196" width="1.1" height="1.15" fill="#093b15"/>
<rect x="2" y="197" width="1.1" height="1.15" fill="#0d571f"/>
<rect x="3" y="195" width="1.1" height="1.15" fill="#167728"/>
<rect x="3" y="196" width="1.1" height="1.15" fill="#0f541c"/>
<rect x="3" y="197" width="1.1" height="1.15" fill="#157528"/>
<rect x="4" y="195" width="1.1" height="1.15" fill="#136b24"/>
<rect x="4" y="196" width="1.1" height="1.15" fill="#105a1f"/>
<rect x="4" y="197" width="1.1" height="1.15" fill="#136623"/>
<rect x="5" y="195" width="1.1" height="1.15" fill="#136a24"/>
<rect x="5" y="196" width="1.1" height="1.15" fill="#0d4818"/>
<rect x="5" y="197" width="1.1" height="1.15" fill="#157126"/>
<rect x="6" y="195" width="1.1" height="1.15" fill="#177c2a"/>
<rect x="6" y="196" width="1.1" height="1.15" fill="#0f541c"/>
<rect x="6" y="197" width="1.1" height="1.15" fill="#116020"/>
<rect x="7" y="195" width="1.1" height="1.15" fill="#0d541e"/>
<rect x="7" y="196" width="1.1" height="1.15" fill="#073011"/>
<rect x="7" y="197" width="1.1" height="1.15" fill="#0b4619"/>
<rect x="8" y="195" width="1.1" height="1.15" fill="#070705"/>
<rect x="8" y="196" width="1.1" height="1.15" fill="#040403"/>
<rect x="8" y="197" width="1.1" height="1.15" fill="#080805"/>
<rect x="9" y="195" width="1.1" height="1.15" fill="#157528"/>
<rect x="9" y="196" width="1.1" height="1.15" fill="#115c1f"/>
<rect x="9" y="197" width="1.1" height="1.15" fill="#157628"/>
<rect x="0" y="198" width="1.1" height="1.15" fill="#450608"/>
<rect x="0" y="199" width="1.1" height="1.15" fill="#390506"/>
<rect x="0" y="200" width="1.1" height="1.15" fill="#350506"/>
<rect x="1" y="198" width="1.1" height="1.15" fill="#430608"/>
<rect x="1" y="199" width="1.1" height="1.15" fill="#360506"/>
<rect x="1" y="200" width="1.1" height="1.15" fill="#360506"/>
<rect x="2" y="198" width="1.1" height="1.15" fill="#0f6323"/>
<rect x="2" y="199" width="1.1" height="1.15" fill="#0a4418"/>
<rect x="2" y="200" width="1.1" height="1.15" fill="#0c4e1c"/>
<rect x="3" y="198" width="1.1" height="1.15" fill="#177d2a"/>
<rect x="3" y="199" width="1.1" height="1.15" fill="#167929"/>
<rect x="3" y="200" width="1.1" height="1.15" fill="#136723"/>
<rect x="4" y="198" width="1.1" height="1.15" fill="#18812c"/>
<rect x="4" y="199" width="1.1" height="1.15" fill="#146e25"/>
<rect x="4" y="200" width="1.1" height="1.15" fill="#167829"/>
<rect x="5" y="198" width="1.1" height="1.15" fill="#177e2b"/>
<rect x="5" y="199" width="1.1" height="1.15" fill="#136b24"/>
<rect x="5" y="200" width="1.1" height="1.15" fill="#167728"/>
<rect x="6" y="198" width="1.1" height="1.15" fill="#198b2f"/>
<rect x="6" y="199" width="1.1" height="1.15" fill="#136923"/>
<rect x="6" y="200" width="1.1" height="1.15" fill="#146c25"/>
<rect x="7" y="198" width="1.1" height="1.15" fill="#0f6323"/>
<rect x="7" y="199" width="1.1" height="1.15" fill="#0a4518"/>
<rect x="7" y="200" width="1.1" height="1.15" fill="#0e5920"/>
<rect x="8" y="198" width="1.1" height="1.15" fill="#073111"/>
<rect x="8" y="199" width="1.1" height="1.15" fill="#062d10"/>
<rect x="8" y="200" width="1.1" height="1.15" fill="#062a0f"/>
<rect x="9" y="198" width="1.1" height="1.15" fill="#0f6223"/>
<rect x="9" y="199" width="1.1" height="1.15" fill="#0d531d"/>
<rect x="9" y="200" width="1.1" height="1.15" fill="#0c4d1b"/>
<rect x="0" y="201" width="1.1" height="1.15" fill="#f01f27"/>
<rect x="0" y="202" width="1.1" height="1.15" fill="#b4171d"/>
<rect x="0" y="203" width="1.1" height="1.15" fill="#4b090c"/>
<rect x="1" y="201" width="1.1" height="1.15" fill="#680a0c"/>
<rect x="1" y="202" width="1.1" height="1.15" fill="#500809"/>
<rect x="1" y="203" width="1.1" height="1.15" fill="#270304"/>
<rect x="2" y="201" width="1.1" height="1.15" fill="#0b0b08"/>
<rect x="2" y="202" width="1.1" height="1.15" fill="#0a0a07"/>
<rect x="2" y="203" width="1.1" height="1.15" fill="#050503"/>
<rect x="3" y="201" width="1.1" height="1.15" fill="#22ba3f"/>
<rect x="3" y="202" width="1.1" height="1.15" fill="#198a2f"/>
<rect x="3" y="203" width="1.1" height="1.15" fill="#0c4517"/>
<rect x="4" y="201" width="1.1" height="1.15" fill="#14822e"/>
<rect x="4" y="202" width="1.1" height="1.15" fill="#106a26"/>
<rect x="4" y="203" width="1.1" height="1.15" fill="#073011"/>
<rect x="5" y="201" width="1.1" height="1.15" fill="#23be41"/>
<rect x="5" y="202" width="1.1" height="1.15" fill="#1d9c35"/>
<rect x="5" y="203" width="1.1" height="1.15" fill="#0e4c1a"/>
<rect x="6" y="201" width="1.1" height="1.15" fill="#137b2c"/>
<rect x="6" y="202" width="1.1" height="1.15" fill="#106a25"/>
<rect x="6" y="203" width="1.1" height="1.15" fill="#083613"/>
<rect x="7" y="201" width="1.1" height="1.15" fill="#0e0e0a"/>
<rect x="7" y="202" width="1.1" height="1.15" fill="#0b0b08"/>
<rect x="7" y="203" width="1.1" height="1.15" fill="#050503"/>
<rect x="8" y="201" width="1.1" height="1.15" fill="#5f090b"/>
<rect x="8" y="202" width="1.1" height="1.15" fill="#54080a"/>
<rect x="8" y="203" width="1.1" height="1.15" fill="#260304"/>
<rect x="9" y="201" width="1.1" height="1.15" fill="#0c0c09"/>
<rect x="9" y="202" width="1.1" height="1.15" fill="#0b0b08"/>
<rect x="9" y="203" width="1.1" height="1.15" fill="#040403"/>
<rect x="0" y="204" width="1.1" height="1.15" fill="#b4171d"/>
<rect x="0" y="205" width="1.1" height="1.15" fill="#700e12"/>
<rect x="0" y="206" width="1.1" height="1.15" fill="#de1d24"/>
<rect x="1" y="204" width="1.1" height="1.15" fill="#cc1a21"/>
<rect x="1" y="205" width="1.1" height="1.15" fill="#831115"/>
<rect x="1" y="206" width="1.1" height="1.15" fill="#f52028"/>
<rect x="2" y="204" width="1.1" height="1.15" fill="#0b0b08"/>
<rect x="2" y="205" width="1.1" height="1.15" fill="#060604"/>
<rect x="2" y="206" width="1.1" height="1.15" fill="#0c0c09"/>
<rect x="3" y="204" width="1.1" height="1.15" fill="#117028"/>
<rect x="3" y="205" width="1.1" height="1.15" fill="#093e16"/>
<rect x="3" y="206" width="1.1" height="1.15" fill="#168d32"/>
<rect x="4" y="204" width="1.1" height="1.15" fill="#083814"/>
<rect x="4" y="205" width="1.1" height="1.15" fill="#05240d"/>
<rect x="4" y="206" width="1.1" height="1.15" fill="#0c501c"/>
<rect x="5" y="204" width="1.1" height="1.15" fill="#0f6323"/>
<rect x="5" y="205" width="1.1" height="1.15" fill="#0a4016"/>
<rect x="5" y="206" width="1.1" height="1.15" fill="#168e32"/>
<rect x="6" y="204" width="1.1" height="1.15" fill="#137a2b"/>
<rect x="6" y="205" width="1.1" height="1.15" fill="#0a4017"/>
<rect x="6" y="206" width="1.1" height="1.15" fill="#15852f"/>
<rect x="7" y="204" width="1.1" height="1.15" fill="#4f0709"/>
<rect x="7" y="205" width="1.1" height="1.15" fill="#290404"/>
<rect x="7" y="206" width="1.1" height="1.15" fill="#650a0c"/>
<rect x="8" y="204" width="1.1" height="1.15" fill="#d31b22"/>
<rect x="8" y="205" width="1.1" height="1.15" fill="#811015"/>
<rect x="8" y="206" width="1.1" height="1.15" fill="#ca1a21"/>
<rect x="9" y="204" width="1.1" height="1.15" fill="#116d27"/>
<rect x="9" y="205" width="1.1" height="1.15" fill="#0b4819"/>
<rect x="9" y="206" width="1.1" height="1.15" fill="#158b31"/>
<rect x="0" y="207" width="1.1" height="1.15" fill="#23c142"/>
<rect x="0" y="208" width="1.1" height="1.15" fill="#0d4718"/>
<rect x="0" y="209" width="1.1" height="1.15" fill="#20b03c"/>
<rect x="1" y="207" width="1.1" height="1.15" fill="#0a4318"/>
<rect x="1" y="208" width="1.1" height="1.15" fill="#041c0a"/>
<rect x="1" y="209" width="1.1" height="1.15" fill="#0a4117"/>
<rect x="2" y="207" width="1.1" height="1.15" fill="#158630"/>
<rect x="2" y="208" width="1.1" height="1.15" fill="#083312"/>
<rect x="2" y="209" width="1.1" height="1.15" fill="#12782a"/>
<rect x="3" y="207" width="1.1" height="1.15" fill="#158b31"/>
<rect x="3" y="208" width="1.1" height="1.15" fill="#073011"/>
<rect x="3" y="209" width="1.1" height="1.15" fill="#116e27"/>
<rect x="4" y="207" width="1.1" height="1.15" fill="#14832f"/>
<rect x="4" y="208" width="1.1" height="1.15" fill="#072e10"/>
<rect x="4" y="209" width="1.1" height="1.15" fill="#13792b"/>
<rect x="5" y="207" width="1.1" height="1.15" fill="#2ae44d"/>
<rect x="5" y="208" width="1.1" height="1.15" fill="#0d4919"/>
<rect x="5" y="209" width="1.1" height="1.15" fill="#24c443"/>
<rect x="6" y="207" width="1.1" height="1.15" fill="#14852f"/>
<rect x="6" y="208" width="1.1" height="1.15" fill="#083513"/>
<rect x="6" y="209" width="1.1" height="1.15" fill="#14822e"/>
<rect x="7" y="207" width="1.1" height="1.15" fill="#158830"/>
<rect x="7" y="208" width="1.1" height="1.15" fill="#083613"/>
<rect x="7" y="209" width="1.1" height="1.15" fill="#158730"/>
<rect x="8" y="207" width="1.1" height="1.15" fill="#13792b"/>
<rect x="8" y="208" width="1.1" height="1.15" fill="#083513"/>
<rect x="8" y="209" width="1.1" height="1.15" fill="#117128"/>
<rect x="9" y="207" width="1.1" height="1.15" fill="#25cb45"/>
<rect x="9" y="208" width="1.1" height="1.15" fill="#0f511b"/>
<rect x="9" y="209" width="1.1" height="1.15" fill="#22ba3f"/>
<rect x="0" y="210" width="1.1" height="1.15" fill="#0d561e"/>
<rect x="0" y="211" width="1.1" height="1.15" fill="#179735"/>
<rect x="0" y="212" width="1.1" height="1.15" fill="#19a239"/>
<rect x="1" y="210" width="1.1" height="1.15" fill="#060604"/>
<rect x="1" y="211" width="1.1" height="1.15" fill="#0f0f0a"/>
<rect x="1" y="212" width="1.1" height="1.15" fill="#0e0e0a"/>
<rect x="2" y="210" width="1.1" height="1.15" fill="#062a0f"/>
<rect x="2" y="211" width="1.1" height="1.15" fill="#0d561e"/>
<rect x="2" y="212" width="1.1" height="1.15" fill="#0c4f1c"/>
<rect x="3" y="210" width="1.1" height="1.15" fill="#073111"/>
<rect x="3" y="211" width="1.1" height="1.15" fill="#0b4719"/>
<rect x="3" y="212" width="1.1" height="1.15" fill="#0b4d1b"/>
<rect x="4" y="210" width="1.1" height="1.15" fill="#0c4f1c"/>
<rect x="4" y="211" width="1.1" height="1.15" fill="#14822e"/>
<rect x="4" y="212" width="1.1" height="1.15" fill="#14832f"/>
<rect x="5" y="210" width="1.1" height="1.15" fill="#072e10"/>
<rect x="5" y="211" width="1.1" height="1.15" fill="#0b4b1b"/>
<rect x="5" y="212" width="1.1" height="1.15" fill="#0b491a"/>
<rect x="6" y="210" width="1.1" height="1.15" fill="#080806"/>
<rect x="6" y="211" width="1.1" height="1.15" fill="#10100b"/>
<rect x="6" y="212" width="1.1" height="1.15" fill="#0f0f0a"/>
<rect x="7" y="210" width="1.1" height="1.15" fill="#080805"/>
<rect x="7" y="211" width="1.1" height="1.15" fill="#0d0d09"/>
<rect x="7" y="212" width="1.1" height="1.15" fill="#10100b"/>
<rect x="8" y="210" width="1.1" height="1.15" fill="#177f2b"/>
<rect x="8" y="211" width="1.1" height="1.15" fill="#2bea4f"/>
<rect x="8" y="212" width="1.1" height="1.15" fill="#28dc4b"/>
<rect x="9" y="210" width="1.1" height="1.15" fill="#136b24"/>
<rect x="9" y="211" width="1.1" height="1.15" fill="#27d448"/>
<rect x="9" y="212" width="1.1" height="1.15" fill="#27d247"/>
<rect x="0" y="213" width="1.1" height="1.15" fill="#1faa3a"/>
<rect x="0" y="214" width="1.1" height="1.15" fill="#0f531c"/>
<rect x="0" y="215" width="1.1" height="1.15" fill="#115c1f"/>
<rect x="1" y="213" width="1.1" height="1.15" fill="#094017"/>
<rect x="1" y="214" width="1.1" height="1.15" fill="#05220c"/>
<rect x="1" y="215" width="1.1" height="1.15" fill="#062a0f"/>
<rect x="2" y="213" width="1.1" height="1.15" fill="#0d0d09"/>
<rect x="2" y="214" width="1.1" height="1.15" fill="#060604"/>
<rect x="2" y="215" width="1.1" height="1.15" fill="#070705"/>
<rect x="3" y="213" width="1.1" height="1.15" fill="#116f27"/>
<rect x="3" y="214" width="1.1" height="1.15" fill="#0a4117"/>
<rect x="3" y="215" width="1.1" height="1.15" fill="#0a4318"/>
<rect x="4" y="213" width="1.1" height="1.15" fill="#137f2d"/>
<rect x="4" y="214" width="1.1" height="1.15" fill="#0a3f16"/>
<rect x="4" y="215" width="1.1" height="1.15" fill="#0a4017"/>
<rect x="5" y="213" width="1.1" height="1.15" fill="#116f27"/>
<rect x="5" y="214" width="1.1" height="1.15" fill="#0b4619"/>
<rect x="5" y="215" width="1.1" height="1.15" fill="#093c15"/>
<rect x="6" y="213" width="1.1" height="1.15" fill="#14832e"/>
<rect x="6" y="214" width="1.1" height="1.15" fill="#0a4418"/>
<rect x="6" y="215" width="1.1" height="1.15" fill="#0b4619"/>
<rect x="7" y="213" width="1.1" height="1.15" fill="#093b15"/>
<rect x="7" y="214" width="1.1" height="1.15" fill="#05200b"/>
<rect x="7" y="215" width="1.1" height="1.15" fill="#05250d"/>
<rect x="8" y="213" width="1.1" height="1.15" fill="#21b23d"/>
<rect x="8" y="214" width="1.1" height="1.15" fill="#116121"/>
<rect x="8" y="215" width="1.1" height="1.15" fill="#136623"/>
<rect x="9" y="213" width="1.1" height="1.15" fill="#1da137"/>
<rect x="9" y="214" width="1.1" height="1.15" fill="#105b1f"/>
<rect x="9" y="215" width="1.1" height="1.15" fill="#105b1f"/>
<rect x="0" y="216" width="1.1" height="1.15" fill="#1b9232"/>
<rect x="0" y="217" width="1.1" height="1.15" fill="#1c9833"/>
<rect x="0" y="218" width="1.1" height="1.15" fill="#0d4919"/>
<rect x="1" y="216" width="1.1" height="1.15" fill="#080805"/>
<rect x="1" y="217" width="1.1" height="1.15" fill="#0c0c08"/>
<rect x="1" y="218" width="1.1" height="1.15" fill="#040403"/>
<rect x="2" y="216" width="1.1" height="1.15" fill="#090906"/>
<rect x="2" y="217" width="1.1" height="1.15" fill="#0a0a07"/>
<rect x="2" y="218" width="1.1" height="1.15" fill="#050504"/>
<rect x="3" y="216" width="1.1" height="1.15" fill="#1b9231"/>
<rect x="3" y="217" width="1.1" height="1.15" fill="#24c543"/>
<rect x="3" y="218" width="1.1" height="1.15" fill="#0e4e1a"/>
<rect x="4" y="216" width="1.1" height="1.15" fill="#0c4e1c"/>
<rect x="4" y="217" width="1.1" height="1.15" fill="#137e2d"/>
<rect x="4" y="218" width="1.1" height="1.15" fill="#083412"/>
<rect x="5" y="216" width="1.1" height="1.15" fill="#083513"/>
<rect x="5" y="217" width="1.1" height="1.15" fill="#0a4218"/>
<rect x="5" y="218" width="1.1" height="1.15" fill="#041e0b"/>
<rect x="6" y="216" width="1.1" height="1.15" fill="#080805"/>
<rect x="6" y="217" width="1.1" height="1.15" fill="#0a0a07"/>
<rect x="6" y="218" width="1.1" height="1.15" fill="#040403"/>
<rect x="7" y="216" width="1.1" height="1.15" fill="#0f6524"/>
<rect x="7" y="217" width="1.1" height="1.15" fill="#127329"/>
<rect x="7" y="218" width="1.1" height="1.15" fill="#072d10"/>
<rect x="8" y="216" width="1.1" height="1.15" fill="#157427"/>
<rect x="8" y="217" width="1.1" height="1.15" fill="#25ca44"/>
<rect x="8" y="218" width="1.1" height="1.15" fill="#0f511b"/>
<rect x="9" y="216" width="1.1" height="1.15" fill="#0d561f"/>
<rect x="9" y="217" width="1.1" height="1.15" fill="#106925"/>
<rect x="9" y="218" width="1.1" height="1.15" fill="#083713"/>
<rect x="0" y="219" width="1.1" height="1.15" fill="#072f10"/>
<rect x="0" y="220" width="1.1" height="1.15" fill="#116d26"/>
<rect x="0" y="221" width="1.1" height="1.15" fill="#0f6223"/>
<rect x="1" y="219" width="1.1" height="1.15" fill="#050503"/>
<rect x="1" y="220" width="1.1" height="1.15" fill="#0c0c08"/>
<rect x="1" y="221" width="1.1" height="1.15" fill="#0a0a07"/>
<rect x="2" y="219" width="1.1" height="1.15" fill="#0c4116"/>
<rect x="2" y="220" width="1.1" height="1.15" fill="#20b13c"/>
<rect x="2" y="221" width="1.1" height="1.15" fill="#18862d"/>
<rect x="3" y="219" width="1.1" height="1.15" fill="#0c4116"/>
<rect x="3" y="220" width="1.1" height="1.15" fill="#27d649"/>
<rect x="3" y="221" width="1.1" height="1.15" fill="#19892e"/>
<rect x="4" y="219" width="1.1" height="1.15" fill="#0b3d14"/>
<rect x="4" y="220" width="1.1" height="1.15" fill="#24c242"/>
<rect x="4" y="221" width="1.1" height="1.15" fill="#167a29"/>
<rect x="5" y="219" width="1.1" height="1.15" fill="#0c4517"/>
<rect x="5" y="220" width="1.1" height="1.15" fill="#25cc45"/>
<rect x="5" y="221" width="1.1" height="1.15" fill="#18822c"/>
<rect x="6" y="219" width="1.1" height="1.15" fill="#072d10"/>
<rect x="6" y="220" width="1.1" height="1.15" fill="#168d32"/>
<rect x="6" y="221" width="1.1" height="1.15" fill="#0d561f"/>
<rect x="7" y="219" width="1.1" height="1.15" fill="#0f511b"/>
<rect x="7" y="220" width="1.1" height="1.15" fill="#1da036"/>
<rect x="7" y="221" width="1.1" height="1.15" fill="#167728"/>
<rect x="8" y="219" width="1.1" height="1.15" fill="#083814"/>
<rect x="8" y="220" width="1.1" height="1.15" fill="#14842f"/>
<rect x="8" y="221" width="1.1" height="1.15" fill="#0e5f21"/>
<rect x="9" y="219" width="1.1" height="1.15" fill="#0e4e1a"/>
<rect x="9" y="220" width="1.1" height="1.15" fill="#20af3b"/>
<rect x="9" y="221" width="1.1" height="1.15" fill="#1c9833"/>
<rect x="0" y="222" width="1.1" height="1.15" fill="#080806"/>
<rect x="0" y="223" width="1.1" height="1.15" fill="#0f0f0b"/>
<rect x="0" y="224" width="1.1" height="1.15" fill="#0b0b07"/>
<rect x="1" y="222" width="1.1" height="1.15" fill="#070705"/>
<rect x="1" y="223" width="1.1" height="1.15" fill="#0d0d09"/>
<rect x="1" y="224" width="1.1" height="1.15" fill="#0b0b08"/>
<rect x="2" y="222" width="1.1" height="1.15" fill="#147026"/>
<rect x="2" y="223" width="1.1" height="1.15" fill="#22ba3f"/>
<rect x="2" y="224" width="1.1" height="1.15" fill="#1b9232"/>
<rect x="3" y="222" width="1.1" height="1.15" fill="#126622"/>
<rect x="3" y="223" width="1.1" height="1.15" fill="#21b23c"/>
<rect x="3" y="224" width="1.1" height="1.15" fill="#1c9833"/>
<rect x="4" y="222" width="1.1" height="1.15" fill="#126121"/>
<rect x="4" y="223" width="1.1" height="1.15" fill="#24c643"/>
<rect x="4" y="224" width="1.1" height="1.15" fill="#198c2f"/>
<rect x="5" y="222" width="1.1" height="1.15" fill="#177d2a"/>
<rect x="5" y="223" width="1.1" height="1.15" fill="#24c342"/>
<rect x="5" y="224" width="1.1" height="1.15" fill="#1a9131"/>
<rect x="6" y="222" width="1.1" height="1.15" fill="#167728"/>
<rect x="6" y="223" width="1.1" height="1.15" fill="#22b83e"/>
<rect x="6" y="224" width="1.1" height="1.15" fill="#1b9332"/>
<rect x="7" y="222" width="1.1" height="1.15" fill="#0b4719"/>
<rect x="7" y="223" width="1.1" height="1.15" fill="#158730"/>
<rect x="7" y="224" width="1.1" height="1.15" fill="#116e27"/>
<rect x="8" y="222" width="1.1" height="1.15" fill="#0d581f"/>
<rect x="8" y="223" width="1.1" height="1.15" fill="#189e38"/>
<rect x="8" y="224" width="1.1" height="1.15" fill="#116e27"/>
<rect x="9" y="222" width="1.1" height="1.15" fill="#126321"/>
<rect x="9" y="223" width="1.1" height="1.15" fill="#25c744"/>
<rect x="9" y="224" width="1.1" height="1.15" fill="#1a8e30"/>
<rect x="0" y="225" width="1.1" height="1.15" fill="#070705"/>
<rect x="0" y="226" width="1.1" height="1.15" fill="#0a0a07"/>
<rect x="0" y="227" width="1.1" height="1.15" fill="#0a0a07"/>
<rect x="1" y="225" width="1.1" height="1.15" fill="#430608"/>
<rect x="1" y="226" width="1.1" height="1.15" fill="#4e0709"/>
<rect x="1" y="227" width="1.1" height="1.15" fill="#5a090a"/>
<rect x="2" y="225" width="1.1" height="1.15" fill="#083513"/>
<rect x="2" y="226" width="1.1" height="1.15" fill="#093e16"/>
<rect x="2" y="227" width="1.1" height="1.15" fill="#0b4b1b"/>
<rect x="3" y="225" width="1.1" height="1.15" fill="#167929"/>
<rect x="3" y="226" width="1.1" height="1.15" fill="#1b9332"/>
<rect x="3" y="227" width="1.1" height="1.15" fill="#20af3b"/>
<rect x="4" y="225" width="1.1" height="1.15" fill="#18822c"/>
<rect x="4" y="226" width="1.1" height="1.15" fill="#198b2f"/>
<rect x="4" y="227" width="1.1" height="1.15" fill="#1b9633"/>
<rect x="5" y="225" width="1.1" height="1.15" fill="#167b2a"/>
<rect x="5" y="226" width="1.1" height="1.15" fill="#167a29"/>
<rect x="5" y="227" width="1.1" height="1.15" fill="#24c443"/>
<rect x="6" y="225" width="1.1" height="1.15" fill="#1a8c30"/>
<rect x="6" y="226" width="1.1" height="1.15" fill="#167b2a"/>
<rect x="6" y="227" width="1.1" height="1.15" fill="#22b73e"/>
<rect x="7" y="225" width="1.1" height="1.15" fill="#1a9031"/>
<rect x="7" y="226" width="1.1" height="1.15" fill="#1b9432"/>
<rect x="7" y="227" width="1.1" height="1.15" fill="#22b83e"/>
<rect x="8" y="225" width="1.1" height="1.15" fill="#0d581f"/>
<rect x="8" y="226" width="1.1" height="1.15" fill="#0e5e21"/>
<rect x="8" y="227" width="1.1" height="1.15" fill="#117228"/>
<rect x="9" y="225" width="1.1" height="1.15" fill="#0c4d1b"/>
<rect x="9" y="226" width="1.1" height="1.15" fill="#0e5b20"/>
<rect x="9" y="227" width="1.1" height="1.15" fill="#116d27"/>
<rect x="0" y="228" width="1.1" height="1.15" fill="#0a0a07"/>
<rect x="0" y="229" width="1.1" height="1.15" fill="#080805"/>
<rect x="0" y="230" width="1.1" height="1.15" fill="#070705"/>
<rect x="1" y="228" width="1.1" height="1.15" fill="#0a0a07"/>
<rect x="1" y="229" width="1.1" height="1.15" fill="#080806"/>
<rect x="1" y="230" width="1.1" height="1.15" fill="#070705"/>
<rect x="2" y="228" width="1.1" height="1.15" fill="#0f5f22"/>
<rect x="2" y="229" width="1.1" height="1.15" fill="#0d541e"/>
<rect x="2" y="230" width="1.1" height="1.15" fill="#0d581f"/>
<rect x="3" y="228" width="1.1" height="1.15" fill="#18822c"/>
<rect x="3" y="229" width="1.1" height="1.15" fill="#167a29"/>
<rect x="3" y="230" width="1.1" height="1.15" fill="#167728"/>
<rect x="4" y="228" width="1.1" height="1.15" fill="#1a8e30"/>
<rect x="4" y="229" width="1.1" height="1.15" fill="#157227"/>
<rect x="4" y="230" width="1.1" height="1.15" fill="#136723"/>
<rect x="5" y="228" width="1.1" height="1.15" fill="#1b9432"/>
<rect x="5" y="229" width="1.1" height="1.15" fill="#167728"/>
<rect x="5" y="230" width="1.1" height="1.15" fill="#18862d"/>
<rect x="6" y="228" width="1.1" height="1.15" fill="#1b9633"/>
<rect x="6" y="229" width="1.1" height="1.15" fill="#18822c"/>
<rect x="6" y="230" width="1.1" height="1.15" fill="#136823"/>
<rect x="7" y="228" width="1.1" height="1.15" fill="#177f2b"/>
<rect x="7" y="229" width="1.1" height="1.15" fill="#146e25"/>
<rect x="7" y="230" width="1.1" height="1.15" fill="#167a29"/>
<rect x="8" y="228" width="1.1" height="1.15" fill="#0f5f22"/>
<rect x="8" y="229" width="1.1" height="1.15" fill="#0e5e21"/>
<rect x="8" y="230" width="1.1" height="1.15" fill="#0c4d1b"/>
<rect x="9" y="228" width="1.1" height="1.15" fill="#093a15"/>
<rect x="9" y="229" width="1.1" height="1.15" fill="#083613"/>
<rect x="9" y="230" width="1.1" height="1.15" fill="#072f11"/>
<rect x="0" y="231" width="1.1" height="1.15" fill="#073011"/>
<rect x="0" y="232" width="1.1" height="1.15" fill="#0e5b20"/>
<rect x="0" y="233" width="1.1" height="1.15" fill="#073111"/>
<rect x="1" y="231" width="1.1" height="1.15" fill="#090906"/>
<rect x="1" y="232" width="1.1" height="1.15" fill="#0e0e0a"/>
<rect x="1" y="233" width="1.1" height="1.15" fill="#0b0b08"/>
<rect x="2" y="231" width="1.1" height="1.15" fill="#1c9934"/>
<rect x="2" y="232" width="1.1" height="1.15" fill="#28d94a"/>
<rect x="2" y="233" width="1.1" height="1.15" fill="#1fab3a"/>
<rect x="3" y="231" width="1.1" height="1.15" fill="#1ea638"/>
<rect x="3" y="232" width="1.1" height="1.15" fill="#29df4c"/>
<rect x="3" y="233" width="1.1" height="1.15" fill="#1b9231"/>
<rect x="4" y="231" width="1.1" height="1.15" fill="#19892e"/>
<rect x="4" y="232" width="1.1" height="1.15" fill="#2cee51"/>
<rect x="4" y="233" width="1.1" height="1.15" fill="#1d9e36"/>
<rect x="5" y="231" width="1.1" height="1.15" fill="#1fa739"/>
<rect x="5" y="232" width="1.1" height="1.15" fill="#26d047"/>
<rect x="5" y="233" width="1.1" height="1.15" fill="#1fa939"/>
<rect x="6" y="231" width="1.1" height="1.15" fill="#18822c"/>
<rect x="6" y="232" width="1.1" height="1.15" fill="#25c844"/>
<rect x="6" y="233" width="1.1" height="1.15" fill="#1fa939"/>
<rect x="7" y="231" width="1.1" height="1.15" fill="#1da137"/>
<rect x="7" y="232" width="1.1" height="1.15" fill="#23c142"/>
<rect x="7" y="233" width="1.1" height="1.15" fill="#1a8e30"/>
<rect x="8" y="231" width="1.1" height="1.15" fill="#0e5d21"/>
<rect x="8" y="232" width="1.1" height="1.15" fill="#179836"/>
<rect x="8" y="233" width="1.1" height="1.15" fill="#106b26"/>
<rect x="9" y="231" width="1.1" height="1.15" fill="#1c9934"/>
<rect x="9" y="232" width="1.1" height="1.15" fill="#26cf46"/>
<rect x="9" y="233" width="1.1" height="1.15" fill="#18812c"/>
<rect x="0" y="234" width="1.1" height="1.15" fill="#080806"/>
<rect x="0" y="235" width="1.1" height="1.15" fill="#0f0f0a"/>
<rect x="0" y="236" width="1.1" height="1.15" fill="#0c0c08"/>
<rect x="1" y="234" width="1.1" height="1.15" fill="#330506"/>
<rect x="1" y="235" width="1.1" height="1.15" fill="#5f090b"/>
<rect x="1" y="236" width="1.1" height="1.15" fill="#55080a"/>
<rect x="2" y="234" width="1.1" height="1.15" fill="#136823"/>
<rect x="2" y="235" width="1.1" height="1.15" fill="#25cc45"/>
<rect x="2" y="236" width="1.1" height="1.15" fill="#20ae3b"/>
<rect x="3" y="234" width="1.1" height="1.15" fill="#167728"/>
<rect x="3" y="235" width="1.1" height="1.15" fill="#26d047"/>
<rect x="3" y="236" width="1.1" height="1.15" fill="#25c844"/>
<rect x="4" y="234" width="1.1" height="1.15" fill="#167b2a"/>
<rect x="4" y="235" width="1.1" height="1.15" fill="#2cef51"/>
<rect x="4" y="236" width="1.1" height="1.15" fill="#22bc40"/>
<rect x="5" y="234" width="1.1" height="1.15" fill="#157427"/>
<rect x="5" y="235" width="1.1" height="1.15" fill="#27d248"/>
<rect x="5" y="236" width="1.1" height="1.15" fill="#24c342"/>
<rect x="6" y="234" width="1.1" height="1.15" fill="#146d25"/>
<rect x="6" y="235" width="1.1" height="1.15" fill="#2ae34d"/>
<rect x="6" y="236" width="1.1" height="1.15" fill="#27d247"/>
<rect x="7" y="234" width="1.1" height="1.15" fill="#0e591f"/>
<rect x="7" y="235" width="1.1" height="1.15" fill="#189a37"/>
<rect x="7" y="236" width="1.1" height="1.15" fill="#158a31"/>
<rect x="8" y="234" width="1.1" height="1.15" fill="#0b4719"/>
<rect x="8" y="235" width="1.1" height="1.15" fill="#179435"/>
<rect x="8" y="236" width="1.1" height="1.15" fill="#13792b"/>
<rect x="9" y="234" width="1.1" height="1.15" fill="#0b4b1b"/>
<rect x="9" y="235" width="1.1" height="1.15" fill="#168d32"/>
<rect x="9" y="236" width="1.1" height="1.15" fill="#116d26"/>
<rect x="0" y="237" width="1.1" height="1.15" fill="#093b15"/>
<rect x="0" y="238" width="1.1" height="1.15" fill="#05250d"/>
<rect x="0" y="239" width="1.1" height="1.15" fill="#062d10"/>
<rect x="1" y="237" width="1.1" height="1.15" fill="#0c0c08"/>
<rect x="1" y="238" width="1.1" height="1.15" fill="#050503"/>
<rect x="1" y="239" width="1.1" height="1.15" fill="#080805"/>
<rect x="2" y="237" width="1.1" height="1.15" fill="#20ad3b"/>
<rect x="2" y="238" width="1.1" height="1.15" fill="#0d4a19"/>
<rect x="2" y="239" width="1.1" height="1.15" fill="#1a9031"/>
<rect x="3" y="237" width="1.1" height="1.15" fill="#22ba3f"/>
<rect x="3" y="238" width="1.1" height="1.15" fill="#0d4a19"/>
<rect x="3" y="239" width="1.1" height="1.15" fill="#177f2b"/>
<rect x="4" y="237" width="1.1" height="1.15" fill="#1d9e36"/>
<rect x="4" y="238" width="1.1" height="1.15" fill="#0f541c"/>
<rect x="4" y="239" width="1.1" height="1.15" fill="#198c2f"/>
<rect x="5" y="237" width="1.1" height="1.15" fill="#1ea237"/>
<rect x="5" y="238" width="1.1" height="1.15" fill="#115f20"/>
<rect x="5" y="239" width="1.1" height="1.15" fill="#17812c"/>
<rect x="6" y="237" width="1.1" height="1.15" fill="#22b93f"/>
<rect x="6" y="238" width="1.1" height="1.15" fill="#126321"/>
<rect x="6" y="239" width="1.1" height="1.15" fill="#157427"/>
<rect x="7" y="237" width="1.1" height="1.15" fill="#23be41"/>
<rect x="7" y="238" width="1.1" height="1.15" fill="#126121"/>
<rect x="7" y="239" width="1.1" height="1.15" fill="#18812c"/>
<rect x="8" y="237" width="1.1" height="1.15" fill="#1ea337"/>
<rect x="8" y="238" width="1.1" height="1.15" fill="#115e20"/>
<rect x="8" y="239" width="1.1" height="1.15" fill="#177f2b"/>
<rect x="9" y="237" width="1.1" height="1.15" fill="#106825"/>
<rect x="9" y="238" width="1.1" height="1.15" fill="#0a4217"/>
<rect x="9" y="239" width="1.1" height="1.15" fill="#0c4e1c"/>
<rect x="0" y="240" width="1.1" height="1.15" fill="#0a4719"/>
<rect x="0" y="241" width="1.1" height="1.15" fill="#05220c"/>
<rect x="0" y="242" width="1.1" height="1.15" fill="#083613"/>
<rect x="1" y="240" width="1.1" height="1.15" fill="#0e0e0a"/>
<rect x="1" y="241" width="1.1" height="1.15" fill="#060604"/>
<rect x="1" y="242" width="1.1" height="1.15" fill="#090907"/>
<rect x="2" y="240" width="1.1" height="1.15" fill="#27d247"/>
<rect x="2" y="241" width="1.1" height="1.15" fill="#10581e"/>
<rect x="2" y="242" width="1.1" height="1.15" fill="#1d9d35"/>
<rect x="3" y="240" width="1.1" height="1.15" fill="#26d147"/>
<rect x="3" y="241" width="1.1" height="1.15" fill="#126622"/>
<rect x="3" y="242" width="1.1" height="1.15" fill="#167a29"/>
<rect x="4" y="240" width="1.1" height="1.15" fill="#20ad3b"/>
<rect x="4" y="241" width="1.1" height="1.15" fill="#105a1e"/>
<rect x="4" y="242" width="1.1" height="1.15" fill="#1a8e30"/>
<rect x="5" y="240" width="1.1" height="1.15" fill="#1fa939"/>
<rect x="5" y="241" width="1.1" height="1.15" fill="#146f26"/>
<rect x="5" y="242" width="1.1" height="1.15" fill="#1da137"/>
<rect x="6" y="240" width="1.1" height="1.15" fill="#1ea237"/>
<rect x="6" y="241" width="1.1" height="1.15" fill="#146b24"/>
<rect x="6" y="242" width="1.1" height="1.15" fill="#198a2f"/>
<rect x="7" y="240" width="1.1" height="1.15" fill="#22bb3f"/>
<rect x="7" y="241" width="1.1" height="1.15" fill="#116121"/>
<rect x="7" y="242" width="1.1" height="1.15" fill="#19872e"/>
<rect x="8" y="240" width="1.1" height="1.15" fill="#22ba3f"/>
<rect x="8" y="241" width="1.1" height="1.15" fill="#126522"/>
<rect x="8" y="242" width="1.1" height="1.15" fill="#18852d"/>
<rect x="9" y="240" width="1.1" height="1.15" fill="#127429"/>
<rect x="9" y="241" width="1.1" height="1.15" fill="#0a4017"/>
<rect x="9" y="242" width="1.1" height="1.15" fill="#0d571f"/>
<rect x="0" y="243" width="1.1" height="1.15" fill="#0b0b08"/>
<rect x="0" y="244" width="1.1" height="1.15" fill="#0b0b07"/>
<rect x="0" y="245" width="1.1" height="1.15" fill="#0b0b08"/>
<rect x="1" y="243" width="1.1" height="1.15" fill="#500809"/>
<rect x="1" y="244" width="1.1" height="1.15" fill="#430608"/>
<rect x="1" y="245" width="1.1" height="1.15" fill="#62090b"/>
<rect x="2" y="243" width="1.1" height="1.15" fill="#23bd40"/>
<rect x="2" y="244" width="1.1" height="1.15" fill="#1ea438"/>
<rect x="2" y="245" width="1.1" height="1.15" fill="#22b93f"/>
<rect x="3" y="243" width="1.1" height="1.15" fill="#1d9f36"/>
<rect x="3" y="244" width="1.1" height="1.15" fill="#1d9e36"/>
<rect x="3" y="245" width="1.1" height="1.15" fill="#25c744"/>
<rect x="4" y="243" width="1.1" height="1.15" fill="#1fa839"/>
<rect x="4" y="244" width="1.1" height="1.15" fill="#1da036"/>
<rect x="4" y="245" width="1.1" height="1.15" fill="#1da137"/>
<rect x="5" y="243" width="1.1" height="1.15" fill="#1c9a34"/>
<rect x="5" y="244" width="1.1" height="1.15" fill="#1d9e36"/>
<rect x="5" y="245" width="1.1" height="1.15" fill="#26cd46"/>
<rect x="6" y="243" width="1.1" height="1.15" fill="#106b26"/>
<rect x="6" y="244" width="1.1" height="1.15" fill="#106b26"/>
<rect x="6" y="245" width="1.1" height="1.15" fill="#12772a"/>
<rect x="7" y="243" width="1.1" height="1.15" fill="#1b9532"/>
<rect x="7" y="244" width="1.1" height="1.15" fill="#1b9232"/>
<rect x="7" y="245" width="1.1" height="1.15" fill="#24c342"/>
<rect x="8" y="243" width="1.1" height="1.15" fill="#116e27"/>
<rect x="8" y="244" width="1.1" height="1.15" fill="#106925"/>
<rect x="8" y="245" width="1.1" height="1.15" fill="#137f2d"/>
<rect x="9" y="243" width="1.1" height="1.15" fill="#0a4217"/>
<rect x="9" y="244" width="1.1" height="1.15" fill="#093d16"/>
<rect x="9" y="245" width="1.1" height="1.15" fill="#0b4a1a"/>
<rect x="0" y="246" width="1.1" height="1.15" fill="#0d591f"/>
<rect x="0" y="247" width="1.1" height="1.15" fill="#093f16"/>
<rect x="0" y="248" width="1.1" height="1.15" fill="#093c15"/>
<rect x="1" y="246" width="1.1" height="1.15" fill="#0c0c08"/>
<rect x="1" y="247" width="1.1" height="1.15" fill="#0c0c08"/>
<rect x="1" y="248" width="1.1" height="1.15" fill="#0b0b07"/>
<rect x="2" y="246" width="1.1" height="1.15" fill="#2beb50"/>
<rect x="2" y="247" width="1.1" height="1.15" fill="#1b9432"/>
<rect x="2" y="248" width="1.1" height="1.15" fill="#1b9231"/>
<rect x="3" y="246" width="1.1" height="1.15" fill="#29e04c"/>
<rect x="3" y="247" width="1.1" height="1.15" fill="#22b93f"/>
<rect x="3" y="248" width="1.1" height="1.15" fill="#1ea638"/>
<rect x="4" y="246" width="1.1" height="1.15" fill="#14832e"/>
<rect x="4" y="247" width="1.1" height="1.15" fill="#14832e"/>
<rect x="4" y="248" width="1.1" height="1.15" fill="#116e27"/>
<rect x="5" y="246" width="1.1" height="1.15" fill="#2ae54e"/>
<rect x="5" y="247" width="1.1" height="1.15" fill="#22bb40"/>
<rect x="5" y="248" width="1.1" height="1.15" fill="#1ea638"/>
<rect x="6" y="246" width="1.1" height="1.15" fill="#26d147"/>
<rect x="6" y="247" width="1.1" height="1.15" fill="#21b23d"/>
<rect x="6" y="248" width="1.1" height="1.15" fill="#1a8c30"/>
<rect x="7" y="246" width="1.1" height="1.15" fill="#29e04c"/>
<rect x="7" y="247" width="1.1" height="1.15" fill="#23c041"/>
<rect x="7" y="248" width="1.1" height="1.15" fill="#1ea337"/>
<rect x="8" y="246" width="1.1" height="1.15" fill="#28d94a"/>
<rect x="8" y="247" width="1.1" height="1.15" fill="#21b73e"/>
<rect x="8" y="248" width="1.1" height="1.15" fill="#1ea638"/>
<rect x="9" y="246" width="1.1" height="1.15" fill="#0a4619"/>
<rect x="9" y="247" width="1.1" height="1.15" fill="#0b4719"/>
<rect x="9" y="248" width="1.1" height="1.15" fill="#0a4117"/>
<rect x="0" y="249" width="1.1" height="1.15" fill="#0a4418"/>
<rect x="0" y="250" width="1.1" height="1.15" fill="#106724"/>
<rect x="0" y="251" width="1.1" height="1.15" fill="#093b15"/>
<rect x="1" y="249" width="1.1" height="1.15" fill="#080805"/>
<rect x="1" y="250" width="1.1" height="1.15" fill="#0c0c08"/>
<rect x="1" y="251" width="1.1" height="1.15" fill="#060604"/>
<rect x="2" y="249" width="1.1" height="1.15" fill="#126622"/>
<rect x="2" y="250" width="1.1" height="1.15" fill="#1b9432"/>
<rect x="2" y="251" width="1.1" height="1.15" fill="#0e4d1a"/>
<rect x="3" y="249" width="1.1" height="1.15" fill="#0b4b1a"/>
<rect x="3" y="250" width="1.1" height="1.15" fill="#106724"/>
<rect x="3" y="251" width="1.1" height="1.15" fill="#093d15"/>
<rect x="4" y="249" width="1.1" height="1.15" fill="#06280e"/>
<rect x="4" y="250" width="1.1" height="1.15" fill="#093e16"/>
<rect x="4" y="251" width="1.1" height="1.15" fill="#05240c"/>
<rect x="5" y="249" width="1.1" height="1.15" fill="#0b4819"/>
<rect x="5" y="250" width="1.1" height="1.15" fill="#106b26"/>
<rect x="5" y="251" width="1.1" height="1.15" fill="#093f16"/>
<rect x="6" y="249" width="1.1" height="1.15" fill="#0a4318"/>
<rect x="6" y="250" width="1.1" height="1.15" fill="#116f27"/>
<rect x="6" y="251" width="1.1" height="1.15" fill="#083512"/>
<rect x="7" y="249" width="1.1" height="1.15" fill="#126622"/>
<rect x="7" y="250" width="1.1" height="1.15" fill="#1c9a34"/>
<rect x="7" y="251" width="1.1" height="1.15" fill="#10571d"/>
<rect x="8" y="249" width="1.1" height="1.15" fill="#136823"/>
<rect x="8" y="250" width="1.1" height="1.15" fill="#20ae3b"/>
<rect x="8" y="251" width="1.1" height="1.15" fill="#0f511b"/>
<rect x="9" y="249" width="1.1" height="1.15" fill="#157628"/>
<rect x="9" y="250" width="1.1" height="1.15" fill="#1fa739"/>
<rect x="9" y="251" width="1.1" height="1.15" fill="#0e501b"/>
<rect x="0" y="252" width="1.1" height="1.15" fill="#0c511c"/>
<rect x="0" y="253" width="1.1" height="1.15" fill="#158931"/>
<rect x="0" y="254" width="1.1" height="1.15" fill="#0f6122"/>
<rect x="1" y="252" width="1.1" height="1.15" fill="#320506"/>
<rect x="1" y="253" width="1.1" height="1.15" fill="#650a0c"/>
<rect x="1" y="254" width="1.1" height="1.15" fill="#490708"/>
<rect x="2" y="252" width="1.1" height="1.15" fill="#167728"/>
<rect x="2" y="253" width="1.1" height="1.15" fill="#1faa3a"/>
<rect x="2" y="254" width="1.1" height="1.15" fill="#1a8d30"/>
<rect x="3" y="252" width="1.1" height="1.15" fill="#072f11"/>
<rect x="3" y="253" width="1.1" height="1.15" fill="#0b4a1a"/>
<rect x="3" y="254" width="1.1" height="1.15" fill="#083814"/>
<rect x="4" y="252" width="1.1" height="1.15" fill="#0a4518"/>
<rect x="4" y="253" width="1.1" height="1.15" fill="#15862f"/>
<rect x="4" y="254" width="1.1" height="1.15" fill="#0f6524"/>
<rect x="5" y="252" width="1.1" height="1.15" fill="#177c2a"/>
<rect x="5" y="253" width="1.1" height="1.15" fill="#1fa839"/>
<rect x="5" y="254" width="1.1" height="1.15" fill="#21b63e"/>
<rect x="6" y="252" width="1.1" height="1.15" fill="#06270e"/>
<rect x="6" y="253" width="1.1" height="1.15" fill="#0a4117"/>
<rect x="6" y="254" width="1.1" height="1.15" fill="#083713"/>
<rect x="7" y="252" width="1.1" height="1.15" fill="#167728"/>
<rect x="7" y="253" width="1.1" height="1.15" fill="#24c543"/>
<rect x="7" y="254" width="1.1" height="1.15" fill="#1a8d30"/>
<rect x="8" y="252" width="1.1" height="1.15" fill="#157427"/>
<rect x="8" y="253" width="1.1" height="1.15" fill="#26cd46"/>
<rect x="8" y="254" width="1.1" height="1.15" fill="#1c9a34"/>
<rect x="9" y="252" width="1.1" height="1.15" fill="#167a29"/>
<rect x="9" y="253" width="1.1" height="1.15" fill="#23c142"/>
<rect x="9" y="254" width="1.1" height="1.15" fill="#1b9533"/>
<rect x="0" y="255" width="1.1" height="1.15" fill="#14812e"/>
<rect x="0" y="256" width="1.1" height="1.15" fill="#12752a"/>
<rect x="0" y="257" width="1.1" height="1.15" fill="#116c26"/>
<rect x="1" y="255" width="1.1" height="1.15" fill="#0e0e0a"/>
<rect x="1" y="256" width="1.1" height="1.15" fill="#0d0d09"/>
<rect x="1" y="257" width="1.1" height="1.15" fill="#090906"/>
<rect x="2" y="255" width="1.1" height="1.15" fill="#20b13c"/>
<rect x="2" y="256" width="1.1" height="1.15" fill="#20b03c"/>
<rect x="2" y="257" width="1.1" height="1.15" fill="#177c2a"/>
<rect x="3" y="255" width="1.1" height="1.15" fill="#2be94f"/>
<rect x="3" y="256" width="1.1" height="1.15" fill="#28dc4b"/>
<rect x="3" y="257" width="1.1" height="1.15" fill="#198b2f"/>
<rect x="4" y="255" width="1.1" height="1.15" fill="#28d849"/>
<rect x="4" y="256" width="1.1" height="1.15" fill="#25c844"/>
<rect x="4" y="257" width="1.1" height="1.15" fill="#1ea337"/>
<rect x="5" y="255" width="1.1" height="1.15" fill="#2cee51"/>
<rect x="5" y="256" width="1.1" height="1.15" fill="#20ad3b"/>
<rect x="5" y="257" width="1.1" height="1.15" fill="#1ea137"/>
<rect x="6" y="255" width="1.1" height="1.15" fill="#28d749"/>
<rect x="6" y="256" width="1.1" height="1.15" fill="#22ba3f"/>
<rect x="6" y="257" width="1.1" height="1.15" fill="#1c9b35"/>
<rect x="7" y="255" width="1.1" height="1.15" fill="#21b33d"/>
<rect x="7" y="256" width="1.1" height="1.15" fill="#27d548"/>
<rect x="7" y="257" width="1.1" height="1.15" fill="#1d9f36"/>
<rect x="8" y="255" width="1.1" height="1.15" fill="#21b63e"/>
<rect x="8" y="256" width="1.1" height="1.15" fill="#21b53d"/>
<rect x="8" y="257" width="1.1" height="1.15" fill="#1ea438"/>
<rect x="9" y="255" width="1.1" height="1.15" fill="#2bec50"/>
<rect x="9" y="256" width="1.1" height="1.15" fill="#25c944"/>
<rect x="9" y="257" width="1.1" height="1.15" fill="#1ea237"/>
<rect x="0" y="258" width="1.1" height="1.15" fill="#073111"/>
<rect x="0" y="259" width="1.1" height="1.15" fill="#0d571f"/>
<rect x="0" y="260" width="1.1" height="1.15" fill="#137b2c"/>
<rect x="1" y="258" width="1.1" height="1.15" fill="#050504"/>
<rect x="1" y="259" width="1.1" height="1.15" fill="#0a0a07"/>
<rect x="1" y="260" width="1.1" height="1.15" fill="#0d0d09"/>
<rect x="2" y="258" width="1.1" height="1.15" fill="#115c1f"/>
<rect x="2" y="259" width="1.1" height="1.15" fill="#157528"/>
<rect x="2" y="260" width="1.1" height="1.15" fill="#24c543"/>
<rect x="3" y="258" width="1.1" height="1.15" fill="#116020"/>
<rect x="3" y="259" width="1.1" height="1.15" fill="#1c9934"/>
<rect x="3" y="260" width="1.1" height="1.15" fill="#22bb3f"/>
<rect x="4" y="258" width="1.1" height="1.15" fill="#0e4b19"/>
<rect x="4" y="259" width="1.1" height="1.15" fill="#177d2a"/>
<rect x="4" y="260" width="1.1" height="1.15" fill="#2ae54e"/>
<rect x="5" y="258" width="1.1" height="1.15" fill="#0d4a19"/>
<rect x="5" y="259" width="1.1" height="1.15" fill="#177d2a"/>
<rect x="5" y="260" width="1.1" height="1.15" fill="#23bf41"/>
<rect x="6" y="258" width="1.1" height="1.15" fill="#0f531c"/>
<rect x="6" y="259" width="1.1" height="1.15" fill="#1b9232"/>
<rect x="6" y="260" width="1.1" height="1.15" fill="#25cb45"/>
<rect x="7" y="258" width="1.1" height="1.15" fill="#093e16"/>
<rect x="7" y="259" width="1.1" height="1.15" fill="#0e5b20"/>
<rect x="7" y="260" width="1.1" height="1.15" fill="#179736"/>
<rect x="8" y="258" width="1.1" height="1.15" fill="#0e501b"/>
<rect x="8" y="259" width="1.1" height="1.15" fill="#198b2f"/>
<rect x="8" y="260" width="1.1" height="1.15" fill="#24c242"/>
<rect x="9" y="258" width="1.1" height="1.15" fill="#0f521c"/>
<rect x="9" y="259" width="1.1" height="1.15" fill="#167a29"/>
<rect x="9" y="260" width="1.1" height="1.15" fill="#29e04c"/>
<rect x="0" y="261" width="1.1" height="1.15" fill="#062a0f"/>
<rect x="0" y="262" width="1.1" height="1.15" fill="#0e5c21"/>
<rect x="0" y="263" width="1.1" height="1.15" fill="#0b4819"/>
<rect x="1" y="261" width="1.1" height="1.15" fill="#3e0607"/>
<rect x="1" y="262" width="1.1" height="1.15" fill="#62090b"/>
<rect x="1" y="263" width="1.1" height="1.15" fill="#5c090b"/>
<rect x="2" y="261" width="1.1" height="1.15" fill="#157528"/>
<rect x="2" y="262" width="1.1" height="1.15" fill="#2df252"/>
<rect x="2" y="263" width="1.1" height="1.15" fill="#23bf41"/>
<rect x="3" y="261" width="1.1" height="1.15" fill="#146d25"/>
<rect x="3" y="262" width="1.1" height="1.15" fill="#26ce46"/>
<rect x="3" y="263" width="1.1" height="1.15" fill="#24c543"/>
<rect x="4" y="261" width="1.1" height="1.15" fill="#19882e"/>
<rect x="4" y="262" width="1.1" height="1.15" fill="#24c743"/>
<rect x="4" y="263" width="1.1" height="1.15" fill="#1fa839"/>
<rect x="5" y="261" width="1.1" height="1.15" fill="#1a8c2f"/>
<rect x="5" y="262" width="1.1" height="1.15" fill="#22b83f"/>
<rect x="5" y="263" width="1.1" height="1.15" fill="#1c9a34"/>
<rect x="6" y="261" width="1.1" height="1.15" fill="#18852d"/>
<rect x="6" y="262" width="1.1" height="1.15" fill="#26d147"/>
<rect x="6" y="263" width="1.1" height="1.15" fill="#21b33d"/>
<rect x="7" y="261" width="1.1" height="1.15" fill="#167a29"/>
<rect x="7" y="262" width="1.1" height="1.15" fill="#28d849"/>
<rect x="7" y="263" width="1.1" height="1.15" fill="#21b43d"/>
<rect x="8" y="261" width="1.1" height="1.15" fill="#18862d"/>
<rect x="8" y="262" width="1.1" height="1.15" fill="#23bf41"/>
<rect x="8" y="263" width="1.1" height="1.15" fill="#20b03c"/>
<rect x="9" y="261" width="1.1" height="1.15" fill="#1a8f30"/>
<rect x="9" y="262" width="1.1" height="1.15" fill="#2df654"/>
<rect x="9" y="263" width="1.1" height="1.15" fill="#1b9633"/>
<rect x="0" y="264" width="1.1" height="1.15" fill="#083513"/>
<rect x="0" y="265" width="1.1" height="1.15" fill="#062b0f"/>
<rect x="0" y="266" width="1.1" height="1.15" fill="#0c521d"/>
<rect x="1" y="264" width="1.1" height="1.15" fill="#0b0b08"/>
<rect x="1" y="265" width="1.1" height="1.15" fill="#060604"/>
<rect x="1" y="266" width="1.1" height="1.15" fill="#0f0f0b"/>
<rect x="2" y="264" width="1.1" height="1.15" fill="#093b15"/>
<rect x="2" y="265" width="1.1" height="1.15" fill="#05260d"/>
<rect x="2" y="266" width="1.1" height="1.15" fill="#0c4f1c"/>
<rect x="3" y="264" width="1.1" height="1.15" fill="#1ea739"/>
<rect x="3" y="265" width="1.1" height="1.15" fill="#105a1e"/>
<rect x="3" y="266" width="1.1" height="1.15" fill="#2df654"/>
<rect x="4" y="264" width="1.1" height="1.15" fill="#1faa3a"/>
<rect x="4" y="265" width="1.1" height="1.15" fill="#147026"/>
<rect x="4" y="266" width="1.1" height="1.15" fill="#2be94f"/>
<rect x="5" y="264" width="1.1" height="1.15" fill="#1b9432"/>
<rect x="5" y="265" width="1.1" height="1.15" fill="#126522"/>
<rect x="5" y="266" width="1.1" height="1.15" fill="#26ce46"/>
<rect x="6" y="264" width="1.1" height="1.15" fill="#1a8d30"/>
<rect x="6" y="265" width="1.1" height="1.15" fill="#136723"/>
<rect x="6" y="266" width="1.1" height="1.15" fill="#23c242"/>
<rect x="7" y="264" width="1.1" height="1.15" fill="#0d581f"/>
<rect x="7" y="265" width="1.1" height="1.15" fill="#0b491a"/>
<rect x="7" y="266" width="1.1" height="1.15" fill="#1bae3e"/>
<rect x="8" y="264" width="1.1" height="1.15" fill="#1ea137"/>
<rect x="8" y="265" width="1.1" height="1.15" fill="#10591e"/>
<rect x="8" y="266" width="1.1" height="1.15" fill="#24c543"/>
<rect x="9" y="264" width="1.1" height="1.15" fill="#18842d"/>
<rect x="9" y="265" width="1.1" height="1.15" fill="#136924"/>
<rect x="9" y="266" width="1.1" height="1.15" fill="#2cf052"/>
<rect x="0" y="267" width="1.1" height="1.15" fill="#106925"/>
<rect x="0" y="268" width="1.1" height="1.15" fill="#073011"/>
<rect x="0" y="269" width="1.1" height="1.15" fill="#19a33a"/>
<rect x="1" y="267" width="1.1" height="1.15" fill="#0a0a07"/>
<rect x="1" y="268" width="1.1" height="1.15" fill="#050503"/>
<rect x="1" y="269" width="1.1" height="1.15" fill="#0f0f0a"/>
<rect x="2" y="267" width="1.1" height="1.15" fill="#0c521d"/>
<rect x="2" y="268" width="1.1" height="1.15" fill="#083312"/>
<rect x="2" y="269" width="1.1" height="1.15" fill="#158630"/>
<rect x="3" y="267" width="1.1" height="1.15" fill="#093d15"/>
<rect x="3" y="268" width="1.1" height="1.15" fill="#04200b"/>
<rect x="3" y="269" width="1.1" height="1.15" fill="#0b4c1b"/>
<rect x="4" y="267" width="1.1" height="1.15" fill="#106825"/>
<rect x="4" y="268" width="1.1" height="1.15" fill="#073011"/>
<rect x="4" y="269" width="1.1" height="1.15" fill="#14802d"/>
<rect x="5" y="267" width="1.1" height="1.15" fill="#0e5e21"/>
<rect x="5" y="268" width="1.1" height="1.15" fill="#093b15"/>
<rect x="5" y="269" width="1.1" height="1.15" fill="#1aa63b"/>
<rect x="6" y="267" width="1.1" height="1.15" fill="#073212"/>
<rect x="6" y="268" width="1.1" height="1.15" fill="#041c0a"/>
<rect x="6" y="269" width="1.1" height="1.15" fill="#0c501d"/>
<rect x="7" y="267" width="1.1" height="1.15" fill="#083412"/>
<rect x="7" y="268" width="1.1" height="1.15" fill="#041f0b"/>
<rect x="7" y="269" width="1.1" height="1.15" fill="#0c511d"/>
<rect x="8" y="267" width="1.1" height="1.15" fill="#18832c"/>
<rect x="8" y="268" width="1.1" height="1.15" fill="#0d4a19"/>
<rect x="8" y="269" width="1.1" height="1.15" fill="#28dc4b"/>
<rect x="9" y="267" width="1.1" height="1.15" fill="#0d541e"/>
<rect x="9" y="268" width="1.1" height="1.15" fill="#073011"/>
<rect x="9" y="269" width="1.1" height="1.15" fill="#15862f"/>
<rect x="0" y="270" width="1.1" height="1.15" fill="#06280e"/>
<rect x="0" y="271" width="1.1" height="1.15" fill="#041b0a"/>
<rect x="0" y="272" width="1.1" height="1.15" fill="#0a4117"/>
<rect x="1" y="270" width="1.1" height="1.15" fill="#2e0405"/>
<rect x="1" y="271" width="1.1" height="1.15" fill="#260304"/>
<rect x="1" y="272" width="1.1" height="1.15" fill="#4d0709"/>
<rect x="2" y="270" width="1.1" height="1.15" fill="#070705"/>
<rect x="2" y="271" width="1.1" height="1.15" fill="#060604"/>
<rect x="2" y="272" width="1.1" height="1.15" fill="#090906"/>
<rect x="3" y="270" width="1.1" height="1.15" fill="#10591e"/>
<rect x="3" y="271" width="1.1" height="1.15" fill="#0c4417"/>
<rect x="3" y="272" width="1.1" height="1.15" fill="#18862d"/>
<rect x="4" y="270" width="1.1" height="1.15" fill="#126221"/>
<rect x="4" y="271" width="1.1" height="1.15" fill="#0e4f1b"/>
<rect x="4" y="272" width="1.1" height="1.15" fill="#1ea538"/>
<rect x="5" y="270" width="1.1" height="1.15" fill="#147126"/>
<rect x="5" y="271" width="1.1" height="1.15" fill="#0e501b"/>
<rect x="5" y="272" width="1.1" height="1.15" fill="#1c9a34"/>
<rect x="6" y="270" width="1.1" height="1.15" fill="#126422"/>
<rect x="6" y="271" width="1.1" height="1.15" fill="#0d4718"/>
<rect x="6" y="272" width="1.1" height="1.15" fill="#198b2f"/>
<rect x="7" y="270" width="1.1" height="1.15" fill="#126121"/>
<rect x="7" y="271" width="1.1" height="1.15" fill="#0c4517"/>
<rect x="7" y="272" width="1.1" height="1.15" fill="#1d9e36"/>
<rect x="8" y="270" width="1.1" height="1.15" fill="#0a4016"/>
<rect x="8" y="271" width="1.1" height="1.15" fill="#093c15"/>
<rect x="8" y="272" width="1.1" height="1.15" fill="#0f6323"/>
<rect x="9" y="270" width="1.1" height="1.15" fill="#06290f"/>
<rect x="9" y="271" width="1.1" height="1.15" fill="#041b09"/>
<rect x="9" y="272" width="1.1" height="1.15" fill="#083513"/>
<rect x="0" y="273" width="1.1" height="1.15" fill="#080806"/>
<rect x="0" y="274" width="1.1" height="1.15" fill="#090906"/>
<rect x="0" y="275" width="1.1" height="1.15" fill="#0d0d09"/>
<rect x="1" y="273" width="1.1" height="1.15" fill="#0a0a07"/>
<rect x="1" y="274" width="1.1" height="1.15" fill="#090906"/>
<rect x="1" y="275" width="1.1" height="1.15" fill="#11110c"/>
<rect x="2" y="273" width="1.1" height="1.15" fill="#072f11"/>
<rect x="2" y="274" width="1.1" height="1.15" fill="#0a4117"/>
<rect x="2" y="275" width="1.1" height="1.15" fill="#0c501c"/>
<rect x="3" y="273" width="1.1" height="1.15" fill="#1c9c35"/>
<rect x="3" y="274" width="1.1" height="1.15" fill="#1c9833"/>
<rect x="3" y="275" width="1.1" height="1.15" fill="#27d348"/>
<rect x="4" y="273" width="1.1" height="1.15" fill="#157628"/>
<rect x="4" y="274" width="1.1" height="1.15" fill="#1b9533"/>
<rect x="4" y="275" width="1.1" height="1.15" fill="#28d94a"/>
<rect x="5" y="273" width="1.1" height="1.15" fill="#1d9d35"/>
<rect x="5" y="274" width="1.1" height="1.15" fill="#1c9a34"/>
<rect x="5" y="275" width="1.1" height="1.15" fill="#2df353"/>
<rect x="6" y="273" width="1.1" height="1.15" fill="#19882e"/>
<rect x="6" y="274" width="1.1" height="1.15" fill="#1d9f36"/>
<rect x="6" y="275" width="1.1" height="1.15" fill="#2ae34d"/>
<rect x="7" y="273" width="1.1" height="1.15" fill="#167b2a"/>
<rect x="7" y="274" width="1.1" height="1.15" fill="#1d9e36"/>
<rect x="7" y="275" width="1.1" height="1.15" fill="#2bea50"/>
<rect x="8" y="273" width="1.1" height="1.15" fill="#19872e"/>
<rect x="8" y="274" width="1.1" height="1.15" fill="#198b2f"/>
<rect x="8" y="275" width="1.1" height="1.15" fill="#24c643"/>
<rect x="9" y="273" width="1.1" height="1.15" fill="#0e5c21"/>
<rect x="9" y="274" width="1.1" height="1.15" fill="#12772a"/>
<rect x="9" y="275" width="1.1" height="1.15" fill="#179535"/>
<rect x="0" y="276" width="1.1" height="1.15" fill="#072d10"/>
<rect x="0" y="277" width="1.1" height="1.15" fill="#073111"/>
<rect x="0" y="278" width="1.1" height="1.15" fill="#0a4619"/>
<rect x="1" y="276" width="1.1" height="1.15" fill="#060604"/>
<rect x="1" y="277" width="1.1" height="1.15" fill="#090906"/>
<rect x="1" y="278" width="1.1" height="1.15" fill="#0c0c08"/>
<rect x="2" y="276" width="1.1" height="1.15" fill="#0a4317"/>
<rect x="2" y="277" width="1.1" height="1.15" fill="#0d581f"/>
<rect x="2" y="278" width="1.1" height="1.15" fill="#158a31"/>
<rect x="3" y="276" width="1.1" height="1.15" fill="#0a4318"/>
<rect x="3" y="277" width="1.1" height="1.15" fill="#106b26"/>
<rect x="3" y="278" width="1.1" height="1.15" fill="#117128"/>
<rect x="4" y="276" width="1.1" height="1.15" fill="#126121"/>
<rect x="4" y="277" width="1.1" height="1.15" fill="#18842d"/>
<rect x="4" y="278" width="1.1" height="1.15" fill="#25cb45"/>
<rect x="5" y="276" width="1.1" height="1.15" fill="#115f20"/>
<rect x="5" y="277" width="1.1" height="1.15" fill="#18852d"/>
<rect x="5" y="278" width="1.1" height="1.15" fill="#23c041"/>
<rect x="6" y="276" width="1.1" height="1.15" fill="#06280e"/>
<rect x="6" y="277" width="1.1" height="1.15" fill="#093e16"/>
<rect x="6" y="278" width="1.1" height="1.15" fill="#0a4217"/>
<rect x="7" y="276" width="1.1" height="1.15" fill="#05230c"/>
<rect x="7" y="277" width="1.1" height="1.15" fill="#093b15"/>
<rect x="7" y="278" width="1.1" height="1.15" fill="#0a4418"/>
<rect x="8" y="276" width="1.1" height="1.15" fill="#821115"/>
<rect x="8" y="277" width="1.1" height="1.15" fill="#9e1419"/>
<rect x="8" y="278" width="1.1" height="1.15" fill="#fb2029"/>
<rect x="9" y="276" width="1.1" height="1.15" fill="#8c1216"/>
<rect x="9" y="277" width="1.1" height="1.15" fill="#a1151a"/>
<rect x="9" y="278" width="1.1" height="1.15" fill="#d51b22"/>
<rect x="0" y="279" width="1.1" height="1.15" fill="#060604"/>
<rect x="0" y="280" width="1.1" height="1.15" fill="#0d0d09"/>
<rect x="0" y="281" width="1.1" height="1.15" fill="#060604"/>
<rect x="1" y="279" width="1.1" height="1.15" fill="#05230c"/>
<rect x="1" y="280" width="1.1" height="1.15" fill="#0c4e1c"/>
<rect x="1" y="281" width="1.1" height="1.15" fill="#05230c"/>
<rect x="2" y="279" width="1.1" height="1.15" fill="#05240d"/>
<rect x="2" y="280" width="1.1" height="1.15" fill="#0b4d1b"/>
<rect x="2" y="281" width="1.1" height="1.15" fill="#06280e"/>
<rect x="3" y="279" width="1.1" height="1.15" fill="#10571d"/>
<rect x="3" y="280" width="1.1" height="1.15" fill="#29e14d"/>
<rect x="3" y="281" width="1.1" height="1.15" fill="#136823"/>
<rect x="4" y="279" width="1.1" height="1.15" fill="#093a14"/>
<rect x="4" y="280" width="1.1" height="1.15" fill="#14802d"/>
<rect x="4" y="281" width="1.1" height="1.15" fill="#093a14"/>
<rect x="5" y="279" width="1.1" height="1.15" fill="#0e4f1b"/>
<rect x="5" y="280" width="1.1" height="1.15" fill="#23c242"/>
<rect x="5" y="281" width="1.1" height="1.15" fill="#136723"/>
<rect x="6" y="279" width="1.1" height="1.15" fill="#0a4017"/>
<rect x="6" y="280" width="1.1" height="1.15" fill="#158830"/>
<rect x="6" y="281" width="1.1" height="1.15" fill="#093c15"/>
<rect x="7" y="279" width="1.1" height="1.15" fill="#050504"/>
<rect x="7" y="280" width="1.1" height="1.15" fill="#0d0d09"/>
<rect x="7" y="281" width="1.1" height="1.15" fill="#050504"/>
<rect x="8" y="279" width="1.1" height="1.15" fill="#5c0c0f"/>
<rect x="8" y="280" width="1.1" height="1.15" fill="#ff2630"/>
<rect x="8" y="281" width="1.1" height="1.15" fill="#6c0e11"/>
<rect x="9" y="279" width="1.1" height="1.15" fill="#05220c"/>
<rect x="9" y="280" width="1.1" height="1.15" fill="#0e5c21"/>
<rect x="9" y="281" width="1.1" height="1.15" fill="#05230c"/>
</g>
</g>
<defs><linearGradient id="dg" x1="0" x2="1" y1="0" y2="0"><stop offset="0" stop-color="#f0f0f0"/><stop offset="0.45" stop-color="#dcdcdc"/><stop offset="1" stop-color="#c8c8c8"/></linearGradient></defs>
<rect x="30" y="47.6" width="13.7" height="375.4" fill="url(#dg)"/>
<path d="M37.6 47.6V60.6M36.3 51.5V74.8M37.9 58.5V72.7M36.9 62.7V69.8M40.7 64.9V81.7M34.1 69.9V75.0M40.9 71.4V76.4M30.6 72.9V91.2M43.0 78.4V103.0M38.3 85.8V103.2M30.2 91.0V97.5M30.8 92.9V107.6M33.3 97.3V104.5M36.3 99.5V103.2M41.4 100.6V113.3M38.6 104.4V118.8M38.9 108.7V122.7M33.8 112.9V126.0M43.4 116.8V141.8M39.6 124.3V145.8M33.1 130.8V140.7M30.9 133.8V143.1M35.4 136.6V156.4M35.2 142.5V164.1M41.4 149.0V173.1M32.8 156.2V159.2M36.3 157.1V180.2M35.4 164.0V188.6M38.5 171.4V176.0M33.6 172.8V192.9M34.5 178.8V183.7M40.2 180.3V204.5M33.3 187.6V193.2M30.8 189.2V194.5M32.4 190.8V211.3M36.0 197.0V212.3M39.9 201.6V208.8M38.7 203.7V209.6M35.7 205.5V211.0M33.6 207.2V214.8M40.8 209.5V233.8M41.9 216.8V226.5M35.3 219.7V227.3M38.7 222.0V243.8M43.4 228.5V233.7M33.5 230.1V237.8M34.4 232.4V252.4M31.0 238.4V247.9M37.9 241.2V246.2M38.1 242.7V251.1M36.1 245.2V256.4M36.5 248.6V272.7M41.7 255.8V271.5M32.1 260.5V267.5M41.0 262.6V285.6M32.6 269.5V278.0M42.7 272.1V291.3M42.8 277.8V285.2M38.1 280.0V302.4M31.4 286.8V299.0M43.0 290.4V294.3M39.5 291.6V299.8M41.1 294.1V302.7M34.0 296.7V312.8M39.7 301.5V308.4M33.1 303.6V308.1M41.5 304.9V320.2M33.8 309.5V326.0M32.8 314.5V337.6M33.6 321.4V324.8M30.8 322.4V335.2M35.0 326.3V333.1M31.8 328.3V343.9M42.0 333.0V344.0M38.9 336.3V360.9M37.9 343.7V361.9M30.5 349.1V355.2M42.3 350.9V354.3M43.0 352.0V370.4M38.6 357.5V361.0M39.9 358.5V372.1M43.5 362.6V372.6M37.4 365.6V370.3M42.2 367.0V386.2M39.5 372.8V392.0M42.4 378.5V399.0M39.2 384.7V395.4M41.8 387.9V410.7M40.7 394.8V406.9M37.7 398.4V420.4M35.2 405.0V421.8M38.2 410.0V423.0M38.6 414.8V419.5M41.9 416.2V423.0" stroke="#a4a4a4" stroke-width="0.7" fill="none" opacity="0.75"/>
<path d="M35.8 47.6H43.7M35.9 51.5H43.7M33.5 56.4H43.7M30.7 62.6H43.7M30.2 68.4H43.7M33.8 73.4H43.7M35.6 76.5H43.7M34.9 81.0H43.7M32.0 87.6H43.7M32.4 89.7H43.7M31.6 95.1H43.7M37.2 97.9H43.7M33.5 103.2H43.7M32.6 109.7H43.7M31.6 115.0H43.7M36.4 119.2H43.7M37.0 125.7H43.7M34.7 129.7H43.7M31.1 133.2H43.7M36.7 137.7H43.7M35.7 144.0H43.7M32.2 150.7H43.7M33.6 153.6H43.7M31.7 156.9H43.7M35.0 161.0H43.7M32.5 165.5H43.7M37.9 171.7H43.7M30.6 175.9H43.7M37.0 178.1H43.7M35.7 180.3H43.7M32.5 185.2H43.7M30.2 191.1H43.7M33.6 193.8H43.7M36.6 195.9H43.7M31.1 199.1H43.7M35.0 201.3H43.7M35.0 205.6H43.7M36.5 210.9H43.7M35.5 217.6H43.7M33.8 220.6H43.7M30.1 223.5H43.7M35.7 227.9H43.7M32.2 230.8H43.7M35.6 234.5H43.7M34.9 239.1H43.7M33.1 244.9H43.7M37.2 250.9H43.7M37.5 253.3H43.7M31.0 258.9H43.7M35.0 263.2H43.7M33.0 269.7H43.7M37.0 274.6H43.7M37.6 280.6H43.7M35.2 284.9H43.7M35.8 287.9H43.7M35.1 294.0H43.7M31.7 299.6H43.7M37.8 306.1H43.7M34.3 313.0H43.7M32.6 318.9H43.7M36.8 325.5H43.7M30.7 329.2H43.7M34.4 333.4H43.7M33.9 339.3H43.7M36.5 341.4H43.7M36.4 343.7H43.7M32.7 346.6H43.7M31.1 352.5H43.7M34.1 355.3H43.7M36.7 360.9H43.7M37.6 366.3H43.7M37.6 370.8H43.7M31.8 373.2H43.7M32.3 377.9H43.7M35.1 383.5H43.7M36.7 388.1H43.7M32.5 392.9H43.7M36.8 396.8H43.7M31.7 403.3H43.7M37.7 409.6H43.7M34.6 414.2H43.7M34.3 417.2H43.7M34.8 421.7H43.7" stroke="#bcbcbc" stroke-width="0.5" fill="none" opacity="0.7"/>
<path d="M6.4 48V165M6.4 48H30M6.4 165H30M12.2 50.7V225M12.2 50.7H30M12.2 225H30M15 52V130M15 52H30M15 130H30M27.7 75V135M27.7 75H30M27.7 135H30M2.1 150V340M2.1 150H30M2.1 340H30M9.6 150V225M9.6 150H30M9.6 225H30M23.5 130V225M23.5 130H30M23.5 225H30M26.7 160V225M26.7 160H30M26.7 225H30M1.0 220V315M1.0 220H30M1.0 315H30M4.3 280V400M4.3 280H30M4.3 400H30M9.6 235V300M9.6 235H30M9.6 300H30M21.3 245V310M21.3 245H30M21.3 310H30M23.5 225V310M23.5 225H30M23.5 310H30M12.9 360V420M12.9 360H30M12.9 420H30M16.8 320V420M16.8 320H30M16.8 420H30M24.5 340V420M24.5 340H30M24.5 420H30M5.2 320V400M5.2 320H30M5.2 400H30M19.5 90V140M19.5 90H30M19.5 140H30M18.0 180V260M18.0 180H30M18.0 260H30M28.5 290V330M28.5 290H30M28.5 330H30M27.0 370V410M27.0 370H30M27.0 410H30M20.5 330V380M20.5 330H30M20.5 380H30M6.4 48H43.7M12.2 50.7H43M20 56H32M0 107H10M25 162H43M10 215H30M9.6 270H23M0 281H10M0 337H5M5 395H13" stroke="#cdcdcd" stroke-width="0.8" fill="none"/>
<rect x="146.00" y="416.1" width="3.35" height="9.20" fill="rgb(0, 230, 0)"/>
<rect x="149.05" y="416.1" width="3.35" height="9.20" fill="rgb(0, 212, 0)"/>
<rect x="152.11" y="416.1" width="3.35" height="9.20" fill="rgb(0, 194, 0)"/>
<rect x="155.16" y="416.1" width="3.35" height="9.20" fill="rgb(0, 175, 0)"/>
<rect x="158.22" y="416.1" width="3.35" height="9.20" fill="rgb(0, 157, 0)"/>
<rect x="161.27" y="416.1" width="3.35" height="9.20" fill="rgb(0, 138, 0)"/>
<rect x="164.32" y="416.1" width="3.35" height="9.20" fill="rgb(0, 118, 0)"/>
<rect x="167.38" y="416.1" width="3.35" height="9.20" fill="rgb(0, 99, 0)"/>
<rect x="170.43" y="416.1" width="3.35" height="9.20" fill="rgb(0, 79, 0)"/>
<rect x="173.49" y="416.1" width="3.35" height="9.20" fill="rgb(0, 58, 0)"/>
<rect x="176.54" y="416.1" width="3.35" height="9.20" fill="rgb(0, 36, 0)"/>
<rect x="179.60" y="416.1" width="3.35" height="9.20" fill="rgb(0, 13, 0)"/>
<rect x="182.65" y="416.1" width="3.35" height="9.20" fill="rgb(14, 0, 0)"/>
<rect x="185.70" y="416.1" width="3.35" height="9.20" fill="rgb(39, 0, 0)"/>
<rect x="188.76" y="416.1" width="3.35" height="9.20" fill="rgb(62, 0, 0)"/>
<rect x="191.81" y="416.1" width="3.35" height="9.20" fill="rgb(84, 0, 0)"/>
<rect x="194.87" y="416.1" width="3.35" height="9.20" fill="rgb(105, 0, 0)"/>
<rect x="197.92" y="416.1" width="3.35" height="9.20" fill="rgb(126, 0, 0)"/>
<rect x="200.98" y="416.1" width="3.35" height="9.20" fill="rgb(146, 0, 0)"/>
<rect x="204.03" y="416.1" width="3.35" height="9.20" fill="rgb(167, 0, 0)"/>
<rect x="207.08" y="416.1" width="3.35" height="9.20" fill="rgb(186, 0, 0)"/>
<rect x="210.14" y="416.1" width="3.35" height="9.20" fill="rgb(206, 0, 0)"/>
<rect x="213.19" y="416.1" width="3.35" height="9.20" fill="rgb(226, 0, 0)"/>
<rect x="216.25" y="416.1" width="3.35" height="9.20" fill="rgb(245, 0, 0)"/>
<path d="M250.10 23.5V143.25" stroke="#000" stroke-width="1.9" fill="none"/>
<path d="M246.00 143.25H250.1" stroke="#000" stroke-width="1.5"/>
<text x="244.80" y="146.55" text-anchor="end" font-family="Liberation Sans" font-weight="bold" font-size="9.2">0</text>
<path d="M246.00 123.42H250.1" stroke="#000" stroke-width="1.5"/>
<text x="244.80" y="126.72" text-anchor="end" font-family="Liberation Sans" font-weight="bold" font-size="9.2">3</text>
<path d="M246.00 103.60H250.1" stroke="#000" stroke-width="1.5"/>
<text x="244.80" y="106.90" text-anchor="end" font-family="Liberation Sans" font-weight="bold" font-size="9.2">6</text>
<path d="M246.00 83.78H250.1" stroke="#000" stroke-width="1.5"/>
<text x="244.80" y="87.08" text-anchor="end" font-family="Liberation Sans" font-weight="bold" font-size="9.2">9</text>
<path d="M246.00 63.95H250.1" stroke="#000" stroke-width="1.5"/>
<text x="244.80" y="67.25" text-anchor="end" font-family="Liberation Sans" font-weight="bold" font-size="9.2">12</text>
<path d="M246.00 44.12H250.1" stroke="#000" stroke-width="1.5"/>
<text x="244.80" y="47.42" text-anchor="end" font-family="Liberation Sans" font-weight="bold" font-size="9.2">15</text>
<path d="M246.00 24.30H250.1" stroke="#000" stroke-width="1.5"/>
<text x="244.80" y="27.60" text-anchor="end" font-family="Liberation Sans" font-weight="bold" font-size="9.2">18</text>
<path d="M246.00 143.25H517" stroke="#000" stroke-width="1.6"/>
<path d="M249.60 150.6V270.5" stroke="#000" stroke-width="1.9" fill="none"/>
<path d="M245.50 270.50H249.6" stroke="#000" stroke-width="1.5"/>
<text x="244.30" y="273.80" text-anchor="end" font-family="Liberation Sans" font-weight="bold" font-size="9.2">0</text>
<path d="M245.50 247.72H249.6" stroke="#000" stroke-width="1.5"/>
<text x="244.30" y="251.02" text-anchor="end" font-family="Liberation Sans" font-weight="bold" font-size="9.2">12</text>
<path d="M245.50 224.94H249.6" stroke="#000" stroke-width="1.5"/>
<text x="244.30" y="228.24" text-anchor="end" font-family="Liberation Sans" font-weight="bold" font-size="9.2">24</text>
<path d="M245.50 202.16H249.6" stroke="#000" stroke-width="1.5"/>
<text x="244.30" y="205.46" text-anchor="end" font-family="Liberation Sans" font-weight="bold" font-size="9.2">36</text>
<path d="M245.50 179.38H249.6" stroke="#000" stroke-width="1.5"/>
<text x="244.30" y="182.68" text-anchor="end" font-family="Liberation Sans" font-weight="bold" font-size="9.2">48</text>
<path d="M245.50 156.60H249.6" stroke="#000" stroke-width="1.5"/>
<text x="244.30" y="159.90" text-anchor="end" font-family="Liberation Sans" font-weight="bold" font-size="9.2">60</text>
<path d="M245.50 270.5H512" stroke="#000" stroke-width="1.6"/>
<path d="M248.80 281.0V400.6" stroke="#000" stroke-width="1.9" fill="none"/>
<path d="M244.70 400.60H248.79999999999998" stroke="#000" stroke-width="1.5"/>
<text x="243.50" y="403.90" text-anchor="end" font-family="Liberation Sans" font-weight="bold" font-size="9.2">0</text>
<path d="M244.70 376.74H248.79999999999998" stroke="#000" stroke-width="1.5"/>
<text x="243.50" y="380.04" text-anchor="end" font-family="Liberation Sans" font-weight="bold" font-size="9.2">3</text>
<path d="M244.70 352.88H248.79999999999998" stroke="#000" stroke-width="1.5"/>
<text x="243.50" y="356.18" text-anchor="end" font-family="Liberation Sans" font-weight="bold" font-size="9.2">6</text>
<path d="M244.70 329.02H248.79999999999998" stroke="#000" stroke-width="1.5"/>
<text x="243.50" y="332.32" text-anchor="end" font-family="Liberation Sans" font-weight="bold" font-size="9.2">9</text>
<path d="M244.70 305.16H248.79999999999998" stroke="#000" stroke-width="1.5"/>
<text x="243.50" y="308.46" text-anchor="end" font-family="Liberation Sans" font-weight="bold" font-size="9.2">12</text>
<path d="M244.70 281.30H248.79999999999998" stroke="#000" stroke-width="1.5"/>
<text x="243.50" y="284.60" text-anchor="end" font-family="Liberation Sans" font-weight="bold" font-size="9.2">15</text>
<path d="M244.70 400.6H514" stroke="#000" stroke-width="1.6"/>
<path d="M341.20 19.5V143.25" stroke="#111" stroke-width="1.0" stroke-dasharray="1.6 1.0" fill="none"/>
<path d="M340.70 143.25V270.5" stroke="#111" stroke-width="1.0" stroke-dasharray="1.6 1.0" fill="none"/>
<path d="M340.30 270.5V400.6" stroke="#111" stroke-width="1.0" stroke-dasharray="1.6 1.0" fill="none"/>
<path d="M430.90 19.5V143.25" stroke="#111" stroke-width="1.0" stroke-dasharray="1.6 1.0" fill="none"/>
<path d="M430.40 143.25V270.5" stroke="#111" stroke-width="1.0" stroke-dasharray="1.6 1.0" fill="none"/>
<path d="M430.00 270.5V400.6" stroke="#111" stroke-width="1.0" stroke-dasharray="1.6 1.0" fill="none"/>
<path d="M262.60 137.00V136.00" stroke="#7a7a7a" stroke-width="1.6" fill="none"/><path d="M259.60 136.00H265.60" stroke="#6a6a6a" stroke-width="1.4" fill="none"/>
<rect x="257.50" y="137.40" width="10.20" height="6.25" fill="#4f98e6" stroke="#0c1a40" stroke-width="0.8"/>
<path d="M278.60 112.20V107.30" stroke="#7a7a7a" stroke-width="1.6" fill="none"/><path d="M275.60 107.30H281.60" stroke="#6a6a6a" stroke-width="1.4" fill="none"/>
<path d="M278.60 98.20L278.60 104.20M276.00 99.70L281.20 102.70M276.00 102.70L281.20 99.70" stroke="#4a4a4a" stroke-width="1.25" fill="none"/>
<rect x="273.50" y="112.60" width="10.20" height="31.05" fill="url(#b1)" stroke="#0c1a40" stroke-width="0.8"/>
<path d="M294.60 115.00V112.70" stroke="#7a7a7a" stroke-width="1.6" fill="none"/><path d="M291.60 112.70H297.60" stroke="#6a6a6a" stroke-width="1.4" fill="none"/>
<path d="M294.60 103.50L294.60 109.50M292.00 105.00L297.20 108.00M292.00 108.00L297.20 105.00" stroke="#4a4a4a" stroke-width="1.25" fill="none"/>
<rect x="289.50" y="115.40" width="10.20" height="28.25" fill="url(#b2)" stroke="#0c1a40" stroke-width="0.8"/>
<path d="M310.60 119.00V113.30" stroke="#7a7a7a" stroke-width="1.6" fill="none"/><path d="M307.60 113.30H313.60" stroke="#6a6a6a" stroke-width="1.4" fill="none"/>
<path d="M310.60 104.15L310.60 110.15M308.00 105.65L313.20 108.65M308.00 108.65L313.20 105.65" stroke="#4a4a4a" stroke-width="1.25" fill="none"/>
<rect x="305.50" y="119.40" width="10.20" height="24.25" fill="url(#b3)" stroke="#0c1a40" stroke-width="0.8"/>
<path d="M326.60 116.00V110.70" stroke="#7a7a7a" stroke-width="1.6" fill="none"/><path d="M323.60 110.70H329.60" stroke="#6a6a6a" stroke-width="1.4" fill="none"/>
<path d="M326.60 102.45L326.60 108.45M324.00 103.95L329.20 106.95M324.00 106.95L329.20 103.95" stroke="#4a4a4a" stroke-width="1.25" fill="none"/>
<rect x="321.50" y="116.40" width="10.20" height="27.25" fill="url(#b4)" stroke="#0c1a40" stroke-width="0.8"/>
<path d="M352.85 135.80V133.60" stroke="#7a7a7a" stroke-width="1.6" fill="none"/><path d="M349.85 133.60H355.85" stroke="#6a6a6a" stroke-width="1.4" fill="none"/>
<rect x="347.70" y="136.20" width="10.30" height="7.45" fill="#4f98e6" stroke="#0c1a40" stroke-width="0.8"/>
<path d="M368.80 49.40V38.20" stroke="#7a7a7a" stroke-width="1.6" fill="none"/><path d="M365.80 38.20H371.80" stroke="#6a6a6a" stroke-width="1.4" fill="none"/>
<path d="M368.80 30.85L368.80 36.85M366.20 32.35L371.40 35.35M366.20 35.35L371.40 32.35" stroke="#4a4a4a" stroke-width="1.25" fill="none"/>
<rect x="363.65" y="49.80" width="10.30" height="93.85" fill="url(#b1)" stroke="#0c1a40" stroke-width="0.8"/>
<path d="M384.75 86.50V73.40" stroke="#7a7a7a" stroke-width="1.6" fill="none"/><path d="M381.75 73.40H387.75" stroke="#6a6a6a" stroke-width="1.4" fill="none"/>
<path d="M384.75 65.30L384.75 71.30M382.15 66.80L387.35 69.80M382.15 69.80L387.35 66.80" stroke="#4a4a4a" stroke-width="1.25" fill="none"/>
<rect x="379.60" y="86.90" width="10.30" height="56.75" fill="url(#b2)" stroke="#0c1a40" stroke-width="0.8"/>
<path d="M400.70 52.10V35.30" stroke="#7a7a7a" stroke-width="1.6" fill="none"/><path d="M397.70 35.30H403.70" stroke="#6a6a6a" stroke-width="1.4" fill="none"/>
<path d="M400.70 28.65L400.70 34.65M398.10 30.15L403.30 33.15M398.10 33.15L403.30 30.15" stroke="#4a4a4a" stroke-width="1.25" fill="none"/>
<rect x="395.55" y="52.50" width="10.30" height="91.15" fill="url(#b3)" stroke="#0c1a40" stroke-width="0.8"/>
<path d="M416.65 112.00V106.20" stroke="#7a7a7a" stroke-width="1.6" fill="none"/><path d="M413.65 106.20H419.65" stroke="#6a6a6a" stroke-width="1.4" fill="none"/>
<rect x="411.50" y="112.40" width="10.30" height="31.25" fill="url(#b4)" stroke="#0c1a40" stroke-width="0.8"/>
<rect x="439.60" y="136.90" width="10.00" height="6.75" fill="#4f98e6" stroke="#0c1a40" stroke-width="0.8"/>
<path d="M460.80 136.50V134.70" stroke="#7a7a7a" stroke-width="1.6" fill="none"/><path d="M457.80 134.70H463.80" stroke="#6a6a6a" stroke-width="1.4" fill="none"/>
<rect x="455.80" y="136.90" width="10.00" height="6.75" fill="url(#b1)" stroke="#0c1a40" stroke-width="0.8"/>
<path d="M477.00 125.00V122.00" stroke="#7a7a7a" stroke-width="1.6" fill="none"/><path d="M474.00 122.00H480.00" stroke="#6a6a6a" stroke-width="1.4" fill="none"/>
<path d="M477.00 113.45L477.00 119.45M474.40 114.95L479.60 117.95M474.40 117.95L479.60 114.95" stroke="#4a4a4a" stroke-width="1.25" fill="none"/>
<rect x="472.00" y="125.40" width="10.00" height="18.25" fill="url(#b2)" stroke="#0c1a40" stroke-width="0.8"/>
<rect x="488.20" y="142.00" width="10.00" height="1.65" fill="url(#b3)" stroke="#0c1a40" stroke-width="0.8"/>
<path d="M509.40 142.00V137.50" stroke="#7a7a7a" stroke-width="1.6" fill="none"/><path d="M506.40 137.50H512.40" stroke="#6a6a6a" stroke-width="1.4" fill="none"/>
<rect x="504.40" y="142.40" width="10.00" height="1.25" fill="url(#b4)" stroke="#0c1a40" stroke-width="0.8"/>
<rect x="257.00" y="269.10" width="10.20" height="1.80" fill="#b810c0" stroke="#300030" stroke-width="0.8"/>
<path d="M278.10 258.00V256.10" stroke="#7a7a7a" stroke-width="1.6" fill="none"/><path d="M275.10 256.10H281.10" stroke="#6a6a6a" stroke-width="1.4" fill="none"/>
<rect x="273.00" y="258.40" width="10.20" height="12.50" fill="url(#p1)" stroke="#300030" stroke-width="0.8"/>
<path d="M294.10 224.80V220.80" stroke="#7a7a7a" stroke-width="1.6" fill="none"/><path d="M291.10 220.80H297.10" stroke="#6a6a6a" stroke-width="1.4" fill="none"/>
<path d="M294.10 212.35L294.10 218.35M291.50 213.85L296.70 216.85M291.50 216.85L296.70 213.85" stroke="#4a4a4a" stroke-width="1.25" fill="none"/>
<rect x="289.00" y="225.20" width="10.20" height="45.70" fill="url(#p2)" stroke="#300030" stroke-width="0.8"/>
<path d="M310.10 243.00V239.00" stroke="#7a7a7a" stroke-width="1.6" fill="none"/><path d="M307.10 239.00H313.10" stroke="#6a6a6a" stroke-width="1.4" fill="none"/>
<path d="M310.10 231.35L310.10 237.35M307.50 232.85L312.70 235.85M307.50 235.85L312.70 232.85" stroke="#4a4a4a" stroke-width="1.25" fill="none"/>
<rect x="305.00" y="243.40" width="10.20" height="27.50" fill="url(#p3)" stroke="#300030" stroke-width="0.8"/>
<path d="M326.10 249.90V244.80" stroke="#7a7a7a" stroke-width="1.6" fill="none"/><path d="M323.10 244.80H329.10" stroke="#6a6a6a" stroke-width="1.4" fill="none"/>
<path d="M326.10 237.40L326.10 243.40M323.50 238.90L328.70 241.90M323.50 241.90L328.70 238.90" stroke="#4a4a4a" stroke-width="1.25" fill="none"/>
<rect x="321.00" y="250.30" width="10.20" height="20.60" fill="url(#p4)" stroke="#300030" stroke-width="0.8"/>
<rect x="347.20" y="269.00" width="10.30" height="1.90" fill="#b810c0" stroke="#300030" stroke-width="0.8"/>
<path d="M368.30 248.50V246.00" stroke="#7a7a7a" stroke-width="1.6" fill="none"/><path d="M365.30 246.00H371.30" stroke="#6a6a6a" stroke-width="1.4" fill="none"/>
<rect x="363.15" y="248.90" width="10.30" height="22.00" fill="url(#p1)" stroke="#300030" stroke-width="0.8"/>
<path d="M384.25 201.00V185.40" stroke="#7a7a7a" stroke-width="1.6" fill="none"/><path d="M381.25 185.40H387.25" stroke="#6a6a6a" stroke-width="1.4" fill="none"/>
<path d="M384.25 176.35L384.25 182.35M381.65 177.85L386.85 180.85M381.65 180.85L386.85 177.85" stroke="#4a4a4a" stroke-width="1.25" fill="none"/>
<rect x="379.10" y="201.40" width="10.30" height="69.50" fill="url(#p2)" stroke="#300030" stroke-width="0.8"/>
<path d="M400.20 169.80V156.00" stroke="#7a7a7a" stroke-width="1.6" fill="none"/><path d="M397.20 156.00H403.20" stroke="#6a6a6a" stroke-width="1.4" fill="none"/>
<path d="M400.20 149.50L400.20 155.50M397.60 151.00L402.80 154.00M397.60 154.00L402.80 151.00" stroke="#4a4a4a" stroke-width="1.25" fill="none"/>
<rect x="395.05" y="170.20" width="10.30" height="100.70" fill="url(#p3)" stroke="#300030" stroke-width="0.8"/>
<path d="M416.15 236.20V228.00" stroke="#7a7a7a" stroke-width="1.6" fill="none"/><path d="M413.15 228.00H419.15" stroke="#6a6a6a" stroke-width="1.4" fill="none"/>
<rect x="411.00" y="236.60" width="10.30" height="34.30" fill="url(#p4)" stroke="#300030" stroke-width="0.8"/>
<rect x="439.10" y="269.70" width="10.00" height="1.20" fill="#b810c0" stroke="#300030" stroke-width="0.8"/>
<rect x="455.30" y="270.20" width="10.00" height="0.70" fill="url(#p1)" stroke="#300030" stroke-width="0.8"/>
<path d="M476.50 261.70L476.50 267.70M473.90 263.20L479.10 266.20M473.90 266.20L479.10 263.20" stroke="#4a4a4a" stroke-width="1.25" fill="none"/>
<rect x="471.50" y="269.70" width="10.00" height="1.20" fill="url(#p2)" stroke="#300030" stroke-width="0.8"/>
<rect x="487.70" y="270.40" width="10.00" height="0.50" fill="url(#p3)" stroke="#300030" stroke-width="0.8"/>
<rect x="503.90" y="270.40" width="10.00" height="0.50" fill="url(#p4)" stroke="#300030" stroke-width="0.8"/>
<rect x="256.20" y="392.80" width="10.20" height="8.20" fill="#f0a850" stroke="#4a2600" stroke-width="0.8"/>
<path d="M277.30 352.20V343.70" stroke="#7a7a7a" stroke-width="1.6" fill="none"/><path d="M274.30 343.70H280.30" stroke="#6a6a6a" stroke-width="1.4" fill="none"/>
<rect x="272.20" y="352.60" width="10.20" height="48.40" fill="url(#o1)" stroke="#4a2600" stroke-width="0.8"/>
<path d="M293.30 313.40V303.70" stroke="#7a7a7a" stroke-width="1.6" fill="none"/><path d="M290.30 303.70H296.30" stroke="#6a6a6a" stroke-width="1.4" fill="none"/>
<path d="M293.30 295.90L293.30 301.90M290.70 297.40L295.90 300.40M290.70 300.40L295.90 297.40" stroke="#4a4a4a" stroke-width="1.25" fill="none"/>
<rect x="288.20" y="313.80" width="10.20" height="87.20" fill="url(#o2)" stroke="#4a2600" stroke-width="0.8"/>
<path d="M309.30 339.10V325.80" stroke="#7a7a7a" stroke-width="1.6" fill="none"/><path d="M306.30 325.80H312.30" stroke="#6a6a6a" stroke-width="1.4" fill="none"/>
<rect x="304.20" y="339.50" width="10.20" height="61.50" fill="url(#o3)" stroke="#4a2600" stroke-width="0.8"/>
<path d="M325.30 335.50V318.00" stroke="#7a7a7a" stroke-width="1.6" fill="none"/><path d="M322.30 318.00H328.30" stroke="#6a6a6a" stroke-width="1.4" fill="none"/>
<path d="M325.30 311.05L325.30 317.05M322.70 312.55L327.90 315.55M322.70 315.55L327.90 312.55" stroke="#4a4a4a" stroke-width="1.25" fill="none"/>
<rect x="320.20" y="335.90" width="10.20" height="65.10" fill="url(#o4)" stroke="#4a2600" stroke-width="0.8"/>
<rect x="346.40" y="392.40" width="10.30" height="8.60" fill="#f0a850" stroke="#4a2600" stroke-width="0.8"/>
<path d="M367.50 345.50V341.60" stroke="#7a7a7a" stroke-width="1.6" fill="none"/><path d="M364.50 341.60H370.50" stroke="#6a6a6a" stroke-width="1.4" fill="none"/>
<path d="M367.50 333.40L367.50 339.40M364.90 334.90L370.10 337.90M364.90 337.90L370.10 334.90" stroke="#4a4a4a" stroke-width="1.25" fill="none"/>
<rect x="362.35" y="345.90" width="10.30" height="55.10" fill="url(#o1)" stroke="#4a2600" stroke-width="0.8"/>
<path d="M383.45 372.50V366.60" stroke="#7a7a7a" stroke-width="1.6" fill="none"/><path d="M380.45 366.60H386.45" stroke="#6a6a6a" stroke-width="1.4" fill="none"/>
<rect x="378.30" y="372.90" width="10.30" height="28.10" fill="url(#o2)" stroke="#4a2600" stroke-width="0.8"/>
<path d="M399.40 315.00V301.00" stroke="#7a7a7a" stroke-width="1.6" fill="none"/><path d="M396.40 301.00H402.40" stroke="#6a6a6a" stroke-width="1.4" fill="none"/>
<path d="M399.40 292.30L399.40 298.30M396.80 293.80L402.00 296.80M396.80 296.80L402.00 293.80" stroke="#4a4a4a" stroke-width="1.25" fill="none"/>
<rect x="394.25" y="315.40" width="10.30" height="85.60" fill="url(#o3)" stroke="#4a2600" stroke-width="0.8"/>
<path d="M415.35 360.00V352.00" stroke="#7a7a7a" stroke-width="1.6" fill="none"/><path d="M412.35 352.00H418.35" stroke="#6a6a6a" stroke-width="1.4" fill="none"/>
<path d="M415.35 343.80L415.35 349.80M412.75 345.30L417.95 348.30M412.75 348.30L417.95 345.30" stroke="#4a4a4a" stroke-width="1.25" fill="none"/>
<rect x="410.20" y="360.40" width="10.30" height="40.60" fill="url(#o4)" stroke="#4a2600" stroke-width="0.8"/>
<rect x="438.30" y="392.30" width="10.00" height="8.70" fill="#f0a850" stroke="#4a2600" stroke-width="0.8"/>
<path d="M459.50 377.70V375.30" stroke="#7a7a7a" stroke-width="1.6" fill="none"/><path d="M456.50 375.30H462.50" stroke="#6a6a6a" stroke-width="1.4" fill="none"/>
<path d="M459.50 367.65L459.50 373.65M456.90 369.15L462.10 372.15M456.90 372.15L462.10 369.15" stroke="#4a4a4a" stroke-width="1.25" fill="none"/>
<rect x="454.50" y="378.10" width="10.00" height="22.90" fill="url(#o1)" stroke="#4a2600" stroke-width="0.8"/>
<path d="M475.70 386.10V384.00" stroke="#7a7a7a" stroke-width="1.6" fill="none"/><path d="M472.70 384.00H478.70" stroke="#6a6a6a" stroke-width="1.4" fill="none"/>
<path d="M475.70 377.75L475.70 383.75M473.10 379.25L478.30 382.25M473.10 382.25L478.30 379.25" stroke="#4a4a4a" stroke-width="1.25" fill="none"/>
<rect x="470.70" y="386.50" width="10.00" height="14.50" fill="url(#o2)" stroke="#4a2600" stroke-width="0.8"/>
<path d="M491.90 395.20V392.20" stroke="#7a7a7a" stroke-width="1.6" fill="none"/><path d="M488.90 392.20H494.90" stroke="#6a6a6a" stroke-width="1.4" fill="none"/>
<rect x="486.90" y="395.60" width="10.00" height="5.40" fill="url(#o3)" stroke="#4a2600" stroke-width="0.8"/>
<path d="M508.10 396.90V394.80" stroke="#7a7a7a" stroke-width="1.6" fill="none"/><path d="M505.10 394.80H511.10" stroke="#6a6a6a" stroke-width="1.4" fill="none"/>
<rect x="503.10" y="397.30" width="10.00" height="3.70" fill="url(#o4)" stroke="#4a2600" stroke-width="0.8"/>
<text x="6.0" y="24.3" font-family="Liberation Sans" font-weight="bold" font-size="26.5">A</text>
<text x="213.4" y="21.6" font-family="Liberation Sans" font-weight="bold" font-size="25.6">B</text>
<text transform="translate(432.0 20.0) scale(0.93 1)" font-family="Liberation Sans" font-weight="bold" font-size="26">C</text>
<text x="314.4" y="12.3" font-family="Liberation Serif" font-weight="bold" font-size="12.8">KIDNEY</text>
<text x="458.5" y="12.3" font-family="Liberation Serif" font-weight="bold" font-size="13">LIVER</text>
<text x="268.3" y="26.2" font-family="Liberation Serif" font-size="13">Cortex</text>
<text x="362.7" y="26.4" font-family="Liberation Serif" font-size="13">Medulla</text>
<text x="40.2" y="20.4" font-family="Liberation Serif" font-size="11.6">Hours post bilateral I/R</text>
<text x="284.3" y="437.7" font-family="Liberation Serif" font-size="19.65">Hours post bilateral I/R</text>
<g transform="translate(224.4 129.1) rotate(-90)"><text x="0" y="0" font-family="Liberation Serif" font-size="20">Fg</text><text x="24.7" y="2.5" font-family="Liberation Serif" font-style="italic" font-size="27">α</text><text x="40.3" y="0" font-family="Liberation Serif" font-size="20.2">/Gapdh</text></g>
<g transform="translate(224.5 256.2) rotate(-90)"><text x="0" y="0" font-family="Liberation Serif" font-size="20">Fg</text><text x="24.8" y="0" font-family="Liberation Serif" font-style="italic" font-size="21">β</text><text x="40.4" y="0" font-family="Liberation Serif" font-size="20.2">/Gapdh</text></g>
<g transform="translate(224.9 380.9) rotate(-90)"><text x="0" y="0" font-family="Liberation Serif" font-size="20">Fg</text><text x="23.6" y="-1.5" font-family="Liberation Sans" font-style="italic" font-size="22">γ</text><text x="38.6" y="0" font-family="Liberation Serif" font-size="20.2">/Gapdh</text></g>
<text transform="translate(265.30 405.3) rotate(-90)" text-anchor="end" font-family="Liberation Serif" font-size="11.1">0</text>
<text transform="translate(281.30 405.3) rotate(-90)" text-anchor="end" font-family="Liberation Serif" font-size="11.1">6</text>
<text transform="translate(297.30 405.3) rotate(-90)" text-anchor="end" font-family="Liberation Serif" font-size="11.1">24</text>
<text transform="translate(313.30 405.3) rotate(-90)" text-anchor="end" font-family="Liberation Serif" font-size="11.1">72</text>
<text transform="translate(329.30 405.3) rotate(-90)" text-anchor="end" font-family="Liberation Serif" font-size="11.1">120</text>
<text transform="translate(355.55 405.3) rotate(-90)" text-anchor="end" font-family="Liberation Serif" font-size="11.1">0</text>
<text transform="translate(371.50 405.3) rotate(-90)" text-anchor="end" font-family="Liberation Serif" font-size="11.1">6</text>
<text transform="translate(387.45 405.3) rotate(-90)" text-anchor="end" font-family="Liberation Serif" font-size="11.1">24</text>
<text transform="translate(403.40 405.3) rotate(-90)" text-anchor="end" font-family="Liberation Serif" font-size="11.1">72</text>
<text transform="translate(419.35 405.3) rotate(-90)" text-anchor="end" font-family="Liberation Serif" font-size="11.1">120</text>
<text transform="translate(447.30 405.3) rotate(-90)" text-anchor="end" font-family="Liberation Serif" font-size="11.1">0</text>
<text transform="translate(463.50 405.3) rotate(-90)" text-anchor="end" font-family="Liberation Serif" font-size="11.1">6</text>
<text transform="translate(479.70 405.3) rotate(-90)" text-anchor="end" font-family="Liberation Serif" font-size="11.1">24</text>
<text transform="translate(495.90 405.3) rotate(-90)" text-anchor="end" font-family="Liberation Serif" font-size="11.1">72</text>
<text transform="translate(512.10 405.3) rotate(-90)" text-anchor="end" font-family="Liberation Serif" font-size="11.1">120</text>
<text transform="translate(55.30 44) rotate(-90)" font-family="Liberation Serif" font-size="11">0</text>
<text transform="translate(67.60 44) rotate(-90)" font-family="Liberation Serif" font-size="11">6</text>
<text transform="translate(79.90 44) rotate(-90)" font-family="Liberation Serif" font-size="11">24</text>
<text transform="translate(92.20 44) rotate(-90)" font-family="Liberation Serif" font-size="11">120</text>
<text transform="translate(102.50 44) rotate(-90)" font-family="Liberation Serif" font-size="11">0</text>
<text transform="translate(114.80 44) rotate(-90)" font-family="Liberation Serif" font-size="11">6</text>
<text transform="translate(127.10 44) rotate(-90)" font-family="Liberation Serif" font-size="11">24</text>
<text transform="translate(139.40 44) rotate(-90)" font-family="Liberation Serif" font-size="11">120</text>
<text x="50.3" y="435.5" font-family="Liberation Serif" font-weight="bold" font-size="13">Cortex</text>
<text x="96.8" y="435.5" font-family="Liberation Serif" font-weight="bold" font-size="13">Medulla</text>
<path d="M146 118.4H154.5" stroke="#000" stroke-width="1.1"/>
<text x="157.0" y="121.5" font-family="Liberation Sans" font-weight="bold" font-style="italic" font-size="8.5">LCN2</text>
<path d="M146 151.0H154.5" stroke="#000" stroke-width="1.1"/>
<text x="157.0" y="154.1" font-family="Liberation Sans" font-weight="bold" font-style="italic" font-size="8.5">CLU</text>
<path d="M146 179.3H154.5" stroke="#000" stroke-width="1.1"/>
<text x="157.0" y="182.4" font-family="Liberation Sans" font-weight="bold" font-style="italic" font-size="8.5">TIMP1</text>
<path d="M146 194.3H154.5" stroke="#000" stroke-width="1.1"/>
<text x="157.0" y="197.4" font-family="Liberation Sans" font-weight="bold" font-style="italic" font-size="8.5">Kim-1</text>
<text x="167.2" y="208.6" font-family="Liberation Sans" font-weight="bold" font-style="italic" font-size="9.6" fill="#e02a40">Fg <tspan>γ</tspan></text>
<text x="167.2" y="218.8" font-family="Liberation Sans" font-weight="bold" font-style="italic" font-size="9.6" fill="#e02a40">Fg <tspan>β</tspan></text>
<path d="M145.6 211H156M156 205.6V215.4M156 205.6H163M156 215.4H163" stroke="#000" stroke-width="1.5" fill="none"/>
<path d="M160.5 203.4L163.5 205.6L160.5 207.8M160.5 213.2L163.5 215.4L160.5 217.6" stroke="#000" stroke-width="1.4" fill="none"/>
<text x="142.6" y="414.2" font-family="Liberation Sans" font-size="8">-0.05</text>
<text x="209.2" y="414.2" font-family="Liberation Sans" font-size="8">0.05</text>
</svg></body></html>
